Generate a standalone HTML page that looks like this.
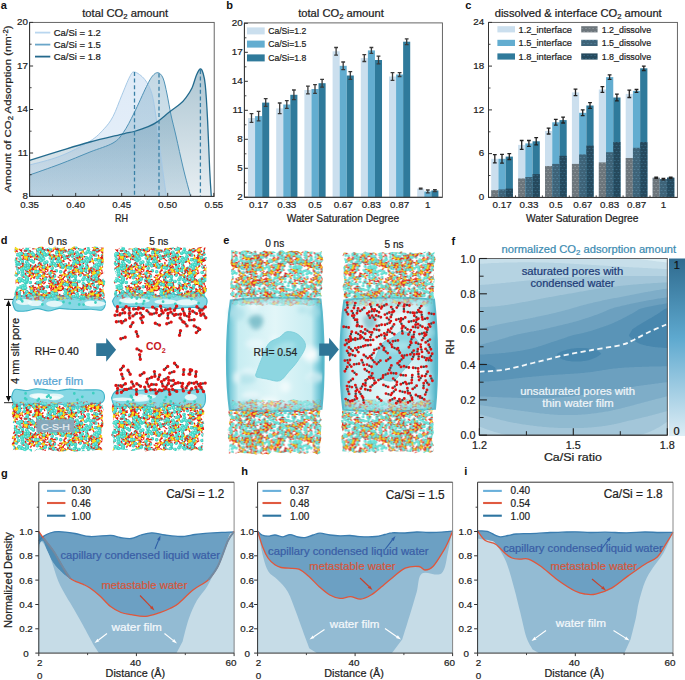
<!DOCTYPE html>
<html><head><meta charset="utf-8"><style>
html,body{margin:0;padding:0;background:#fff;}
svg{display:block;font-family:"Liberation Sans", sans-serif;}
</style></head><body>
<svg width="685" height="680" viewBox="0 0 685 680">
<rect width="685" height="680" fill="#fff"/>
<defs><pattern id="molD" width="96" height="56" patternUnits="userSpaceOnUse"><path d="M22.6 39.3h0M22.4 36.9h0M48.2 22.2h0M49.0 19.9h0M46.5 15.4h0M48.1 30.2h0M45.9 31.0h0M52.0 32.1h0M50.4 33.9h0M54.5 52.0h0M82.2 9.9h0M82.3 12.3h0M9.5 37.4h0M35.8 33.6h0M6.5 40.1h0M65.6 40.9h0M10.7 13.7h0M20.1 34.9h0M33.4 38.0h0M31.4 36.6h0M57.2 25.2h0M57.4 27.6h0M41.2 10.9h0M42.8 9.2h0M88.5 25.8h0M89.5 37.1h0M87.2 37.4h0M69.4 12.9h0M16.4 51.0h0M14.1 50.2h0M17.7 44.9h0M76.3 7.6h0M74.7 9.3h0M85.3 14.0h0M29.4 19.9h0M72.3 20.4h0M90.2 12.4h0M28.1 32.9h0M28.4 35.3h0M16.4 16.3h0M89.7 47.2h0M92.0 48.1h0M88.1 22.5h0M54.3 34.4h0M55.5 32.3h0M12.7 27.0h0M13.0 29.4h0M33.5 23.2h0M71.0 2.0h0M71.0 58.0h0M67.2 52.0h0M87.3 50.9h0M88.8 52.7h0M87.1 5.8h0M87.3 55.5h0M87.3 -0.5h0M65.4 27.0h0M36.7 3.2h0M64.0 3.6h0M61.6 3.4h0M1.5 12.8h0M97.5 12.8h0M3.8 12.3h0M11.0 43.1h0M25.4 26.5h0M27.1 24.9h0M76.5 32.8h0M93.3 4.8h0M38.4 9.0h0M27.8 48.3h0M95.8 31.0h0M-0.2 31.0h0M69.2 48.2h0M10.2 54.8h0M10.2 -1.2h0M12.6 54.3h0M12.6 -1.7h0M71.3 42.3h0M74.0 35.7h0M76.3 36.4h0M22.2 51.1h0M37.3 13.0h0M35.0 12.3h0M78.7 10.5h0M32.0 43.0h0M29.9 41.8h0M83.0 19.9h0M52.3 3.8h0M54.6 3.0h0M62.5 17.9h0M73.1 11.7h0M56.3 46.7h0M79.5 34.8h0M80.2 32.5h0M57.2 9.6h0M95.0 9.3h0M-1.0 9.3h0M97.1 8.0h0M1.1 8.0h0M36.0 20.5h0M4.3 21.7h0M13.4 18.5h0M40.2 18.5h0M2.8 0.1h0M2.8 56.1h0M69.9 7.0h0M69.0 9.2h0M77.7 16.1h0M77.0 13.9h0M70.5 24.3h0M72.5 23.0h0M96.0 24.0h0M-0.0 24.0h0M94.7 21.9h0M-1.3 21.9h0M11.8 30.3h0M31.9 6.7h0M31.2 9.0h0M58.4 17.6h0M73.8 16.5h0M71.5 17.3h0M31.9 50.1h0M75.5 55.8h0M75.5 -0.2h0M35.9 42.5h0M19.4 40.2h0M87.4 17.2h0M65.3 21.8h0M2.2 17.9h0M98.2 17.9h0M31.1 46.7h0M31.5 49.1h0M43.4 7.8h0M41.1 8.5h0M57.5 2.1h0M57.5 58.1h0M56.8 4.3h0M7.5 27.9h0M95.2 14.9h0M-0.8 14.9h0M43.1 0.3h0M43.1 56.3h0M68.3 32.5h0M50.5 53.0h0M62.6 43.4h0M13.6 21.8h0M11.6 9.5h0M75.9 23.4h0M75.1 21.2h0M37.3 53.8h0M37.3 -2.2h0M38.4 51.7h0M42.5 16.2h0M1.7 25.9h0M97.7 25.9h0M-0.7 25.6h0M95.3 25.6h0M80.2 51.1h0M6.5 31.5h0M77.0 45.5h0M74.9 44.3h0M60.5 25.8h0M62.9 25.7h0M16.1 41.6h0M83.3 3.7h0M85.1 5.3h0M29.3 27.5h0M27.3 55.9h0M27.3 -0.1h0M26.6 58.2h0M26.6 2.2h0M90.0 8.1h0M87.7 7.5h0M92.0 44.4h0M24.4 15.8h0M25.0 13.5h0M73.7 48.5h0M73.6 50.9h0M16.2 24.7h0M46.5 25.5h0M64.8 9.5h0M5.9 35.3h0M7.1 14.9h0M7.9 12.6h0M91.2 55.4h0M91.2 -0.6h0M68.8 55.1h0M68.8 -0.9h0M91.4 18.6h0M94.5 48.9h0M-1.5 48.9h0M96.7 48.0h0M0.7 48.0h0M10.2 17.1h0M11.5 19.1h0M39.3 40.1h0M68.2 9.7h0M70.4 10.7h0M44.0 50.0h0M8.0 7.1h0M9.0 4.9h0M49.7 0.4h0M49.7 56.4h0M86.5 40.0h0M95.9 0.9h0M95.9 56.9h0M-0.1 0.9h0M-0.1 56.9h0M93.5 1.4h0M93.5 57.4h0M36.9 17.1h0M34.7 16.0h0M83.9 6.8h0" stroke="#33bfb1" stroke-width="3.6" fill="none" stroke-linecap="round"/><path d="M22.6 39.3h0M22.4 36.9h0M48.2 22.2h0M49.0 19.9h0M46.5 15.4h0M48.1 30.2h0M45.9 31.0h0M52.0 32.1h0M50.4 33.9h0M54.5 52.0h0M82.2 9.9h0M82.3 12.3h0M9.5 37.4h0M35.8 33.6h0M6.5 40.1h0M65.6 40.9h0M10.7 13.7h0M20.1 34.9h0M33.4 38.0h0M31.4 36.6h0M57.2 25.2h0M57.4 27.6h0M41.2 10.9h0M42.8 9.2h0M88.5 25.8h0M89.5 37.1h0M87.2 37.4h0M69.4 12.9h0M16.4 51.0h0M14.1 50.2h0M17.7 44.9h0M76.3 7.6h0M74.7 9.3h0M85.3 14.0h0M29.4 19.9h0M72.3 20.4h0M90.2 12.4h0M28.1 32.9h0M28.4 35.3h0M16.4 16.3h0M89.7 47.2h0M92.0 48.1h0M88.1 22.5h0M54.3 34.4h0M55.5 32.3h0M12.7 27.0h0M13.0 29.4h0M33.5 23.2h0M71.0 2.0h0M71.0 58.0h0M67.2 52.0h0M87.3 50.9h0M88.8 52.7h0M87.1 5.8h0M87.3 55.5h0M87.3 -0.5h0M65.4 27.0h0M36.7 3.2h0M64.0 3.6h0M61.6 3.4h0M1.5 12.8h0M97.5 12.8h0M3.8 12.3h0M11.0 43.1h0M25.4 26.5h0M27.1 24.9h0M76.5 32.8h0M93.3 4.8h0M38.4 9.0h0M27.8 48.3h0M95.8 31.0h0M-0.2 31.0h0M69.2 48.2h0M10.2 54.8h0M10.2 -1.2h0M12.6 54.3h0M12.6 -1.7h0M71.3 42.3h0M74.0 35.7h0M76.3 36.4h0M22.2 51.1h0M37.3 13.0h0M35.0 12.3h0M78.7 10.5h0M32.0 43.0h0M29.9 41.8h0M83.0 19.9h0M52.3 3.8h0M54.6 3.0h0M62.5 17.9h0M73.1 11.7h0M56.3 46.7h0M79.5 34.8h0M80.2 32.5h0M57.2 9.6h0M95.0 9.3h0M-1.0 9.3h0M97.1 8.0h0M1.1 8.0h0M36.0 20.5h0M4.3 21.7h0M13.4 18.5h0M40.2 18.5h0M2.8 0.1h0M2.8 56.1h0M69.9 7.0h0M69.0 9.2h0M77.7 16.1h0M77.0 13.9h0M70.5 24.3h0M72.5 23.0h0M96.0 24.0h0M-0.0 24.0h0M94.7 21.9h0M-1.3 21.9h0M11.8 30.3h0M31.9 6.7h0M31.2 9.0h0M58.4 17.6h0M73.8 16.5h0M71.5 17.3h0M31.9 50.1h0M75.5 55.8h0M75.5 -0.2h0M35.9 42.5h0M19.4 40.2h0M87.4 17.2h0M65.3 21.8h0M2.2 17.9h0M98.2 17.9h0M31.1 46.7h0M31.5 49.1h0M43.4 7.8h0M41.1 8.5h0M57.5 2.1h0M57.5 58.1h0M56.8 4.3h0M7.5 27.9h0M95.2 14.9h0M-0.8 14.9h0M43.1 0.3h0M43.1 56.3h0M68.3 32.5h0M50.5 53.0h0M62.6 43.4h0M13.6 21.8h0M11.6 9.5h0M75.9 23.4h0M75.1 21.2h0M37.3 53.8h0M37.3 -2.2h0M38.4 51.7h0M42.5 16.2h0M1.7 25.9h0M97.7 25.9h0M-0.7 25.6h0M95.3 25.6h0M80.2 51.1h0M6.5 31.5h0M77.0 45.5h0M74.9 44.3h0M60.5 25.8h0M62.9 25.7h0M16.1 41.6h0M83.3 3.7h0M85.1 5.3h0M29.3 27.5h0M27.3 55.9h0M27.3 -0.1h0M26.6 58.2h0M26.6 2.2h0M90.0 8.1h0M87.7 7.5h0M92.0 44.4h0M24.4 15.8h0M25.0 13.5h0M73.7 48.5h0M73.6 50.9h0M16.2 24.7h0M46.5 25.5h0M64.8 9.5h0M5.9 35.3h0M7.1 14.9h0M7.9 12.6h0M91.2 55.4h0M91.2 -0.6h0M68.8 55.1h0M68.8 -0.9h0M91.4 18.6h0M94.5 48.9h0M-1.5 48.9h0M96.7 48.0h0M0.7 48.0h0M10.2 17.1h0M11.5 19.1h0M39.3 40.1h0M68.2 9.7h0M70.4 10.7h0M44.0 50.0h0M8.0 7.1h0M9.0 4.9h0M49.7 0.4h0M49.7 56.4h0M86.5 40.0h0M95.9 0.9h0M95.9 56.9h0M-0.1 0.9h0M-0.1 56.9h0M93.5 1.4h0M93.5 57.4h0M36.9 17.1h0M34.7 16.0h0M83.9 6.8h0" stroke="#48ddcc" stroke-width="2.8000000000000003" fill="none" stroke-linecap="round"/><path d="M22.1 38.8h0M21.9 36.4h0M47.7 21.7h0M48.5 19.4h0M46.0 14.9h0M47.6 29.7h0M45.4 30.5h0M51.5 31.6h0M49.9 33.4h0M54.0 51.5h0M81.7 9.4h0M81.8 11.8h0M9.0 36.9h0M35.3 33.1h0M6.0 39.6h0M65.1 40.4h0M10.2 13.2h0M19.6 34.4h0M32.9 37.5h0M30.9 36.1h0M56.7 24.7h0M56.9 27.1h0M40.7 10.4h0M42.3 8.7h0M88.0 25.3h0M89.0 36.6h0M86.7 36.9h0M68.9 12.4h0M15.9 50.5h0M13.6 49.7h0M17.2 44.4h0M75.8 7.1h0M74.2 8.8h0M84.8 13.5h0M28.9 19.4h0M71.8 19.9h0M89.7 11.9h0M27.6 32.4h0M27.9 34.8h0M15.9 15.8h0M89.2 46.7h0M91.5 47.6h0M87.6 22.0h0M53.8 33.9h0M55.0 31.8h0M12.2 26.5h0M12.5 28.9h0M33.0 22.7h0M70.5 1.5h0M70.5 57.5h0M66.7 51.5h0M86.8 50.4h0M88.3 52.2h0M86.6 5.3h0M86.8 55.0h0M86.8 -1.0h0M64.9 26.5h0M36.2 2.7h0M63.5 3.1h0M61.1 2.9h0M1.0 12.3h0M97.0 12.3h0M3.3 11.8h0M10.5 42.6h0M24.9 26.0h0M26.6 24.4h0M76.0 32.3h0M92.8 4.3h0M37.9 8.5h0M27.3 47.8h0M95.3 30.5h0M-0.7 30.5h0M68.7 47.7h0M9.7 54.3h0M9.7 -1.7h0M12.1 53.8h0M12.1 -2.2h0M70.8 41.8h0M73.5 35.2h0M75.8 35.9h0M21.7 50.6h0M36.8 12.5h0M34.5 11.8h0M78.2 10.0h0M31.5 42.5h0M29.4 41.3h0M82.5 19.4h0M51.8 3.3h0M54.1 2.5h0M62.0 17.4h0M72.6 11.2h0M55.8 46.2h0M79.0 34.3h0M79.7 32.0h0M56.7 9.1h0M94.5 8.8h0M-1.5 8.8h0M96.6 7.5h0M0.6 7.5h0M35.5 20.0h0M3.8 21.2h0M12.9 18.0h0M39.7 18.0h0M2.3 -0.4h0M2.3 55.6h0M69.4 6.5h0M68.5 8.7h0M77.2 15.6h0M76.5 13.4h0M70.0 23.8h0M72.0 22.5h0M95.5 23.5h0M-0.5 23.5h0M94.2 21.4h0M-1.8 21.4h0M11.3 29.8h0M31.4 6.2h0M30.7 8.5h0M57.9 17.1h0M73.3 16.0h0M71.0 16.8h0M31.4 49.6h0M75.0 55.3h0M75.0 -0.7h0M35.4 42.0h0M18.9 39.7h0M86.9 16.7h0M64.8 21.3h0M1.7 17.4h0M97.7 17.4h0M30.6 46.2h0M31.0 48.6h0M42.9 7.3h0M40.6 8.0h0M57.0 1.6h0M57.0 57.6h0M56.3 3.8h0M7.0 27.4h0M94.7 14.4h0M-1.3 14.4h0M42.6 -0.2h0M42.6 55.8h0M67.8 32.0h0M50.0 52.5h0M62.1 42.9h0M13.1 21.3h0M11.1 9.0h0M75.4 22.9h0M74.6 20.7h0M36.8 53.3h0M36.8 -2.7h0M37.9 51.2h0M42.0 15.7h0M1.2 25.4h0M97.2 25.4h0M-1.2 25.1h0M94.8 25.1h0M79.7 50.6h0M6.0 31.0h0M76.5 45.0h0M74.4 43.8h0M60.0 25.3h0M62.4 25.2h0M15.6 41.1h0M82.8 3.2h0M84.6 4.8h0M28.8 27.0h0M26.8 55.4h0M26.8 -0.6h0M26.1 57.7h0M26.1 1.7h0M89.5 7.6h0M87.2 7.0h0M91.5 43.9h0M23.9 15.3h0M24.5 13.0h0M73.2 48.0h0M73.1 50.4h0M15.7 24.2h0M46.0 25.0h0M64.3 9.0h0M5.4 34.8h0M6.6 14.4h0M7.4 12.1h0M90.7 54.9h0M90.7 -1.1h0M68.3 54.6h0M68.3 -1.4h0M90.9 18.1h0M94.0 48.4h0M-2.0 48.4h0M96.2 47.5h0M0.2 47.5h0M9.7 16.6h0M11.0 18.6h0M38.8 39.6h0M67.7 9.2h0M69.9 10.2h0M43.5 49.5h0M7.5 6.6h0M8.5 4.4h0M49.2 -0.1h0M49.2 55.9h0M86.0 39.5h0M95.4 0.4h0M95.4 56.4h0M-0.6 0.4h0M-0.6 56.4h0M93.0 0.9h0M93.0 56.9h0M36.4 16.6h0M34.2 15.5h0M83.4 6.3h0" stroke="#9ff0e8" stroke-width="1.1" fill="none" stroke-linecap="round"/><path d="M56.9 10.3l1.9 -1.1M56.5 11.7l1.2 1.4M54.8 11.7l-1.7 1.3M54.9 9.9l-1.6 -1.8M5.8 11.1l-1.7 0.6M7.2 9.9l0.7 -1.7M7.4 11.7l1.2 1.6M6.7 27.2l1.3 1.8M4.8 26.5l-2.3 0.5M6.1 25.1l0.2 -1.9M39.6 22.9l-1.8 0.4M39.7 21.8l-1.7 -1.5M41.5 22.0l1.6 -1.1M41.4 23.6l1.5 1.7M95.8 24.3l2.2 0.3M-0.2 24.3l2.2 0.3M94.0 25.1l-1.1 1.6M-2.0 25.1l-1.1 1.6M93.6 23.6l-1.7 -1.0M-2.4 23.6l-1.7 -1.0M95.1 23.0l0.9 -2.1M-0.9 23.0l0.9 -2.1M28.7 48.1l-2.1 -1.1M29.7 47.5l-0.3 -2.1M31.1 49.0l2.2 0.5M29.7 50.0l-0.3 2.3M65.4 33.3l1.0 -1.5M66.1 34.3l2.3 0.3M64.2 35.3l-1.2 2.0M63.6 33.7l-2.2 -0.7M13.1 54.7l-0.4 2.0M13.1 -1.3l-0.4 2.0M12.6 52.9l-1.5 -1.2M12.6 -3.1l-1.5 -1.2M13.6 52.6l0.4 -1.8M13.6 -3.4l0.4 -1.8M14.1 54.3l1.2 1.3M14.1 -1.7l1.2 1.3M88.8 14.6l-2.0 1.0M90.4 13.0l0.8 -1.7M91.2 14.5l2.2 0.9M17.6 -0.2l1.2 -1.7M17.6 55.8l1.2 -1.7M17.5 1.6l1.1 1.5M17.5 57.6l1.1 1.5M16.3 1.9l-1.0 1.9M16.3 57.9l-1.0 1.9M16.0 0.0l-1.6 -1.3M16.0 56.0l-1.6 -1.3M31.6 53.4l-0.9 1.7M31.6 -2.6l-0.9 1.7M31.1 51.7l-1.7 -1.5M31.1 -4.3l-1.7 -1.5M32.7 51.6l1.0 -1.5M32.7 -4.4l1.0 -1.5M32.8 53.1l1.3 1.2M32.8 -2.9l1.3 1.2M11.9 2.6l0.4 2.3M11.9 58.6l0.4 2.3M10.5 1.7l-2.1 0.6M10.5 57.7l-2.1 0.6M11.1 0.4l-1.0 -1.7M11.1 56.4l-1.0 -1.7M12.7 1.1l1.8 -0.5M12.7 57.1l1.8 -0.5M28.8 15.6l-0.2 2.2M27.9 14.9l-1.9 1.0M28.4 13.1l-1.0 -2.1M29.8 14.0l1.6 -0.6M53.2 10.1l0.3 -2.4M53.6 12.3l0.9 1.4M52.0 11.9l-1.8 0.9M25.1 34.3l-2.1 -0.4M26.4 33.2l0.2 -2.3M26.8 35.4l0.9 1.5M7.6 35.7l-1.2 1.3M7.4 34.2l-1.5 -1.3M8.6 34.0l0.7 -1.7M9.5 35.4l2.2 0.7M8.2 12.2l-1.8 -1.5M10.5 13.2l2.2 0.3M9.1 14.0l-0.3 1.7M95.2 49.0l1.0 -2.1M-0.8 49.0l1.0 -2.1M95.8 50.1l2.1 -0.1M-0.2 50.1l2.1 -0.1M94.8 51.5l0.3 2.3M-1.2 51.5l0.3 2.3M93.7 49.9l-1.7 -0.5M-2.3 49.9l-1.7 -0.5M64.5 51.2l2.0 0.7M62.0 51.1l-2.4 0.4M63.7 49.5l0.6 -2.4M39.3 8.2l1.1 1.3M37.8 8.1l-1.5 1.1M38.6 6.2l-0.1 -2.3M63.4 20.2l0.7 -1.8M64.0 20.9l1.8 -0.6M62.6 22.3l-0.7 1.9M62.0 21.4l-1.7 0.4M16.9 24.0l1.9 -1.1M16.3 25.7l1.0 2.0M14.6 24.5l-2.1 -0.2M2.9 51.2l-0.6 2.1M98.9 51.2l-0.6 2.1M2.5 49.0l-1.3 -1.7M98.5 49.0l-1.3 -1.7M4.5 49.6l2.3 -0.6M100.5 49.6l2.3 -0.6M44.3 51.1l0.6 -2.1M44.3 -4.9l0.6 -2.1M45.1 52.6l2.1 0.6M45.1 -3.4l2.1 0.6M43.3 53.4l-1.2 2.0M43.3 -2.6l-1.2 2.0M42.7 51.9l-2.3 -0.6M42.7 -4.1l-2.3 -0.6M3.4 3.9l-1.4 1.4M3.4 59.9l-1.4 1.4M3.5 2.1l-1.2 -1.9M3.5 58.1l-1.2 -1.9M5.4 3.4l2.1 0.5M5.4 59.4l2.1 0.5M72.8 24.6l2.2 -0.0M71.9 25.6l0.7 1.8M70.4 24.5l-2.1 -0.0M71.3 23.2l-0.5 -2.3M41.6 48.1l2.2 0.1M39.4 48.7l-1.8 1.0M40.1 47.0l-0.4 -1.9M28.1 21.5l0.7 1.9M26.8 20.8l-1.6 0.7M27.9 19.5l0.3 -1.7M29.0 20.4l2.3 -0.0M44.5 46.4l1.7 1.5M42.3 45.9l-2.2 0.6M43.1 44.5l-0.7 -1.9M44.8 45.4l2.2 -0.4M72.4 51.5l-1.5 0.9M72.6 49.9l-1.2 -2.0M74.2 51.0l1.8 -0.0M70.4 29.2l1.9 -0.8M69.8 30.4l0.9 1.4M68.7 30.7l-1.0 1.8M68.8 28.8l-0.8 -1.5M14.9 28.9l1.3 1.6M13.3 28.4l-1.6 0.7M13.5 26.9l-1.2 -2.0M15.1 27.6l1.7 -0.6M1.4 56.0l1.7 1.6M1.4 0.0l1.7 1.6M97.4 56.0l1.7 1.6M97.4 0.0l1.7 1.6M-0.7 55.6l-2.1 0.8M-0.7 -0.4l-2.1 0.8M95.3 55.6l-2.1 0.8M95.3 -0.4l-2.1 0.8M1.2 54.4l1.3 -1.3M1.2 -1.6l1.3 -1.3M97.2 54.4l1.3 -1.3M97.2 -1.6l1.3 -1.3M81.8 18.8l-1.8 1.5M81.9 17.5l-1.7 -0.8M83.3 16.7l0.9 -2.2M83.8 18.5l1.7 1.0M75.3 36.2l-1.0 -1.4M77.2 37.3l2.3 0.6M75.0 37.4l-1.7 0.8M44.0 52.4l2.1 1.0M41.7 51.8l-2.0 0.0M43.3 50.9l0.9 -1.7M58.2 28.4l-2.1 0.5M58.7 27.0l-1.1 -1.9M60.2 27.1l1.6 -1.7M59.7 29.3l0.7 2.2M74.0 10.0l-1.9 0.6M75.2 8.4l0.1 -2.2M76.1 10.3l1.7 1.2M67.7 14.1l1.1 2.0M66.2 13.3l-1.7 0.7M66.9 11.9l-0.4 -1.9M68.1 12.4l1.7 -1.1M67.1 3.1l-0.4 1.7M67.1 59.1l-0.4 1.7M66.4 1.7l-1.7 -0.9M66.4 57.7l-1.7 -0.9M67.6 1.2l0.5 -1.7M67.6 57.2l0.5 -1.7M68.0 3.0l1.3 1.5M68.0 59.0l1.3 1.5M21.9 43.4l0.8 -2.3M21.9 45.7l0.8 1.7M20.3 44.4l-2.0 -0.6M84.3 7.0l-1.0 -1.9M85.8 7.3l1.6 -1.4M85.8 8.7l1.6 1.1M84.4 9.2l-0.9 2.0M50.7 49.5l1.8 -0.8M49.5 51.0l-0.4 1.8M48.7 50.1l-1.8 0.3M50.2 48.7l0.8 -2.2M7.1 30.9l-1.3 1.3M7.1 29.5l-1.2 -1.1M8.9 30.4l1.9 0.4M44.6 41.3l0.8 -2.1M45.2 42.8l1.9 0.6M43.6 43.4l-0.9 1.6M43.0 41.9l-2.0 -1.1M7.5 12.0l0.7 1.6M6.0 10.4l-2.0 -1.3M7.9 10.5l1.5 -1.0M37.6 51.3l1.8 0.4M35.7 51.9l-1.5 1.6M35.8 50.3l-1.2 -1.2M36.8 49.9l0.5 -2.1M72.0 47.1l1.2 -1.4M71.5 49.2l0.3 2.2M70.4 48.2l-1.6 0.6M16.5 35.9l0.4 -2.1M17.4 37.4l2.0 0.5M15.6 37.8l-1.2 1.3M15.0 36.7l-2.2 -0.6M51.4 17.8l1.6 -1.3M51.5 19.2l1.7 1.2M49.8 19.5l-1.4 1.7M49.8 17.5l-1.2 -1.8M23.8 30.5l-1.1 -1.9M25.3 31.1l1.6 -0.9M25.0 32.6l1.0 1.8M23.2 31.6l-2.2 0.1M68.2 8.1l-0.9 1.5M68.1 6.2l-0.9 -1.9M69.8 7.4l2.0 0.2M54.3 5.6l1.4 -1.2M54.4 6.8l1.5 0.8M52.5 7.2l-1.8 1.5M52.9 5.3l-1.2 -1.8M76.2 46.5l-1.0 -1.5M77.9 47.8l2.1 0.8M75.6 48.0l-2.0 1.2M79.8 34.3l-0.0 -2.2M80.7 36.0l1.6 0.8M79.6 36.5l-0.5 1.8M78.8 34.8l-1.9 -1.2M32.2 7.5l1.0 -2.0M32.8 8.8l2.1 0.4M31.4 9.7l-0.3 2.0M30.8 7.9l-1.4 -1.3M3.6 36.4l0.2 1.8M99.6 36.4l0.2 1.8M2.4 35.2l-2.1 -0.3M98.4 35.2l-2.1 -0.3M4.2 34.6l1.2 -1.3M100.2 34.6l1.2 -1.3M44.3 16.8l0.4 1.9M43.0 15.6l-1.9 -0.2M43.7 14.6l-0.7 -1.9M45.1 15.6l1.7 -0.2M71.3 29.7l-2.1 0.5M72.9 28.4l0.7 -1.8M73.6 29.2l2.0 -0.4M73.0 30.7l0.9 2.1M34.6 11.0l-1.0 -2.1M36.0 11.7l1.5 -0.8M35.7 13.3l0.9 2.0M33.9 12.5l-2.2 0.5M66.7 43.8l1.9 0.2M65.5 44.9l-0.3 2.1M64.8 43.1l-1.5 -1.0M66.0 42.8l0.7 -1.7M2.3 13.9l1.2 -1.7M98.3 13.9l1.2 -1.7M2.9 14.8l2.3 0.0M98.9 14.8l2.3 0.0M1.0 15.8l-1.1 1.7M97.0 15.8l-1.1 1.7M0.3 14.9l-2.3 0.0M96.3 14.9l-2.3 0.0M51.4 54.3l-1.6 -1.4M51.4 -1.7l-1.6 -1.4M52.7 53.8l0.6 -2.3M52.7 -2.2l0.6 -2.3M53.7 55.3l2.4 0.3M53.7 -0.7l2.4 0.3M51.8 56.0l-0.9 1.6M51.8 0.0l-0.9 1.6M93.7 48.4l-1.7 -0.1M-2.3 48.4l-1.7 -0.1M94.4 47.5l-0.5 -1.8M-1.6 47.5l-0.5 -1.8M95.9 48.6l2.2 0.2M-0.1 48.6l2.2 0.2M94.8 49.6l0.3 2.0M-1.2 49.6l0.3 2.0M18.1 17.5l1.6 -0.7M18.1 18.9l1.6 1.6M16.0 18.6l-2.1 1.1M16.9 16.8l-0.5 -2.0M39.8 43.6l-0.6 1.6M39.2 42.7l-1.7 0.0M40.5 41.5l0.5 -2.1M41.2 43.4l1.8 1.3M92.1 15.4l-0.7 2.0M-3.9 15.4l-0.7 2.0M91.8 13.4l-1.3 -1.5M-4.2 13.4l-1.3 -1.5M92.6 13.2l0.2 -1.9M-3.4 13.2l0.2 -1.9M93.6 14.9l1.9 1.0M-2.4 14.9l1.9 1.0M13.8 15.3l-1.7 -1.2M15.9 15.2l2.1 -1.3M14.5 17.2l-0.4 2.2M51.9 4.8l1.6 0.7M50.3 5.2l-1.3 1.4M50.2 4.0l-1.5 -0.8M51.8 3.9l1.4 -1.0M61.3 53.0l1.3 -1.9M61.3 -3.0l1.3 -1.9M61.6 54.6l1.7 0.9M61.6 -1.4l1.7 0.9M60.0 55.1l-1.0 1.8M60.0 -0.9l-1.0 1.8M59.7 53.7l-1.6 -0.7M59.7 -2.3l-1.6 -0.7M59.8 3.8l-2.3 -0.0M59.8 59.8l-2.3 -0.0M61.1 2.8l-0.1 -1.7M61.1 58.8l-0.1 -1.7M62.3 3.4l2.0 -0.8M62.3 59.4l2.0 -0.8M61.6 4.7l0.8 1.6M61.6 60.7l0.8 1.6M94.1 27.3l1.4 -1.4M-1.9 27.3l1.4 -1.4M93.9 28.8l1.1 1.3M-2.1 28.8l1.1 1.3M92.2 28.3l-2.0 0.4M-3.8 28.3l-2.0 0.4M59.2 7.4l1.4 -1.8M59.1 9.2l1.2 1.3M57.3 9.1l-2.0 1.3M57.5 7.7l-1.7 -1.3M50.5 27.8l1.7 -0.5M49.7 29.3l0.3 2.1M48.8 27.5l-1.3 -1.1M34.4 45.1l-1.7 0.7M34.8 43.8l-0.9 -1.6M36.3 43.8l1.8 -1.6M36.1 45.8l1.3 2.0M89.8 44.4l2.1 -0.4M88.9 45.9l0.5 2.2M87.5 44.5l-2.0 -0.2M88.3 43.4l-0.6 -2.2M81.8 37.8l1.8 1.6M79.7 36.8l-1.9 -0.1M81.5 36.2l1.3 -1.1M34.7 33.8l0.0 2.0M33.4 32.7l-2.4 0.1M35.3 31.7l1.1 -1.7M1.9 14.7l0.5 -2.0M97.9 14.7l0.5 -2.0M2.8 15.9l2.0 0.1M98.8 15.9l2.0 0.1M2.0 17.1l0.6 2.2M98.0 17.1l0.6 2.2M0.4 15.4l-2.2 -0.8M96.4 15.4l-2.2 -0.8M72.0 6.7l0.7 2.1M70.8 6.0l-1.4 1.0M71.2 4.6l-0.7 -1.6M72.7 4.8l1.9 -1.2M76.0 45.1l-1.5 -1.6M78.1 45.8l2.2 -0.4M76.5 47.1l-0.7 1.8M65.0 22.3l2.2 0.2M63.6 23.5l-0.2 2.3M62.6 21.8l-2.1 -0.7M63.9 21.0l0.2 -2.1M69.7 42.0l1.3 1.1M67.8 41.8l-2.1 0.8M68.9 40.3l-0.0 -1.8M40.8 -0.3l-0.9 -1.6M40.8 55.7l-0.9 -1.6M42.1 -0.4l1.5 -1.9M42.1 55.6l1.5 -1.9M41.6 1.6l0.6 1.6M41.6 57.6l0.6 1.6M40.3 1.4l-1.8 1.3M40.3 57.4l-1.8 1.3M58.7 22.8l0.2 1.8M57.4 21.6l-2.0 -0.2M58.7 20.5l0.2 -2.2M59.8 21.4l2.1 -0.5M20.4 21.6l-2.0 -0.3M22.2 20.9l1.2 -1.5M22.1 22.7l0.9 1.6M59.1 42.1l-2.0 0.2M60.8 40.8l1.0 -2.2M61.3 42.3l1.8 0.5M50.7 13.2l-1.6 1.0M51.4 11.5l-0.4 -2.1M52.9 12.9l2.2 0.4M60.4 30.1l0.5 -1.6M61.2 31.3l1.8 0.5M59.5 32.1l-1.1 1.8M59.4 30.4l-1.3 -1.2M29.6 30.1l-2.0 -0.4M31.3 29.6l1.1 -1.4M31.8 30.4l2.1 0.1M30.7 31.5l0.0 1.9M24.3 44.1l0.7 1.6M22.7 43.1l-2.1 -0.1M24.3 42.2l0.7 -1.7M8.7 3.7l-0.5 2.2M8.7 59.7l-0.5 2.2M8.0 2.3l-1.9 -0.4M8.0 58.3l-1.9 -0.4M9.2 1.2l0.3 -2.3M9.2 57.2l0.3 -2.3M10.2 2.8l2.1 0.6M10.2 58.8l2.1 0.6M7.2 2.4l1.7 -1.0M7.2 58.4l1.7 -1.0M6.7 4.2l0.7 2.2M6.7 60.2l0.7 2.2M5.3 3.3l-1.8 0.7M5.3 59.3l-1.8 0.7M5.7 1.8l-1.1 -2.1M5.7 57.8l-1.1 -2.1M27.6 32.8l1.6 -0.8M27.0 34.2l0.5 1.7M26.0 34.0l-1.1 1.3M26.0 32.1l-1.1 -2.0M48.8 43.2l1.8 -0.8M47.8 44.9l-0.1 2.2M46.6 44.1l-2.2 0.8M47.7 42.4l-0.2 -2.3M92.9 12.7l-0.8 -1.8M-3.1 12.7l-0.8 -1.8M94.1 12.6l1.4 -1.8M-1.9 12.6l1.4 -1.8M93.6 14.7l0.5 1.9M-2.4 14.7l0.5 1.9M92.5 14.2l-1.4 1.0M-3.5 14.2l-1.4 1.0M90.1 5.2l0.9 1.7M88.4 4.5l-2.2 0.3M89.1 3.5l-1.0 -1.4M90.8 4.0l2.2 -0.6M15.6 11.3l1.8 1.1M13.5 11.2l-2.1 0.9M14.2 9.8l-0.7 -1.5M41.8 28.4l-1.6 -1.3M43.4 28.3l1.2 -1.5M42.9 30.2l0.4 1.9M41.8 30.1l-1.6 1.8M68.8 21.5l-1.3 -1.3M70.4 21.9l1.7 -0.6M69.2 23.6l-0.4 2.4M84.7 14.8l1.5 -1.3M84.9 16.3l1.8 1.3M82.9 15.3l-1.7 -0.3M7.0 22.0l0.8 2.3M5.5 21.2l-1.8 0.8M6.0 19.8l-1.0 -1.6M7.7 20.4l2.1 -0.6M52.1 47.7l0.1 -1.7M53.1 49.2l2.0 1.1M51.1 49.1l-1.5 0.9M24.1 40.5l-1.9 -1.2M26.1 40.5l1.6 -1.2M26.1 42.2l1.6 1.7M24.0 41.9l-2.1 1.2M10.0 22.4l-1.7 1.2M10.8 20.6l-0.4 -2.1M12.3 22.0l2.4 0.4M72.8 21.7l-1.1 -1.5M74.5 21.8l2.0 -1.4M74.1 23.5l1.2 1.7M72.3 22.8l-2.0 0.5M72.8 12.0l1.5 1.6M71.7 12.3l-0.5 2.2M71.1 10.8l-1.6 -0.6M72.9 10.2l1.7 -1.7M35.6 16.8l1.5 1.0M34.8 17.4l0.1 2.1M33.8 15.7l-1.7 -1.0M34.7 15.0l-0.1 -2.2M95.2 48.7l1.7 1.7M-0.8 48.7l1.7 1.7M93.3 48.1l-1.7 0.8M-2.7 48.1l-1.7 0.8M94.2 46.6l-0.2 -1.9M-1.8 46.6l-0.2 -1.9M41.7 25.5l0.7 -1.9M42.6 26.2l2.3 -0.6M40.9 27.6l-0.7 1.8M40.0 26.2l-2.3 -0.7M92.3 48.6l-1.0 -2.1M-3.7 48.6l-1.0 -2.1M93.5 49.0l1.1 -1.4M-2.5 49.0l1.1 -1.4M93.9 50.3l1.8 0.8M-2.1 50.3l1.8 0.8M92.3 50.8l-1.1 1.6M-3.7 50.8l-1.1 1.6M26.7 43.9l-1.3 -1.8M28.8 45.2l2.4 0.5M26.7 45.6l-1.3 1.3M16.8 24.5l-0.2 1.7M15.6 23.5l-2.4 -0.2M16.9 22.5l-0.1 -2.1M18.0 24.1l1.9 0.9M25.9 33.2l1.2 -1.1M26.0 34.8l1.4 1.8M24.3 34.3l-1.6 0.9M24.5 33.1l-1.3 -1.3M58.9 40.6l-1.9 -0.4M59.8 39.7l-0.4 -2.0M61.2 40.7l2.2 -0.3M60.1 41.9l0.1 2.0M2.1 18.1l1.7 1.5M98.1 18.1l1.7 1.5M0.1 17.9l-1.9 1.0M96.1 17.9l-1.9 1.0M0.0 16.8l-2.1 -0.8M96.0 16.8l-2.1 -0.8M2.3 16.6l1.9 -1.2M98.3 16.6l1.9 -1.2M75.0 40.9l-1.3 1.3M75.3 39.1l-0.9 -1.9M76.9 40.1l1.9 -0.0M76.3 41.3l1.0 2.0M26.8 21.5l-2.0 0.7M27.4 20.0l-1.0 -2.1M28.7 21.9l1.3 1.3M10.0 37.7l2.1 -0.6M9.3 39.0l0.7 1.6M7.5 38.0l-2.4 -0.0M8.4 37.1l-0.8 -1.7M59.7 9.3l-1.0 1.5M60.3 7.4l0.1 -2.0M61.5 8.4l2.2 -0.1M40.6 33.2l1.8 0.5M39.1 34.1l-0.9 2.1M38.5 32.8l-1.8 -0.2M39.4 31.7l-0.3 -2.1M68.1 4.5l1.2 1.4M68.1 60.5l1.2 1.4M66.5 4.5l-1.6 1.4M66.5 60.5l-1.6 1.4M66.3 3.3l-1.9 -0.8M66.3 59.3l-1.9 -0.8M68.0 3.0l1.2 -1.2M68.0 59.0l1.2 -1.2M13.3 22.0l1.0 2.0M11.6 21.1l-1.9 0.4M12.4 20.0l-0.6 -1.7M13.8 20.8l1.9 -0.2M4.6 43.6l-1.1 -1.5M6.2 43.4l1.6 -1.7M5.5 45.4l0.5 1.9M4.2 45.0l-1.9 1.2M68.8 16.1l-1.7 0.3M70.6 15.0l1.5 -1.5M70.4 17.0l1.1 2.0M17.9 23.2l-0.6 -1.8M19.2 23.8l1.9 -0.8M19.1 25.0l1.6 1.5M17.4 25.3l-1.5 1.9M14.1 46.2l0.5 1.9M12.9 45.8l-1.5 1.1M13.0 44.5l-1.4 -1.3M14.5 44.3l1.3 -1.5M13.0 7.5l0.6 -1.9M13.6 9.0l1.8 0.8M12.1 9.6l-1.0 1.8M11.6 7.8l-1.8 -1.4M35.9 23.1l-0.2 -1.8M37.0 23.3l1.7 -1.5M36.4 25.3l0.7 2.2M34.9 24.4l-2.0 0.4M11.7 18.0l0.8 2.1M9.9 17.2l-2.3 0.7M11.4 15.7l0.5 -1.9M12.2 16.9l1.8 0.2M64.2 17.2l-1.1 -1.7M66.0 18.2l2.0 0.1M64.1 19.2l-1.3 1.9M41.5 5.1l1.3 1.6M39.8 4.2l-1.7 0.0M41.7 3.3l1.7 -1.7M83.0 24.9l2.1 0.2M82.4 25.6l0.9 1.5M80.6 24.8l-2.3 -0.1M81.6 23.5l-0.4 -2.4M52.1 39.8l-0.8 -2.2M53.4 40.5l1.5 -1.0M52.6 42.2l0.1 2.0M51.5 41.4l-1.9 0.6M60.9 37.3l0.1 2.0M59.5 35.9l-2.3 -0.6M61.0 35.0l0.4 -2.1M62.0 36.7l2.1 0.9M40.1 23.5l-1.5 1.8M40.4 21.7l-0.9 -1.5M41.8 23.1l1.5 0.9M17.3 15.6l-1.8 -1.3M18.9 15.5l0.9 -1.4M19.6 16.3l2.2 0.0M17.7 17.3l-1.2 1.9M36.0 21.7l-1.2 1.3M36.4 20.0l-0.5 -1.8M37.9 20.7l2.1 -0.5M51.7 33.9l-0.2 1.7M50.9 32.0l-1.8 -1.5M52.9 32.8l1.8 -0.2M6.9 27.5l0.7 2.2M5.4 26.2l-1.8 -0.1M6.9 25.3l0.8 -1.8M8.0 24.4l0.6 -2.2M8.4 26.3l1.3 1.2M7.0 26.4l-1.1 1.3M6.8 24.9l-1.4 -1.3M84.4 45.6l0.5 -1.8M84.9 47.3l1.4 1.2M83.3 47.2l-1.4 1.0M83.5 45.6l-1.2 -1.8M82.4 26.7l-0.3 -1.9M83.5 28.4l1.5 1.1M81.8 28.3l-1.4 1.0M6.0 35.4l-1.6 -1.6M8.0 36.4l1.9 0.2M6.2 37.3l-1.3 1.8M74.6 45.8l-1.7 0.5M75.6 44.6l0.1 -1.7M76.3 46.2l1.3 1.1M60.5 17.4l-0.9 -2.0M61.5 17.6l0.9 -1.7M61.9 19.1l1.7 0.9M60.3 19.4l-1.1 1.4M14.6 11.6l1.9 1.2M13.0 11.7l-1.0 1.5M12.5 10.1l-1.9 -1.4M14.3 9.8l1.3 -2.0M30.0 45.6l0.1 2.3M29.1 43.8l-1.5 -1.1M30.3 43.1l0.5 -2.2M31.0 44.6l1.9 0.4M97.2 50.8l2.4 0.2M1.2 50.8l2.4 0.2M95.6 52.0l-0.6 2.3M-0.4 52.0l-0.6 2.3M94.6 50.3l-2.3 -0.7M-1.4 50.3l-2.3 -0.7M96.6 49.7l1.3 -1.8M0.6 49.7l1.3 -1.8M80.8 47.8l1.0 -1.4M81.3 48.9l1.8 0.8M79.6 49.4l-1.1 1.5M79.3 48.0l-1.7 -1.0M26.0 51.4l-0.6 -2.3M26.0 -4.6l-0.6 -2.3M27.4 52.4l1.9 -0.6M27.4 -3.6l1.9 -0.6M26.3 53.7l-0.1 1.7M26.3 -2.3l-0.1 1.7M25.2 52.9l-2.1 0.3M25.2 -3.1l-2.1 0.3M87.9 50.4l1.1 -1.3M87.7 52.0l0.7 1.6M86.0 51.1l-2.3 -0.1M22.1 8.6l-1.1 -2.1M23.8 9.6l1.9 -0.3M23.2 11.0l0.8 2.2M21.8 10.1l-1.6 0.5M3.5 46.5l1.1 -1.9M99.5 46.5l1.1 -1.9M3.8 48.4l1.7 1.4M99.8 48.4l1.7 1.4M2.0 48.7l-1.5 1.9M98.0 48.7l-1.5 1.9M1.9 46.8l-1.8 -1.4M97.9 46.8l-1.8 -1.4M91.5 37.4l-2.0 0.7M-4.5 37.4l-2.0 0.7M92.4 36.1l-0.3 -1.8M-3.6 36.1l-0.3 -1.8M93.8 36.5l2.1 -1.0M-2.2 36.5l2.1 -1.0M93.1 38.1l0.9 1.9M-2.9 38.1l0.9 1.9M81.1 32.6l-1.9 0.6M81.9 31.1l-0.4 -2.1M83.5 32.5l2.3 0.4M82.4 33.3l0.4 1.9M6.4 4.3l-2.4 0.0M8.3 3.1l1.0 -2.1M8.5 5.1l1.2 1.4M71.8 24.3l0.5 1.6M70.6 23.4l-1.7 -0.0M72.7 23.0l1.9 -0.8M53.6 25.1l-0.3 1.8M52.5 23.6l-2.2 -0.9M53.8 22.9l0.1 -2.0M54.8 24.7l1.9 1.0M60.4 23.4l-0.9 -1.7M62.2 24.1l2.2 -0.5M61.2 25.6l0.6 2.2M59.7 24.2l-2.2 -0.4M14.8 17.9l-0.7 1.6M14.0 17.3l-2.2 0.5M15.6 15.8l0.7 -2.1M16.2 16.8l1.8 -0.3M65.5 51.8l-1.4 1.5M65.6 50.2l-1.3 -1.3M67.2 50.6l1.6 -0.5M14.2 49.9l-1.6 1.6M15.2 48.0l0.0 -1.7M16.3 49.3l2.0 0.5M58.1 18.0l-0.4 2.1M57.5 16.1l-1.5 -1.4M58.8 16.0l0.9 -1.6M59.5 17.4l2.1 1.0M55.3 32.0l-2.0 -1.2M57.6 32.2l2.2 -0.7M56.1 33.7l-0.6 1.9M55.7 10.7l-0.3 1.7M54.7 9.7l-2.1 -0.1M55.9 8.5l0.1 -2.1M56.8 9.9l1.7 0.3M2.6 32.8l-0.1 -1.7M98.6 32.8l-0.1 -1.7M3.9 34.1l2.3 0.5M99.9 34.1l2.3 0.5M1.8 34.4l-1.5 1.1M97.8 34.4l-1.5 1.1M39.1 13.3l-0.2 -2.2M40.4 14.8l2.0 0.4M39.0 15.7l-0.3 2.0M38.3 14.8l-1.6 0.5M47.6 13.2l2.0 -0.5M45.7 14.4l-1.4 1.6M46.3 12.6l-0.2 -1.7M36.2 20.2l-0.9 -1.6M37.5 20.3l1.3 -1.5M37.7 22.1l1.7 1.6M36.2 22.4l-1.0 2.2M75.1 3.2l2.2 0.2M75.1 59.2l2.2 0.2M72.9 3.9l-1.7 1.5M72.9 59.9l-1.7 1.5M72.5 2.6l-2.3 -0.8M72.5 58.6l-2.3 -0.8M74.4 2.0l1.0 -1.9M74.4 58.0l1.0 -1.9M60.5 4.4l0.8 -2.1M61.2 6.1l2.1 1.0M59.2 6.4l-1.6 1.7M59.0 5.0l-1.9 -0.9M88.1 17.6l-0.1 1.9M87.2 16.0l-1.6 -1.0M88.4 15.5l0.4 -2.0M89.2 16.6l1.9 0.0M3.1 3.1l-0.2 2.3M3.1 59.1l-0.2 2.3M99.1 3.1l-0.2 2.3M99.1 59.1l-0.2 2.3M1.9 1.8l-2.4 0.1M1.9 57.8l-2.4 0.1M97.9 1.8l-2.4 0.1M97.9 57.8l-2.4 0.1M3.0 0.5l-0.4 -2.2M3.0 56.5l-0.4 -2.2M99.0 0.5l-0.4 -2.2M99.0 56.5l-0.4 -2.2M4.1 1.5l1.6 -0.4M4.1 57.5l1.6 -0.4M100.1 1.5l1.6 -0.4M100.1 57.5l1.6 -0.4M76.8 7.3l-2.1 0.3M77.7 6.0l-0.4 -1.9M79.1 7.5l2.0 0.8M77.7 8.2l-0.4 2.0M63.4 2.0l1.7 1.4M63.4 58.0l1.7 1.4M61.4 2.0l-1.8 1.5M61.4 58.0l-1.8 1.5M61.8 0.5l-1.2 -1.1M61.8 56.5l-1.2 -1.1M62.8 0.0l0.6 -2.0M62.8 56.0l0.6 -2.0M39.1 33.6l-0.7 -1.8M40.6 34.6l2.0 0.1M40.0 35.5l0.9 1.5M38.4 34.9l-1.9 0.6M63.2 24.1l0.4 -1.8M64.0 25.8l1.9 1.3M61.9 25.9l-1.9 1.4M42.4 26.5l1.7 -0.7M0.3 27.9l1.7 -0.0M96.3 27.9l1.7 -0.0M91.6 55.7l-0.6 -1.5M91.6 -0.3l-0.6 -1.5M73.5 48.9l-1.5 -1.6M32.9 45.2l0.0 -1.9M93.7 7.0l2.7 1.1M-2.3 7.0l2.7 1.1M60.3 38.2l0.2 -2.1M24.1 31.8l1.4 1.4M39.7 20.1l-1.8 -2.4M52.9 12.7l-0.4 2.5M45.4 2.1l-1.6 1.6M45.4 58.1l-1.6 1.6M4.0 8.3l-0.2 1.6M100.0 8.3l-0.2 1.6M83.8 22.3l1.6 2.1M18.9 19.3l1.6 -1.8M17.1 1.6l-2.5 -1.4M17.1 57.6l-2.5 -1.4M35.9 7.5l-2.9 -0.4M43.3 10.4l0.1 -2.6M47.3 25.6l2.7 0.5M31.8 12.0l2.1 -1.1M12.0 36.9l-2.3 -0.3M55.7 42.7l2.6 -0.9M50.7 21.6l-0.4 1.5M48.3 7.3l1.6 0.1M53.8 25.2l1.9 -1.1M77.8 1.6l-1.2 2.3M77.8 57.6l-1.2 2.3M21.5 27.3l0.2 -1.6M71.8 7.6l-1.3 -0.8M34.8 42.9l0.7 -2.2M12.1 34.5l1.7 -0.7M31.4 18.9l-1.5 0.6M3.9 50.3l-0.4 1.8M99.9 50.3l-0.4 1.8M26.8 26.8l-2.4 0.1M39.9 38.3l-1.2 1.4M26.9 43.3l-1.1 1.4M56.2 34.2l1.2 1.5M83.5 7.8l2.7 0.7M81.2 42.6l-1.0 -2.4M58.3 2.9l-1.1 -1.6M58.3 58.9l-1.1 -1.6M41.5 6.8l-1.8 0.2M38.0 22.5l1.5 2.4M14.5 40.4l-1.6 1.2M51.4 4.6l0.1 2.4M11.6 34.9l2.0 0.4M75.9 28.2l-1.3 2.3M67.6 4.7l-2.5 -0.9M90.8 46.6l-1.1 -1.4M70.2 43.3l1.3 -2.3M81.6 9.5l1.4 -2.1M79.9 39.7l-0.2 2.4M55.4 47.5l-2.9 0.2M70.2 50.0l2.0 0.1M66.2 46.5l-0.8 -2.0M61.6 27.6l-1.8 -0.3M42.6 9.1l2.1 -1.1M14.3 46.2l0.2 2.7M30.1 14.0l-0.7 -1.4M49.6 0.4l1.6 2.0M49.6 56.4l1.6 2.0M70.0 52.4l-0.6 1.5M70.0 -3.6l-0.6 1.5M50.3 24.9l1.4 1.0M29.9 26.6l1.6 1.5M61.2 10.4l2.2 -1.8M94.2 31.9l-1.2 -1.6M-1.8 31.9l-1.2 -1.6M37.0 3.3l-2.1 0.0M37.0 59.3l-2.1 0.0M27.8 18.0l-1.7 -2.1M71.9 30.3l1.7 0.5M37.6 32.2l-0.8 -2.7M62.4 29.3l1.3 -1.2M69.2 35.8l1.6 0.9M43.6 45.0l-1.1 -1.3" stroke="#e31b17" stroke-width="1.3" fill="none" stroke-linecap="round"/><path d="M55.8 10.9l1.1 -0.6M55.8 10.9l0.7 0.8M55.8 10.9l-1.0 0.7M55.8 10.9l-0.9 -1.0M6.8 10.8l-1.0 0.3M6.8 10.8l0.4 -1.0M6.8 10.8l0.7 0.9M6.0 26.2l0.7 1.0M6.0 26.2l-1.3 0.3M6.0 26.2l0.1 -1.1M40.6 22.7l-1.0 0.2M40.6 22.7l-1.0 -0.9M40.6 22.7l0.9 -0.6M40.6 22.7l0.8 1.0M94.6 24.2l1.2 0.2M-1.4 24.2l1.2 0.2M94.6 24.2l-0.6 0.9M-1.4 24.2l-0.6 0.9M94.6 24.2l-1.0 -0.6M-1.4 24.2l-1.0 -0.6M94.6 24.2l0.5 -1.2M-1.4 24.2l0.5 -1.2M29.9 48.7l-1.2 -0.6M29.9 48.7l-0.2 -1.2M29.9 48.7l1.2 0.3M29.9 48.7l-0.2 1.3M64.9 34.2l0.6 -0.8M64.9 34.2l1.3 0.1M64.9 34.2l-0.7 1.1M64.9 34.2l-1.3 -0.4M13.4 53.6l-0.2 1.1M13.4 -2.4l-0.2 1.1M13.4 53.6l-0.8 -0.7M13.4 -2.4l-0.8 -0.7M13.4 53.6l0.2 -1.0M13.4 -2.4l0.2 -1.0M13.4 53.6l0.7 0.7M13.4 -2.4l0.7 0.7M90.0 14.0l-1.2 0.6M90.0 14.0l0.4 -1.0M90.0 14.0l1.3 0.5M16.9 0.8l0.7 -1.0M16.9 56.8l0.7 -1.0M16.9 0.8l0.6 0.8M16.9 56.8l0.6 0.8M16.9 0.8l-0.6 1.1M16.9 56.8l-0.6 1.1M16.9 0.8l-0.9 -0.8M16.9 56.8l-0.9 -0.8M32.1 52.5l-0.5 1.0M32.1 -3.5l-0.5 1.0M32.1 52.5l-1.0 -0.8M32.1 -3.5l-1.0 -0.8M32.1 52.5l0.6 -0.8M32.1 -3.5l0.6 -0.8M32.1 52.5l0.7 0.7M32.1 -3.5l0.7 0.7M11.7 1.3l0.2 1.3M11.7 57.3l0.2 1.3M11.7 1.3l-1.2 0.3M11.7 57.3l-1.2 0.3M11.7 1.3l-0.6 -1.0M11.7 57.3l-0.6 -1.0M11.7 1.3l1.0 -0.3M11.7 57.3l1.0 -0.3M28.9 14.3l-0.1 1.3M28.9 14.3l-1.0 0.6M28.9 14.3l-0.5 -1.2M28.9 14.3l0.9 -0.3M53.1 11.4l0.2 -1.4M53.1 11.4l0.5 0.8M53.1 11.4l-1.0 0.5M26.3 34.5l-1.2 -0.2M26.3 34.5l0.1 -1.3M26.3 34.5l0.5 0.9M8.3 35.0l-0.7 0.7M8.3 35.0l-0.8 -0.7M8.3 35.0l0.4 -1.0M8.3 35.0l1.2 0.4M9.2 13.0l-1.0 -0.8M9.2 13.0l1.2 0.2M9.2 13.0l-0.2 1.0M94.6 50.2l0.5 -1.2M-1.4 50.2l0.5 -1.2M94.6 50.2l1.2 -0.0M-1.4 50.2l1.2 -0.0M94.6 50.2l0.2 1.3M-1.4 50.2l0.2 1.3M94.6 50.2l-1.0 -0.3M-1.4 50.2l-1.0 -0.3M63.3 50.8l1.1 0.4M63.3 50.8l-1.3 0.3M63.3 50.8l0.3 -1.3M38.7 7.5l0.6 0.7M38.7 7.5l-0.9 0.6M38.7 7.5l-0.1 -1.3M63.0 21.2l0.4 -1.0M63.0 21.2l1.0 -0.4M63.0 21.2l-0.4 1.1M63.0 21.2l-1.0 0.2M15.8 24.6l1.1 -0.6M15.8 24.6l0.6 1.1M15.8 24.6l-1.2 -0.1M3.2 50.0l-0.4 1.2M99.2 50.0l-0.4 1.2M3.2 50.0l-0.7 -0.9M99.2 50.0l-0.7 -0.9M3.2 50.0l1.3 -0.4M99.2 50.0l1.3 -0.4M44.0 52.3l0.3 -1.2M44.0 -3.7l0.3 -1.2M44.0 52.3l1.2 0.4M44.0 -3.7l1.2 0.4M44.0 52.3l-0.6 1.1M44.0 -3.7l-0.6 1.1M44.0 52.3l-1.3 -0.3M44.0 -3.7l-1.3 -0.3M4.2 3.2l-0.8 0.8M4.2 59.2l-0.8 0.8M4.2 3.2l-0.7 -1.1M4.2 59.2l-0.7 -1.1M4.2 3.2l1.2 0.3M4.2 59.2l1.2 0.3M71.6 24.6l1.2 -0.0M71.6 24.6l0.4 1.0M71.6 24.6l-1.2 -0.0M71.6 24.6l-0.3 -1.3M40.4 48.1l1.2 0.0M40.4 48.1l-1.0 0.6M40.4 48.1l-0.2 -1.1M27.7 20.4l0.4 1.1M27.7 20.4l-0.9 0.4M27.7 20.4l0.2 -1.0M27.7 20.4l1.3 -0.0M43.6 45.6l1.0 0.8M43.6 45.6l-1.3 0.3M43.6 45.6l-0.4 -1.1M43.6 45.6l1.2 -0.2M73.2 51.1l-0.9 0.5M73.2 51.1l-0.7 -1.1M73.2 51.1l1.0 -0.0M69.3 29.6l1.1 -0.4M69.3 29.6l0.5 0.8M69.3 29.6l-0.6 1.0M69.3 29.6l-0.5 -0.9M14.2 28.0l0.7 0.9M14.2 28.0l-0.9 0.4M14.2 28.0l-0.7 -1.1M14.2 28.0l0.9 -0.4M0.4 55.1l1.0 0.9M0.4 -0.9l1.0 0.9M96.4 55.1l1.0 0.9M96.4 -0.9l1.0 0.9M0.4 55.1l-1.2 0.4M0.4 -0.9l-1.2 0.4M96.4 55.1l-1.2 0.4M96.4 -0.9l-1.2 0.4M0.4 55.1l0.7 -0.7M0.4 -0.9l0.7 -0.7M96.4 55.1l0.7 -0.7M96.4 -0.9l0.7 -0.7M82.8 17.9l-1.0 0.8M82.8 17.9l-0.9 -0.4M82.8 17.9l0.5 -1.3M82.8 17.9l1.0 0.6M75.9 37.0l-0.6 -0.8M75.9 37.0l1.3 0.3M75.9 37.0l-0.9 0.5M42.8 51.8l1.2 0.6M42.8 51.8l-1.1 0.0M42.8 51.8l0.5 -0.9M59.3 28.1l-1.2 0.3M59.3 28.1l-0.6 -1.1M59.3 28.1l0.9 -1.0M59.3 28.1l0.4 1.2M75.1 9.7l-1.1 0.4M75.1 9.7l0.1 -1.2M75.1 9.7l1.0 0.7M67.1 13.0l0.6 1.1M67.1 13.0l-1.0 0.4M67.1 13.0l-0.2 -1.1M67.1 13.0l1.0 -0.6M67.3 2.2l-0.2 0.9M67.3 58.2l-0.2 0.9M67.3 2.2l-1.0 -0.5M67.3 58.2l-1.0 -0.5M67.3 2.2l0.3 -0.9M67.3 58.2l0.3 -0.9M67.3 2.2l0.7 0.8M67.3 58.2l0.7 0.8M21.4 44.7l0.5 -1.3M21.4 44.7l0.5 1.0M21.4 44.7l-1.1 -0.3M84.9 8.1l-0.6 -1.1M84.9 8.1l0.9 -0.8M84.9 8.1l0.9 0.6M84.9 8.1l-0.5 1.1M49.7 50.0l1.0 -0.4M49.7 50.0l-0.2 1.0M49.7 50.0l-1.0 0.2M49.7 50.0l0.5 -1.2M7.8 30.2l-0.7 0.7M7.8 30.2l-0.7 -0.6M7.8 30.2l1.1 0.2M44.2 42.5l0.5 -1.2M44.2 42.5l1.1 0.4M44.2 42.5l-0.5 0.9M44.2 42.5l-1.1 -0.6M7.1 11.1l0.4 0.9M7.1 11.1l-1.1 -0.8M7.1 11.1l0.8 -0.6M36.5 51.0l1.0 0.2M36.5 51.0l-0.9 0.9M36.5 51.0l-0.7 -0.7M36.5 51.0l0.3 -1.2M71.3 47.9l0.7 -0.8M71.3 47.9l0.2 1.2M71.3 47.9l-0.9 0.3M16.3 37.1l0.2 -1.2M16.3 37.1l1.1 0.3M16.3 37.1l-0.7 0.8M16.3 37.1l-1.3 -0.4M50.5 18.5l0.9 -0.7M50.5 18.5l0.9 0.7M50.5 18.5l-0.8 1.0M50.5 18.5l-0.7 -1.0M24.4 31.6l-0.6 -1.1M24.4 31.6l0.9 -0.5M24.4 31.6l0.5 1.0M24.4 31.6l-1.2 0.0M68.6 7.3l-0.5 0.9M68.6 7.3l-0.5 -1.1M68.6 7.3l1.1 0.1M53.5 6.3l0.8 -0.7M53.5 6.3l0.9 0.4M53.5 6.3l-1.0 0.9M53.5 6.3l-0.7 -1.0M76.7 47.4l-0.6 -0.8M76.7 47.4l1.2 0.5M76.7 47.4l-1.1 0.7M79.8 35.5l-0.0 -1.2M79.8 35.5l0.9 0.4M79.8 35.5l-0.3 1.0M79.8 35.5l-1.1 -0.7M31.6 8.6l0.6 -1.1M31.6 8.6l1.2 0.2M31.6 8.6l-0.2 1.1M31.6 8.6l-0.8 -0.7M3.5 35.4l0.1 1.0M99.5 35.4l0.1 1.0M3.5 35.4l-1.2 -0.2M99.5 35.4l-1.2 -0.2M3.5 35.4l0.7 -0.7M99.5 35.4l0.7 -0.7M44.1 15.7l0.2 1.1M44.1 15.7l-1.1 -0.1M44.1 15.7l-0.4 -1.1M44.1 15.7l1.0 -0.1M72.5 29.4l-1.2 0.3M72.5 29.4l0.4 -1.0M72.5 29.4l1.1 -0.2M72.5 29.4l0.5 1.2M35.2 12.2l-0.6 -1.2M35.2 12.2l0.8 -0.5M35.2 12.2l0.5 1.1M35.2 12.2l-1.3 0.3M65.6 43.7l1.1 0.1M65.6 43.7l-0.1 1.2M65.6 43.7l-0.8 -0.6M65.6 43.7l0.4 -1.0M1.6 14.8l0.7 -0.9M97.6 14.8l0.7 -0.9M1.6 14.8l1.3 0.0M97.6 14.8l1.3 0.0M1.6 14.8l-0.6 0.9M97.6 14.8l-0.6 0.9M1.6 14.8l-1.3 0.0M97.6 14.8l-1.3 0.0M52.4 55.1l-0.9 -0.8M52.4 -0.9l-0.9 -0.8M52.4 55.1l0.3 -1.3M52.4 -0.9l0.3 -1.3M52.4 55.1l1.3 0.2M52.4 -0.9l1.3 0.2M52.4 55.1l-0.5 0.9M52.4 -0.9l-0.5 0.9M94.6 48.5l-0.9 -0.1M-1.4 48.5l-0.9 -0.1M94.6 48.5l-0.3 -1.0M-1.4 48.5l-0.3 -1.0M94.6 48.5l1.2 0.1M-1.4 48.5l1.2 0.1M94.6 48.5l0.2 1.1M-1.4 48.5l0.2 1.1M17.2 18.0l0.9 -0.4M17.2 18.0l0.9 0.9M17.2 18.0l-1.2 0.6M17.2 18.0l-0.3 -1.1M40.2 42.7l-0.4 0.9M40.2 42.7l-1.0 0.0M40.2 42.7l0.3 -1.2M40.2 42.7l1.0 0.8M92.5 14.3l-0.4 1.1M-3.5 14.3l-0.4 1.1M92.5 14.3l-0.8 -0.8M-3.5 14.3l-0.8 -0.8M92.5 14.3l0.1 -1.1M-3.5 14.3l0.1 -1.1M92.5 14.3l1.1 0.6M-3.5 14.3l1.1 0.6M14.7 15.9l-0.9 -0.7M14.7 15.9l1.2 -0.7M14.7 15.9l-0.2 1.2M51.0 4.4l0.9 0.4M51.0 4.4l-0.7 0.8M51.0 4.4l-0.8 -0.4M51.0 4.4l0.8 -0.6M60.6 54.1l0.7 -1.1M60.6 -1.9l0.7 -1.1M60.6 54.1l1.0 0.5M60.6 -1.9l1.0 0.5M60.6 54.1l-0.6 1.0M60.6 -1.9l-0.6 1.0M60.6 54.1l-0.9 -0.4M60.6 -1.9l-0.9 -0.4M61.1 3.8l-1.3 -0.0M61.1 59.8l-1.3 -0.0M61.1 3.8l-0.0 -1.0M61.1 59.8l-0.0 -1.0M61.1 3.8l1.1 -0.4M61.1 59.8l1.1 -0.4M61.1 3.8l0.4 0.9M61.1 59.8l0.4 0.9M93.3 28.1l0.8 -0.8M-2.7 28.1l0.8 -0.8M93.3 28.1l0.6 0.7M-2.7 28.1l0.6 0.7M93.3 28.1l-1.1 0.2M-2.7 28.1l-1.1 0.2M58.4 8.4l0.8 -1.0M58.4 8.4l0.7 0.8M58.4 8.4l-1.1 0.7M58.4 8.4l-0.9 -0.8M49.6 28.1l1.0 -0.3M49.6 28.1l0.2 1.2M49.6 28.1l-0.7 -0.6M35.3 44.7l-0.9 0.4M35.3 44.7l-0.5 -0.9M35.3 44.7l1.0 -0.9M35.3 44.7l0.7 1.1M88.6 44.6l1.2 -0.2M88.6 44.6l0.3 1.2M88.6 44.6l-1.1 -0.1M88.6 44.6l-0.3 -1.2M80.8 36.9l1.0 0.9M80.8 36.9l-1.1 -0.1M80.8 36.9l0.7 -0.6M34.7 32.7l0.0 1.1M34.7 32.7l-1.3 0.1M34.7 32.7l0.6 -1.0M1.6 15.9l0.3 -1.1M97.6 15.9l0.3 -1.1M1.6 15.9l1.1 0.1M97.6 15.9l1.1 0.1M1.6 15.9l0.3 1.3M97.6 15.9l0.3 1.3M1.6 15.9l-1.3 -0.4M97.6 15.9l-1.3 -0.4M71.6 5.5l0.4 1.2M71.6 5.5l-0.8 0.5M71.6 5.5l-0.4 -0.9M71.6 5.5l1.1 -0.7M76.9 46.0l-0.8 -0.9M76.9 46.0l1.2 -0.2M76.9 46.0l-0.4 1.0M63.7 22.2l1.2 0.1M63.7 22.2l-0.1 1.3M63.7 22.2l-1.2 -0.4M63.7 22.2l0.1 -1.2M69.0 41.3l0.7 0.6M69.0 41.3l-1.2 0.4M69.0 41.3l-0.0 -1.0M41.3 0.6l-0.5 -0.9M41.3 56.6l-0.5 -0.9M41.3 0.6l0.8 -1.1M41.3 56.6l0.8 -1.1M41.3 0.6l0.3 0.9M41.3 56.6l0.3 0.9M41.3 0.6l-1.0 0.7M41.3 56.6l-1.0 0.7M58.6 21.7l0.1 1.0M58.6 21.7l-1.1 -0.1M58.6 21.7l0.1 -1.2M58.6 21.7l1.2 -0.3M21.5 21.8l-1.1 -0.2M21.5 21.8l0.7 -0.9M21.5 21.8l0.5 0.9M60.3 42.0l-1.1 0.1M60.3 42.0l0.6 -1.2M60.3 42.0l1.0 0.3M51.7 12.6l-0.9 0.5M51.7 12.6l-0.2 -1.2M51.7 12.6l1.3 0.2M60.1 31.0l0.3 -0.9M60.1 31.0l1.0 0.3M60.1 31.0l-0.6 1.0M60.1 31.0l-0.7 -0.7M30.7 30.4l-1.1 -0.2M30.7 30.4l0.6 -0.8M30.7 30.4l1.2 0.0M30.7 30.4l0.0 1.1M23.9 43.2l0.4 0.9M23.9 43.2l-1.2 -0.1M23.9 43.2l0.4 -0.9M9.0 2.5l-0.3 1.3M9.0 58.5l-0.3 1.3M9.0 2.5l-1.0 -0.2M9.0 58.5l-1.0 -0.2M9.0 2.5l0.1 -1.3M9.0 58.5l0.1 -1.3M9.0 2.5l1.2 0.3M9.0 58.5l1.2 0.3M6.3 3.0l0.9 -0.6M6.3 59.0l0.9 -0.6M6.3 3.0l0.4 1.2M6.3 59.0l0.4 1.2M6.3 3.0l-1.0 0.4M6.3 59.0l-1.0 0.4M6.3 3.0l-0.6 -1.2M6.3 59.0l-0.6 -1.2M26.7 33.3l0.9 -0.4M26.7 33.3l0.3 1.0M26.7 33.3l-0.6 0.7M26.7 33.3l-0.6 -1.1M47.8 43.7l1.0 -0.4M47.8 43.7l-0.1 1.3M47.8 43.7l-1.2 0.5M47.8 43.7l-0.1 -1.3M93.3 13.7l-0.4 -1.0M-2.7 13.7l-0.4 -1.0M93.3 13.7l0.8 -1.0M-2.7 13.7l0.8 -1.0M93.3 13.7l0.3 1.0M-2.7 13.7l0.3 1.0M93.3 13.7l-0.8 0.6M-2.7 13.7l-0.8 0.6M89.6 4.3l0.5 0.9M89.6 4.3l-1.2 0.2M89.6 4.3l-0.5 -0.8M89.6 4.3l1.2 -0.3M14.6 10.7l1.0 0.6M14.6 10.7l-1.2 0.5M14.6 10.7l-0.4 -0.9M42.7 29.1l-0.9 -0.7M42.7 29.1l0.7 -0.8M42.7 29.1l0.2 1.1M42.7 29.1l-0.9 1.0M69.5 22.2l-0.7 -0.7M69.5 22.2l1.0 -0.3M69.5 22.2l-0.2 1.3M83.9 15.5l0.8 -0.7M83.9 15.5l1.0 0.8M83.9 15.5l-1.0 -0.2M6.5 20.7l0.5 1.3M6.5 20.7l-1.0 0.5M6.5 20.7l-0.5 -0.9M6.5 20.7l1.2 -0.3M52.0 48.6l0.0 -1.0M52.0 48.6l1.1 0.6M52.0 48.6l-0.9 0.5M25.2 41.2l-1.1 -0.7M25.2 41.2l0.9 -0.7M25.2 41.2l0.9 1.0M25.2 41.2l-1.2 0.7M11.0 21.8l-1.0 0.7M11.0 21.8l-0.2 -1.2M11.0 21.8l1.3 0.2M73.4 22.6l-0.6 -0.8M73.4 22.6l1.1 -0.8M73.4 22.6l0.7 1.0M73.4 22.6l-1.2 0.3M72.0 11.1l0.8 0.9M72.0 11.1l-0.3 1.2M72.0 11.1l-0.9 -0.3M72.0 11.1l0.9 -0.9M34.7 16.2l0.8 0.6M34.7 16.2l0.0 1.2M34.7 16.2l-1.0 -0.5M34.7 16.2l-0.0 -1.2M94.3 47.7l0.9 1.0M-1.7 47.7l0.9 1.0M94.3 47.7l-0.9 0.4M-1.7 47.7l-0.9 0.4M94.3 47.7l-0.1 -1.1M-1.7 47.7l-0.1 -1.1M41.3 26.6l0.4 -1.1M41.3 26.6l1.3 -0.3M41.3 26.6l-0.4 1.0M41.3 26.6l-1.3 -0.4M92.9 49.8l-0.6 -1.2M-3.1 49.8l-0.6 -1.2M92.9 49.8l0.6 -0.8M-3.1 49.8l0.6 -0.8M92.9 49.8l1.0 0.4M-3.1 49.8l1.0 0.4M92.9 49.8l-0.6 0.9M-3.1 49.8l-0.6 0.9M27.5 44.9l-0.7 -1.0M27.5 44.9l1.3 0.3M27.5 44.9l-0.8 0.7M16.9 23.6l-0.1 0.9M16.9 23.6l-1.3 -0.1M16.9 23.6l-0.0 -1.2M16.9 23.6l1.1 0.5M25.2 33.8l0.7 -0.6M25.2 33.8l0.8 1.0M25.2 33.8l-0.9 0.5M25.2 33.8l-0.7 -0.7M60.0 40.8l-1.0 -0.2M60.0 40.8l-0.2 -1.1M60.0 40.8l1.2 -0.1M60.0 40.8l0.1 1.1M1.2 17.3l0.9 0.8M97.2 17.3l0.9 0.8M1.2 17.3l-1.1 0.6M97.2 17.3l-1.1 0.6M1.2 17.3l-1.2 -0.4M97.2 17.3l-1.2 -0.4M1.2 17.3l1.1 -0.7M97.2 17.3l1.1 -0.7M75.8 40.1l-0.7 0.7M75.8 40.1l-0.5 -1.0M75.8 40.1l1.1 -0.0M75.8 40.1l0.6 1.1M27.9 21.2l-1.1 0.4M27.9 21.2l-0.5 -1.2M27.9 21.2l0.8 0.7M8.9 38.0l1.2 -0.4M8.9 38.0l0.4 0.9M8.9 38.0l-1.3 -0.0M8.9 38.0l-0.4 -1.0M60.3 8.5l-0.6 0.8M60.3 8.5l0.1 -1.1M60.3 8.5l1.2 -0.1M39.6 32.9l1.0 0.3M39.6 32.9l-0.5 1.2M39.6 32.9l-1.0 -0.1M39.6 32.9l-0.1 -1.2M67.4 3.7l0.7 0.8M67.4 59.7l0.7 0.8M67.4 3.7l-0.9 0.8M67.4 59.7l-0.9 0.8M67.4 3.7l-1.1 -0.4M67.4 59.7l-1.1 -0.4M67.4 3.7l0.7 -0.7M67.4 59.7l0.7 -0.7M12.7 20.9l0.6 1.1M12.7 20.9l-1.1 0.2M12.7 20.9l-0.3 -0.9M12.7 20.9l1.1 -0.1M5.2 44.4l-0.6 -0.8M5.2 44.4l0.9 -0.9M5.2 44.4l0.3 1.1M5.2 44.4l-1.1 0.7M69.8 15.9l-0.9 0.2M69.8 15.9l0.8 -0.9M69.8 15.9l0.6 1.1M18.2 24.2l-0.3 -1.0M18.2 24.2l1.0 -0.4M18.2 24.2l0.9 0.8M18.2 24.2l-0.8 1.1M13.8 45.2l0.3 1.1M13.8 45.2l-0.8 0.6M13.8 45.2l-0.8 -0.7M13.8 45.2l0.7 -0.8M12.6 8.6l0.3 -1.1M12.6 8.6l1.0 0.4M12.6 8.6l-0.6 1.0M12.6 8.6l-1.0 -0.8M36.0 24.1l-0.1 -1.0M36.0 24.1l1.0 -0.9M36.0 24.1l0.4 1.2M36.0 24.1l-1.1 0.3M11.2 16.8l0.5 1.2M11.2 16.8l-1.3 0.4M11.2 16.8l0.3 -1.1M11.2 16.8l1.0 0.1M64.8 18.1l-0.6 -0.9M64.8 18.1l1.1 0.0M64.8 18.1l-0.7 1.1M40.8 4.2l0.7 0.9M40.8 4.2l-1.0 0.0M40.8 4.2l1.0 -0.9M81.9 24.8l1.2 0.1M81.9 24.8l0.5 0.8M81.9 24.8l-1.3 -0.0M81.9 24.8l-0.2 -1.3M52.6 41.1l-0.5 -1.3M52.6 41.1l0.8 -0.5M52.6 41.1l0.0 1.1M52.6 41.1l-1.1 0.4M60.8 36.2l0.1 1.1M60.8 36.2l-1.3 -0.3M60.8 36.2l0.2 -1.2M60.8 36.2l1.2 0.5M40.9 22.5l-0.8 1.0M40.9 22.5l-0.5 -0.8M40.9 22.5l0.9 0.5M18.4 16.3l-1.0 -0.7M18.4 16.3l0.5 -0.8M18.4 16.3l1.2 0.0M18.4 16.3l-0.7 1.1M36.7 21.0l-0.7 0.7M36.7 21.0l-0.3 -1.0M36.7 21.0l1.2 -0.3M51.9 32.9l-0.1 1.0M51.9 32.9l-1.0 -0.9M51.9 32.9l1.0 -0.1M6.5 26.3l0.4 1.2M6.5 26.3l-1.0 -0.0M6.5 26.3l0.5 -1.0M7.6 25.6l0.3 -1.2M7.6 25.6l0.7 0.7M7.6 25.6l-0.6 0.8M7.6 25.6l-0.8 -0.7M84.1 46.6l0.3 -1.0M84.1 46.6l0.8 0.7M84.1 46.6l-0.8 0.6M84.1 46.6l-0.7 -1.0M82.6 27.8l-0.2 -1.1M82.6 27.8l0.9 0.6M82.6 27.8l-0.8 0.5M6.9 36.3l-0.9 -0.9M6.9 36.3l1.1 0.1M6.9 36.3l-0.7 1.0M75.5 45.5l-1.0 0.3M75.5 45.5l0.1 -1.0M75.5 45.5l0.7 0.6M61.0 18.6l-0.5 -1.1M61.0 18.6l0.5 -0.9M61.0 18.6l0.9 0.5M61.0 18.6l-0.6 0.8M13.5 10.9l1.1 0.7M13.5 10.9l-0.5 0.8M13.5 10.9l-1.1 -0.8M13.5 10.9l0.7 -1.1M30.0 44.4l0.0 1.3M30.0 44.4l-0.8 -0.6M30.0 44.4l0.3 -1.2M30.0 44.4l1.1 0.2M95.9 50.7l1.3 0.1M-0.1 50.7l1.3 0.1M95.9 50.7l-0.3 1.3M-0.1 50.7l-0.3 1.3M95.9 50.7l-1.3 -0.4M-0.1 50.7l-1.3 -0.4M95.9 50.7l0.7 -1.0M-0.1 50.7l0.7 -1.0M80.3 48.5l0.6 -0.8M80.3 48.5l1.0 0.4M80.3 48.5l-0.6 0.8M80.3 48.5l-1.0 -0.6M26.4 52.7l-0.3 -1.3M26.4 -3.3l-0.3 -1.3M26.4 52.7l1.1 -0.4M26.4 -3.3l1.1 -0.4M26.4 52.7l-0.1 1.0M26.4 -3.3l-0.1 1.0M26.4 52.7l-1.2 0.2M26.4 -3.3l-1.2 0.2M87.3 51.1l0.6 -0.7M87.3 51.1l0.4 0.9M87.3 51.1l-1.3 -0.0M22.7 9.8l-0.6 -1.2M22.7 9.8l1.1 -0.2M22.7 9.8l0.5 1.2M22.7 9.8l-0.9 0.3M2.9 47.6l0.6 -1.1M98.9 47.6l0.6 -1.1M2.9 47.6l1.0 0.8M98.9 47.6l1.0 0.8M2.9 47.6l-0.8 1.1M98.9 47.6l-0.8 1.1M2.9 47.6l-1.0 -0.8M98.9 47.6l-1.0 -0.8M92.6 37.1l-1.1 0.4M-3.4 37.1l-1.1 0.4M92.6 37.1l-0.2 -1.0M-3.4 37.1l-0.2 -1.0M92.6 37.1l1.2 -0.6M-3.4 37.1l1.2 -0.6M92.6 37.1l0.5 1.0M-3.4 37.1l0.5 1.0M82.2 32.3l-1.1 0.3M82.2 32.3l-0.2 -1.2M82.2 32.3l1.3 0.2M82.2 32.3l0.2 1.0M7.8 4.3l-1.4 0.0M7.8 4.3l0.5 -1.2M7.8 4.3l0.7 0.8M71.6 23.4l0.3 0.9M71.6 23.4l-1.0 -0.0M71.6 23.4l1.1 -0.5M53.7 24.1l-0.2 1.0M53.7 24.1l-1.3 -0.5M53.7 24.1l0.1 -1.1M53.7 24.1l1.1 0.6M60.9 24.4l-0.5 -1.0M60.9 24.4l1.2 -0.3M60.9 24.4l0.3 1.3M60.9 24.4l-1.2 -0.2M15.2 17.0l-0.4 0.9M15.2 17.0l-1.2 0.3M15.2 17.0l0.4 -1.2M15.2 17.0l1.0 -0.2M66.3 50.9l-0.8 0.9M66.3 50.9l-0.7 -0.7M66.3 50.9l0.9 -0.3M15.2 49.0l-0.9 0.9M15.2 49.0l0.0 -1.0M15.2 49.0l1.1 0.3M58.3 16.8l-0.2 1.2M58.3 16.8l-0.8 -0.8M58.3 16.8l0.5 -0.9M58.3 16.8l1.2 0.5M56.4 32.6l-1.1 -0.6M56.4 32.6l1.2 -0.4M56.4 32.6l-0.3 1.1M55.8 9.7l-0.2 1.0M55.8 9.7l-1.2 -0.1M55.8 9.7l0.1 -1.2M55.8 9.7l0.9 0.2M2.6 33.8l-0.0 -1.0M98.6 33.8l-0.0 -1.0M2.6 33.8l1.3 0.3M98.6 33.8l1.3 0.3M2.6 33.8l-0.8 0.6M98.6 33.8l-0.8 0.6M39.2 14.6l-0.1 -1.2M39.2 14.6l1.1 0.2M39.2 14.6l-0.2 1.1M39.2 14.6l-0.9 0.3M46.4 13.5l1.1 -0.3M46.4 13.5l-0.8 0.9M46.4 13.5l-0.1 -1.0M36.7 21.1l-0.5 -0.9M36.7 21.1l0.8 -0.9M36.7 21.1l0.9 0.9M36.7 21.1l-0.6 1.2M73.8 3.0l1.2 0.1M73.8 59.0l1.2 0.1M73.8 3.0l-0.9 0.8M73.8 59.0l-0.9 0.8M73.8 3.0l-1.3 -0.4M73.8 59.0l-1.3 -0.4M73.8 3.0l0.6 -1.1M73.8 59.0l0.6 -1.1M60.0 5.5l0.4 -1.2M60.0 5.5l1.2 0.6M60.0 5.5l-0.9 0.9M60.0 5.5l-1.1 -0.5M88.2 16.6l-0.0 1.1M88.2 16.6l-0.9 -0.6M88.2 16.6l0.2 -1.1M88.2 16.6l1.1 0.0M3.2 1.8l-0.1 1.3M3.2 57.8l-0.1 1.3M99.2 1.8l-0.1 1.3M99.2 57.8l-0.1 1.3M3.2 1.8l-1.3 0.0M3.2 57.8l-1.3 0.0M99.2 1.8l-1.3 0.0M99.2 57.8l-1.3 0.0M3.2 1.8l-0.2 -1.3M3.2 57.8l-0.2 -1.3M99.2 1.8l-0.2 -1.3M99.2 57.8l-0.2 -1.3M3.2 1.8l0.9 -0.2M3.2 57.8l0.9 -0.2M99.2 1.8l0.9 -0.2M99.2 57.8l0.9 -0.2M78.0 7.1l-1.2 0.2M78.0 7.1l-0.2 -1.1M78.0 7.1l1.1 0.4M78.0 7.1l-0.2 1.1M62.5 1.2l0.9 0.8M62.5 57.2l0.9 0.8M62.5 1.2l-1.0 0.8M62.5 57.2l-1.0 0.8M62.5 1.2l-0.7 -0.6M62.5 57.2l-0.7 -0.6M62.5 1.2l0.3 -1.1M62.5 57.2l0.3 -1.1M39.5 34.6l-0.4 -1.0M39.5 34.6l1.1 0.0M39.5 34.6l0.5 0.9M39.5 34.6l-1.1 0.3M63.0 25.1l0.2 -1.0M63.0 25.1l1.0 0.7M63.0 25.1l-1.1 0.8" stroke="#f5e51a" stroke-width="1.15" fill="none" stroke-linecap="round"/><path d="M20.0 1.1h0M20.0 57.1h0M19.1 -1.2h0M19.1 54.8h0M93.9 52.7h0M-2.1 52.7h0M95.9 51.5h0M-0.1 51.5h0M18.1 20.2h0M19.6 18.4h0M84.2 37.1h0M81.9 37.7h0M52.2 44.2h0M22.5 47.5h0M23.2 49.8h0M52.1 37.1h0M14.3 34.7h0M25.8 52.8h0M27.5 54.4h0M27.5 -1.6h0M30.3 2.5h0M25.3 41.6h0M73.6 39.7h0M74.6 37.6h0M33.5 30.9h0M32.0 29.0h0M57.6 37.8h0M59.9 37.3h0M81.6 17.0h0M83.9 17.4h0M29.0 15.6h0M40.1 2.1h0M40.1 58.1h0M37.7 2.5h0M23.9 44.5h0M21.6 45.4h0M79.0 1.5h0M79.0 57.5h0M69.2 28.9h0M71.0 27.2h0M20.3 7.0h0M42.9 27.4h0M44.4 29.2h0M72.5 28.1h0M39.4 35.2h0M41.2 36.7h0M95.5 35.7h0M-0.5 35.7h0M40.3 25.1h0M38.0 25.9h0M74.4 0.7h0M74.4 56.7h0M82.4 42.0h0M80.4 43.4h0M1.6 6.1h0M97.6 6.1h0M94.9 42.0h0M-1.1 42.0h0M97.0 43.0h0M1.0 43.0h0M3.2 41.0h0M0.9 40.3h0M96.9 40.3h0M76.9 28.3h0M78.1 30.4h0M8.6 3.4h0M13.7 55.6h0M13.7 -0.4h0M24.3 19.3h0M56.8 28.8h0M93.7 28.6h0M-2.3 28.6h0M78.5 19.9h0M11.5 1.1h0M11.5 57.1h0M53.4 0.5h0M53.4 56.5h0M91.0 32.5h0M89.8 34.6h0M1.9 48.6h0M97.9 48.6h0M67.7 16.9h0M49.8 15.6h0M48.2 17.3h0M26.7 38.0h0M28.0 40.0h0M3.0 36.7h0M3.7 38.9h0M90.5 29.0h0M21.4 29.6h0M19.6 31.2h0M51.1 40.2h0M9.7 33.7h0M88.7 1.2h0M88.7 57.2h0M58.5 34.4h0M44.5 39.0h0M46.8 38.1h0M54.7 21.4h0M54.9 19.0h0M72.3 32.1h0M18.7 48.5h0M25.8 30.5h0M56.4 13.7h0M86.4 33.9h0M45.5 12.0h0M43.1 11.7h0M31.5 11.6h0M61.6 40.4h0M63.0 42.4h0M52.2 12.7h0M37.8 47.6h0M35.5 47.9h0M40.8 31.8h0M39.0 30.2h0M64.9 34.2h0M63.9 32.0h0M72.0 52.5h0M70.5 50.7h0M19.6 15.7h0M8.5 20.5h0M43.6 34.9h0M41.8 33.3h0M17.7 30.8h0M19.9 29.8h0M21.3 55.2h0M21.3 -0.8h0M23.2 56.7h0M23.2 0.7h0M1.3 44.3h0M97.3 44.3h0M86.5 43.4h0M26.8 11.8h0M39.5 51.5h0M85.7 46.8h0M19.4 12.4h0M15.8 37.8h0M17.8 39.1h0M50.1 49.3h0M83.0 55.7h0M83.0 -0.3h0M84.2 53.5h0M84.2 -2.5h0M0.8 54.8h0M0.8 -1.2h0M96.8 54.8h0M96.8 -1.2h0M85.7 29.3h0M87.7 27.9h0M81.4 31.3h0M15.8 10.3h0M17.0 8.2h0M23.3 8.4h0M25.6 8.0h0M61.1 21.5h0M59.1 22.9h0M61.6 28.8h0M38.0 29.4h0M45.4 55.0h0M45.4 -1.0h0M33.7 14.0h0M80.3 44.5h0M81.5 46.5h0M51.8 19.3h0M50.3 21.2h0M7.8 0.3h0M7.8 56.3h0M82.4 24.8h0M80.2 25.5h0M43.8 43.1h0M75.5 52.6h0M67.3 4.8h0M65.0 4.0h0M50.4 25.1h0M28.3 43.7h0M26.3 45.0h0M73.2 4.5h0M75.6 4.7h0M44.7 30.7h0M0.8 22.3h0M96.8 22.3h0M69.1 20.3h0M27.5 23.8h0M14.4 13.6h0M12.5 15.1h0M25.1 2.1h0M25.1 58.1h0M26.8 0.4h0M26.8 56.4h0M24.9 5.3h0M22.6 6.0h0M10.1 48.5h0M47.3 6.8h0M54.3 39.9h0M55.8 41.8h0M65.2 13.6h0M65.6 11.2h0M68.2 43.6h0M70.5 44.2h0M60.7 47.8h0M53.2 16.2h0M53.5 13.8h0M77.7 38.4h0" stroke="#33bfb1" stroke-width="3.6" fill="none" stroke-linecap="round"/><path d="M20.0 1.1h0M20.0 57.1h0M19.1 -1.2h0M19.1 54.8h0M93.9 52.7h0M-2.1 52.7h0M95.9 51.5h0M-0.1 51.5h0M18.1 20.2h0M19.6 18.4h0M84.2 37.1h0M81.9 37.7h0M52.2 44.2h0M22.5 47.5h0M23.2 49.8h0M52.1 37.1h0M14.3 34.7h0M25.8 52.8h0M27.5 54.4h0M27.5 -1.6h0M30.3 2.5h0M25.3 41.6h0M73.6 39.7h0M74.6 37.6h0M33.5 30.9h0M32.0 29.0h0M57.6 37.8h0M59.9 37.3h0M81.6 17.0h0M83.9 17.4h0M29.0 15.6h0M40.1 2.1h0M40.1 58.1h0M37.7 2.5h0M23.9 44.5h0M21.6 45.4h0M79.0 1.5h0M79.0 57.5h0M69.2 28.9h0M71.0 27.2h0M20.3 7.0h0M42.9 27.4h0M44.4 29.2h0M72.5 28.1h0M39.4 35.2h0M41.2 36.7h0M95.5 35.7h0M-0.5 35.7h0M40.3 25.1h0M38.0 25.9h0M74.4 0.7h0M74.4 56.7h0M82.4 42.0h0M80.4 43.4h0M1.6 6.1h0M97.6 6.1h0M94.9 42.0h0M-1.1 42.0h0M97.0 43.0h0M1.0 43.0h0M3.2 41.0h0M0.9 40.3h0M96.9 40.3h0M76.9 28.3h0M78.1 30.4h0M8.6 3.4h0M13.7 55.6h0M13.7 -0.4h0M24.3 19.3h0M56.8 28.8h0M93.7 28.6h0M-2.3 28.6h0M78.5 19.9h0M11.5 1.1h0M11.5 57.1h0M53.4 0.5h0M53.4 56.5h0M91.0 32.5h0M89.8 34.6h0M1.9 48.6h0M97.9 48.6h0M67.7 16.9h0M49.8 15.6h0M48.2 17.3h0M26.7 38.0h0M28.0 40.0h0M3.0 36.7h0M3.7 38.9h0M90.5 29.0h0M21.4 29.6h0M19.6 31.2h0M51.1 40.2h0M9.7 33.7h0M88.7 1.2h0M88.7 57.2h0M58.5 34.4h0M44.5 39.0h0M46.8 38.1h0M54.7 21.4h0M54.9 19.0h0M72.3 32.1h0M18.7 48.5h0M25.8 30.5h0M56.4 13.7h0M86.4 33.9h0M45.5 12.0h0M43.1 11.7h0M31.5 11.6h0M61.6 40.4h0M63.0 42.4h0M52.2 12.7h0M37.8 47.6h0M35.5 47.9h0M40.8 31.8h0M39.0 30.2h0M64.9 34.2h0M63.9 32.0h0M72.0 52.5h0M70.5 50.7h0M19.6 15.7h0M8.5 20.5h0M43.6 34.9h0M41.8 33.3h0M17.7 30.8h0M19.9 29.8h0M21.3 55.2h0M21.3 -0.8h0M23.2 56.7h0M23.2 0.7h0M1.3 44.3h0M97.3 44.3h0M86.5 43.4h0M26.8 11.8h0M39.5 51.5h0M85.7 46.8h0M19.4 12.4h0M15.8 37.8h0M17.8 39.1h0M50.1 49.3h0M83.0 55.7h0M83.0 -0.3h0M84.2 53.5h0M84.2 -2.5h0M0.8 54.8h0M0.8 -1.2h0M96.8 54.8h0M96.8 -1.2h0M85.7 29.3h0M87.7 27.9h0M81.4 31.3h0M15.8 10.3h0M17.0 8.2h0M23.3 8.4h0M25.6 8.0h0M61.1 21.5h0M59.1 22.9h0M61.6 28.8h0M38.0 29.4h0M45.4 55.0h0M45.4 -1.0h0M33.7 14.0h0M80.3 44.5h0M81.5 46.5h0M51.8 19.3h0M50.3 21.2h0M7.8 0.3h0M7.8 56.3h0M82.4 24.8h0M80.2 25.5h0M43.8 43.1h0M75.5 52.6h0M67.3 4.8h0M65.0 4.0h0M50.4 25.1h0M28.3 43.7h0M26.3 45.0h0M73.2 4.5h0M75.6 4.7h0M44.7 30.7h0M0.8 22.3h0M96.8 22.3h0M69.1 20.3h0M27.5 23.8h0M14.4 13.6h0M12.5 15.1h0M25.1 2.1h0M25.1 58.1h0M26.8 0.4h0M26.8 56.4h0M24.9 5.3h0M22.6 6.0h0M10.1 48.5h0M47.3 6.8h0M54.3 39.9h0M55.8 41.8h0M65.2 13.6h0M65.6 11.2h0M68.2 43.6h0M70.5 44.2h0M60.7 47.8h0M53.2 16.2h0M53.5 13.8h0M77.7 38.4h0" stroke="#48ddcc" stroke-width="2.8000000000000003" fill="none" stroke-linecap="round"/><path d="M19.5 0.6h0M19.5 56.6h0M18.6 -1.7h0M18.6 54.3h0M93.4 52.2h0M-2.6 52.2h0M95.4 51.0h0M-0.6 51.0h0M17.6 19.7h0M19.1 17.9h0M83.7 36.6h0M81.4 37.2h0M51.7 43.7h0M22.0 47.0h0M22.7 49.3h0M51.6 36.6h0M13.8 34.2h0M25.3 52.3h0M27.0 53.9h0M27.0 -2.1h0M29.8 2.0h0M24.8 41.1h0M73.1 39.2h0M74.1 37.1h0M33.0 30.4h0M31.5 28.5h0M57.1 37.3h0M59.4 36.8h0M81.1 16.5h0M83.4 16.9h0M28.5 15.1h0M39.6 1.6h0M39.6 57.6h0M37.2 2.0h0M23.4 44.0h0M21.1 44.9h0M78.5 1.0h0M78.5 57.0h0M68.7 28.4h0M70.5 26.7h0M19.8 6.5h0M42.4 26.9h0M43.9 28.7h0M72.0 27.6h0M38.9 34.7h0M40.7 36.2h0M95.0 35.2h0M-1.0 35.2h0M39.8 24.6h0M37.5 25.4h0M73.9 0.2h0M73.9 56.2h0M81.9 41.5h0M79.9 42.9h0M1.1 5.6h0M97.1 5.6h0M94.4 41.5h0M-1.6 41.5h0M96.5 42.5h0M0.5 42.5h0M2.7 40.5h0M0.4 39.8h0M96.4 39.8h0M76.4 27.8h0M77.6 29.9h0M8.1 2.9h0M13.2 55.1h0M13.2 -0.9h0M23.8 18.8h0M56.3 28.3h0M93.2 28.1h0M-2.8 28.1h0M78.0 19.4h0M11.0 0.6h0M11.0 56.6h0M52.9 -0.0h0M52.9 56.0h0M90.5 32.0h0M89.3 34.1h0M1.4 48.1h0M97.4 48.1h0M67.2 16.4h0M49.3 15.1h0M47.7 16.8h0M26.2 37.5h0M27.5 39.5h0M2.5 36.2h0M3.2 38.4h0M90.0 28.5h0M20.9 29.1h0M19.1 30.7h0M50.6 39.7h0M9.2 33.2h0M88.2 0.7h0M88.2 56.7h0M58.0 33.9h0M44.0 38.5h0M46.3 37.6h0M54.2 20.9h0M54.4 18.5h0M71.8 31.6h0M18.2 48.0h0M25.3 30.0h0M55.9 13.2h0M85.9 33.4h0M45.0 11.5h0M42.6 11.2h0M31.0 11.1h0M61.1 39.9h0M62.5 41.9h0M51.7 12.2h0M37.3 47.1h0M35.0 47.4h0M40.3 31.3h0M38.5 29.7h0M64.4 33.7h0M63.4 31.5h0M71.5 52.0h0M70.0 50.2h0M19.1 15.2h0M8.0 20.0h0M43.1 34.4h0M41.3 32.8h0M17.2 30.3h0M19.4 29.3h0M20.8 54.7h0M20.8 -1.3h0M22.7 56.2h0M22.7 0.2h0M0.8 43.8h0M96.8 43.8h0M86.0 42.9h0M26.3 11.3h0M39.0 51.0h0M85.2 46.3h0M18.9 11.9h0M15.3 37.3h0M17.3 38.6h0M49.6 48.8h0M82.5 55.2h0M82.5 -0.8h0M83.7 53.0h0M83.7 -3.0h0M0.3 54.3h0M0.3 -1.7h0M96.3 54.3h0M96.3 -1.7h0M85.2 28.8h0M87.2 27.4h0M80.9 30.8h0M15.3 9.8h0M16.5 7.7h0M22.8 7.9h0M25.1 7.5h0M60.6 21.0h0M58.6 22.4h0M61.1 28.3h0M37.5 28.9h0M44.9 54.5h0M44.9 -1.5h0M33.2 13.5h0M79.8 44.0h0M81.0 46.0h0M51.3 18.8h0M49.8 20.7h0M7.3 -0.2h0M7.3 55.8h0M81.9 24.3h0M79.7 25.0h0M43.3 42.6h0M75.0 52.1h0M66.8 4.3h0M64.5 3.5h0M49.9 24.6h0M27.8 43.2h0M25.8 44.5h0M72.7 4.0h0M75.1 4.2h0M44.2 30.2h0M0.3 21.8h0M96.3 21.8h0M68.6 19.8h0M27.0 23.3h0M13.9 13.1h0M12.0 14.6h0M24.6 1.6h0M24.6 57.6h0M26.3 -0.1h0M26.3 55.9h0M24.4 4.8h0M22.1 5.5h0M9.6 48.0h0M46.8 6.3h0M53.8 39.4h0M55.3 41.3h0M64.7 13.1h0M65.1 10.7h0M67.7 43.1h0M70.0 43.7h0M60.2 47.3h0M52.7 15.7h0M53.0 13.3h0M77.2 37.9h0" stroke="#9ff0e8" stroke-width="1.1" fill="none" stroke-linecap="round"/></pattern><pattern id="molE" width="96" height="56" patternUnits="userSpaceOnUse" patternTransform="scale(0.78)"><path d="M10.1 2.5h0M72.2 50.9h0M72.5 48.6h0M78.1 15.9h0M27.7 51.9h0M27.9 49.5h0M58.5 38.8h0M91.1 1.1h0M91.1 57.1h0M93.9 35.2h0M-2.1 35.2h0M59.3 47.5h0M22.7 39.6h0M69.0 52.3h0M63.0 48.1h0M13.3 3.1h0M79.2 40.3h0M39.3 13.9h0M39.5 11.5h0M21.2 42.4h0M10.6 39.5h0M10.0 41.8h0M54.3 46.8h0M46.4 43.3h0M48.5 42.0h0M89.7 21.5h0M89.3 19.1h0M87.8 35.9h0M88.8 33.7h0M84.0 0.5h0M84.0 56.5h0M90.7 30.9h0M46.6 1.4h0M46.6 57.4h0M48.7 0.3h0M48.7 56.3h0M44.5 47.2h0M42.6 48.6h0M95.7 23.9h0M-0.3 23.9h0M95.4 9.9h0M-0.6 9.9h0M59.9 41.9h0M72.2 33.2h0M74.5 32.6h0M23.6 2.4h0M23.6 58.4h0M22.1 4.3h0M4.8 37.7h0M6.8 39.1h0M32.5 21.5h0M33.9 33.6h0M31.9 32.2h0M82.6 41.6h0M80.5 42.8h0M53.3 24.4h0M85.4 51.5h0M24.4 9.0h0M22.1 8.2h0M76.4 32.5h0M64.7 39.6h0M63.6 37.4h0M1.5 38.6h0M97.5 38.6h0M0.5 36.4h0M96.5 36.4h0M45.1 21.6h0M44.4 23.9h0M58.6 33.9h0M53.6 50.1h0M6.5 47.0h0M6.6 44.6h0M50.0 25.7h0M89.6 10.0h0M36.9 25.0h0M37.8 50.7h0M27.9 44.1h0M26.2 55.8h0M26.2 -0.2h0M23.9 55.6h0M23.9 -0.4h0M70.2 43.7h0M2.0 42.7h0M98.0 42.7h0M82.8 10.4h0M84.3 12.3h0M9.3 54.9h0M9.3 -1.1h0M11.3 56.1h0M11.3 0.1h0M29.5 19.0h0M13.5 31.6h0M11.1 31.3h0M55.1 2.2h0M55.1 58.2h0M55.1 -0.2h0M55.1 55.8h0M17.5 22.7h0M86.1 41.5h0M88.2 42.7h0M42.3 18.6h0M48.2 14.5h0M5.0 1.2h0M5.0 57.2h0M37.8 5.9h0M32.0 14.9h0M51.1 32.9h0M19.3 12.1h0M46.2 53.5h0M46.2 -2.5h0M67.6 24.0h0M70.9 13.6h0M86.0 26.3h0M60.1 13.6h0M26.9 3.6h0M25.4 5.5h0M4.5 16.5h0M21.0 46.0h0M23.1 44.9h0M77.5 25.3h0M28.3 13.0h0M17.7 39.9h0M15.7 41.3h0M18.4 32.3h0M66.2 55.4h0M66.2 -0.6h0M81.1 55.4h0M81.1 -0.6h0M65.7 14.4h0M67.6 15.8h0M21.6 35.4h0M19.3 36.2h0M8.0 42.4h0M8.0 44.8h0M52.7 16.1h0M50.3 16.3h0M29.9 41.5h0M27.7 40.5h0M89.7 16.6h0M93.7 44.2h0M-2.3 44.2h0M21.0 18.6h0M19.6 20.6h0M50.3 46.1h0M48.2 45.0h0M28.1 31.5h0M27.9 33.9h0M15.0 14.4h0M40.4 47.1h0M39.3 45.0h0M81.5 30.3h0M56.8 43.5h0M59.1 42.9h0M69.6 3.1h0M36.4 41.8h0M36.7 39.4h0M71.1 47.9h0M24.7 47.9h0M42.7 52.1h0M36.9 21.0h0M9.5 15.3h0M11.4 13.9h0M34.9 54.9h0M34.9 -1.1h0M33.4 53.0h0M37.0 28.7h0M39.4 28.5h0M54.3 41.0h0M55.1 43.3h0M25.9 0.1h0M25.9 56.1h0M28.3 0.3h0M28.3 56.3h0M25.6 36.3h0M1.7 0.7h0M1.7 56.7h0M97.7 0.7h0M97.7 56.7h0M43.2 26.1h0M74.8 2.7h0M76.4 4.5h0M2.8 31.2h0M4.3 33.0h0M56.2 31.7h0M46.4 38.6h0M47.9 36.7h0M64.0 26.6h0M66.2 27.6h0M38.5 34.1h0M55.2 13.5h0M43.3 36.9h0M61.8 34.9h0M59.4 34.4h0M13.6 54.0h0M13.6 -2.0h0M15.6 52.7h0M73.4 21.5h0M74.7 19.5h0M46.3 17.7h0M85.9 47.6h0M12.1 12.3h0" stroke="#46c8bd" stroke-width="3.6" fill="none" stroke-linecap="round"/><path d="M10.1 2.5h0M72.2 50.9h0M72.5 48.6h0M78.1 15.9h0M27.7 51.9h0M27.9 49.5h0M58.5 38.8h0M91.1 1.1h0M91.1 57.1h0M93.9 35.2h0M-2.1 35.2h0M59.3 47.5h0M22.7 39.6h0M69.0 52.3h0M63.0 48.1h0M13.3 3.1h0M79.2 40.3h0M39.3 13.9h0M39.5 11.5h0M21.2 42.4h0M10.6 39.5h0M10.0 41.8h0M54.3 46.8h0M46.4 43.3h0M48.5 42.0h0M89.7 21.5h0M89.3 19.1h0M87.8 35.9h0M88.8 33.7h0M84.0 0.5h0M84.0 56.5h0M90.7 30.9h0M46.6 1.4h0M46.6 57.4h0M48.7 0.3h0M48.7 56.3h0M44.5 47.2h0M42.6 48.6h0M95.7 23.9h0M-0.3 23.9h0M95.4 9.9h0M-0.6 9.9h0M59.9 41.9h0M72.2 33.2h0M74.5 32.6h0M23.6 2.4h0M23.6 58.4h0M22.1 4.3h0M4.8 37.7h0M6.8 39.1h0M32.5 21.5h0M33.9 33.6h0M31.9 32.2h0M82.6 41.6h0M80.5 42.8h0M53.3 24.4h0M85.4 51.5h0M24.4 9.0h0M22.1 8.2h0M76.4 32.5h0M64.7 39.6h0M63.6 37.4h0M1.5 38.6h0M97.5 38.6h0M0.5 36.4h0M96.5 36.4h0M45.1 21.6h0M44.4 23.9h0M58.6 33.9h0M53.6 50.1h0M6.5 47.0h0M6.6 44.6h0M50.0 25.7h0M89.6 10.0h0M36.9 25.0h0M37.8 50.7h0M27.9 44.1h0M26.2 55.8h0M26.2 -0.2h0M23.9 55.6h0M23.9 -0.4h0M70.2 43.7h0M2.0 42.7h0M98.0 42.7h0M82.8 10.4h0M84.3 12.3h0M9.3 54.9h0M9.3 -1.1h0M11.3 56.1h0M11.3 0.1h0M29.5 19.0h0M13.5 31.6h0M11.1 31.3h0M55.1 2.2h0M55.1 58.2h0M55.1 -0.2h0M55.1 55.8h0M17.5 22.7h0M86.1 41.5h0M88.2 42.7h0M42.3 18.6h0M48.2 14.5h0M5.0 1.2h0M5.0 57.2h0M37.8 5.9h0M32.0 14.9h0M51.1 32.9h0M19.3 12.1h0M46.2 53.5h0M46.2 -2.5h0M67.6 24.0h0M70.9 13.6h0M86.0 26.3h0M60.1 13.6h0M26.9 3.6h0M25.4 5.5h0M4.5 16.5h0M21.0 46.0h0M23.1 44.9h0M77.5 25.3h0M28.3 13.0h0M17.7 39.9h0M15.7 41.3h0M18.4 32.3h0M66.2 55.4h0M66.2 -0.6h0M81.1 55.4h0M81.1 -0.6h0M65.7 14.4h0M67.6 15.8h0M21.6 35.4h0M19.3 36.2h0M8.0 42.4h0M8.0 44.8h0M52.7 16.1h0M50.3 16.3h0M29.9 41.5h0M27.7 40.5h0M89.7 16.6h0M93.7 44.2h0M-2.3 44.2h0M21.0 18.6h0M19.6 20.6h0M50.3 46.1h0M48.2 45.0h0M28.1 31.5h0M27.9 33.9h0M15.0 14.4h0M40.4 47.1h0M39.3 45.0h0M81.5 30.3h0M56.8 43.5h0M59.1 42.9h0M69.6 3.1h0M36.4 41.8h0M36.7 39.4h0M71.1 47.9h0M24.7 47.9h0M42.7 52.1h0M36.9 21.0h0M9.5 15.3h0M11.4 13.9h0M34.9 54.9h0M34.9 -1.1h0M33.4 53.0h0M37.0 28.7h0M39.4 28.5h0M54.3 41.0h0M55.1 43.3h0M25.9 0.1h0M25.9 56.1h0M28.3 0.3h0M28.3 56.3h0M25.6 36.3h0M1.7 0.7h0M1.7 56.7h0M97.7 0.7h0M97.7 56.7h0M43.2 26.1h0M74.8 2.7h0M76.4 4.5h0M2.8 31.2h0M4.3 33.0h0M56.2 31.7h0M46.4 38.6h0M47.9 36.7h0M64.0 26.6h0M66.2 27.6h0M38.5 34.1h0M55.2 13.5h0M43.3 36.9h0M61.8 34.9h0M59.4 34.4h0M13.6 54.0h0M13.6 -2.0h0M15.6 52.7h0M73.4 21.5h0M74.7 19.5h0M46.3 17.7h0M85.9 47.6h0M12.1 12.3h0" stroke="#5fe3d8" stroke-width="2.8000000000000003" fill="none" stroke-linecap="round"/><path d="M9.6 2.0h0M71.7 50.4h0M72.0 48.1h0M77.6 15.4h0M27.2 51.4h0M27.4 49.0h0M58.0 38.3h0M90.6 0.6h0M90.6 56.6h0M93.4 34.7h0M-2.6 34.7h0M58.8 47.0h0M22.2 39.1h0M68.5 51.8h0M62.5 47.6h0M12.8 2.6h0M78.7 39.8h0M38.8 13.4h0M39.0 11.0h0M20.7 41.9h0M10.1 39.0h0M9.5 41.3h0M53.8 46.3h0M45.9 42.8h0M48.0 41.5h0M89.2 21.0h0M88.8 18.6h0M87.3 35.4h0M88.3 33.2h0M83.5 -0.0h0M83.5 56.0h0M90.2 30.4h0M46.1 0.9h0M46.1 56.9h0M48.2 -0.2h0M48.2 55.8h0M44.0 46.7h0M42.1 48.1h0M95.2 23.4h0M-0.8 23.4h0M94.9 9.4h0M-1.1 9.4h0M59.4 41.4h0M71.7 32.7h0M74.0 32.1h0M23.1 1.9h0M23.1 57.9h0M21.6 3.8h0M4.3 37.2h0M6.3 38.6h0M32.0 21.0h0M33.4 33.1h0M31.4 31.7h0M82.1 41.1h0M80.0 42.3h0M52.8 23.9h0M84.9 51.0h0M23.9 8.5h0M21.6 7.7h0M75.9 32.0h0M64.2 39.1h0M63.1 36.9h0M1.0 38.1h0M97.0 38.1h0M-0.0 35.9h0M96.0 35.9h0M44.6 21.1h0M43.9 23.4h0M58.1 33.4h0M53.1 49.6h0M6.0 46.5h0M6.1 44.1h0M49.5 25.2h0M89.1 9.5h0M36.4 24.5h0M37.3 50.2h0M27.4 43.6h0M25.7 55.3h0M25.7 -0.7h0M23.4 55.1h0M23.4 -0.9h0M69.7 43.2h0M1.5 42.2h0M97.5 42.2h0M82.3 9.9h0M83.8 11.8h0M8.8 54.4h0M8.8 -1.6h0M10.8 55.6h0M10.8 -0.4h0M29.0 18.5h0M13.0 31.1h0M10.6 30.8h0M54.6 1.7h0M54.6 57.7h0M54.6 -0.7h0M54.6 55.3h0M17.0 22.2h0M85.6 41.0h0M87.7 42.2h0M41.8 18.1h0M47.7 14.0h0M4.5 0.7h0M4.5 56.7h0M37.3 5.4h0M31.5 14.4h0M50.6 32.4h0M18.8 11.6h0M45.7 53.0h0M45.7 -3.0h0M67.1 23.5h0M70.4 13.1h0M85.5 25.8h0M59.6 13.1h0M26.4 3.1h0M24.9 5.0h0M4.0 16.0h0M20.5 45.5h0M22.6 44.4h0M77.0 24.8h0M27.8 12.5h0M17.2 39.4h0M15.2 40.8h0M17.9 31.8h0M65.7 54.9h0M65.7 -1.1h0M80.6 54.9h0M80.6 -1.1h0M65.2 13.9h0M67.1 15.3h0M21.1 34.9h0M18.8 35.7h0M7.5 41.9h0M7.5 44.3h0M52.2 15.6h0M49.8 15.8h0M29.4 41.0h0M27.2 40.0h0M89.2 16.1h0M93.2 43.7h0M-2.8 43.7h0M20.5 18.1h0M19.1 20.1h0M49.8 45.6h0M47.7 44.5h0M27.6 31.0h0M27.4 33.4h0M14.5 13.9h0M39.9 46.6h0M38.8 44.5h0M81.0 29.8h0M56.3 43.0h0M58.6 42.4h0M69.1 2.6h0M35.9 41.3h0M36.2 38.9h0M70.6 47.4h0M24.2 47.4h0M42.2 51.6h0M36.4 20.5h0M9.0 14.8h0M10.9 13.4h0M34.4 54.4h0M34.4 -1.6h0M32.9 52.5h0M36.5 28.2h0M38.9 28.0h0M53.8 40.5h0M54.6 42.8h0M25.4 -0.4h0M25.4 55.6h0M27.8 -0.2h0M27.8 55.8h0M25.1 35.8h0M1.2 0.2h0M1.2 56.2h0M97.2 0.2h0M97.2 56.2h0M42.7 25.6h0M74.3 2.2h0M75.9 4.0h0M2.3 30.7h0M3.8 32.5h0M55.7 31.2h0M45.9 38.1h0M47.4 36.2h0M63.5 26.1h0M65.7 27.1h0M38.0 33.6h0M54.7 13.0h0M42.8 36.4h0M61.3 34.4h0M58.9 33.9h0M13.1 53.5h0M13.1 -2.5h0M15.1 52.2h0M72.9 21.0h0M74.2 19.0h0M45.8 17.2h0M85.4 47.1h0M11.6 11.8h0" stroke="#9ff0e8" stroke-width="1.1" fill="none" stroke-linecap="round"/><path d="M73.9 35.2l1.0 -1.7M74.4 36.6l1.8 0.8M72.4 37.1l-1.6 1.8M72.5 35.5l-1.5 -1.1M59.5 41.8l-1.7 -0.8M60.3 41.1l-0.3 -2.0M61.6 42.6l2.1 0.7M60.7 43.3l0.4 1.8M24.7 27.7l0.5 2.3M23.3 25.9l-2.1 -0.9M24.2 25.4l-0.4 -1.8M25.7 26.2l2.3 -0.3M11.7 6.1l-0.5 -1.9M13.3 7.0l2.3 -0.2M11.4 8.1l-1.0 1.6M33.5 25.8l2.1 0.1M31.7 26.7l-1.1 1.6M31.8 24.8l-0.9 -1.7M39.8 12.6l0.9 -1.6M40.0 14.1l1.3 1.1M38.3 14.1l-1.7 1.1M38.6 12.6l-1.2 -1.5M28.7 40.4l1.8 -1.6M28.7 41.9l1.8 1.1M26.8 41.8l-1.5 0.9M26.6 40.8l-1.9 -0.9M13.2 4.1l0.6 1.9M13.2 60.1l0.6 1.9M11.9 2.8l-1.7 -0.4M11.9 58.8l-1.7 -0.4M13.4 2.2l1.0 -1.5M13.4 58.2l1.0 -1.5M77.9 34.9l1.0 -1.4M78.1 36.4l1.4 1.4M76.1 35.9l-2.2 0.4M9.2 22.4l1.6 -1.2M8.5 24.3l0.3 2.1M7.4 22.0l-1.5 -1.9M89.3 9.9l-1.8 0.4M90.6 8.8l0.5 -1.6M91.4 10.5l1.8 1.5M61.1 27.5l-1.8 -1.5M62.8 27.2l1.1 -2.0M62.7 29.2l1.1 1.5M61.7 29.2l-0.7 1.6M51.8 41.6l-1.9 0.8M52.2 40.0l-1.2 -2.1M54.0 40.9l1.9 -0.4M53.3 42.4l0.7 2.2M91.6 38.1l0.5 -1.9M92.2 39.5l1.6 0.5M90.8 40.3l-0.9 1.9M90.4 38.6l-1.6 -1.1M94.4 42.3l1.0 1.7M-1.6 42.3l1.0 1.7M92.6 41.9l-2.2 1.0M-3.4 41.9l-2.2 1.0M93.8 40.3l0.1 -1.9M-2.2 40.3l0.1 -1.9M95.0 40.7l2.1 -1.1M-1.0 40.7l2.1 -1.1M2.2 1.5l0.4 -1.8M2.2 57.5l0.4 -1.8M98.2 1.5l0.4 -1.8M98.2 57.5l0.4 -1.8M2.7 3.2l1.3 1.2M2.7 59.2l1.3 1.2M98.7 3.2l1.3 1.2M98.7 59.2l1.3 1.2M1.2 3.3l-1.4 1.4M1.2 59.3l-1.4 1.4M97.2 3.3l-1.4 1.4M97.2 59.3l-1.4 1.4M0.9 2.5l-1.9 -0.0M0.9 58.5l-1.9 -0.0M96.9 2.5l-1.9 -0.0M96.9 58.5l-1.9 -0.0M72.5 22.2l-2.0 -0.9M74.7 22.0l2.0 -1.3M73.2 24.0l-0.8 2.3M24.7 22.8l-1.2 -1.9M26.4 24.2l1.9 0.6M24.5 24.6l-1.5 1.3M89.1 42.4l1.3 1.6M87.4 41.9l-1.7 0.6M87.9 40.7l-0.9 -1.4M89.3 41.1l1.7 -0.8M6.4 38.6l0.5 1.9M4.9 37.8l-2.2 0.6M6.1 36.2l-0.0 -2.3M7.4 37.3l2.3 -0.5M36.9 16.3l0.3 1.9M35.4 15.5l-2.4 0.4M36.6 14.2l-0.2 -1.8M37.9 15.2l2.2 -0.0M16.0 3.1l-1.4 1.2M16.0 59.1l-1.4 1.2M17.3 1.2l0.9 -2.3M17.3 57.2l0.9 -2.3M17.4 3.2l1.0 1.4M17.4 59.2l1.0 1.4M6.9 3.9l-0.5 1.8M6.9 59.9l-0.5 1.8M6.3 2.1l-1.7 -1.5M6.3 58.1l-1.7 -1.5M8.0 1.8l1.3 -1.9M8.0 57.8l1.3 -1.9M8.1 3.5l1.5 1.0M8.1 59.5l1.5 1.0M19.6 31.5l0.8 1.6M17.9 31.1l-2.1 1.0M18.7 29.5l-0.7 -1.9M19.9 29.9l1.3 -1.2M96.4 12.2l1.2 -1.8M0.4 12.2l1.2 -1.8M96.5 13.9l1.5 1.2M0.5 13.9l1.5 1.2M95.2 14.0l-0.9 1.5M-0.8 14.0l-0.9 1.5M94.7 12.7l-1.8 -0.8M-1.3 12.7l-1.8 -0.8M92.5 10.5l1.2 -2.1M92.6 12.8l1.4 1.9M91.3 12.7l-1.0 1.8M90.9 11.5l-1.8 -0.5M95.8 22.9l0.9 2.0M-0.2 22.9l0.9 2.0M94.2 22.4l-2.0 1.1M-1.8 22.4l-2.0 1.1M94.4 21.3l-1.5 -0.8M-1.6 21.3l-1.5 -0.8M96.0 21.0l1.2 -1.2M-0.0 21.0l1.2 -1.2M86.5 9.6l-1.6 -0.5M88.5 9.1l1.9 -1.3M88.1 10.6l1.2 1.2M53.6 36.5l2.0 0.5M52.2 37.2l-0.5 1.6M51.4 36.0l-1.9 -0.4M51.9 35.1l-1.0 -2.0M39.4 20.4l-0.3 -2.0M40.4 22.1l1.5 1.0M38.4 22.2l-2.0 1.1M60.2 14.9l-0.9 1.7M59.4 13.6l-2.3 -0.6M61.3 13.2l1.1 -1.4M61.9 14.6l2.1 1.2M95.7 52.5l0.9 1.5M-0.3 52.5l0.9 1.5M94.2 51.7l-1.7 -0.0M-1.8 51.7l-1.7 -0.0M95.0 50.6l-0.2 -1.9M-1.0 50.6l-0.2 -1.9M96.3 51.6l2.0 -0.2M0.3 51.6l2.0 -0.2M91.3 41.8l1.5 0.7M90.0 42.4l-0.8 1.8M89.3 41.3l-2.0 -0.0M90.6 40.2l0.3 -2.0M60.2 6.5l1.8 0.0M58.6 7.3l-1.1 1.4M58.2 6.2l-1.9 -0.4M59.7 5.5l0.7 -1.8M82.0 41.9l1.5 -1.3M82.4 42.8l2.2 0.4M80.8 43.8l-0.7 2.1M80.1 42.3l-2.0 -0.5M10.1 33.7l2.1 1.2M8.0 33.5l-1.7 0.8M9.0 31.7l0.2 -2.4M62.9 43.2l1.7 0.7M61.2 43.7l-1.3 1.7M61.2 41.9l-1.4 -1.6M62.7 41.7l1.3 -1.9M51.2 26.3l0.9 -1.6M51.6 28.1l1.5 1.5M49.8 27.5l-1.6 0.5M56.7 23.2l1.6 1.6M55.0 23.2l-1.5 1.6M54.9 21.6l-1.6 -1.3M56.5 21.4l1.2 -1.6M52.9 1.1l-2.4 -0.4M52.9 57.1l-2.4 -0.4M54.3 0.1l0.1 -2.2M54.3 56.1l0.1 -2.2M55.2 1.5l1.7 0.4M55.2 57.5l1.7 0.4M53.7 2.3l-0.9 1.8M53.7 58.3l-0.9 1.8M91.1 48.6l-1.9 -0.4M-4.9 48.6l-1.9 -0.4M92.3 47.7l0.3 -2.1M-3.7 47.7l0.3 -2.1M93.2 49.1l1.8 0.3M-2.8 49.1l1.8 0.3M92.0 50.0l-0.2 2.0M-4.0 50.0l-0.2 2.0M17.9 5.2l1.5 1.9M16.1 4.9l-1.8 1.4M16.6 2.9l-0.8 -2.3M17.8 3.3l1.2 -1.5M83.3 18.3l-1.7 -0.5M85.2 17.9l1.8 -1.2M84.6 19.8l0.7 2.1M59.2 12.2l1.5 -0.8M59.2 13.2l1.4 1.1M58.0 13.5l-0.7 1.7M57.9 11.8l-0.9 -1.4M38.1 39.7l-2.0 -1.2M39.2 39.2l-0.2 -1.9M40.4 40.7l2.0 0.7M39.3 41.4l-0.0 2.0M32.3 4.1l-1.1 1.8M32.3 60.1l-1.1 1.8M32.1 2.4l-1.4 -1.2M32.1 58.4l-1.4 -1.2M33.6 2.3l1.3 -1.5M33.6 58.3l1.3 -1.5M34.0 3.8l1.9 1.1M34.0 59.8l1.9 1.1M66.2 52.4l2.2 -0.3M66.2 -3.6l2.2 -0.3M64.1 53.4l-1.5 1.5M64.1 -2.6l-1.5 1.5M64.5 51.7l-0.9 -1.6M64.5 -4.3l-0.9 -1.6M68.4 14.6l1.3 1.3M66.9 14.8l-1.3 1.7M66.5 13.6l-1.9 -0.5M67.9 12.7l0.5 -2.0M45.8 46.5l0.2 -1.8M46.1 48.5l0.7 1.8M44.7 47.4l-1.8 -0.2M12.4 2.1l1.8 -1.0M12.4 58.1l1.8 -1.0M12.0 3.5l1.2 1.6M12.0 59.5l1.2 1.6M10.9 3.6l-0.8 1.7M10.9 59.6l-0.8 1.7M10.5 1.8l-1.5 -1.4M10.5 57.8l-1.5 -1.4M6.9 28.0l2.0 0.2M5.1 28.8l-1.3 1.5M4.5 27.8l-2.4 -0.2M5.8 26.6l0.1 -2.3M38.5 26.3l1.6 -0.4M38.6 27.4l1.8 1.6M36.3 27.0l-2.2 0.9M36.8 25.8l-1.4 -1.2M90.1 26.3l-0.2 -2.1M91.3 27.3l2.0 -0.2M90.0 28.7l-0.4 2.3M88.8 27.6l-2.4 0.2M40.6 50.6l2.1 1.1M38.8 50.8l-1.1 1.4M38.8 49.1l-1.1 -1.6M39.9 49.0l0.9 -1.7M30.7 33.2l-1.7 -1.2M32.2 33.0l1.0 -1.6M31.4 35.3l-0.4 2.4M60.6 53.4l-1.7 -0.3M60.6 -2.6l-1.7 -0.3M61.8 52.7l0.5 -1.7M61.8 -3.3l0.5 -1.7M62.7 53.5l2.1 -0.2M62.7 -2.5l2.1 -0.2M61.3 54.6l-0.3 1.7M61.3 -1.4l-0.3 1.7M23.6 4.2l2.2 -0.4M22.1 5.8l-0.5 2.3M21.5 5.0l-1.6 0.9M22.4 3.2l0.1 -2.3M30.4 3.1l2.3 -0.5M30.4 59.1l2.3 -0.5M29.6 4.7l0.8 2.3M29.6 60.7l0.8 2.3M28.2 4.1l-1.7 1.2M28.2 60.1l-1.7 1.2M28.2 2.6l-1.6 -1.4M28.2 58.6l-1.6 -1.4M62.9 11.0l2.4 -0.1M61.5 12.1l-0.1 1.8M60.5 10.8l-1.9 -0.5M61.8 10.1l0.4 -1.8M34.3 40.0l-0.5 -2.3M35.7 41.2l2.1 -0.1M34.1 42.4l-0.7 1.9M33.6 40.9l-1.6 -0.9M63.8 32.6l-1.7 0.6M64.3 31.2l-0.8 -1.8M65.7 31.3l1.8 -1.7M65.4 33.2l1.2 1.6M67.9 6.2l-0.6 -2.3M69.5 6.9l2.2 -1.0M68.6 8.7l0.6 2.0M66.9 8.0l-2.3 0.8M52.7 47.4l-0.1 2.1M51.7 46.5l-1.9 0.5M52.7 45.1l-0.2 -1.9M53.6 46.7l1.5 0.8M32.8 5.9l-2.2 0.6M34.1 4.2l0.2 -2.4M35.0 5.7l1.7 0.2M34.2 6.7l0.4 2.0M68.4 17.8l0.6 2.3M67.2 15.5l-1.6 -1.8M69.0 15.9l1.7 -1.0M43.9 5.7l0.4 1.7M42.7 4.8l-1.8 0.1M43.9 3.8l0.4 -1.6M44.9 4.2l2.2 -0.8M20.6 21.6l1.7 1.5M18.9 21.7l-1.3 1.7M18.7 20.5l-1.7 -0.5M20.0 19.8l0.6 -1.8M36.9 10.4l-1.0 -1.6M38.3 10.4l1.5 -1.6M37.6 12.3l0.3 1.8M36.6 11.8l-1.5 0.9M34.4 29.3l2.3 -0.1M33.4 30.3l0.5 1.7M32.2 29.3l-1.7 -0.3M32.5 28.5l-1.1 -1.6M83.6 55.2l-0.7 2.3M83.6 -0.8l-0.7 2.3M82.9 53.7l-1.9 -0.4M82.9 -2.3l-1.9 -0.4M84.7 52.9l1.3 -1.9M84.7 -3.1l1.3 -1.9M85.0 54.8l1.9 1.5M85.0 -1.2l1.9 1.5M32.7 9.7l-1.6 -0.6M33.8 9.0l0.2 -1.8M34.6 9.9l1.7 -0.2M33.2 11.3l-0.8 2.2M1.5 45.2l0.9 1.8M97.5 45.2l0.9 1.8M0.0 43.9l-1.8 -0.6M96.0 43.9l-1.8 -0.6M2.1 43.8l2.0 -0.7M98.1 43.8l2.0 -0.7M47.3 7.1l-2.0 -1.3M48.5 6.6l0.2 -2.3M49.5 7.8l1.9 -0.1M48.3 8.9l-0.2 1.8M73.0 10.6l-1.1 1.6M72.4 9.6l-2.0 -0.3M73.9 8.5l0.6 -2.2M74.6 9.9l1.8 0.4M80.5 15.7l-1.5 -1.2M82.5 15.7l2.0 -1.2M82.0 17.3l1.3 1.6M80.6 17.1l-1.4 1.3M47.5 10.7l-1.7 1.0M47.6 9.2l-1.5 -1.7M49.0 9.3l0.9 -1.5M49.1 10.8l1.2 1.2M55.8 26.5l-0.9 -1.6M56.9 26.4l1.1 -1.8M57.2 28.2l1.5 1.5M55.9 28.7l-0.8 2.3M38.8 27.1l-1.3 1.7M38.5 25.6l-1.8 -0.9M40.1 25.1l1.2 -1.9M40.7 26.6l2.2 0.8M29.8 51.5l-2.4 -0.5M31.2 50.5l0.1 -2.2M32.1 51.7l1.8 -0.1M31.2 53.0l0.2 2.2M40.1 50.0l0.6 -1.9M40.4 51.9l0.9 1.5M38.5 51.4l-2.3 0.5M47.4 55.1l1.9 -0.5M47.4 -0.9l1.9 -0.5M47.0 56.0l1.2 1.2M47.0 0.0l1.2 1.2M45.2 55.8l-1.9 0.8M45.2 -0.2l-1.9 0.8M45.5 54.8l-1.4 -1.0M45.5 -1.2l-1.4 -1.0M20.6 38.9l0.8 2.1M19.2 37.8l-1.7 0.2M20.4 36.5l0.4 -2.1M21.1 37.7l1.7 0.1M93.6 52.1l0.9 -2.2M93.6 -3.9l0.9 -2.2M-2.4 52.1l0.9 -2.2M-2.4 -3.9l0.9 -2.2M94.0 53.8l1.6 0.9M94.0 -2.2l1.6 0.9M-2.0 53.8l1.6 0.9M-2.0 -2.2l1.6 0.9M92.8 54.5l-0.6 2.1M92.8 -1.5l-0.6 2.1M-3.2 54.5l-0.6 2.1M-3.2 -1.5l-0.6 2.1M91.9 53.1l-2.1 -0.3M91.9 -2.9l-2.1 -0.3M-4.1 53.1l-2.1 -0.3M-4.1 -2.9l-2.1 -0.3M43.4 8.5l1.2 1.3M42.0 8.5l-1.3 1.1M42.0 7.0l-1.4 -1.5M43.6 6.9l1.4 -1.7M77.3 51.2l1.2 -1.5M77.3 -4.8l1.2 -1.5M76.7 53.3l0.2 2.1M76.7 -2.7l0.2 2.1M75.4 52.1l-2.0 0.1M75.4 -3.9l-2.0 0.1M46.7 47.6l-1.3 -1.1M48.1 47.6l1.2 -1.1M48.4 48.5l1.8 0.5M47.0 49.5l-0.6 2.3M1.7 40.5l-1.5 0.7M97.7 40.5l-1.5 0.7M1.9 39.3l-1.3 -1.4M97.9 39.3l-1.3 -1.4M3.8 39.8l2.2 -0.4M99.8 39.8l2.2 -0.4M3.0 40.9l0.7 1.6M99.0 40.9l0.7 1.6M31.0 20.3l-1.8 -1.0M32.8 20.0l1.3 -1.5M33.2 20.9l2.1 0.1M31.8 22.0l-0.4 2.0M80.4 54.1l0.4 2.2M80.4 -1.9l0.4 2.2M79.2 52.8l-1.7 -0.0M79.2 -3.2l-1.7 -0.0M80.0 51.9l-0.3 -1.6M80.0 -4.1l-0.3 -1.6M81.1 52.4l1.7 -0.8M81.1 -3.6l1.7 -0.8M6.7 -1.0l-1.3 -1.8M6.7 55.0l-1.3 -1.8M8.2 -1.1l1.3 -1.9M8.2 54.9l1.3 -1.9M7.8 1.2l0.7 2.1M7.8 57.2l0.7 2.1M6.6 0.7l-1.4 1.3M6.6 56.7l-1.4 1.3M69.7 13.4l2.4 -0.2M68.5 14.5l0.2 1.8M67.2 13.7l-2.1 0.4M68.1 12.3l-0.5 -2.1M46.9 23.6l-2.1 0.4M47.6 22.1l-0.9 -2.2M49.0 22.9l1.7 -0.7M48.1 24.5l-0.1 2.1M19.5 13.3l-1.1 -1.6M21.2 14.5l1.8 0.5M19.6 15.1l-0.9 1.7M55.5 16.2l1.5 1.2M53.9 16.1l-1.5 1.0M54.7 14.3l-0.0 -2.2M52.1 16.3l1.7 1.3M50.5 16.5l-1.2 1.7M50.3 14.9l-1.5 -1.1M52.2 14.9l1.8 -1.1M52.1 39.8l-1.1 -1.9M53.2 39.9l0.9 -1.7M53.4 42.0l1.2 2.1M52.0 41.5l-1.4 1.2M87.1 0.5l-1.8 0.3M87.1 56.5l-1.8 0.3M87.9 -0.7l-0.5 -1.9M87.9 55.3l-0.5 -1.9M89.2 -0.0l1.9 -0.7M89.2 56.0l1.9 -0.7M88.9 1.1l1.4 1.3M88.9 57.1l1.4 1.3M13.8 42.9l0.4 -2.0M13.7 45.2l0.2 2.2M12.5 44.0l-1.9 0.0M29.9 56.4l-0.7 2.2M29.9 0.4l-0.7 2.2M30.1 53.9l-0.3 -2.2M30.1 -2.1l-0.3 -2.2M31.3 55.5l1.7 0.7M31.3 -0.5l1.7 0.7M27.7 51.0l2.1 -0.1M27.0 51.9l1.0 1.4M25.2 51.4l-2.3 0.5M26.4 50.1l-0.2 -1.7M82.0 49.9l1.4 1.5M80.4 49.4l-1.5 0.7M82.0 48.3l1.3 -1.3M0.9 52.1l0.4 -2.0M0.9 -3.9l0.4 -2.0M96.9 52.1l0.4 -2.0M96.9 -3.9l0.4 -2.0M1.8 53.2l1.9 0.0M1.8 -2.8l1.9 0.0M97.8 53.2l1.9 0.0M97.8 -2.8l1.9 0.0M0.7 54.4l0.0 2.0M0.7 -1.6l0.0 2.0M96.7 54.4l0.0 2.0M96.7 -1.6l0.0 2.0M-0.3 52.8l-1.7 -0.7M-0.3 -3.2l-1.7 -0.7M95.7 52.8l-1.7 -0.7M95.7 -3.2l-1.7 -0.7M71.5 19.5l1.9 -0.5M70.5 20.9l0.0 2.0M69.3 19.9l-2.0 0.2M70.0 18.6l-0.8 -2.1M38.9 21.8l0.5 2.2M38.0 19.7l-1.0 -1.4M39.5 19.7l1.6 -1.5M56.9 44.9l-1.1 1.6M57.0 42.7l-0.9 -2.2M58.8 44.2l2.3 0.4M8.6 49.8l-2.1 0.2M9.7 48.8l-0.1 -1.7M10.7 49.3l1.8 -0.7M9.8 50.8l0.0 1.9M15.7 25.9l0.5 2.1M14.2 25.1l-2.1 0.5M15.1 23.5l-0.5 -2.3M16.5 24.1l2.0 -1.1M17.9 9.2l0.0 2.3M17.1 7.2l-1.4 -1.3M18.5 7.1l1.2 -1.5M22.6 20.2l-1.9 1.0M23.6 18.3l-0.1 -2.3M24.5 20.4l1.5 1.3M30.2 53.2l-0.2 2.1M30.2 -2.8l-0.2 2.1M29.1 52.0l-2.2 -0.1M29.1 -4.0l-2.2 -0.1M30.6 51.1l0.5 -1.7M30.6 -4.9l0.5 -1.7M31.5 52.6l2.1 0.9M31.5 -3.4l2.1 0.9M68.0 5.4l-1.9 0.9M68.9 3.6l-0.3 -2.4M70.2 4.5l1.9 -0.7M69.4 6.2l0.6 2.2M90.6 46.2l1.2 -1.2M90.5 47.8l1.0 1.6M89.2 47.7l-1.2 1.5M89.1 45.8l-1.4 -1.9M58.4 21.1l-0.2 -1.7M59.2 22.7l1.3 1.1M57.8 23.1l-1.2 1.7M72.7 43.6l-1.0 -1.8M74.2 44.4l1.7 -0.3M73.4 45.8l0.3 2.2M72.1 45.2l-2.1 1.1M83.6 45.9l0.8 -1.6M84.4 46.5l2.1 -0.5M83.3 48.1l0.2 2.3M81.9 47.0l-2.4 0.3M30.1 11.9l-1.0 1.8M29.5 10.2l-2.0 -1.2M31.1 9.7l0.9 -2.0M31.7 11.5l2.0 1.3M30.0 27.8l1.1 1.4M28.4 27.7l-1.7 1.1M28.9 26.1l-0.9 -1.8M30.6 26.4l2.1 -1.1M43.7 54.6l1.6 -1.1M43.7 -1.4l1.6 -1.1M43.3 56.6l0.7 2.3M43.3 0.6l0.7 2.3M41.6 55.4l-2.2 0.3M41.6 -0.6l-2.2 0.3M42.0 54.4l-1.6 -1.6M42.0 -1.6l-1.6 -1.6M29.4 24.2l-1.8 0.5M29.9 22.9l-1.0 -1.7M31.1 22.9l1.2 -1.8M31.3 24.6l1.5 1.2M23.2 15.1l-1.7 -1.2M24.6 14.8l0.9 -1.8M25.0 16.3l1.6 1.0M23.6 17.0l-1.0 2.2M44.0 4.0l-1.7 -0.5M45.8 3.3l1.6 -1.7M45.7 5.0l1.3 1.3M44.8 5.4l-0.1 2.0M39.2 4.1l0.3 1.9M39.2 60.1l0.3 1.9M37.9 3.3l-2.0 0.5M37.9 59.3l-2.0 0.5M39.9 2.1l1.6 -1.6M39.9 58.1l1.6 -1.6M66.6 17.3l1.0 -1.9M66.9 18.9l1.7 1.0M65.4 19.5l-1.1 2.0M65.2 17.8l-1.5 -1.1M25.9 48.5l0.5 -2.2M26.6 50.2l1.7 0.9M24.6 50.6l-1.8 1.6M24.8 48.6l-1.5 -1.9M28.2 7.7l0.6 1.7M26.8 6.9l-1.9 0.2M27.3 5.6l-1.0 -2.1M28.9 6.3l1.9 -0.9M66.4 7.7l0.8 1.9M64.9 6.6l-1.8 0.0M65.8 5.3l-0.2 -2.3M67.0 6.7l1.8 0.2M67.6 7.1l-0.6 -2.2M69.2 8.6l2.3 0.4M67.7 9.4l-0.4 1.9M66.8 8.0l-2.0 -0.6M17.0 31.6l1.6 -1.7M16.9 33.3l1.5 1.3M15.3 33.1l-1.4 0.9M15.5 31.6l-1.0 -1.7M74.2 5.3l0.2 2.1M73.1 3.9l-1.7 -0.3M74.1 3.0l0.0 -2.0M75.2 4.5l2.0 0.7M77.7 13.9l-0.2 2.6M83.9 26.4l-0.4 -1.8M58.8 30.6l2.6 -1.2M93.7 11.1l-2.1 1.9M-2.3 11.1l-2.1 1.9M77.1 19.0l-0.6 -1.5M55.2 46.8l-2.0 1.6M93.1 2.0l2.0 -0.1M93.1 58.0l2.0 -0.1M-2.9 2.0l2.0 -0.1M-2.9 58.0l2.0 -0.1M65.8 8.1l-2.0 -0.6M45.2 34.7l-1.6 -1.5M76.0 19.4l2.5 -1.2M44.8 22.6l-1.7 0.8M88.6 45.4l2.9 0.3M34.2 37.0l-1.4 2.2M28.9 12.9l-0.9 -1.5M54.2 1.4l0.1 -2.1M54.2 57.4l0.1 -2.1M67.8 49.5l1.3 0.9M54.2 37.8l1.0 1.4M51.5 21.3l2.0 1.3M55.4 39.8l-1.6 -0.4M87.7 3.0l-0.1 -2.5M87.7 59.0l-0.1 -2.5M14.5 46.8l1.2 1.9M71.9 42.1l-0.3 -2.5M89.8 22.4l0.7 2.1M83.3 24.8l1.4 -1.5M27.2 29.2l2.4 1.1M19.2 45.2l-0.0 -2.3M45.5 40.0l1.7 -0.3M55.2 21.3l2.2 1.5M76.8 50.2l1.4 -0.7M72.4 2.5l-2.0 -0.7M72.4 58.5l-2.0 -0.7M58.4 43.1l0.7 1.4M46.8 53.4l-0.8 -2.3M46.8 -2.6l-0.8 -2.3M5.8 24.7l-1.7 -1.7M43.2 50.1l-1.1 1.1M38.7 3.8l-0.1 -1.7M38.7 59.8l-0.1 -1.7M85.6 3.2l-1.9 0.3M85.6 59.2l-1.9 0.3M53.5 37.0l1.6 0.9M44.1 48.0l0.1 2.4M34.7 16.0l-0.5 2.0M38.2 29.8l-0.8 1.6M72.1 33.7l-2.4 -0.3M57.4 5.1l1.4 1.7M70.4 43.9l1.7 -2.3M37.9 37.8l-0.8 -2.1M88.3 8.8l-0.5 2.9M46.2 25.9l-1.3 0.9M33.5 43.5l1.7 1.4M31.5 35.7l1.5 -0.9M40.4 50.6l2.4 0.2M65.3 9.6l0.4 -2.0M29.7 33.5l-2.6 0.9M75.3 31.1l-2.3 0.3M35.3 51.9l-0.7 -1.5M15.4 24.6l-1.5 1.3M71.4 1.1l1.6 0.9M71.4 57.1l1.6 0.9M1.1 19.7l1.3 -0.7M97.1 19.7l1.3 -0.7M4.5 24.3l-2.0 0.7M16.5 26.5l-2.4 -1.2" stroke="#e31b17" stroke-width="1.55" fill="none" stroke-linecap="round"/><path d="M73.3 36.1l0.6 -1.0M73.3 36.1l1.0 0.5M73.3 36.1l-0.9 1.0M73.3 36.1l-0.8 -0.6M60.5 42.3l-1.0 -0.5M60.5 42.3l-0.2 -1.1M60.5 42.3l1.2 0.4M60.5 42.3l0.2 1.0M24.4 26.4l0.3 1.3M24.4 26.4l-1.2 -0.5M24.4 26.4l-0.2 -1.0M24.4 26.4l1.3 -0.2M12.0 7.1l-0.3 -1.1M12.0 7.1l1.3 -0.1M12.0 7.1l-0.5 0.9M32.3 25.8l1.2 0.1M32.3 25.8l-0.6 0.9M32.3 25.8l-0.5 -1.0M39.3 13.5l0.5 -0.9M39.3 13.5l0.7 0.6M39.3 13.5l-1.0 0.6M39.3 13.5l-0.7 -0.8M27.6 41.3l1.0 -0.9M27.6 41.3l1.0 0.6M27.6 41.3l-0.9 0.5M27.6 41.3l-1.1 -0.5M12.8 3.1l0.3 1.1M12.8 59.1l0.3 1.1M12.8 3.1l-1.0 -0.2M12.8 59.1l-1.0 -0.2M12.8 3.1l0.5 -0.9M12.8 59.1l0.5 -0.9M77.3 35.7l0.6 -0.8M77.3 35.7l0.8 0.8M77.3 35.7l-1.2 0.2M8.3 23.1l0.9 -0.7M8.3 23.1l0.2 1.2M8.3 23.1l-0.9 -1.0M90.3 9.7l-1.0 0.2M90.3 9.7l0.3 -0.9M90.3 9.7l1.0 0.9M62.1 28.3l-1.0 -0.9M62.1 28.3l0.6 -1.1M62.1 28.3l0.6 0.9M62.1 28.3l-0.4 0.9M52.9 41.2l-1.1 0.5M52.9 41.2l-0.7 -1.2M52.9 41.2l1.0 -0.2M52.9 41.2l0.4 1.2M91.3 39.2l0.3 -1.1M91.3 39.2l0.9 0.3M91.3 39.2l-0.5 1.1M91.3 39.2l-0.9 -0.6M93.8 41.4l0.6 0.9M-2.2 41.4l0.6 0.9M93.8 41.4l-1.2 0.5M-2.2 41.4l-1.2 0.5M93.8 41.4l0.0 -1.1M-2.2 41.4l0.0 -1.1M93.8 41.4l1.2 -0.6M-2.2 41.4l1.2 -0.6M2.0 2.5l0.2 -1.0M2.0 58.5l0.2 -1.0M98.0 2.5l0.2 -1.0M98.0 58.5l0.2 -1.0M2.0 2.5l0.7 0.7M2.0 58.5l0.7 0.7M98.0 2.5l0.7 0.7M98.0 58.5l0.7 0.7M2.0 2.5l-0.8 0.8M2.0 58.5l-0.8 0.8M98.0 2.5l-0.8 0.8M98.0 58.5l-0.8 0.8M2.0 2.5l-1.1 -0.0M2.0 58.5l-1.1 -0.0M98.0 2.5l-1.1 -0.0M98.0 58.5l-1.1 -0.0M73.6 22.7l-1.1 -0.5M73.6 22.7l1.1 -0.7M73.6 22.7l-0.4 1.3M25.4 23.9l-0.7 -1.1M25.4 23.9l1.1 0.3M25.4 23.9l-0.8 0.7M88.4 41.5l0.7 0.9M88.4 41.5l-1.0 0.3M88.4 41.5l-0.5 -0.8M88.4 41.5l0.9 -0.4M6.2 37.5l0.3 1.1M6.2 37.5l-1.2 0.3M6.2 37.5l-0.0 -1.3M6.2 37.5l1.3 -0.3M36.7 15.2l0.2 1.1M36.7 15.2l-1.3 0.2M36.7 15.2l-0.1 -1.0M36.7 15.2l1.2 -0.0M16.8 2.4l-0.8 0.7M16.8 58.4l-0.8 0.7M16.8 2.4l0.5 -1.3M16.8 58.4l0.5 -1.3M16.8 2.4l0.6 0.8M16.8 58.4l0.6 0.8M7.2 2.9l-0.3 1.0M7.2 58.9l-0.3 1.0M7.2 2.9l-1.0 -0.8M7.2 58.9l-1.0 -0.8M7.2 2.9l0.7 -1.1M7.2 58.9l0.7 -1.1M7.2 2.9l0.9 0.6M7.2 58.9l0.9 0.6M19.1 30.6l0.4 0.9M19.1 30.6l-1.2 0.5M19.1 30.6l-0.4 -1.1M19.1 30.6l0.8 -0.7M95.7 13.2l0.7 -1.0M-0.3 13.2l0.7 -1.0M95.7 13.2l0.8 0.7M-0.3 13.2l0.8 0.7M95.7 13.2l-0.5 0.9M-0.3 13.2l-0.5 0.9M95.7 13.2l-1.0 -0.4M-0.3 13.2l-1.0 -0.4M91.9 11.7l0.6 -1.2M91.9 11.7l0.8 1.1M91.9 11.7l-0.5 1.0M91.9 11.7l-1.0 -0.3M95.3 21.7l0.5 1.1M-0.7 21.7l0.5 1.1M95.3 21.7l-1.1 0.6M-0.7 21.7l-1.1 0.6M95.3 21.7l-0.9 -0.4M-0.7 21.7l-0.9 -0.4M95.3 21.7l0.7 -0.7M-0.7 21.7l0.7 -0.7M87.5 9.9l-0.9 -0.3M87.5 9.9l1.1 -0.7M87.5 9.9l0.7 0.7M52.5 36.3l1.1 0.3M52.5 36.3l-0.3 0.9M52.5 36.3l-1.0 -0.2M52.5 36.3l-0.6 -1.1M39.5 21.6l-0.2 -1.1M39.5 21.6l0.8 0.6M39.5 21.6l-1.1 0.6M60.7 14.0l-0.5 1.0M60.7 14.0l-1.3 -0.3M60.7 14.0l0.6 -0.8M60.7 14.0l1.2 0.7M95.1 51.7l0.5 0.8M-0.9 51.7l0.5 0.8M95.1 51.7l-1.0 -0.0M-0.9 51.7l-1.0 -0.0M95.1 51.7l-0.1 -1.1M-0.9 51.7l-0.1 -1.1M95.1 51.7l1.1 -0.1M-0.9 51.7l1.1 -0.1M90.5 41.3l0.9 0.4M90.5 41.3l-0.4 1.0M90.5 41.3l-1.1 -0.0M90.5 41.3l0.2 -1.1M59.2 6.5l1.0 0.0M59.2 6.5l-0.6 0.8M59.2 6.5l-1.1 -0.3M59.2 6.5l0.4 -1.0M81.2 42.6l0.8 -0.7M81.2 42.6l1.2 0.2M81.2 42.6l-0.4 1.2M81.2 42.6l-1.1 -0.3M8.9 33.0l1.2 0.7M8.9 33.0l-0.9 0.4M8.9 33.0l0.1 -1.4M62.0 42.8l1.0 0.4M62.0 42.8l-0.7 0.9M62.0 42.8l-0.8 -0.9M62.0 42.8l0.8 -1.1M50.7 27.2l0.5 -0.9M50.7 27.2l0.8 0.8M50.7 27.2l-0.9 0.3M55.8 22.3l0.9 0.9M55.8 22.3l-0.8 0.9M55.8 22.3l-0.9 -0.7M55.8 22.3l0.7 -0.9M54.2 1.3l-1.3 -0.2M54.2 57.3l-1.3 -0.2M54.2 1.3l0.1 -1.2M54.2 57.3l0.1 -1.2M54.2 1.3l1.0 0.2M54.2 57.3l1.0 0.2M54.2 1.3l-0.5 1.0M54.2 57.3l-0.5 1.0M92.2 48.9l-1.0 -0.3M-3.8 48.9l-1.0 -0.3M92.2 48.9l0.2 -1.2M-3.8 48.9l0.2 -1.2M92.2 48.9l1.0 0.2M-3.8 48.9l1.0 0.2M92.2 48.9l-0.1 1.1M-3.8 48.9l-0.1 1.1M17.1 4.1l0.8 1.1M17.1 4.1l-1.0 0.8M17.1 4.1l-0.5 -1.3M17.1 4.1l0.7 -0.9M84.2 18.6l-1.0 -0.3M84.2 18.6l1.0 -0.7M84.2 18.6l0.4 1.2M58.4 12.6l0.8 -0.4M58.4 12.6l0.8 0.6M58.4 12.6l-0.4 0.9M58.4 12.6l-0.5 -0.8M39.3 40.3l-1.1 -0.7M39.3 40.3l-0.1 -1.1M39.3 40.3l1.1 0.4M39.3 40.3l-0.0 1.1M32.9 3.1l-0.6 1.0M32.9 59.1l-0.6 1.0M32.9 3.1l-0.8 -0.7M32.9 59.1l-0.8 -0.7M32.9 3.1l0.8 -0.9M32.9 59.1l0.8 -0.9M32.9 3.1l1.1 0.6M32.9 59.1l1.1 0.6M65.0 52.6l1.2 -0.2M65.0 -3.4l1.2 -0.2M65.0 52.6l-0.9 0.8M65.0 -3.4l-0.9 0.8M65.0 52.6l-0.5 -0.9M65.0 -3.4l-0.5 -0.9M67.6 13.8l0.7 0.7M67.6 13.8l-0.7 1.0M67.6 13.8l-1.1 -0.3M67.6 13.8l0.3 -1.1M45.7 47.5l0.1 -1.0M45.7 47.5l0.4 1.0M45.7 47.5l-1.0 -0.1M11.3 2.6l1.0 -0.5M11.3 58.6l1.0 -0.5M11.3 2.6l0.7 0.9M11.3 58.6l0.7 0.9M11.3 2.6l-0.4 0.9M11.3 58.6l-0.4 0.9M11.3 2.6l-0.8 -0.8M11.3 58.6l-0.8 -0.8M5.8 27.9l1.1 0.1M5.8 27.9l-0.7 0.9M5.8 27.9l-1.3 -0.1M5.8 27.9l0.0 -1.3M37.6 26.5l0.9 -0.2M37.6 26.5l1.0 0.9M37.6 26.5l-1.2 0.5M37.6 26.5l-0.8 -0.7M90.2 27.4l-0.1 -1.2M90.2 27.4l1.1 -0.1M90.2 27.4l-0.2 1.3M90.2 27.4l-1.4 0.1M39.4 50.0l1.2 0.6M39.4 50.0l-0.6 0.8M39.4 50.0l-0.6 -0.9M39.4 50.0l0.5 -1.0M31.6 33.9l-1.0 -0.7M31.6 33.9l0.6 -0.9M31.6 33.9l-0.2 1.4M61.5 53.6l-0.9 -0.2M61.5 -2.4l-0.9 -0.2M61.5 53.6l0.3 -0.9M61.5 -2.4l0.3 -0.9M61.5 53.6l1.2 -0.1M61.5 -2.4l1.2 -0.1M61.5 53.6l-0.2 1.0M61.5 -2.4l-0.2 1.0M22.3 4.5l1.2 -0.2M22.3 4.5l-0.3 1.3M22.3 4.5l-0.9 0.5M22.3 4.5l0.1 -1.3M29.1 3.4l1.3 -0.3M29.1 59.4l1.3 -0.3M29.1 3.4l0.4 1.3M29.1 59.4l0.4 1.3M29.1 3.4l-0.9 0.7M29.1 59.4l-0.9 0.7M29.1 3.4l-0.9 -0.8M29.1 59.4l-0.9 -0.8M61.5 11.1l1.4 -0.1M61.5 11.1l-0.1 1.0M61.5 11.1l-1.0 -0.3M61.5 11.1l0.2 -1.0M34.6 41.3l-0.3 -1.3M34.6 41.3l1.2 -0.1M34.6 41.3l-0.4 1.1M34.6 41.3l-0.9 -0.5M64.7 32.3l-1.0 0.4M64.7 32.3l-0.4 -1.0M64.7 32.3l1.0 -0.9M64.7 32.3l0.7 0.9M68.2 7.5l-0.3 -1.3M68.2 7.5l1.2 -0.6M68.2 7.5l0.3 1.1M68.2 7.5l-1.3 0.5M52.8 46.2l-0.1 1.2M52.8 46.2l-1.1 0.3M52.8 46.2l-0.1 -1.1M52.8 46.2l0.9 0.4M34.0 5.6l-1.2 0.3M34.0 5.6l0.1 -1.3M34.0 5.6l1.0 0.1M34.0 5.6l0.2 1.1M68.1 16.5l0.3 1.3M68.1 16.5l-0.9 -1.0M68.1 16.5l0.9 -0.5M43.7 4.7l0.2 1.0M43.7 4.7l-1.0 0.1M43.7 4.7l0.2 -0.9M43.7 4.7l1.2 -0.5M19.7 20.7l1.0 0.8M19.7 20.7l-0.7 0.9M19.7 20.7l-1.0 -0.3M19.7 20.7l0.4 -1.0M37.4 11.3l-0.6 -0.9M37.4 11.3l0.8 -0.9M37.4 11.3l0.2 1.0M37.4 11.3l-0.8 0.5M33.1 29.4l1.3 -0.1M33.1 29.4l0.3 0.9M33.1 29.4l-1.0 -0.2M33.1 29.4l-0.6 -0.9M84.0 54.0l-0.4 1.3M84.0 -2.0l-0.4 1.3M84.0 54.0l-1.1 -0.2M84.0 -2.0l-1.1 -0.2M84.0 54.0l0.7 -1.1M84.0 -2.0l0.7 -1.1M84.0 54.0l1.1 0.9M84.0 -2.0l1.1 0.9M33.6 10.0l-0.9 -0.4M33.6 10.0l0.1 -1.0M33.6 10.0l1.0 -0.1M33.6 10.0l-0.5 1.2M1.0 44.2l0.5 1.0M97.0 44.2l0.5 1.0M1.0 44.2l-1.0 -0.3M97.0 44.2l-1.0 -0.3M1.0 44.2l1.1 -0.4M97.0 44.2l1.1 -0.4M48.4 7.9l-1.1 -0.7M48.4 7.9l0.1 -1.3M48.4 7.9l1.0 -0.1M48.4 7.9l-0.1 1.0M73.6 9.7l-0.6 0.9M73.6 9.7l-1.1 -0.1M73.6 9.7l0.3 -1.3M73.6 9.7l1.0 0.2M81.3 16.4l-0.8 -0.7M81.3 16.4l1.1 -0.7M81.3 16.4l0.7 0.9M81.3 16.4l-0.8 0.8M48.5 10.1l-0.9 0.6M48.5 10.1l-0.8 -0.9M48.5 10.1l0.5 -0.9M48.5 10.1l0.7 0.7M56.3 27.4l-0.5 -0.9M56.3 27.4l0.6 -1.0M56.3 27.4l0.9 0.8M56.3 27.4l-0.4 1.3M39.5 26.1l-0.7 1.0M39.5 26.1l-1.0 -0.5M39.5 26.1l0.6 -1.1M39.5 26.1l1.2 0.5M31.1 51.8l-1.3 -0.3M31.1 51.8l0.0 -1.2M31.1 51.8l1.0 -0.1M31.1 51.8l0.1 1.3M39.8 51.1l0.3 -1.1M39.8 51.1l0.5 0.8M39.8 51.1l-1.3 0.3M46.3 55.3l1.0 -0.3M46.3 -0.7l1.0 -0.3M46.3 55.3l0.7 0.7M46.3 -0.7l0.7 0.7M46.3 55.3l-1.1 0.5M46.3 -0.7l-1.1 0.5M46.3 55.3l-0.8 -0.5M46.3 -0.7l-0.8 -0.5M20.2 37.7l0.4 1.2M20.2 37.7l-1.0 0.1M20.2 37.7l0.2 -1.2M20.2 37.7l1.0 0.0M93.1 53.3l0.5 -1.2M93.1 -2.7l0.5 -1.2M-2.9 53.3l0.5 -1.2M-2.9 -2.7l0.5 -1.2M93.1 53.3l0.9 0.5M93.1 -2.7l0.9 0.5M-2.9 53.3l0.9 0.5M-2.9 -2.7l0.9 0.5M93.1 53.3l-0.3 1.2M93.1 -2.7l-0.3 1.2M-2.9 53.3l-0.3 1.2M-2.9 -2.7l-0.3 1.2M93.1 53.3l-1.2 -0.2M93.1 -2.7l-1.2 -0.2M-2.9 53.3l-1.2 -0.2M-2.9 -2.7l-1.2 -0.2M42.8 7.8l0.7 0.7M42.8 7.8l-0.7 0.6M42.8 7.8l-0.8 -0.8M42.8 7.8l0.8 -0.9M76.6 52.1l0.7 -0.8M76.6 -3.9l0.7 -0.8M76.6 52.1l0.1 1.2M76.6 -3.9l0.1 1.2M76.6 52.1l-1.1 0.1M76.6 -3.9l-1.1 0.1M47.4 48.2l-0.7 -0.6M47.4 48.2l0.7 -0.6M47.4 48.2l1.0 0.3M47.4 48.2l-0.3 1.3M2.6 40.1l-0.9 0.4M98.6 40.1l-0.9 0.4M2.6 40.1l-0.7 -0.8M98.6 40.1l-0.7 -0.8M2.6 40.1l1.2 -0.2M98.6 40.1l1.2 -0.2M2.6 40.1l0.4 0.9M98.6 40.1l0.4 0.9M32.0 20.9l-1.0 -0.6M32.0 20.9l0.7 -0.8M32.0 20.9l1.2 0.1M32.0 20.9l-0.2 1.1M80.2 52.8l0.2 1.2M80.2 -3.2l0.2 1.2M80.2 52.8l-1.0 -0.0M80.2 -3.2l-1.0 -0.0M80.2 52.8l-0.2 -0.9M80.2 -3.2l-0.2 -0.9M80.2 52.8l1.0 -0.5M80.2 -3.2l1.0 -0.5M7.4 0.0l-0.7 -1.0M7.4 56.0l-0.7 -1.0M7.4 0.0l0.8 -1.1M7.4 56.0l0.8 -1.1M7.4 0.0l0.4 1.2M7.4 56.0l0.4 1.2M7.4 0.0l-0.8 0.7M7.4 56.0l-0.8 0.7M68.4 13.5l1.4 -0.1M68.4 13.5l0.1 1.0M68.4 13.5l-1.2 0.2M68.4 13.5l-0.3 -1.2M48.1 23.3l-1.2 0.2M48.1 23.3l-0.5 -1.2M48.1 23.3l1.0 -0.4M48.1 23.3l-0.0 1.2M20.1 14.2l-0.6 -0.9M20.1 14.2l1.0 0.3M20.1 14.2l-0.5 1.0M54.7 15.5l0.8 0.7M54.7 15.5l-0.8 0.6M54.7 15.5l-0.0 -1.2M51.2 15.5l1.0 0.8M51.2 15.5l-0.7 0.9M51.2 15.5l-0.9 -0.6M51.2 15.5l1.0 -0.6M52.7 40.8l-0.6 -1.0M52.7 40.8l0.5 -1.0M52.7 40.8l0.7 1.2M52.7 40.8l-0.8 0.7M88.1 0.4l-1.0 0.2M88.1 56.4l-1.0 0.2M88.1 0.4l-0.3 -1.1M88.1 56.4l-0.3 -1.1M88.1 0.4l1.1 -0.4M88.1 56.4l1.1 -0.4M88.1 0.4l0.8 0.7M88.1 56.4l0.8 0.7M13.6 44.0l0.2 -1.1M13.6 44.0l0.1 1.2M13.6 44.0l-1.1 0.0M30.3 55.1l-0.4 1.2M30.3 -0.9l-0.4 1.2M30.3 55.1l-0.2 -1.2M30.3 -0.9l-0.2 -1.2M30.3 55.1l1.0 0.4M30.3 -0.9l1.0 0.4M26.5 51.1l1.2 -0.0M26.5 51.1l0.6 0.8M26.5 51.1l-1.3 0.3M26.5 51.1l-0.1 -1.0M81.2 49.1l0.8 0.8M81.2 49.1l-0.9 0.4M81.2 49.1l0.7 -0.7M0.7 53.2l0.2 -1.1M0.7 -2.8l0.2 -1.1M96.7 53.2l0.2 -1.1M96.7 -2.8l0.2 -1.1M0.7 53.2l1.1 0.0M0.7 -2.8l1.1 0.0M96.7 53.2l1.1 0.0M96.7 -2.8l1.1 0.0M0.7 53.2l0.0 1.1M0.7 -2.8l0.0 1.1M96.7 53.2l0.0 1.1M96.7 -2.8l0.0 1.1M0.7 53.2l-1.0 -0.4M0.7 -2.8l-1.0 -0.4M96.7 53.2l-1.0 -0.4M96.7 -2.8l-1.0 -0.4M70.5 19.7l1.0 -0.3M70.5 19.7l0.0 1.1M70.5 19.7l-1.1 0.1M70.5 19.7l-0.4 -1.2M38.6 20.6l0.3 1.2M38.6 20.6l-0.6 -0.8M38.6 20.6l0.9 -0.8M57.5 43.9l-0.6 0.9M57.5 43.9l-0.5 -1.2M57.5 43.9l1.3 0.2M9.7 49.7l-1.2 0.1M9.7 49.7l-0.0 -0.9M9.7 49.7l1.0 -0.4M9.7 49.7l0.0 1.1M15.4 24.8l0.3 1.2M15.4 24.8l-1.2 0.3M15.4 24.8l-0.3 -1.3M15.4 24.8l1.2 -0.6M17.9 7.9l0.0 1.3M17.9 7.9l-0.8 -0.7M17.9 7.9l0.7 -0.8M23.6 19.6l-1.0 0.5M23.6 19.6l-0.0 -1.3M23.6 19.6l0.8 0.7M30.3 52.1l-0.1 1.2M30.3 -3.9l-0.1 1.2M30.3 52.1l-1.2 -0.1M30.3 -3.9l-1.2 -0.1M30.3 52.1l0.3 -0.9M30.3 -3.9l0.3 -0.9M30.3 52.1l1.2 0.5M30.3 -3.9l1.2 0.5M69.1 4.9l-1.1 0.5M69.1 4.9l-0.2 -1.3M69.1 4.9l1.1 -0.4M69.1 4.9l0.3 1.2M89.9 46.9l0.7 -0.7M89.9 46.9l0.5 0.9M89.9 46.9l-0.7 0.9M89.9 46.9l-0.8 -1.1M58.5 22.1l-0.1 -1.0M58.5 22.1l0.7 0.6M58.5 22.1l-0.7 1.0M73.2 44.6l-0.6 -1.0M73.2 44.6l1.0 -0.2M73.2 44.6l0.1 1.2M73.2 44.6l-1.2 0.6M83.2 46.8l0.5 -0.9M83.2 46.8l1.2 -0.3M83.2 46.8l0.1 1.3M83.2 46.8l-1.3 0.1M30.6 10.8l-0.5 1.0M30.6 10.8l-1.1 -0.7M30.6 10.8l0.5 -1.1M30.6 10.8l1.1 0.7M29.4 27.0l0.6 0.8M29.4 27.0l-0.9 0.6M29.4 27.0l-0.5 -1.0M29.4 27.0l1.2 -0.6M42.9 55.3l0.9 -0.6M42.9 -0.7l0.9 -0.6M42.9 55.3l0.4 1.3M42.9 -0.7l0.4 1.3M42.9 55.3l-1.2 0.1M42.9 -0.7l-1.2 0.1M42.9 55.3l-0.9 -0.9M42.9 -0.7l-0.9 -0.9M30.4 23.9l-1.0 0.3M30.4 23.9l-0.5 -1.0M30.4 23.9l0.7 -1.0M30.4 23.9l0.8 0.7M24.1 15.8l-1.0 -0.7M24.1 15.8l0.5 -1.0M24.1 15.8l0.9 0.5M24.1 15.8l-0.5 1.2M44.9 4.3l-1.0 -0.3M44.9 4.3l0.9 -1.0M44.9 4.3l0.8 0.7M44.9 4.3l-0.1 1.1M39.0 3.0l0.2 1.1M39.0 59.0l0.2 1.1M39.0 3.0l-1.1 0.3M39.0 59.0l-1.1 0.3M39.0 3.0l0.9 -0.9M39.0 59.0l0.9 -0.9M66.0 18.4l0.5 -1.1M66.0 18.4l0.9 0.6M66.0 18.4l-0.6 1.1M66.0 18.4l-0.8 -0.6M25.6 49.7l0.3 -1.2M25.6 49.7l1.0 0.5M25.6 49.7l-1.0 0.9M25.6 49.7l-0.8 -1.0M27.8 6.8l0.4 0.9M27.8 6.8l-1.1 0.1M27.8 6.8l-0.5 -1.2M27.8 6.8l1.1 -0.5M66.0 6.6l0.5 1.1M66.0 6.6l-1.0 0.0M66.0 6.6l-0.1 -1.3M66.0 6.6l1.0 0.1M68.0 8.3l-0.3 -1.2M68.0 8.3l1.3 0.2M68.0 8.3l-0.2 1.1M68.0 8.3l-1.1 -0.3M16.1 32.6l0.9 -1.0M16.1 32.6l0.8 0.7M16.1 32.6l-0.8 0.5M16.1 32.6l-0.6 -1.0M74.1 4.1l0.1 1.2M74.1 4.1l-0.9 -0.2M74.1 4.1l0.0 -1.1M74.1 4.1l1.2 0.4" stroke="#f5e51a" stroke-width="1.3" fill="none" stroke-linecap="round"/><path d="M28.7 48.5h0M26.7 47.2h0M1.9 52.1h0M97.9 52.1h0M77.4 21.2h0M9.4 31.8h0M8.9 29.5h0M62.1 23.6h0M95.0 13.4h0M-1.0 13.4h0M96.9 12.1h0M0.9 12.1h0M46.4 9.8h0M56.1 16.9h0M31.0 55.0h0M31.0 -1.0h0M41.2 29.1h0M30.4 10.0h0M63.1 3.7h0M54.6 27.6h0M20.5 49.8h0M68.0 46.5h0M72.5 41.4h0M74.5 40.1h0M88.6 45.5h0M86.3 46.0h0M8.2 51.2h0M8.8 48.9h0M15.8 34.5h0M21.4 6.9h0M4.8 28.5h0M74.4 7.2h0M64.1 42.9h0M61.7 42.9h0M1.9 6.9h0M97.9 6.9h0M0.1 5.3h0M96.1 5.3h0M5.2 11.7h0M3.2 13.2h0M14.8 50.6h0M88.2 7.1h0M90.5 7.8h0M2.8 21.4h0M81.0 18.0h0M34.3 38.4h0M35.4 36.2h0M84.4 44.3h0M86.1 46.0h0M18.2 2.0h0M18.2 58.0h0M60.0 30.2h0M75.7 41.7h0M75.8 44.1h0M31.8 31.1h0M74.9 54.4h0M74.9 -1.6h0M75.4 52.0h0M94.7 0.4h0M94.7 56.4h0M-1.3 0.4h0M-1.3 56.4h0M96.6 -1.0h0M96.6 55.0h0M0.6 -1.0h0M0.6 55.0h0M0.1 10.0h0M96.1 10.0h0M-1.4 11.9h0M94.6 11.9h0M60.3 55.3h0M60.3 -0.7h0M58.8 53.5h0M58.8 -2.5h0M75.9 49.4h0M56.8 6.5h0M54.5 5.9h0M68.3 18.2h0M68.1 15.8h0M83.7 35.8h0M81.4 35.0h0M3.0 34.4h0M16.6 5.2h0M84.2 5.6h0M64.0 20.5h0M66.4 20.3h0M0.1 48.9h0M96.1 48.9h0M-2.1 48.2h0M93.9 48.2h0M73.2 10.5h0M58.1 19.9h0M48.5 4.9h0M20.9 54.0h0M20.9 -2.0h0M63.8 32.3h0M54.7 36.2h0M42.8 9.9h0M32.7 48.9h0M84.4 23.1h0M90.8 55.4h0M90.8 -0.6h0M89.3 57.3h0M89.3 1.3h0M24.9 21.2h0M26.5 19.5h0M38.8 9.9h0M32.4 2.0h0M32.4 58.0h0M81.4 51.1h0M81.6 53.5h0M81.6 -2.5h0M79.4 45.2h0M87.3 31.1h0M32.0 44.3h0M57.2 10.5h0M56.7 8.2h0M15.9 28.9h0M17.3 30.9h0M35.8 46.1h0M67.1 37.6h0M69.1 39.0h0M63.3 9.9h0M66.9 28.5h0M21.4 26.3h0M39.5 53.6h0M39.5 -2.4h0M27.2 27.9h0M77.9 0.8h0M77.9 56.8h0M39.8 40.3h0M40.0 38.0h0M51.5 8.1h0M72.6 0.2h0M72.6 56.2h0M91.8 40.6h0M90.7 38.4h0M95.8 27.2h0M-0.2 27.2h0M78.3 35.1h0M87.1 13.8h0M74.0 45.8h0M46.7 27.9h0M46.5 49.9h0M48.9 50.0h0M9.9 19.5h0M42.9 55.9h0M42.9 -0.1h0M92.3 48.5h0M94.6 48.9h0M-1.4 48.9h0M70.4 27.7h0M66.2 4.8h0M65.5 7.1h0M8.1 25.5h0M14.9 44.3h0M8.4 10.9h0M32.4 6.2h0M32.7 8.6h0M74.1 28.5h0M57.7 25.0h0M90.7 5.0h0M93.2 20.5h0M23.3 29.5h0M37.9 16.9h0M36.7 14.8h0M23.7 13.5h0M41.4 4.9h0M94.6 5.4h0M-1.4 5.4h0M93.7 7.6h0M-2.3 7.6h0M82.2 26.8h0M95.5 17.9h0M-0.5 17.9h0M93.9 16.2h0M-2.1 16.2h0M25.4 41.9h0M49.7 37.1h0M48.7 34.9h0M66.8 0.0h0M66.8 56.0h0M57.7 53.3h0M57.7 55.7h0M57.7 -0.3h0M42.5 0.7h0M42.5 56.7h0M4.6 55.4h0M4.6 -0.6h0M30.2 25.2h0M44.8 30.5h0" stroke="#46c8bd" stroke-width="3.6" fill="none" stroke-linecap="round"/><path d="M28.7 48.5h0M26.7 47.2h0M1.9 52.1h0M97.9 52.1h0M77.4 21.2h0M9.4 31.8h0M8.9 29.5h0M62.1 23.6h0M95.0 13.4h0M-1.0 13.4h0M96.9 12.1h0M0.9 12.1h0M46.4 9.8h0M56.1 16.9h0M31.0 55.0h0M31.0 -1.0h0M41.2 29.1h0M30.4 10.0h0M63.1 3.7h0M54.6 27.6h0M20.5 49.8h0M68.0 46.5h0M72.5 41.4h0M74.5 40.1h0M88.6 45.5h0M86.3 46.0h0M8.2 51.2h0M8.8 48.9h0M15.8 34.5h0M21.4 6.9h0M4.8 28.5h0M74.4 7.2h0M64.1 42.9h0M61.7 42.9h0M1.9 6.9h0M97.9 6.9h0M0.1 5.3h0M96.1 5.3h0M5.2 11.7h0M3.2 13.2h0M14.8 50.6h0M88.2 7.1h0M90.5 7.8h0M2.8 21.4h0M81.0 18.0h0M34.3 38.4h0M35.4 36.2h0M84.4 44.3h0M86.1 46.0h0M18.2 2.0h0M18.2 58.0h0M60.0 30.2h0M75.7 41.7h0M75.8 44.1h0M31.8 31.1h0M74.9 54.4h0M74.9 -1.6h0M75.4 52.0h0M94.7 0.4h0M94.7 56.4h0M-1.3 0.4h0M-1.3 56.4h0M96.6 -1.0h0M96.6 55.0h0M0.6 -1.0h0M0.6 55.0h0M0.1 10.0h0M96.1 10.0h0M-1.4 11.9h0M94.6 11.9h0M60.3 55.3h0M60.3 -0.7h0M58.8 53.5h0M58.8 -2.5h0M75.9 49.4h0M56.8 6.5h0M54.5 5.9h0M68.3 18.2h0M68.1 15.8h0M83.7 35.8h0M81.4 35.0h0M3.0 34.4h0M16.6 5.2h0M84.2 5.6h0M64.0 20.5h0M66.4 20.3h0M0.1 48.9h0M96.1 48.9h0M-2.1 48.2h0M93.9 48.2h0M73.2 10.5h0M58.1 19.9h0M48.5 4.9h0M20.9 54.0h0M20.9 -2.0h0M63.8 32.3h0M54.7 36.2h0M42.8 9.9h0M32.7 48.9h0M84.4 23.1h0M90.8 55.4h0M90.8 -0.6h0M89.3 57.3h0M89.3 1.3h0M24.9 21.2h0M26.5 19.5h0M38.8 9.9h0M32.4 2.0h0M32.4 58.0h0M81.4 51.1h0M81.6 53.5h0M81.6 -2.5h0M79.4 45.2h0M87.3 31.1h0M32.0 44.3h0M57.2 10.5h0M56.7 8.2h0M15.9 28.9h0M17.3 30.9h0M35.8 46.1h0M67.1 37.6h0M69.1 39.0h0M63.3 9.9h0M66.9 28.5h0M21.4 26.3h0M39.5 53.6h0M39.5 -2.4h0M27.2 27.9h0M77.9 0.8h0M77.9 56.8h0M39.8 40.3h0M40.0 38.0h0M51.5 8.1h0M72.6 0.2h0M72.6 56.2h0M91.8 40.6h0M90.7 38.4h0M95.8 27.2h0M-0.2 27.2h0M78.3 35.1h0M87.1 13.8h0M74.0 45.8h0M46.7 27.9h0M46.5 49.9h0M48.9 50.0h0M9.9 19.5h0M42.9 55.9h0M42.9 -0.1h0M92.3 48.5h0M94.6 48.9h0M-1.4 48.9h0M70.4 27.7h0M66.2 4.8h0M65.5 7.1h0M8.1 25.5h0M14.9 44.3h0M8.4 10.9h0M32.4 6.2h0M32.7 8.6h0M74.1 28.5h0M57.7 25.0h0M90.7 5.0h0M93.2 20.5h0M23.3 29.5h0M37.9 16.9h0M36.7 14.8h0M23.7 13.5h0M41.4 4.9h0M94.6 5.4h0M-1.4 5.4h0M93.7 7.6h0M-2.3 7.6h0M82.2 26.8h0M95.5 17.9h0M-0.5 17.9h0M93.9 16.2h0M-2.1 16.2h0M25.4 41.9h0M49.7 37.1h0M48.7 34.9h0M66.8 0.0h0M66.8 56.0h0M57.7 53.3h0M57.7 55.7h0M57.7 -0.3h0M42.5 0.7h0M42.5 56.7h0M4.6 55.4h0M4.6 -0.6h0M30.2 25.2h0M44.8 30.5h0" stroke="#5fe3d8" stroke-width="2.8000000000000003" fill="none" stroke-linecap="round"/><path d="M28.2 48.0h0M26.2 46.7h0M1.4 51.6h0M97.4 51.6h0M76.9 20.7h0M8.9 31.3h0M8.4 29.0h0M61.6 23.1h0M94.5 12.9h0M-1.5 12.9h0M96.4 11.6h0M0.4 11.6h0M45.9 9.3h0M55.6 16.4h0M30.5 54.5h0M30.5 -1.5h0M40.7 28.6h0M29.9 9.5h0M62.6 3.2h0M54.1 27.1h0M20.0 49.3h0M67.5 46.0h0M72.0 40.9h0M74.0 39.6h0M88.1 45.0h0M85.8 45.5h0M7.7 50.7h0M8.3 48.4h0M15.3 34.0h0M20.9 6.4h0M4.3 28.0h0M73.9 6.7h0M63.6 42.4h0M61.2 42.4h0M1.4 6.4h0M97.4 6.4h0M-0.4 4.8h0M95.6 4.8h0M4.7 11.2h0M2.7 12.7h0M14.3 50.1h0M87.7 6.6h0M90.0 7.3h0M2.3 20.9h0M80.5 17.5h0M33.8 37.9h0M34.9 35.7h0M83.9 43.8h0M85.6 45.5h0M17.7 1.5h0M17.7 57.5h0M59.5 29.7h0M75.2 41.2h0M75.3 43.6h0M31.3 30.6h0M74.4 53.9h0M74.4 -2.1h0M74.9 51.5h0M94.2 -0.1h0M94.2 55.9h0M-1.8 -0.1h0M-1.8 55.9h0M96.1 -1.5h0M96.1 54.5h0M0.1 -1.5h0M0.1 54.5h0M-0.4 9.5h0M95.6 9.5h0M-1.9 11.4h0M94.1 11.4h0M59.8 54.8h0M59.8 -1.2h0M58.3 53.0h0M58.3 -3.0h0M75.4 48.9h0M56.3 6.0h0M54.0 5.4h0M67.8 17.7h0M67.6 15.3h0M83.2 35.3h0M80.9 34.5h0M2.5 33.9h0M16.1 4.7h0M83.7 5.1h0M63.5 20.0h0M65.9 19.8h0M-0.4 48.4h0M95.6 48.4h0M-2.6 47.7h0M93.4 47.7h0M72.7 10.0h0M57.6 19.4h0M48.0 4.4h0M20.4 53.5h0M20.4 -2.5h0M63.3 31.8h0M54.2 35.7h0M42.3 9.4h0M32.2 48.4h0M83.9 22.6h0M90.3 54.9h0M90.3 -1.1h0M88.8 56.8h0M88.8 0.8h0M24.4 20.7h0M26.0 19.0h0M38.3 9.4h0M31.9 1.5h0M31.9 57.5h0M80.9 50.6h0M81.1 53.0h0M81.1 -3.0h0M78.9 44.7h0M86.8 30.6h0M31.5 43.8h0M56.7 10.0h0M56.2 7.7h0M15.4 28.4h0M16.8 30.4h0M35.3 45.6h0M66.6 37.1h0M68.6 38.5h0M62.8 9.4h0M66.4 28.0h0M20.9 25.8h0M39.0 53.1h0M39.0 -2.9h0M26.7 27.4h0M77.4 0.3h0M77.4 56.3h0M39.3 39.8h0M39.5 37.5h0M51.0 7.6h0M72.1 -0.3h0M72.1 55.7h0M91.3 40.1h0M90.2 37.9h0M95.3 26.7h0M-0.7 26.7h0M77.8 34.6h0M86.6 13.3h0M73.5 45.3h0M46.2 27.4h0M46.0 49.4h0M48.4 49.5h0M9.4 19.0h0M42.4 55.4h0M42.4 -0.6h0M91.8 48.0h0M94.1 48.4h0M-1.9 48.4h0M69.9 27.2h0M65.7 4.3h0M65.0 6.6h0M7.6 25.0h0M14.4 43.8h0M7.9 10.4h0M31.9 5.7h0M32.2 8.1h0M73.6 28.0h0M57.2 24.5h0M90.2 4.5h0M92.7 20.0h0M22.8 29.0h0M37.4 16.4h0M36.2 14.3h0M23.2 13.0h0M40.9 4.4h0M94.1 4.9h0M-1.9 4.9h0M93.2 7.1h0M-2.8 7.1h0M81.7 26.3h0M95.0 17.4h0M-1.0 17.4h0M93.4 15.7h0M-2.6 15.7h0M24.9 41.4h0M49.2 36.6h0M48.2 34.4h0M66.3 -0.5h0M66.3 55.5h0M57.2 52.8h0M57.2 55.2h0M57.2 -0.8h0M42.0 0.2h0M42.0 56.2h0M4.1 54.9h0M4.1 -1.1h0M29.7 24.7h0M44.3 30.0h0" stroke="#9ff0e8" stroke-width="1.1" fill="none" stroke-linecap="round"/></pattern></defs>
<defs>
<linearGradient id="ga12" x1="0" y1="70" x2="0" y2="197" gradientUnits="userSpaceOnUse"><stop offset="0" stop-color="#c9ddf2" stop-opacity="0.6"/><stop offset="1" stop-color="#c9ddf2" stop-opacity="0.45"/></linearGradient>
<linearGradient id="ga15" x1="0" y1="70" x2="0" y2="197" gradientUnits="userSpaceOnUse"><stop offset="0" stop-color="#7aa9c4" stop-opacity="0.45"/><stop offset="1" stop-color="#7aa9c4" stop-opacity="0.25"/></linearGradient>
<linearGradient id="ga18" x1="0" y1="70" x2="0" y2="197" gradientUnits="userSpaceOnUse"><stop offset="0" stop-color="#3d7896" stop-opacity="0.42"/><stop offset="1" stop-color="#3d7896" stop-opacity="0.12"/></linearGradient>
</defs>
<path d="M29.6,165.0C34.7,163.5 49.9,160.2 60.0,156.2C70.1,152.2 82.7,145.8 90.0,141.2C97.3,136.6 100.3,132.9 104.1,128.8C107.9,124.7 110.0,122.1 113.0,116.5C116.0,110.9 119.0,101.9 121.8,95.3C124.6,88.7 127.6,80.7 129.7,76.8C131.8,72.9 132.1,71.6 134.6,72.0C137.1,72.4 141.8,75.8 144.7,79.4C147.6,83.0 149.9,87.0 151.8,93.5C153.7,100.0 154.7,108.2 156.2,118.2C157.7,128.2 159.3,143.2 160.6,153.5C161.9,163.8 163.1,172.8 164.1,180.0C165.1,187.2 166.0,193.7 166.4,196.4L166.4,196.4 L29.6,196.4Z" fill="url(#ga12)"/>
<path d="M29.6,175.0C34.7,173.2 49.9,167.9 60.0,164.1C70.1,160.3 81.2,155.5 90.0,152.0C98.8,148.5 107.4,146.3 113.0,143.0C118.6,139.7 120.0,137.3 123.5,132.3C127.0,127.3 130.3,120.6 134.1,113.0C137.9,105.4 143.4,92.7 146.5,86.5C149.6,80.3 150.6,78.3 152.5,76.0C154.4,73.7 156.2,72.4 157.9,72.7C159.7,73.0 161.5,74.5 163.0,78.0C164.5,81.5 165.7,87.8 167.0,94.0C168.3,100.2 169.5,108.0 171.0,115.0C172.5,122.0 174.0,127.2 176.0,136.0C178.0,144.8 180.8,157.9 183.2,168.0C185.6,178.1 189.4,191.7 190.6,196.4L190.6,196.4 L29.6,196.4Z" fill="url(#ga15)"/>
<path d="M29.6,160.3C34.7,158.7 49.9,154.0 60.0,150.9C70.1,147.8 79.4,144.8 90.0,142.0C100.6,139.2 116.2,135.6 123.5,133.8C130.8,132.1 130.0,132.7 134.1,131.5C138.2,130.3 144.2,128.4 148.2,126.7C152.2,125.0 154.5,123.9 158.0,121.4C161.5,119.0 165.7,114.9 169.4,112.0C173.1,109.1 177.2,106.5 180.0,104.1C182.8,101.7 184.0,100.3 186.0,97.6C188.0,94.9 190.2,91.8 192.0,88.0C193.8,84.2 195.1,78.2 196.5,75.0C197.9,71.8 199.2,69.3 200.3,69.0C201.4,68.7 202.2,70.3 203.0,73.0C203.8,75.7 204.5,77.4 205.3,85.3C206.1,93.2 206.9,106.5 207.6,120.6C208.3,134.7 209.1,157.4 209.7,170.0C210.3,182.6 211.0,192.0 211.3,196.4L211.3,196.4 L29.6,196.4Z" fill="url(#ga18)"/>
<path d="M29.6,165.0C34.7,163.5 49.9,160.2 60.0,156.2C70.1,152.2 82.7,145.8 90.0,141.2C97.3,136.6 100.3,132.9 104.1,128.8C107.9,124.7 110.0,122.1 113.0,116.5C116.0,110.9 119.0,101.9 121.8,95.3C124.6,88.7 127.6,80.7 129.7,76.8C131.8,72.9 132.1,71.6 134.6,72.0C137.1,72.4 141.8,75.8 144.7,79.4C147.6,83.0 149.9,87.0 151.8,93.5C153.7,100.0 154.7,108.2 156.2,118.2C157.7,128.2 159.3,143.2 160.6,153.5C161.9,163.8 163.1,172.8 164.1,180.0C165.1,187.2 166.0,193.7 166.4,196.4" fill="none" stroke="#a6c9e6" stroke-width="1"/>
<path d="M29.6,175.0C34.7,173.2 49.9,167.9 60.0,164.1C70.1,160.3 81.2,155.5 90.0,152.0C98.8,148.5 107.4,146.3 113.0,143.0C118.6,139.7 120.0,137.3 123.5,132.3C127.0,127.3 130.3,120.6 134.1,113.0C137.9,105.4 143.4,92.7 146.5,86.5C149.6,80.3 150.6,78.3 152.5,76.0C154.4,73.7 156.2,72.4 157.9,72.7C159.7,73.0 161.5,74.5 163.0,78.0C164.5,81.5 165.7,87.8 167.0,94.0C168.3,100.2 169.5,108.0 171.0,115.0C172.5,122.0 174.0,127.2 176.0,136.0C178.0,144.8 180.8,157.9 183.2,168.0C185.6,178.1 189.4,191.7 190.6,196.4" fill="none" stroke="#4f92b6" stroke-width="1"/>
<path d="M29.6,160.3C34.7,158.7 49.9,154.0 60.0,150.9C70.1,147.8 79.4,144.8 90.0,142.0C100.6,139.2 116.2,135.6 123.5,133.8C130.8,132.1 130.0,132.7 134.1,131.5C138.2,130.3 144.2,128.4 148.2,126.7C152.2,125.0 154.5,123.9 158.0,121.4C161.5,119.0 165.7,114.9 169.4,112.0C173.1,109.1 177.2,106.5 180.0,104.1C182.8,101.7 184.0,100.3 186.0,97.6C188.0,94.9 190.2,91.8 192.0,88.0C193.8,84.2 195.1,78.2 196.5,75.0C197.9,71.8 199.2,69.3 200.3,69.0C201.4,68.7 202.2,70.3 203.0,73.0C203.8,75.7 204.5,77.4 205.3,85.3C206.1,93.2 206.9,106.5 207.6,120.6C208.3,134.7 209.1,157.4 209.7,170.0C210.3,182.6 211.0,192.0 211.3,196.4" fill="none" stroke="#236b8e" stroke-width="1.3"/>
<line x1="134.5" y1="72" x2="134.5" y2="196.4" stroke="#3a80a6" stroke-width="1.3" stroke-dasharray="4,2.6"/>
<line x1="159" y1="73.5" x2="159" y2="196.4" stroke="#3a80a6" stroke-width="1.3" stroke-dasharray="4,2.6"/>
<line x1="200.4" y1="70" x2="200.4" y2="196.4" stroke="#3a80a6" stroke-width="1.3" stroke-dasharray="4,2.6"/>
<rect x="29.6" y="22.4" width="184.6" height="174.0" fill="none" stroke="#555" stroke-width="0.9"/>
<path d="M29.6,22.4V196.4H214.2" fill="none" stroke="#333" stroke-width="1"/>
<line x1="29.6" y1="22.4" x2="33.1" y2="22.4" stroke="#333" stroke-width="1"/>
<text x="27.9" y="25.1" font-size="9.8" fill="#222" stroke="#222" stroke-width="0.22" text-anchor="end">20</text>
<line x1="29.6" y1="66" x2="33.1" y2="66" stroke="#333" stroke-width="1"/>
<text x="27.9" y="68.7" font-size="9.8" fill="#222" stroke="#222" stroke-width="0.22" text-anchor="end">17</text>
<line x1="29.6" y1="109.5" x2="33.1" y2="109.5" stroke="#333" stroke-width="1"/>
<text x="27.9" y="112.2" font-size="9.8" fill="#222" stroke="#222" stroke-width="0.22" text-anchor="end">14</text>
<line x1="29.6" y1="153" x2="33.1" y2="153" stroke="#333" stroke-width="1"/>
<text x="27.9" y="155.7" font-size="9.8" fill="#222" stroke="#222" stroke-width="0.22" text-anchor="end">11</text>
<line x1="29.6" y1="196.4" x2="33.1" y2="196.4" stroke="#333" stroke-width="1"/>
<text x="27.9" y="199.1" font-size="9.8" fill="#222" stroke="#222" stroke-width="0.22" text-anchor="end">8</text>
<line x1="29.6" y1="44.2" x2="31.6" y2="44.2" stroke="#333" stroke-width="0.9"/>
<line x1="29.6" y1="87.7" x2="31.6" y2="87.7" stroke="#333" stroke-width="0.9"/>
<line x1="29.6" y1="131.2" x2="31.6" y2="131.2" stroke="#333" stroke-width="0.9"/>
<line x1="29.6" y1="174.7" x2="31.6" y2="174.7" stroke="#333" stroke-width="0.9"/>
<line x1="29.6" y1="196.4" x2="29.6" y2="192.9" stroke="#333" stroke-width="1"/>
<text x="29.6" y="207.6" font-size="9.8" fill="#222" stroke="#222" stroke-width="0.22" text-anchor="middle" textLength="18.7" lengthAdjust="spacingAndGlyphs">0.35</text>
<line x1="52.6" y1="196.4" x2="52.6" y2="194.4" stroke="#333" stroke-width="0.9"/>
<line x1="75.7" y1="196.4" x2="75.7" y2="192.9" stroke="#333" stroke-width="1"/>
<text x="75.7" y="207.6" font-size="9.8" fill="#222" stroke="#222" stroke-width="0.22" text-anchor="middle" textLength="18.7" lengthAdjust="spacingAndGlyphs">0.40</text>
<line x1="98.7" y1="196.4" x2="98.7" y2="194.4" stroke="#333" stroke-width="0.9"/>
<line x1="121.7" y1="196.4" x2="121.7" y2="192.9" stroke="#333" stroke-width="1"/>
<text x="121.7" y="207.6" font-size="9.8" fill="#222" stroke="#222" stroke-width="0.22" text-anchor="middle" textLength="18.7" lengthAdjust="spacingAndGlyphs">0.45</text>
<line x1="144.7" y1="196.4" x2="144.7" y2="194.4" stroke="#333" stroke-width="0.9"/>
<line x1="167.7" y1="196.4" x2="167.7" y2="192.9" stroke="#333" stroke-width="1"/>
<text x="167.7" y="207.6" font-size="9.8" fill="#222" stroke="#222" stroke-width="0.22" text-anchor="middle" textLength="18.7" lengthAdjust="spacingAndGlyphs">0.50</text>
<line x1="190.7" y1="196.4" x2="190.7" y2="194.4" stroke="#333" stroke-width="0.9"/>
<line x1="213.8" y1="196.4" x2="213.8" y2="192.9" stroke="#333" stroke-width="1"/>
<text x="213.8" y="207.6" font-size="9.8" fill="#222" stroke="#222" stroke-width="0.22" text-anchor="middle" textLength="18.7" lengthAdjust="spacingAndGlyphs">0.55</text>
<text x="121.5" y="221.8" font-size="10.2" fill="#222" stroke="#222" stroke-width="0.22" text-anchor="middle" textLength="13.1" lengthAdjust="spacingAndGlyphs">RH</text>
<text transform="translate(10.8,109) rotate(-90)" font-size="9.6" fill="#222" stroke="#222" stroke-width="0.22" text-anchor="middle" textLength="167" lengthAdjust="spacingAndGlyphs">Amount of CO<tspan font-size="6.5" dy="2.2">2</tspan><tspan dy="-2.2"> Adsorption (nm</tspan><tspan font-size="6.5" dy="-3.2">-2</tspan><tspan dy="3.2">)</tspan></text>
<line x1="35" y1="32.6" x2="50.3" y2="32.6" stroke="#b9d6ef" stroke-width="1.8"/>
<line x1="35" y1="44.6" x2="50.3" y2="44.6" stroke="#6aa6c9" stroke-width="1.8"/>
<line x1="35" y1="56.6" x2="50.3" y2="56.6" stroke="#24698c" stroke-width="1.8"/>
<text x="53.8" y="36.2" font-size="9.4" fill="#222" stroke="#222" stroke-width="0.22" textLength="47" lengthAdjust="spacingAndGlyphs">Ca/Si = 1.2</text>
<text x="53.8" y="48.2" font-size="9.4" fill="#222" stroke="#222" stroke-width="0.22" textLength="47" lengthAdjust="spacingAndGlyphs">Ca/Si = 1.5</text>
<text x="53.8" y="60.2" font-size="9.4" fill="#222" stroke="#222" stroke-width="0.22" textLength="47" lengthAdjust="spacingAndGlyphs">Ca/Si = 1.8</text>
<text x="82.2" y="17" font-size="10.2" fill="#222" stroke="#222" stroke-width="0.22" textLength="86" lengthAdjust="spacingAndGlyphs">total CO<tspan font-size="7" dy="2.2">2</tspan><tspan dy="-2.2"> amount</tspan></text>
<text x="0.8" y="9.3" font-size="11" fill="#111" font-weight="bold">a</text>
<rect x="248.00" y="118.0" width="7.07" height="79.3" fill="#cbdfee"/>
<rect x="255.07" y="116.1" width="7.07" height="81.2" fill="#63add0"/>
<rect x="262.14" y="102.6" width="7.07" height="94.7" fill="#2f7a9b"/>
<path d="M251.5,113.7V122.4M249.6,113.7h3.8M249.6,122.4h3.8" stroke="#3a3a3a" stroke-width="1.3" fill="none"/>
<path d="M258.6,111.3V120.9M256.7,111.3h3.8M256.7,120.9h3.8" stroke="#3a3a3a" stroke-width="1.3" fill="none"/>
<path d="M265.7,98.7V106.4M263.8,98.7h3.8M263.8,106.4h3.8" stroke="#3a3a3a" stroke-width="1.3" fill="none"/>
<text x="258.6" y="208.4" font-size="9.8" fill="#222" stroke="#222" stroke-width="0.22" text-anchor="middle">0.17</text>
<rect x="276.20" y="108.4" width="7.07" height="88.9" fill="#cbdfee"/>
<rect x="283.27" y="104.5" width="7.07" height="92.8" fill="#63add0"/>
<rect x="290.34" y="94.8" width="7.07" height="102.5" fill="#2f7a9b"/>
<path d="M279.7,103.0V113.7M277.8,103.0h3.8M277.8,113.7h3.8" stroke="#3a3a3a" stroke-width="1.3" fill="none"/>
<path d="M286.8,100.6V108.4M284.9,100.6h3.8M284.9,108.4h3.8" stroke="#3a3a3a" stroke-width="1.3" fill="none"/>
<path d="M293.9,90.0V99.7M292.0,90.0h3.8M292.0,99.7h3.8" stroke="#3a3a3a" stroke-width="1.3" fill="none"/>
<text x="286.8" y="208.4" font-size="9.8" fill="#222" stroke="#222" stroke-width="0.22" text-anchor="middle">0.33</text>
<rect x="304.40" y="90.0" width="7.07" height="107.3" fill="#cbdfee"/>
<rect x="311.47" y="89.0" width="7.07" height="108.3" fill="#63add0"/>
<rect x="318.54" y="83.2" width="7.07" height="114.1" fill="#2f7a9b"/>
<path d="M307.9,86.1V93.9M306.0,86.1h3.8M306.0,93.9h3.8" stroke="#3a3a3a" stroke-width="1.3" fill="none"/>
<path d="M315.0,84.7V93.4M313.1,84.7h3.8M313.1,93.4h3.8" stroke="#3a3a3a" stroke-width="1.3" fill="none"/>
<path d="M322.1,79.4V87.1M320.2,79.4h3.8M320.2,87.1h3.8" stroke="#3a3a3a" stroke-width="1.3" fill="none"/>
<text x="315.0" y="208.4" font-size="9.8" fill="#222" stroke="#222" stroke-width="0.22" text-anchor="middle">0.5</text>
<rect x="332.60" y="51.3" width="7.07" height="146.0" fill="#cbdfee"/>
<rect x="339.67" y="65.8" width="7.07" height="131.5" fill="#63add0"/>
<rect x="346.74" y="75.5" width="7.07" height="121.8" fill="#2f7a9b"/>
<path d="M336.1,47.5V55.2M334.2,47.5h3.8M334.2,55.2h3.8" stroke="#3a3a3a" stroke-width="1.3" fill="none"/>
<path d="M343.2,62.0V69.7M341.3,62.0h3.8M341.3,69.7h3.8" stroke="#3a3a3a" stroke-width="1.3" fill="none"/>
<path d="M350.3,71.6V79.4M348.4,71.6h3.8M348.4,79.4h3.8" stroke="#3a3a3a" stroke-width="1.3" fill="none"/>
<text x="343.2" y="208.4" font-size="9.8" fill="#222" stroke="#222" stroke-width="0.22" text-anchor="middle">0.67</text>
<rect x="360.80" y="58.1" width="7.07" height="139.2" fill="#cbdfee"/>
<rect x="367.87" y="50.4" width="7.07" height="146.9" fill="#63add0"/>
<rect x="374.94" y="60.0" width="7.07" height="137.3" fill="#2f7a9b"/>
<path d="M364.3,54.7V61.5M362.4,54.7h3.8M362.4,61.5h3.8" stroke="#3a3a3a" stroke-width="1.3" fill="none"/>
<path d="M371.4,47.5V53.3M369.5,47.5h3.8M369.5,53.3h3.8" stroke="#3a3a3a" stroke-width="1.3" fill="none"/>
<path d="M378.5,56.2V63.9M376.6,56.2h3.8M376.6,63.9h3.8" stroke="#3a3a3a" stroke-width="1.3" fill="none"/>
<text x="371.4" y="208.4" font-size="9.8" fill="#222" stroke="#222" stroke-width="0.22" text-anchor="middle">0.83</text>
<rect x="389.00" y="76.5" width="7.07" height="120.8" fill="#cbdfee"/>
<rect x="396.07" y="74.5" width="7.07" height="122.8" fill="#63add0"/>
<rect x="403.14" y="41.7" width="7.07" height="155.6" fill="#2f7a9b"/>
<path d="M392.5,72.6V80.3M390.6,72.6h3.8M390.6,80.3h3.8" stroke="#3a3a3a" stroke-width="1.3" fill="none"/>
<path d="M399.6,72.6V76.5M397.7,72.6h3.8M397.7,76.5h3.8" stroke="#3a3a3a" stroke-width="1.3" fill="none"/>
<path d="M406.7,38.8V44.6M404.8,38.8h3.8M404.8,44.6h3.8" stroke="#3a3a3a" stroke-width="1.3" fill="none"/>
<text x="399.6" y="208.4" font-size="9.8" fill="#222" stroke="#222" stroke-width="0.22" text-anchor="middle">0.87</text>
<rect x="417.20" y="188.6" width="7.07" height="8.7" fill="#cbdfee"/>
<rect x="424.27" y="191.5" width="7.07" height="5.8" fill="#63add0"/>
<rect x="431.34" y="190.5" width="7.07" height="6.8" fill="#2f7a9b"/>
<path d="M420.7,188.1V189.1M418.8,188.1h3.8M418.8,189.1h3.8" stroke="#3a3a3a" stroke-width="1.3" fill="none"/>
<path d="M427.8,190.0V192.9M425.9,190.0h3.8M425.9,192.9h3.8" stroke="#3a3a3a" stroke-width="1.3" fill="none"/>
<path d="M434.9,189.6V191.5M433.0,189.6h3.8M433.0,191.5h3.8" stroke="#3a3a3a" stroke-width="1.3" fill="none"/>
<text x="427.8" y="208.4" font-size="9.8" fill="#222" stroke="#222" stroke-width="0.22" text-anchor="middle">1</text>
<rect x="244.4" y="22.9" width="197.99999999999997" height="174.4" fill="none" stroke="#555" stroke-width="0.9"/>
<path d="M244.4,22.9V197.3H442.4" fill="none" stroke="#333" stroke-width="1"/>
<line x1="244.4" y1="23.3" x2="247.9" y2="23.3" stroke="#333" stroke-width="1"/>
<text x="242.6" y="26.0" font-size="9.8" fill="#222" stroke="#222" stroke-width="0.22" text-anchor="end">20</text>
<line x1="244.4" y1="52.3" x2="247.9" y2="52.3" stroke="#333" stroke-width="1"/>
<text x="242.6" y="55.0" font-size="9.8" fill="#222" stroke="#222" stroke-width="0.22" text-anchor="end">17</text>
<line x1="244.4" y1="81.3" x2="247.9" y2="81.3" stroke="#333" stroke-width="1"/>
<text x="242.6" y="84.0" font-size="9.8" fill="#222" stroke="#222" stroke-width="0.22" text-anchor="end">14</text>
<line x1="244.4" y1="110.3" x2="247.9" y2="110.3" stroke="#333" stroke-width="1"/>
<text x="242.6" y="113.0" font-size="9.8" fill="#222" stroke="#222" stroke-width="0.22" text-anchor="end">11</text>
<line x1="244.4" y1="139.3" x2="247.9" y2="139.3" stroke="#333" stroke-width="1"/>
<text x="242.6" y="142.0" font-size="9.8" fill="#222" stroke="#222" stroke-width="0.22" text-anchor="end">8</text>
<line x1="244.4" y1="168.3" x2="247.9" y2="168.3" stroke="#333" stroke-width="1"/>
<text x="242.6" y="171.0" font-size="9.8" fill="#222" stroke="#222" stroke-width="0.22" text-anchor="end">5</text>
<line x1="244.4" y1="197.3" x2="247.9" y2="197.3" stroke="#333" stroke-width="1"/>
<text x="242.6" y="200.0" font-size="9.8" fill="#222" stroke="#222" stroke-width="0.22" text-anchor="end">2</text>
<line x1="244.4" y1="37.8" x2="246.4" y2="37.8" stroke="#333" stroke-width="0.9"/>
<line x1="244.4" y1="66.8" x2="246.4" y2="66.8" stroke="#333" stroke-width="0.9"/>
<line x1="244.4" y1="95.8" x2="246.4" y2="95.8" stroke="#333" stroke-width="0.9"/>
<line x1="244.4" y1="124.8" x2="246.4" y2="124.8" stroke="#333" stroke-width="0.9"/>
<line x1="244.4" y1="153.8" x2="246.4" y2="153.8" stroke="#333" stroke-width="0.9"/>
<line x1="244.4" y1="182.8" x2="246.4" y2="182.8" stroke="#333" stroke-width="0.9"/>
<rect x="247" y="27.4" width="17.7" height="7" fill="#cbdfee"/>
<text x="268.2" y="34.0" font-size="9.4" fill="#222" stroke="#222" stroke-width="0.22" textLength="38" lengthAdjust="spacingAndGlyphs">Ca/Si=1.2</text>
<rect x="247" y="40.6" width="17.7" height="7" fill="#63add0"/>
<text x="268.2" y="47.2" font-size="9.4" fill="#222" stroke="#222" stroke-width="0.22" textLength="38" lengthAdjust="spacingAndGlyphs">Ca/Si=1.5</text>
<rect x="247" y="54.4" width="17.7" height="7" fill="#2f7a9b"/>
<text x="268.2" y="61.0" font-size="9.4" fill="#222" stroke="#222" stroke-width="0.22" textLength="38" lengthAdjust="spacingAndGlyphs">Ca/Si=1.8</text>
<text x="342.9" y="222.0" font-size="10.2" fill="#222" stroke="#222" stroke-width="0.22" text-anchor="middle" textLength="112.4" lengthAdjust="spacingAndGlyphs">Water Saturation Degree</text>
<text x="298.2" y="17.2" font-size="10.2" fill="#222" stroke="#222" stroke-width="0.22" textLength="85.6" lengthAdjust="spacingAndGlyphs">total CO<tspan font-size="7" dy="2.2">2</tspan><tspan dy="-2.2"> amount</tspan></text>
<text x="226.3" y="9.3" font-size="11" fill="#111" font-weight="bold">b</text>
<defs>
<pattern id="pd0" width="3.6" height="6" patternUnits="userSpaceOnUse"><rect width="3.6" height="6" fill="#6d767c"/><rect x="0.5" y="1.1" width="0.9" height="0.9" fill="#b9c0c4" fill-opacity="0.8"/><rect x="2.3" y="4.1" width="0.9" height="0.9" fill="#b9c0c4" fill-opacity="0.8"/></pattern>
<pattern id="pd1" width="3.6" height="6" patternUnits="userSpaceOnUse"><rect width="3.6" height="6" fill="#3e6378"/><rect x="0.5" y="1.1" width="0.9" height="0.9" fill="#6aa6c6" fill-opacity="0.8"/><rect x="2.3" y="4.1" width="0.9" height="0.9" fill="#6aa6c6" fill-opacity="0.8"/></pattern>
<pattern id="pd2" width="3.6" height="6" patternUnits="userSpaceOnUse"><rect width="3.6" height="6" fill="#25495d"/><rect x="0.5" y="1.1" width="0.9" height="0.9" fill="#4f8fb2" fill-opacity="0.8"/><rect x="2.3" y="4.1" width="0.9" height="0.9" fill="#4f8fb2" fill-opacity="0.8"/></pattern>
</defs>
<rect x="491.20" y="158.8" width="7.23" height="38.6" fill="#cbdfee"/>
<rect x="491.20" y="190.1" width="7.23" height="7.3" fill="url(#pd0)"/>
<rect x="498.43" y="158.8" width="7.23" height="38.6" fill="#63add0"/>
<rect x="498.43" y="189.4" width="7.23" height="8.0" fill="url(#pd1)"/>
<rect x="505.66" y="156.6" width="7.23" height="40.8" fill="#2f7a9b"/>
<rect x="505.66" y="188.6" width="7.23" height="8.8" fill="url(#pd2)"/>
<path d="M494.8,154.7V162.8M492.9,154.7h3.8M492.9,162.8h3.8" stroke="#222" stroke-width="1.3" fill="none"/>
<path d="M502.0,154.4V163.1M500.1,154.4h3.8M500.1,163.1h3.8" stroke="#222" stroke-width="1.3" fill="none"/>
<path d="M509.3,153.6V159.5M507.4,153.6h3.8M507.4,159.5h3.8" stroke="#222" stroke-width="1.3" fill="none"/>
<text x="502.1" y="208.4" font-size="9.8" fill="#222" stroke="#222" stroke-width="0.22" text-anchor="middle">0.17</text>
<rect x="518.10" y="144.9" width="7.23" height="52.5" fill="#cbdfee"/>
<rect x="518.10" y="178.4" width="7.23" height="19.0" fill="url(#pd0)"/>
<rect x="525.33" y="143.4" width="7.23" height="54.0" fill="#63add0"/>
<rect x="525.33" y="177.0" width="7.23" height="20.4" fill="url(#pd1)"/>
<rect x="532.56" y="141.3" width="7.23" height="56.1" fill="#2f7a9b"/>
<rect x="532.56" y="174.1" width="7.23" height="23.3" fill="url(#pd2)"/>
<path d="M521.7,140.5V149.3M519.8,140.5h3.8M519.8,149.3h3.8" stroke="#222" stroke-width="1.3" fill="none"/>
<path d="M528.9,140.5V146.4M527.0,140.5h3.8M527.0,146.4h3.8" stroke="#222" stroke-width="1.3" fill="none"/>
<path d="M536.2,137.6V144.9M534.3,137.6h3.8M534.3,144.9h3.8" stroke="#222" stroke-width="1.3" fill="none"/>
<text x="529.0" y="208.4" font-size="9.8" fill="#222" stroke="#222" stroke-width="0.22" text-anchor="middle">0.33</text>
<rect x="545.00" y="131.0" width="7.23" height="66.4" fill="#cbdfee"/>
<rect x="545.00" y="166.0" width="7.23" height="31.4" fill="url(#pd0)"/>
<rect x="552.23" y="122.3" width="7.23" height="75.1" fill="#63add0"/>
<rect x="552.23" y="163.9" width="7.23" height="33.5" fill="url(#pd1)"/>
<rect x="559.46" y="120.1" width="7.23" height="77.3" fill="#2f7a9b"/>
<rect x="559.46" y="155.8" width="7.23" height="41.6" fill="url(#pd2)"/>
<path d="M548.6,128.1V134.0M546.7,128.1h3.8M546.7,134.0h3.8" stroke="#222" stroke-width="1.3" fill="none"/>
<path d="M555.8,119.4V125.2M553.9,119.4h3.8M553.9,125.2h3.8" stroke="#222" stroke-width="1.3" fill="none"/>
<path d="M563.1,117.2V123.0M561.2,117.2h3.8M561.2,123.0h3.8" stroke="#222" stroke-width="1.3" fill="none"/>
<text x="555.9" y="208.4" font-size="9.8" fill="#222" stroke="#222" stroke-width="0.22" text-anchor="middle">0.5</text>
<rect x="571.90" y="92.4" width="7.23" height="105.0" fill="#cbdfee"/>
<rect x="571.90" y="163.9" width="7.23" height="33.5" fill="url(#pd0)"/>
<rect x="579.13" y="112.8" width="7.23" height="84.6" fill="#63add0"/>
<rect x="579.13" y="154.4" width="7.23" height="43.0" fill="url(#pd1)"/>
<rect x="586.36" y="105.5" width="7.23" height="91.9" fill="#2f7a9b"/>
<rect x="586.36" y="145.6" width="7.23" height="51.8" fill="url(#pd2)"/>
<path d="M575.5,89.1V95.7M573.6,89.1h3.8M573.6,95.7h3.8" stroke="#222" stroke-width="1.3" fill="none"/>
<path d="M582.7,109.9V115.7M580.8,109.9h3.8M580.8,115.7h3.8" stroke="#222" stroke-width="1.3" fill="none"/>
<path d="M590.0,102.6V108.4M588.1,102.6h3.8M588.1,108.4h3.8" stroke="#222" stroke-width="1.3" fill="none"/>
<text x="582.8" y="208.4" font-size="9.8" fill="#222" stroke="#222" stroke-width="0.22" text-anchor="middle">0.67</text>
<rect x="598.80" y="89.5" width="7.23" height="107.9" fill="#cbdfee"/>
<rect x="598.80" y="162.4" width="7.23" height="35.0" fill="url(#pd0)"/>
<rect x="606.03" y="77.1" width="7.23" height="120.3" fill="#63add0"/>
<rect x="606.03" y="152.2" width="7.23" height="45.2" fill="url(#pd1)"/>
<rect x="613.26" y="97.5" width="7.23" height="99.9" fill="#2f7a9b"/>
<rect x="613.26" y="142.0" width="7.23" height="55.4" fill="url(#pd2)"/>
<path d="M602.4,86.6V92.4M600.5,86.6h3.8M600.5,92.4h3.8" stroke="#222" stroke-width="1.3" fill="none"/>
<path d="M609.6,74.9V79.3M607.7,74.9h3.8M607.7,79.3h3.8" stroke="#222" stroke-width="1.3" fill="none"/>
<path d="M616.9,94.2V100.8M615.0,94.2h3.8M615.0,100.8h3.8" stroke="#222" stroke-width="1.3" fill="none"/>
<text x="609.6" y="208.4" font-size="9.8" fill="#222" stroke="#222" stroke-width="0.22" text-anchor="middle">0.83</text>
<rect x="625.70" y="93.9" width="7.23" height="103.5" fill="#cbdfee"/>
<rect x="625.70" y="158.0" width="7.23" height="39.4" fill="url(#pd0)"/>
<rect x="632.93" y="90.9" width="7.23" height="106.5" fill="#63add0"/>
<rect x="632.93" y="147.8" width="7.23" height="49.6" fill="url(#pd1)"/>
<rect x="640.16" y="68.3" width="7.23" height="129.1" fill="#2f7a9b"/>
<rect x="640.16" y="142.0" width="7.23" height="55.4" fill="url(#pd2)"/>
<path d="M629.3,90.2V97.5M627.4,90.2h3.8M627.4,97.5h3.8" stroke="#222" stroke-width="1.3" fill="none"/>
<path d="M636.5,89.5V92.4M634.6,89.5h3.8M634.6,92.4h3.8" stroke="#222" stroke-width="1.3" fill="none"/>
<path d="M643.8,66.1V70.5M641.9,66.1h3.8M641.9,70.5h3.8" stroke="#222" stroke-width="1.3" fill="none"/>
<text x="636.6" y="208.4" font-size="9.8" fill="#222" stroke="#222" stroke-width="0.22" text-anchor="middle">0.87</text>
<rect x="652.60" y="177.7" width="7.23" height="19.7" fill="#cbdfee"/>
<rect x="652.60" y="177.7" width="7.23" height="19.7" fill="url(#pd0)"/>
<rect x="659.83" y="179.2" width="7.23" height="18.2" fill="#63add0"/>
<rect x="659.83" y="179.2" width="7.23" height="18.2" fill="url(#pd1)"/>
<rect x="667.06" y="177.7" width="7.23" height="19.7" fill="#2f7a9b"/>
<rect x="667.06" y="177.7" width="7.23" height="19.7" fill="url(#pd2)"/>
<path d="M656.2,177.1V178.3M654.3,177.1h3.8M654.3,178.3h3.8" stroke="#222" stroke-width="1.3" fill="none"/>
<path d="M663.4,178.4V179.9M661.5,178.4h3.8M661.5,179.9h3.8" stroke="#222" stroke-width="1.3" fill="none"/>
<path d="M670.7,177.1V178.3M668.8,177.1h3.8M668.8,178.3h3.8" stroke="#222" stroke-width="1.3" fill="none"/>
<text x="663.4" y="208.4" font-size="9.8" fill="#222" stroke="#222" stroke-width="0.22" text-anchor="middle">1</text>
<rect x="488.5" y="22.4" width="188.89999999999998" height="175.0" fill="none" stroke="#555" stroke-width="0.9"/>
<path d="M488.5,22.4V197.4H677.4" fill="none" stroke="#333" stroke-width="1"/>
<line x1="488.5" y1="22.4" x2="492.0" y2="22.4" stroke="#333" stroke-width="1"/>
<text x="484.2" y="25.1" font-size="9.8" fill="#222" stroke="#222" stroke-width="0.22" text-anchor="end">24</text>
<line x1="488.5" y1="66.1" x2="492.0" y2="66.1" stroke="#333" stroke-width="1"/>
<text x="484.2" y="68.8" font-size="9.8" fill="#222" stroke="#222" stroke-width="0.22" text-anchor="end">18</text>
<line x1="488.5" y1="109.9" x2="492.0" y2="109.9" stroke="#333" stroke-width="1"/>
<text x="484.2" y="112.6" font-size="9.8" fill="#222" stroke="#222" stroke-width="0.22" text-anchor="end">12</text>
<line x1="488.5" y1="153.6" x2="492.0" y2="153.6" stroke="#333" stroke-width="1"/>
<text x="484.2" y="156.3" font-size="9.8" fill="#222" stroke="#222" stroke-width="0.22" text-anchor="end">6</text>
<line x1="488.5" y1="197.4" x2="492.0" y2="197.4" stroke="#333" stroke-width="1"/>
<text x="484.2" y="200.1" font-size="9.8" fill="#222" stroke="#222" stroke-width="0.22" text-anchor="end">0</text>
<line x1="488.5" y1="44.3" x2="490.5" y2="44.3" stroke="#333" stroke-width="0.9"/>
<line x1="488.5" y1="88.0" x2="490.5" y2="88.0" stroke="#333" stroke-width="0.9"/>
<line x1="488.5" y1="131.8" x2="490.5" y2="131.8" stroke="#333" stroke-width="0.9"/>
<line x1="488.5" y1="175.5" x2="490.5" y2="175.5" stroke="#333" stroke-width="0.9"/>
<line x1="515.5" y1="197.4" x2="515.5" y2="195.4" stroke="#333" stroke-width="0.9"/>
<line x1="542.4" y1="197.4" x2="542.4" y2="195.4" stroke="#333" stroke-width="0.9"/>
<line x1="569.3" y1="197.4" x2="569.3" y2="195.4" stroke="#333" stroke-width="0.9"/>
<line x1="596.2" y1="197.4" x2="596.2" y2="195.4" stroke="#333" stroke-width="0.9"/>
<line x1="623.1" y1="197.4" x2="623.1" y2="195.4" stroke="#333" stroke-width="0.9"/>
<line x1="650.0" y1="197.4" x2="650.0" y2="195.4" stroke="#333" stroke-width="0.9"/>
<rect x="497.4" y="26.2" width="17.6" height="6.2" fill="#cbdfee"/>
<text x="518.5" y="32.5" font-size="9.6" fill="#222" stroke="#222" stroke-width="0.22" textLength="53.5" lengthAdjust="spacingAndGlyphs">1.2_interface</text>
<rect x="497.4" y="39.8" width="17.6" height="6.2" fill="#63add0"/>
<text x="518.5" y="46.1" font-size="9.6" fill="#222" stroke="#222" stroke-width="0.22" textLength="53.5" lengthAdjust="spacingAndGlyphs">1.5_interface</text>
<rect x="497.4" y="53.4" width="17.6" height="6.2" fill="#2f7a9b"/>
<text x="518.5" y="59.7" font-size="9.6" fill="#222" stroke="#222" stroke-width="0.22" textLength="53.5" lengthAdjust="spacingAndGlyphs">1.8_interface</text>
<rect x="581.2" y="26.2" width="16.4" height="6.2" fill="url(#pd0)"/>
<text x="601.7" y="32.5" font-size="9.6" fill="#222" stroke="#222" stroke-width="0.22" textLength="49.4" lengthAdjust="spacingAndGlyphs">1.2_dissolve</text>
<rect x="581.2" y="39.8" width="16.4" height="6.2" fill="url(#pd1)"/>
<text x="601.7" y="46.1" font-size="9.6" fill="#222" stroke="#222" stroke-width="0.22" textLength="49.4" lengthAdjust="spacingAndGlyphs">1.5_dissolve</text>
<rect x="581.2" y="53.4" width="16.4" height="6.2" fill="url(#pd2)"/>
<text x="601.7" y="59.7" font-size="9.6" fill="#222" stroke="#222" stroke-width="0.22" textLength="49.4" lengthAdjust="spacingAndGlyphs">1.8_dissolve</text>
<text x="582.2" y="221.7" font-size="10.2" fill="#222" stroke="#222" stroke-width="0.22" text-anchor="middle" textLength="112.4" lengthAdjust="spacingAndGlyphs">Water Saturation Degree</text>
<text x="494.7" y="17" font-size="10.2" fill="#222" stroke="#222" stroke-width="0.22" textLength="167" lengthAdjust="spacingAndGlyphs">dissolved &amp; interface CO<tspan font-size="7" dy="2.2">2</tspan><tspan dy="-2.2"> amount</tspan></text>
<text x="465.2" y="9.0" font-size="11" fill="#111" font-weight="bold">c</text>
<text x="0.8" y="243.5" font-size="11" fill="#111" font-weight="bold">d</text>
<text x="57.5" y="244.5" font-size="10" fill="#222" stroke="#222" stroke-width="0.22" text-anchor="middle" textLength="19" lengthAdjust="spacingAndGlyphs">0 ns</text>
<text x="158.8" y="245.3" font-size="10" fill="#222" stroke="#222" stroke-width="0.22" text-anchor="middle" textLength="19" lengthAdjust="spacingAndGlyphs">5 ns</text>
<path d="M15.2,246.8L18.3,248.7L21.3,248.5L24.4,247.2L27.4,247.8L30.5,247.7L33.6,248.2L36.6,248.6L39.7,246.7L42.8,246.6L45.8,248.7L48.9,247.6L51.9,248.5L55.0,246.5L58.1,247.7L61.1,248.4L64.2,247.1L67.3,249.0L70.3,248.8L73.4,246.6L76.4,246.6L79.5,247.9L82.6,248.9L85.6,247.5L88.7,247.1L91.8,247.6L94.8,246.6L97.9,247.1L100.9,247.6L104.0,247.8L103.3,250.9L103.3,253.9L103.3,257.0L103.9,260.1L103.5,263.2L102.8,266.2L104.9,269.3L104.1,272.4L104.4,275.4L103.2,278.5L105.3,281.6L104.9,284.6L103.0,287.7L103.6,290.8L104.6,293.9L104.5,296.9L104.0,301.1L100.9,299.8L97.9,300.9L94.8,300.4L91.8,299.5L88.7,300.2L85.6,301.0L82.6,300.9L79.5,300.0L76.4,300.2L73.4,298.8L70.3,299.3L67.3,300.8L64.2,299.8L61.1,299.1L58.1,300.1L55.0,300.5L51.9,300.5L48.9,299.7L45.8,299.8L42.8,300.0L39.7,300.7L36.6,300.1L33.6,299.7L30.5,300.0L27.4,298.8L24.4,298.8L21.3,300.5L18.3,301.3L15.2,300.2L14.9,296.9L14.3,293.9L15.2,290.8L16.5,287.7L15.9,284.6L15.3,281.6L16.1,278.5L14.5,275.4L15.2,272.4L16.4,269.3L15.4,266.2L15.1,263.2L14.6,260.1L15.3,257.0L16.4,253.9L13.9,250.9Z" fill="url(#molD)"/>
<path d="M114.7,249.2L117.7,249.2L120.8,246.8L123.8,246.9L126.8,248.9L129.8,248.6L132.9,248.4L135.9,247.5L138.9,248.3L142.0,248.3L145.0,248.2L148.0,247.1L151.1,247.8L154.1,247.7L157.1,248.6L160.2,249.3L163.2,249.2L166.2,248.1L169.2,247.9L172.3,247.4L175.3,246.8L178.3,246.8L181.4,247.9L184.4,247.5L187.4,247.7L190.4,249.0L193.5,248.1L196.5,248.2L199.5,247.3L202.6,246.8L205.6,247.5L204.7,251.1L205.6,254.1L206.9,257.2L206.1,260.2L204.8,263.3L206.6,266.4L206.4,269.4L206.2,272.5L206.7,275.6L206.3,278.6L206.4,281.7L205.2,284.8L206.9,287.8L206.8,290.9L204.7,293.9L205.6,297.7L202.6,297.6L199.5,296.9L196.5,297.1L193.5,297.0L190.4,298.1L187.4,297.0L184.4,297.9L181.4,296.6L178.3,298.0L175.3,298.0L172.3,296.9L169.2,297.2L166.2,298.1L163.2,297.6L160.2,297.0L157.1,296.3L154.1,296.5L151.1,297.5L148.0,296.1L145.0,298.1L142.0,296.4L138.9,298.1L135.9,296.5L132.9,298.2L129.8,297.5L126.8,297.0L123.8,297.0L120.8,297.4L117.7,297.2L114.7,296.5L113.9,293.9L114.7,290.9L115.8,287.8L115.0,284.8L113.6,281.7L115.5,278.6L115.3,275.6L115.8,272.5L113.9,269.4L115.3,266.4L113.6,263.3L115.1,260.2L114.1,257.2L114.0,254.1L115.7,251.1Z" fill="url(#molD)"/>
<path d="M12.8,403.3L15.9,404.1L19.0,403.7L22.1,404.3L25.2,404.3L28.2,402.9L31.3,402.7L34.4,404.9L37.5,403.4L40.6,403.3L43.7,405.3L46.8,403.9L49.9,404.9L53.0,403.9L56.1,404.4L59.1,403.1L62.2,404.4L65.3,405.0L68.4,404.1L71.5,404.6L74.6,404.4L77.7,402.9L80.8,404.7L83.9,404.2L87.0,403.5L90.0,402.8L93.1,405.0L96.2,403.9L99.3,404.6L102.4,405.0L103.0,407.1L103.5,410.2L102.1,413.3L103.2,416.4L102.3,419.5L103.5,422.6L103.4,425.7L101.4,428.7L101.5,431.8L101.7,434.9L103.6,438.0L102.2,441.1L102.7,444.2L101.9,447.3L102.4,450.4L99.3,450.1L96.2,450.0L93.1,450.6L90.0,450.6L87.0,451.5L83.9,450.9L80.8,451.5L77.7,451.3L74.6,451.7L71.5,450.8L68.4,449.5L65.3,451.3L62.2,451.6L59.1,451.5L56.1,450.6L53.0,451.0L49.9,449.6L46.8,451.3L43.7,450.6L40.6,449.8L37.5,449.3L34.4,451.3L31.3,451.7L28.2,449.3L25.2,451.2L22.1,450.2L19.0,449.5L15.9,449.9L12.8,451.1L13.8,447.3L11.6,444.2L13.1,441.1L11.6,438.0L13.4,434.9L12.4,431.8L13.8,428.7L14.0,425.7L12.8,422.6L14.1,419.5L12.3,416.4L11.7,413.3L13.1,410.2L11.6,407.1Z" fill="url(#molD)"/>
<path d="M112.5,404.3L115.5,404.0L118.5,404.7L121.6,404.1L124.6,403.9L127.6,404.7L130.6,406.1L133.7,405.8L136.7,405.7L139.7,404.3L142.7,405.1L145.8,404.4L148.8,404.1L151.8,404.0L154.8,404.3L157.8,406.1L160.9,405.9L163.9,405.8L166.9,405.8L169.9,404.2L173.0,404.5L176.0,405.3L179.0,405.6L182.0,405.9L185.1,406.0L188.1,403.9L191.1,405.3L194.1,405.4L197.2,405.0L200.2,404.2L203.2,404.9L202.1,408.0L204.3,411.1L204.2,414.1L203.3,417.1L202.7,420.1L204.3,423.2L203.4,426.2L204.2,429.2L204.1,432.2L203.2,435.3L203.0,438.3L203.5,441.3L203.0,444.3L202.3,447.4L203.2,449.9L200.2,451.2L197.2,449.2L194.1,449.2L191.1,450.7L188.1,449.8L185.1,450.5L182.0,450.3L179.0,450.0L176.0,451.7L173.0,449.6L169.9,450.2L166.9,449.6L163.9,450.7L160.9,449.8L157.8,450.0L154.8,451.0L151.8,449.9L148.8,450.6L145.8,451.5L142.7,449.4L139.7,449.3L136.7,449.7L133.7,451.1L130.6,450.7L127.6,449.7L124.6,450.0L121.6,449.6L118.5,450.3L115.5,449.2L112.5,450.9L113.5,447.4L113.7,444.3L113.1,441.3L113.7,438.3L111.2,435.3L112.0,432.2L113.7,429.2L113.2,426.2L112.3,423.2L113.7,420.1L112.8,417.1L113.3,414.1L112.0,411.1L111.7,408.0Z" fill="url(#molD)"/>
<path d="M12.5,302.8C13.1,301.5 13.6,296.5 16.0,295.5C18.4,294.4 23.2,296.6 26.8,296.5C30.3,296.5 33.9,294.9 37.5,295.1C41.1,295.4 44.7,297.7 48.2,297.8C51.8,297.8 55.4,295.6 59.0,295.4C62.6,295.2 66.2,296.2 69.8,296.7C73.3,297.2 76.9,298.3 80.5,298.2C84.1,298.1 87.7,296.1 91.2,296.1C94.8,296.1 99.6,297.3 102.0,298.4C104.4,299.5 105.5,300.8 105.5,302.8C105.5,304.7 104.4,308.9 102.0,309.9C99.6,311.0 94.8,309.3 91.2,309.2C87.7,309.1 84.1,309.5 80.5,309.5C76.9,309.5 73.3,309.5 69.8,309.3C66.2,309.2 62.6,308.2 59.0,308.4C55.4,308.7 51.8,311.0 48.2,311.0C44.7,311.0 41.1,308.6 37.5,308.6C33.9,308.6 30.3,310.6 26.8,310.9C23.2,311.2 18.4,311.8 16.0,310.4C13.6,309.0 13.1,304.0 12.5,302.8Z" fill="#86d8e4" stroke="#3fb3c8" stroke-width="1.1"/><ellipse cx="24.1" cy="302.0" rx="8.3" ry="2.9" fill="#f2fbfc" opacity="0.85"/><ellipse cx="35.1" cy="303.1" rx="7.6" ry="2.9" fill="#f2fbfc" opacity="0.85"/><ellipse cx="90.6" cy="303.5" rx="6.4" ry="2.8" fill="#f2fbfc" opacity="0.85"/><ellipse cx="54.4" cy="303.8" rx="8.3" ry="3.1" fill="#f2fbfc" opacity="0.85"/><ellipse cx="95.0" cy="303.7" rx="10.8" ry="2.9" fill="#f2fbfc" opacity="0.85"/>
<path d="M112.5,301.2C113.1,300.4 113.6,297.4 116.0,295.9C118.4,294.4 123.3,292.4 127.0,292.2C130.6,292.0 134.2,294.6 137.9,294.9C141.6,295.2 145.2,293.8 148.8,293.9C152.5,294.1 156.2,295.8 159.8,295.8C163.5,295.7 167.1,293.6 170.8,293.6C174.4,293.6 178.0,295.8 181.7,295.7C185.3,295.5 189.0,292.6 192.6,292.6C196.3,292.7 201.2,294.5 203.6,296.0C206.0,297.4 207.1,299.2 207.1,301.2C207.1,303.3 206.0,307.2 203.6,308.2C201.2,309.1 196.3,307.3 192.6,307.2C189.0,307.2 185.3,307.6 181.7,307.9C178.0,308.2 174.4,309.2 170.8,309.0C167.1,308.8 163.5,306.8 159.8,306.6C156.2,306.5 152.5,308.1 148.8,308.0C145.2,308.0 141.6,306.8 137.9,306.5C134.2,306.3 130.6,306.7 127.0,306.8C123.3,306.9 118.4,308.1 116.0,307.2C113.6,306.3 113.1,302.2 112.5,301.2Z" fill="#86d8e4" stroke="#3fb3c8" stroke-width="1.1"/><ellipse cx="139.4" cy="300.6" rx="10.4" ry="2.3" fill="#f2fbfc" opacity="0.85"/><ellipse cx="186.8" cy="302.4" rx="11.3" ry="3.1" fill="#f2fbfc" opacity="0.85"/><ellipse cx="165.5" cy="301.8" rx="11.2" ry="2.5" fill="#f2fbfc" opacity="0.85"/><ellipse cx="132.8" cy="301.3" rx="8.7" ry="1.9" fill="#f2fbfc" opacity="0.85"/><ellipse cx="129.0" cy="300.3" rx="9.9" ry="2.9" fill="#f2fbfc" opacity="0.85"/>
<path d="M11.5,397.0C12.1,395.7 12.6,390.5 15.0,389.5C17.4,388.4 22.2,390.7 25.8,390.6C29.3,390.5 32.9,388.9 36.5,388.8C40.1,388.7 43.7,389.5 47.2,389.8C50.8,390.2 54.4,390.9 58.0,390.7C61.6,390.6 65.2,389.2 68.8,389.1C72.3,388.9 75.9,389.8 79.5,389.9C83.1,390.1 86.7,389.8 90.2,389.9C93.8,390.0 98.6,389.3 101.0,390.4C103.4,391.6 104.5,394.9 104.5,397.0C104.5,399.1 103.4,402.0 101.0,403.1C98.6,404.3 93.8,403.0 90.2,403.7C86.7,404.3 83.1,406.6 79.5,407.0C75.9,407.4 72.3,406.5 68.8,406.0C65.2,405.5 61.6,404.0 58.0,404.0C54.4,404.0 50.8,406.0 47.2,406.0C43.7,405.9 40.1,403.9 36.5,403.7C32.9,403.4 29.3,404.3 25.8,404.4C22.2,404.6 17.4,406.0 15.0,404.8C12.6,403.5 12.1,398.3 11.5,397.0Z" fill="#86d8e4" stroke="#3fb3c8" stroke-width="1.1"/><ellipse cx="37.9" cy="395.9" rx="8.6" ry="2.6" fill="#f2fbfc" opacity="0.85"/><ellipse cx="44.6" cy="397.5" rx="11.9" ry="1.7" fill="#f2fbfc" opacity="0.85"/><ellipse cx="41.6" cy="395.8" rx="9.7" ry="2.3" fill="#f2fbfc" opacity="0.85"/><ellipse cx="53.5" cy="396.2" rx="10.4" ry="2.8" fill="#f2fbfc" opacity="0.85"/><ellipse cx="54.1" cy="398.0" rx="6.6" ry="2.2" fill="#f2fbfc" opacity="0.85"/>
<path d="M111.5,398.0C112.1,396.9 112.6,393.2 115.0,391.7C117.4,390.1 122.2,388.8 125.9,388.5C129.5,388.3 133.1,390.0 136.8,390.2C140.4,390.5 144.0,389.7 147.6,389.9C151.2,390.2 154.9,391.9 158.5,391.8C162.1,391.8 165.8,389.9 169.4,389.5C173.0,389.2 176.6,389.7 180.2,389.8C183.9,389.9 187.5,390.4 191.1,390.3C194.8,390.3 199.6,388.2 202.0,389.5C204.4,390.8 205.5,395.0 205.5,398.0C205.5,401.0 204.4,406.1 202.0,407.6C199.6,409.2 194.8,407.6 191.1,407.5C187.5,407.4 183.9,407.4 180.2,406.9C176.6,406.3 173.0,404.0 169.4,404.2C165.8,404.4 162.1,407.6 158.5,408.0C154.9,408.3 151.2,406.5 147.6,406.2C144.0,405.9 140.4,406.4 136.8,406.4C133.1,406.4 129.5,406.2 125.9,406.2C122.2,406.1 117.4,407.4 115.0,406.1C112.6,404.7 112.1,399.3 111.5,398.0Z" fill="#86d8e4" stroke="#3fb3c8" stroke-width="1.1"/><ellipse cx="190.8" cy="397.3" rx="6.0" ry="3.2" fill="#f2fbfc" opacity="0.85"/><ellipse cx="140.6" cy="397.3" rx="8.1" ry="3.0" fill="#f2fbfc" opacity="0.85"/><ellipse cx="149.2" cy="396.5" rx="6.9" ry="2.0" fill="#f2fbfc" opacity="0.85"/><ellipse cx="122.5" cy="399.2" rx="10.1" ry="1.8" fill="#f2fbfc" opacity="0.85"/><ellipse cx="139.2" cy="399.4" rx="9.9" ry="2.3" fill="#f2fbfc" opacity="0.85"/>
<path d="M16.0,291.9L19.0,294.2L22.0,292.1L25.0,293.6L28.0,293.9L31.0,293.6L34.0,292.5L37.0,292.6L40.0,293.6L43.0,294.2L46.0,293.4L49.0,293.1L52.0,292.7L55.0,292.8L58.0,293.6L61.0,292.8L64.0,293.1L67.0,293.3L70.0,293.3L73.0,291.8L76.0,292.3L79.0,293.5L82.0,293.2L85.0,293.9L88.0,291.8L91.0,292.3L94.0,293.0L97.0,293.6L100.0,292.2L103.0,293.7L102.8,296.5L103.0,299.5L100.0,300.9L97.0,299.0L94.0,301.1L91.0,299.5L88.0,299.6L85.0,299.2L82.0,299.9L79.0,300.9L76.0,299.3L73.0,300.1L70.0,299.8L67.0,299.5L64.0,299.0L61.0,300.5L58.0,299.8L55.0,299.9L52.0,300.3L49.0,299.0L46.0,300.8L43.0,301.0L40.0,299.4L37.0,300.8L34.0,300.5L31.0,299.5L28.0,299.4L25.0,298.9L22.0,299.8L19.0,299.9L16.0,300.0L16.0,296.5Z" fill="url(#molD)" opacity="0.60"/>
<path d="M116.0,292.2L119.0,291.2L122.1,290.9L125.1,291.1L128.1,291.7L131.2,292.3L134.2,290.8L137.2,290.3L140.3,290.7L143.3,289.9L146.3,291.4L149.4,292.3L152.4,290.2L155.4,291.7L158.5,290.2L161.5,292.1L164.6,291.1L167.6,290.7L170.6,289.8L173.7,290.1L176.7,292.0L179.7,290.2L182.8,291.3L185.8,291.2L188.8,290.9L191.9,291.6L194.9,290.0L197.9,291.4L201.0,289.9L204.0,290.3L204.5,294.5L204.0,297.2L201.0,297.1L197.9,298.0L194.9,298.4L191.9,296.7L188.8,298.5L185.8,298.2L182.8,296.7L179.7,298.2L176.7,296.7L173.7,298.1L170.6,298.3L167.6,297.7L164.6,297.6L161.5,298.8L158.5,297.2L155.4,297.9L152.4,298.0L149.4,296.8L146.3,299.0L143.3,297.2L140.3,298.8L137.2,297.9L134.2,296.7L131.2,297.5L128.1,298.2L125.1,297.9L122.1,299.1L119.0,296.8L116.0,298.9L116.9,294.5Z" fill="url(#molD)" opacity="0.60"/>
<path d="M14.0,400.8L17.0,402.2L20.0,400.8L23.0,402.0L26.0,403.2L29.0,401.5L32.0,403.2L35.0,402.4L38.0,403.0L41.0,400.8L44.0,402.6L47.0,402.0L50.0,402.3L53.0,401.7L56.0,403.2L59.0,402.4L62.0,402.6L65.0,402.5L68.0,402.1L71.0,402.8L74.0,402.3L77.0,402.2L80.0,401.1L83.0,402.1L86.0,401.1L89.0,402.2L92.0,401.8L95.0,402.7L98.0,402.2L101.0,401.6L101.0,404.5L101.0,406.3L98.0,408.3L95.0,407.9L92.0,406.7L89.0,406.3L86.0,406.9L83.0,407.4L80.0,406.9L77.0,408.1L74.0,405.8L71.0,406.6L68.0,407.0L65.0,405.8L62.0,406.9L59.0,407.2L56.0,406.5L53.0,408.3L50.0,406.6L47.0,406.7L44.0,407.2L41.0,406.4L38.0,406.9L35.0,406.1L32.0,405.8L29.0,407.5L26.0,406.4L23.0,406.1L20.0,406.4L17.0,406.8L14.0,406.1L14.5,404.5Z" fill="url(#molD)" opacity="0.60"/>
<path d="M114.0,403.2L117.0,402.2L120.1,403.4L123.1,404.2L126.1,401.8L129.2,402.9L132.2,402.6L135.2,402.4L138.3,404.0L141.3,404.2L144.3,403.8L147.4,402.8L150.4,404.0L153.4,402.0L156.5,403.0L159.5,402.9L162.6,401.9L165.6,403.1L168.6,402.7L171.7,402.7L174.7,402.0L177.7,403.4L180.8,402.1L183.8,401.8L186.8,404.0L189.9,402.5L192.9,403.3L195.9,403.6L199.0,403.7L202.0,404.1L201.1,405.5L202.0,407.9L199.0,407.0L195.9,408.6L192.9,407.3L189.9,407.4L186.8,407.4L183.8,408.6L180.8,407.9L177.7,408.9L174.7,408.2L171.7,408.2L168.6,408.4L165.6,407.6L162.6,407.7L159.5,407.4L156.5,407.2L153.4,409.1L150.4,408.3L147.4,407.9L144.3,408.3L141.3,407.2L138.3,409.0L135.2,408.0L132.2,407.5L129.2,408.5L126.1,408.0L123.1,408.5L120.1,407.0L117.0,409.2L114.0,409.0L113.0,405.5Z" fill="url(#molD)" opacity="0.60"/>
<path d="M69.8 303.2h0M83.6 304.6h0M79.2 304.5h0M22.3 301.3h0M95.5 302.5h0M92.1 298.8h0M57.5 299.7h0M63.5 302.0h0M21.0 299.5h0M42.4 304.4h0M81.3 299.1h0M83.8 299.0h0M169.4 297.9h0M120.1 303.1h0M136.8 298.5h0M198.6 303.1h0M143.1 303.7h0M163.1 301.7h0M136.4 303.6h0M175.3 303.8h0M191.5 299.1h0M148.9 298.2h0M131.7 297.5h0M144.1 301.2h0M25.2 398.4h0M48.7 395.5h0M82.3 396.8h0M47.1 396.8h0M74.3 393.5h0M93.3 393.2h0M77.5 399.8h0M26.3 399.3h0M50.6 397.6h0M25.6 393.4h0M37.7 400.6h0M38.8 399.0h0M194.7 401.6h0M150.8 397.5h0M164.4 400.4h0M133.1 400.2h0M184.8 401.0h0M127.7 401.6h0M131.8 397.4h0M170.8 401.4h0M150.5 401.5h0M165.9 397.2h0M148.8 396.2h0M130.9 396.0h0" stroke="#3ecfc0" stroke-width="2.8" stroke-linecap="round" fill="none"/>
<path d="M129.4 310.6h0M122.4 313.2h0M148.5 312.3h0M161.2 308.5h0M154.6 308.3h0M189.6 311.4h0M135.9 309.0h0M200.3 313.0h0M141.8 314.9h0M167.8 309.4h0M154.1 313.4h0M178.2 314.4h0M183.4 311.3h0M175.5 308.3h0M194.6 312.4h0M129.4 315.7h0M140.9 308.2h0M117.3 309.0h0M134.8 314.6h0M161.2 314.2h0M203.7 308.5h0M172.6 313.7h0M167.9 315.8h0M117.4 315.0h0M186.7 315.9h0M198.6 308.3h0M124.6 308.2h0M204.5 315.8h0M131.7 324.5h0M141.7 320.5h0M191.8 319.9h0M181.5 319.8h0M123.7 321.3h0M196.2 327.0h0M185.6 324.1h0M157.4 324.2h0M168.9 322.9h0M118.7 321.5h0M137.0 334.0h0M123.0 338.0h0M139.0 350.0h0M140.0 357.0h0M198.0 331.0h0M180.0 333.0h0M122.0 368.0h0M166.0 368.0h0M176.0 365.0h0M190.0 372.0h0M138.7 385.0h0M196.6 389.3h0M182.7 388.7h0M128.8 388.7h0M167.2 385.3h0M152.9 389.8h0M145.4 389.3h0M197.8 384.0h0M180.4 383.1h0M118.3 385.6h0M174.7 390.4h0M173.5 384.8h0M153.9 384.5h0M162.2 383.8h0M169.4 391.9h0M136.5 391.9h0M191.7 383.1h0M190.4 390.6h0M117.4 390.7h0M163.8 389.5h0M157.9 391.6h0M187.2 386.0h0M123.2 390.8h0M132.8 383.9h0M123.5 385.1h0M147.9 384.2h0M202.3 389.5h0M202.9 383.5h0M122.4 376.4h0M195.9 374.0h0M159.0 377.1h0M171.1 380.4h0M183.6 372.1h0M190.3 372.1h0M129.1 372.3h0M149.6 378.2h0M154.7 373.9h0M142.1 374.1h0M171.8 372.3h0M166.2 378.6h0" stroke="#454545" stroke-width="2.5" stroke-linecap="round" fill="none"/><path d="M129.8 312.9h0M129.1 308.3h0M124.7 312.7h0M120.2 313.8h0M150.2 313.9h0M146.9 310.6h0M160.5 306.3h0M161.8 310.7h0M156.6 309.5h0M152.6 307.1h0M189.6 313.7h0M189.6 309.1h0M138.2 309.0h0M133.6 309.0h0M200.9 315.2h0M199.8 310.8h0M140.3 313.1h0M143.2 316.7h0M165.5 310.0h0M170.0 308.9h0M151.9 314.1h0M156.3 312.8h0M175.9 314.4h0M180.5 314.3h0M184.2 313.5h0M182.6 309.2h0M176.6 306.3h0M174.4 310.3h0M196.6 313.6h0M192.7 311.2h0M129.7 318.0h0M129.2 313.4h0M143.2 308.5h0M138.6 307.9h0M117.0 311.3h0M117.5 306.8h0M132.9 315.9h0M136.7 313.3h0M163.1 312.8h0M159.3 315.5h0M202.0 310.1h0M205.3 306.9h0M174.3 315.2h0M170.9 312.1h0M167.8 318.1h0M168.0 313.5h0M119.7 314.9h0M115.1 315.2h0M188.9 316.8h0M184.6 315.0h0M196.9 306.7h0M200.2 309.9h0M122.9 309.8h0M126.2 306.6h0M203.3 313.9h0M205.8 317.7h0M130.5 326.5h0M132.9 322.6h0M140.8 318.3h0M142.5 322.6h0M189.5 319.9h0M194.1 319.8h0M180.1 318.0h0M182.9 321.7h0M125.6 320.0h0M121.9 322.7h0M194.2 325.9h0M198.2 328.1h0M187.0 325.9h0M184.1 322.3h0M159.5 325.1h0M155.3 323.2h0M171.1 322.1h0M166.8 323.7h0M116.4 321.7h0M121.0 321.4h0M137.8 336.2h0M136.2 331.8h0M125.2 337.2h0M120.8 338.8h0M137.0 348.9h0M141.0 351.1h0M139.7 354.7h0M140.3 359.3h0M199.7 329.4h0M196.3 332.6h0M179.5 335.2h0M180.5 330.8h0M120.6 369.8h0M123.4 366.2h0M167.7 366.4h0M164.3 369.6h0M177.5 366.7h0M174.5 363.3h0M190.2 369.7h0M189.8 374.3h0M140.5 386.3h0M136.8 383.7h0M195.8 387.2h0M197.5 391.5h0M182.0 386.5h0M183.4 390.9h0M131.0 388.0h0M126.7 389.4h0M168.5 383.4h0M165.9 387.2h0M150.6 389.7h0M155.2 389.8h0M146.2 391.4h0M144.7 387.1h0M199.2 385.8h0M196.5 382.1h0M178.1 382.7h0M182.6 383.5h0M116.0 385.4h0M120.6 385.7h0M176.7 391.4h0M172.6 389.4h0M175.4 383.4h0M171.6 386.1h0M151.6 384.4h0M156.2 384.6h0M161.5 381.6h0M162.9 386.0h0M169.8 394.2h0M168.9 389.7h0M136.6 394.2h0M136.4 389.6h0M194.0 383.2h0M189.4 382.9h0M189.1 392.6h0M191.7 388.7h0M117.1 392.9h0M117.6 388.4h0M161.7 390.6h0M165.8 388.5h0M156.2 393.2h0M159.5 390.0h0M188.4 384.0h0M186.1 387.9h0M124.9 389.4h0M121.4 392.3h0M133.8 386.0h0M131.7 381.9h0M121.7 386.5h0M125.4 383.7h0M149.0 386.2h0M146.7 382.2h0M201.1 387.5h0M203.5 391.5h0M205.2 383.1h0M200.6 383.8h0M123.1 378.6h0M121.7 374.2h0M196.1 371.7h0M195.6 376.3h0M158.2 379.3h0M159.7 374.9h0M173.4 380.5h0M168.8 380.2h0M183.8 369.8h0M183.4 374.4h0M189.0 374.1h0M191.6 370.2h0M130.2 374.3h0M128.0 370.3h0M147.4 379.1h0M151.7 377.3h0M154.9 376.2h0M154.4 371.6h0M140.2 375.3h0M144.0 372.8h0M169.7 373.1h0M174.0 371.6h0M164.2 379.7h0M168.2 377.4h0" stroke="#dd1414" stroke-width="3.4" stroke-linecap="round" fill="none"/>
<rect x="36.4" y="419.6" width="38" height="12.7" fill="#86a6ba" fill-opacity="0.95"/>
<text x="55.4" y="429.6" font-size="9.8" fill="#e8eef2" stroke="#e8eef2" stroke-width="0.22" text-anchor="middle" textLength="29" lengthAdjust="spacingAndGlyphs">C-S-H</text>
<path d="M8.5,301V401" stroke="#111" stroke-width="1"/>
<path d="M4,299.4H13M4,402.7H13" stroke="#222" stroke-width="1"/>
<path d="M8.5,300 l-2.6,6 h5.2Z M8.5,402 l-2.6,-6 h5.2Z" fill="#111"/>
<text transform="translate(19.3,351) rotate(-90)" font-size="10.2" fill="#222" stroke="#222" stroke-width="0.22" text-anchor="middle" textLength="66" lengthAdjust="spacingAndGlyphs">4 nm slit pore</text>
<text x="34.7" y="354.5" font-size="10.4" fill="#222" stroke="#222" stroke-width="0.22" textLength="44" lengthAdjust="spacingAndGlyphs">RH= 0.40</text>
<text x="33.5" y="384.5" font-size="10.6" fill="#58a6d3" stroke="#58a6d3" stroke-width="0.22" textLength="49.7" lengthAdjust="spacingAndGlyphs">water film</text>
<path d="M96.2,343.2H106.2V338L116.1,349.8L106.2,361.8V356.1H96.2Z" fill="#2f7597"/>
<text x="146.1" y="350.3" font-size="10.4" fill="#c8161d" font-weight="bold">CO<tspan font-size="7.2" dy="2.3">2</tspan></text>
<text x="223.3" y="243.5" font-size="11" fill="#111" font-weight="bold">e</text>
<text x="274.7" y="247.2" font-size="10" fill="#222" stroke="#222" stroke-width="0.22" text-anchor="middle" textLength="19" lengthAdjust="spacingAndGlyphs">0 ns</text>
<text x="394.0" y="247.6" font-size="10" fill="#222" stroke="#222" stroke-width="0.22" text-anchor="middle" textLength="19" lengthAdjust="spacingAndGlyphs">5 ns</text>
<defs><linearGradient id="blobg" x1="0" y1="0" x2="1" y2="0"><stop offset="0" stop-color="#4fb3c7"/><stop offset="0.04" stop-color="#80cddb"/><stop offset="0.12" stop-color="#c8edf2"/><stop offset="0.5" stop-color="#e2f6f8"/><stop offset="0.87" stop-color="#c8edf2"/><stop offset="0.93" stop-color="#88d1df"/><stop offset="1" stop-color="#4aaec3"/></linearGradient><linearGradient id="blobv" x1="0" y1="0" x2="0" y2="1"><stop offset="0" stop-color="#4fb6ca" stop-opacity="0.35"/><stop offset="0.07" stop-color="#4fb6ca" stop-opacity="0"/><stop offset="0.9" stop-color="#4fb6ca" stop-opacity="0"/><stop offset="1" stop-color="#4fb6ca" stop-opacity="0.45"/></linearGradient><filter id="bl" x="-20%" y="-20%" width="140%" height="140%"><feGaussianBlur stdDeviation="2.2"/></filter></defs>
<path d="M230.8,300.4 C256.8,296.4 293.5,297.4 320.5,299.4 C324.5,332.4 324.5,380.8 321.5,408.8 C293.5,411.8 256.8,411.8 229.8,409.8 C225.8,380.8 225.8,332.4 230.8,300.4Z" fill="url(#blobg)"/>
<path d="M230.8,300.4 C256.8,296.4 293.5,297.4 320.5,299.4 C324.5,332.4 324.5,380.8 321.5,408.8 C293.5,411.8 256.8,411.8 229.8,409.8 C225.8,380.8 225.8,332.4 230.8,300.4Z" fill="url(#blobv)"/>
<g filter="url(#bl)"><ellipse cx="248.1" cy="372.6" rx="7.4" ry="4.4" fill="#f4fcfd" opacity="0.55"/><ellipse cx="314.7" cy="351.5" rx="9.7" ry="2.9" fill="#b0e0e9" opacity="0.55"/><ellipse cx="253.8" cy="305.3" rx="5.6" ry="4.9" fill="#ffffff" opacity="0.55"/><ellipse cx="246.5" cy="378.6" rx="9.5" ry="5.5" fill="#a6dce6" opacity="0.55"/><ellipse cx="315.3" cy="377.4" rx="9.1" ry="5.1" fill="#ffffff" opacity="0.55"/><ellipse cx="312.0" cy="357.9" rx="7.9" ry="5.2" fill="#ffffff" opacity="0.55"/><ellipse cx="236.7" cy="377.6" rx="3.6" ry="6.0" fill="#ffffff" opacity="0.55"/><ellipse cx="271.4" cy="359.1" rx="5.4" ry="4.4" fill="#f4fcfd" opacity="0.55"/><ellipse cx="288.5" cy="351.1" rx="8.7" ry="2.4" fill="#f4fcfd" opacity="0.55"/><ellipse cx="251.6" cy="399.9" rx="9.3" ry="5.8" fill="#b0e0e9" opacity="0.55"/><ellipse cx="314.6" cy="312.0" rx="6.9" ry="4.8" fill="#a6dce6" opacity="0.55"/><ellipse cx="251.0" cy="395.5" rx="9.2" ry="4.0" fill="#ffffff" opacity="0.55"/><ellipse cx="311.8" cy="354.1" rx="5.2" ry="4.4" fill="#ffffff" opacity="0.55"/><ellipse cx="237.0" cy="314.1" rx="8.0" ry="7.0" fill="#a6dce6" opacity="0.55"/><ellipse cx="235.0" cy="311.9" rx="7.2" ry="4.6" fill="#b0e0e9" opacity="0.55"/><ellipse cx="283.9" cy="359.5" rx="7.4" ry="2.9" fill="#f4fcfd" opacity="0.55"/><ellipse cx="285.4" cy="386.7" rx="5.3" ry="5.8" fill="#ffffff" opacity="0.55"/><ellipse cx="254.6" cy="321.5" rx="9.5" ry="2.9" fill="#a6dce6" opacity="0.55"/><ellipse cx="265.1" cy="372.0" rx="7.7" ry="6.5" fill="#f4fcfd" opacity="0.55"/><ellipse cx="267.6" cy="401.9" rx="9.7" ry="5.0" fill="#ffffff" opacity="0.55"/><ellipse cx="274.4" cy="341.8" rx="4.7" ry="6.4" fill="#f4fcfd" opacity="0.55"/><ellipse cx="280.1" cy="348.0" rx="5.9" ry="5.7" fill="#ffffff" opacity="0.55"/><ellipse cx="302.3" cy="310.1" rx="4.8" ry="3.4" fill="#a6dce6" opacity="0.55"/><ellipse cx="254.9" cy="343.7" rx="9.1" ry="5.2" fill="#f4fcfd" opacity="0.55"/><ellipse cx="314.2" cy="378.1" rx="6.4" ry="3.3" fill="#b0e0e9" opacity="0.55"/><ellipse cx="308.4" cy="351.9" rx="9.7" ry="6.5" fill="#ffffff" opacity="0.55"/><path d="M248.8,318 C256.8,312 266.8,314 261.8,326 C256.8,333 248.8,330 248.8,318Z" fill="#5aa8b8" opacity="0.6"/></g>
<path d="M230.8,300.4 C256.8,296.4 293.5,297.4 320.5,299.4 C324.5,332.4 324.5,380.8 321.5,408.8 C293.5,411.8 256.8,411.8 229.8,409.8 C225.8,380.8 225.8,332.4 230.8,300.4Z" fill="none" stroke="#58b8cb" stroke-width="2"/>
<path d="M255.5,375.2C256.4,372.7 258.8,365.6 261.0,360.4C263.2,355.1 265.4,347.5 268.5,343.7C271.6,339.9 276.5,339.3 279.6,337.3C282.7,335.3 283.9,332.2 287.0,331.7C290.1,331.2 295.0,332.2 298.1,334.5C301.2,336.8 305.5,341.3 305.5,345.6C305.5,349.9 300.9,356.1 298.1,360.4C295.3,364.7 292.0,368.1 288.9,371.5C285.8,374.9 283.3,379.6 279.6,380.8C275.9,382.1 270.5,379.6 266.6,379.0C262.7,378.4 258.1,377.4 256.4,377.1Z" fill="#8dd6e1" stroke="#76cbd8" stroke-width="0.8"/>
<path d="M271.8,350 C278.8,342 292.8,338 296.8,346 C288.8,350 278.8,356 271.8,350Z" fill="#b4e6ed" opacity="0.7" filter="url(#bl)"/>
<path d="M344.3,300.4 C370.3,296.4 407.0,297.4 434.0,299.4 C438.0,332.4 438.0,380.8 435.0,408.8 C407.0,411.8 370.3,411.8 343.3,409.8 C339.3,380.8 339.3,332.4 344.3,300.4Z" fill="url(#blobg)"/>
<path d="M344.3,300.4 C370.3,296.4 407.0,297.4 434.0,299.4 C438.0,332.4 438.0,380.8 435.0,408.8 C407.0,411.8 370.3,411.8 343.3,409.8 C339.3,380.8 339.3,332.4 344.3,300.4Z" fill="url(#blobv)"/>
<g filter="url(#bl)"><ellipse cx="422.9" cy="398.0" rx="9.2" ry="2.4" fill="#b0e0e9" opacity="0.55"/><ellipse cx="373.1" cy="342.2" rx="5.5" ry="5.6" fill="#ffffff" opacity="0.55"/><ellipse cx="384.2" cy="326.7" rx="6.2" ry="2.1" fill="#ffffff" opacity="0.55"/><ellipse cx="427.5" cy="353.8" rx="3.1" ry="5.1" fill="#a6dce6" opacity="0.55"/><ellipse cx="377.3" cy="310.6" rx="8.5" ry="4.9" fill="#f4fcfd" opacity="0.55"/><ellipse cx="398.4" cy="400.1" rx="5.5" ry="5.8" fill="#ffffff" opacity="0.55"/><ellipse cx="426.5" cy="332.6" rx="9.8" ry="4.9" fill="#a6dce6" opacity="0.55"/><ellipse cx="362.6" cy="352.3" rx="8.5" ry="5.4" fill="#f4fcfd" opacity="0.55"/><ellipse cx="363.0" cy="322.5" rx="5.3" ry="6.1" fill="#f4fcfd" opacity="0.55"/><ellipse cx="395.3" cy="313.1" rx="6.0" ry="4.8" fill="#b0e0e9" opacity="0.55"/><ellipse cx="370.9" cy="362.8" rx="3.8" ry="6.5" fill="#b0e0e9" opacity="0.55"/><ellipse cx="372.9" cy="381.2" rx="6.8" ry="3.3" fill="#ffffff" opacity="0.55"/><ellipse cx="398.3" cy="316.7" rx="8.6" ry="4.5" fill="#ffffff" opacity="0.55"/><ellipse cx="392.3" cy="395.0" rx="7.1" ry="6.7" fill="#f4fcfd" opacity="0.55"/><ellipse cx="384.6" cy="308.3" rx="7.4" ry="4.0" fill="#f4fcfd" opacity="0.55"/><ellipse cx="413.6" cy="372.3" rx="9.8" ry="6.0" fill="#ffffff" opacity="0.55"/><ellipse cx="391.8" cy="401.8" rx="8.2" ry="3.7" fill="#a6dce6" opacity="0.55"/><ellipse cx="387.9" cy="308.6" rx="4.9" ry="4.7" fill="#a6dce6" opacity="0.55"/><ellipse cx="425.0" cy="326.2" rx="3.7" ry="4.6" fill="#f4fcfd" opacity="0.55"/><ellipse cx="404.0" cy="359.7" rx="4.7" ry="2.5" fill="#f4fcfd" opacity="0.55"/><ellipse cx="421.0" cy="348.6" rx="5.4" ry="6.5" fill="#f4fcfd" opacity="0.55"/><ellipse cx="420.5" cy="372.4" rx="5.9" ry="5.5" fill="#f4fcfd" opacity="0.55"/><ellipse cx="392.3" cy="346.7" rx="5.1" ry="6.3" fill="#b0e0e9" opacity="0.55"/><ellipse cx="392.7" cy="386.0" rx="3.8" ry="5.2" fill="#ffffff" opacity="0.55"/><ellipse cx="426.2" cy="376.4" rx="6.0" ry="2.8" fill="#ffffff" opacity="0.55"/><ellipse cx="375.6" cy="372.5" rx="3.8" ry="6.4" fill="#a6dce6" opacity="0.55"/><path d="M362.3,318 C370.3,312 380.3,314 375.3,326 C370.3,333 362.3,330 362.3,318Z" fill="#5aa8b8" opacity="0.6"/></g>
<path d="M344.3,300.4 C370.3,296.4 407.0,297.4 434.0,299.4 C438.0,332.4 438.0,380.8 435.0,408.8 C407.0,411.8 370.3,411.8 343.3,409.8 C339.3,380.8 339.3,332.4 344.3,300.4Z" fill="none" stroke="#58b8cb" stroke-width="2"/>
<path d="M369.0,375.2C369.9,372.7 372.3,365.6 374.5,360.4C376.7,355.1 378.9,347.5 382.0,343.7C385.1,339.9 390.0,339.3 393.1,337.3C396.2,335.3 397.4,332.2 400.5,331.7C403.6,331.2 408.5,332.2 411.6,334.5C414.7,336.8 419.0,341.3 419.0,345.6C419.0,349.9 414.4,356.1 411.6,360.4C408.8,364.7 405.5,368.1 402.4,371.5C399.3,374.9 396.8,379.6 393.1,380.8C389.4,382.1 384.0,379.6 380.1,379.0C376.2,378.4 371.6,377.4 369.9,377.1Z" fill="#8dd6e1" stroke="#76cbd8" stroke-width="0.8"/>
<path d="M385.3,350 C392.3,342 406.3,338 410.3,346 C402.3,350 392.3,356 385.3,350Z" fill="#b4e6ed" opacity="0.7" filter="url(#bl)"/>
<path d="M231.0,250.2L234.0,250.5L237.1,251.2L240.1,252.0L243.1,250.6L246.2,250.5L249.2,250.8L252.2,252.2L255.3,250.6L258.3,252.1L261.3,251.9L264.4,250.6L267.4,251.6L270.4,251.4L273.5,251.3L276.5,252.8L279.5,250.4L282.6,250.3L285.6,252.6L288.6,251.2L291.7,250.7L294.7,251.1L297.7,251.1L300.8,252.7L303.8,250.7L306.8,250.8L309.9,251.7L312.9,251.6L315.9,252.7L319.0,252.4L322.0,251.1L321.2,254.5L322.9,257.6L323.3,260.6L320.8,263.6L322.6,266.7L323.0,269.7L322.4,272.7L321.3,275.8L322.8,278.8L322.6,281.8L321.2,284.9L322.4,287.9L321.3,290.9L320.8,294.0L322.0,296.6L319.0,296.6L315.9,296.7L312.9,297.4L309.9,297.9L306.8,298.2L303.8,298.2L300.8,298.3L297.7,297.8L294.7,296.5L291.7,296.2L288.6,297.3L285.6,297.1L282.6,297.5L279.5,295.9L276.5,296.2L273.5,298.1L270.4,297.3L267.4,297.5L264.4,295.9L261.3,296.7L258.3,298.1L255.3,297.4L252.2,298.3L249.2,296.2L246.2,296.9L243.1,297.8L240.1,296.9L237.1,297.8L234.0,297.2L231.0,296.0L230.0,294.0L232.3,290.9L230.0,287.9L230.2,284.9L230.6,281.8L231.6,278.8L231.9,275.8L230.9,272.7L231.0,269.7L231.7,266.7L230.4,263.6L230.7,260.6L231.3,257.6L231.4,254.5Z" fill="url(#molE)"/>
<path d="M228.8,409.9L231.9,410.3L234.9,410.5L238.0,412.0L241.0,411.0L244.1,411.6L247.2,410.0L250.2,411.0L253.3,411.9L256.3,411.1L259.4,412.2L262.5,412.0L265.5,410.7L268.6,409.7L271.6,411.7L274.7,410.0L277.8,409.7L280.8,411.6L283.9,411.9L286.9,411.9L290.0,412.2L293.1,410.2L296.1,409.9L299.2,410.0L302.2,412.2L305.3,410.0L308.4,410.1L311.4,409.8L314.5,409.8L317.5,409.8L320.6,410.6L319.7,414.0L320.1,417.0L321.7,420.0L319.7,423.1L321.4,426.1L321.2,429.1L320.8,432.1L320.8,435.1L321.3,438.1L320.8,441.1L319.9,444.2L320.2,447.2L319.9,450.2L320.6,452.9L317.5,454.5L314.5,453.0L311.4,452.1L308.4,453.1L305.3,454.0L302.2,453.1L299.2,453.7L296.1,452.1L293.1,452.1L290.0,453.6L286.9,452.0L283.9,452.7L280.8,452.9L277.8,452.4L274.7,452.0L271.6,451.9L268.6,454.4L265.5,453.7L262.5,454.4L259.4,453.2L256.3,454.4L253.3,454.1L250.2,453.5L247.2,453.3L244.1,453.2L241.0,452.5L238.0,452.9L234.9,453.8L231.9,452.4L228.8,454.1L228.8,450.2L229.1,447.2L229.6,444.2L229.2,441.1L227.9,438.1L228.1,435.1L227.5,432.1L227.6,429.1L230.0,426.1L229.0,423.1L230.0,420.0L229.5,417.0L228.3,414.0Z" fill="url(#molE)"/>
<path d="M343.8,252.6L346.8,252.7L349.9,253.2L352.9,251.8L355.9,252.8L358.9,253.4L362.0,253.5L365.0,251.6L368.0,252.8L371.1,252.7L374.1,252.4L377.1,253.6L380.2,252.5L383.2,252.3L386.2,253.6L389.2,252.8L392.3,251.9L395.3,251.9L398.3,252.4L401.4,251.2L404.4,252.7L407.4,253.0L410.5,252.2L413.5,253.3L416.5,253.5L419.6,252.5L422.6,252.9L425.6,251.4L428.6,251.2L431.7,253.6L434.7,251.8L434.0,255.4L435.7,258.5L435.3,261.5L433.7,264.6L434.2,267.6L434.0,270.6L434.1,273.7L433.4,276.7L434.8,279.8L434.2,282.8L434.4,285.8L433.9,288.9L433.7,291.9L433.5,295.0L434.7,299.0L431.7,298.6L428.6,298.2L425.6,297.0L422.6,297.1L419.6,297.0L416.5,297.5L413.5,296.8L410.5,297.4L407.4,297.2L404.4,297.2L401.4,298.4L398.3,297.9L395.3,297.9L392.3,297.6L389.2,298.1L386.2,298.7L383.2,297.5L380.2,296.9L377.1,298.0L374.1,297.7L371.1,298.7L368.0,297.0L365.0,299.0L362.0,296.7L358.9,298.1L355.9,297.9L352.9,297.5L349.9,299.0L346.8,298.5L343.8,297.1L343.8,295.0L344.1,291.9L342.6,288.9L342.7,285.8L344.1,282.8L344.4,279.8L343.7,276.7L343.6,273.7L343.8,270.6L343.2,267.6L344.8,264.6L345.0,261.5L343.8,258.5L342.6,255.4Z" fill="url(#molE)"/>
<path d="M342.0,411.1L345.0,411.2L348.1,411.9L351.1,412.0L354.1,412.0L357.2,410.6L360.2,412.2L363.2,410.8L366.3,410.5L369.3,409.9L372.3,411.0L375.4,410.1L378.4,410.4L381.4,411.3L384.5,411.7L387.5,411.7L390.5,409.9L393.6,409.9L396.6,410.4L399.6,411.1L402.7,411.9L405.7,411.8L408.7,412.1L411.8,411.2L414.8,411.4L417.8,410.5L420.9,410.5L423.9,410.2L426.9,411.1L430.0,411.3L433.0,411.2L432.7,414.2L432.8,417.3L432.3,420.5L433.8,423.6L433.2,426.8L433.6,429.9L433.8,433.1L432.4,436.2L432.0,439.4L432.4,442.5L434.1,445.7L433.8,448.8L433.0,451.8L430.0,452.7L426.9,451.6L423.9,453.0L420.9,450.9L417.8,452.6L414.8,453.2L411.8,451.8L408.7,451.9L405.7,451.0L402.7,451.4L399.6,451.3L396.6,451.5L393.6,450.9L390.5,451.5L387.5,451.0L384.5,452.1L381.4,451.8L378.4,451.3L375.4,453.2L372.3,451.5L369.3,452.1L366.3,453.0L363.2,452.7L360.2,453.2L357.2,452.3L354.1,453.0L351.1,450.9L348.1,452.6L345.0,451.6L342.0,451.5L342.7,448.8L342.6,445.7L341.6,442.5L341.6,439.4L341.4,436.2L343.1,433.1L342.3,429.9L341.4,426.8L342.1,423.6L340.9,420.5L341.4,417.3L342.0,414.2Z" fill="url(#molE)"/>
<path d="M232.0,297.1L235.1,297.7L238.1,297.6L241.2,297.9L244.3,296.4L247.3,298.2L250.4,297.2L253.5,297.6L256.6,297.7L259.6,298.1L262.7,296.4L265.8,296.7L268.8,297.6L271.9,297.2L275.0,297.7L278.0,296.6L281.1,298.2L284.2,295.7L287.2,297.6L290.3,296.7L293.4,295.8L296.4,297.5L299.5,295.8L302.6,296.3L305.7,296.5L308.7,296.1L311.8,296.1L314.9,295.9L317.9,297.9L321.0,295.9L320.1,301.0L321.0,303.9L317.9,306.1L314.9,305.1L311.8,305.8L308.7,306.2L305.7,305.0L302.6,304.7L299.5,304.7L296.4,304.4L293.4,305.2L290.3,306.2L287.2,305.0L284.2,305.7L281.1,306.0L278.0,305.9L275.0,305.4L271.9,305.1L268.8,304.0L265.8,304.7L262.7,305.9L259.6,304.8L256.6,305.5L253.5,304.4L250.4,305.2L247.3,304.3L244.3,305.7L241.2,305.8L238.1,303.7L235.1,305.4L232.0,303.9L233.2,301.0Z" fill="url(#molE)" opacity="0.45"/>
<path d="M232.0,399.6L235.1,401.3L238.1,401.2L241.2,401.1L244.3,400.8L247.3,401.0L250.4,398.7L253.5,400.3L256.6,399.3L259.6,400.6L262.7,399.8L265.8,400.2L268.8,400.1L271.9,400.2L275.0,400.9L278.0,401.3L281.1,399.6L284.2,400.8L287.2,401.0L290.3,399.7L293.4,399.0L296.4,400.0L299.5,400.7L302.6,400.1L305.7,399.2L308.7,400.5L311.8,399.5L314.9,401.0L317.9,399.1L321.0,400.2L320.7,403.7L322.3,407.3L321.0,410.1L317.9,412.0L314.9,410.8L311.8,410.7L308.7,410.2L305.7,411.0L302.6,412.1L299.5,412.3L296.4,412.1L293.4,411.3L290.3,410.3L287.2,411.0L284.2,411.4L281.1,410.5L278.0,412.3L275.0,409.9L271.9,410.3L268.8,410.2L265.8,410.1L262.7,409.9L259.6,410.3L256.6,410.7L253.5,412.1L250.4,411.1L247.3,411.3L244.3,410.6L241.2,410.1L238.1,411.2L235.1,411.6L232.0,409.9L232.4,407.3L231.2,403.7Z" fill="url(#molE)" opacity="0.55"/>
<path d="M345.0,298.5L348.0,296.9L351.1,298.3L354.1,298.9L357.1,298.9L360.2,298.0L363.2,298.3L366.2,297.7L369.3,298.1L372.3,297.0L375.3,298.5L378.4,298.3L381.4,297.4L384.4,297.7L387.5,298.6L390.5,297.9L393.6,299.2L396.6,299.2L399.6,298.9L402.7,296.9L405.7,296.9L408.7,297.5L411.8,297.6L414.8,298.5L417.8,298.8L420.9,298.2L423.9,298.4L426.9,298.2L430.0,296.8L433.0,298.1L432.3,302.0L433.0,305.8L430.0,304.7L426.9,306.4L423.9,307.1L420.9,304.9L417.8,306.2L414.8,304.8L411.8,305.6L408.7,305.1L405.7,306.9L402.7,306.6L399.6,307.0L396.6,305.3L393.6,306.6L390.5,306.5L387.5,306.0L384.4,307.1L381.4,306.3L378.4,305.4L375.3,306.6L372.3,306.0L369.3,305.3L366.2,306.3L363.2,304.8L360.2,305.9L357.1,306.1L354.1,304.7L351.1,306.4L348.0,304.9L345.0,306.4L344.6,302.0Z" fill="url(#molE)" opacity="0.45"/>
<path d="M345.0,400.4L348.0,399.8L351.1,400.6L354.1,398.9L357.1,400.5L360.2,399.7L363.2,400.3L366.2,399.1L369.3,399.6L372.3,399.4L375.3,399.6L378.4,400.6L381.4,399.9L384.4,401.2L387.5,400.2L390.5,399.3L393.6,400.3L396.6,400.1L399.6,399.1L402.7,400.1L405.7,398.7L408.7,399.7L411.8,400.1L414.8,400.5L417.8,401.2L420.9,400.3L423.9,398.8L426.9,399.9L430.0,399.4L433.0,400.6L434.0,403.7L431.9,407.3L433.0,411.7L430.0,410.5L426.9,410.2L423.9,410.9L420.9,410.8L417.8,410.4L414.8,410.4L411.8,410.8L408.7,411.5L405.7,410.1L402.7,410.7L399.6,410.3L396.6,411.6L393.6,410.3L390.5,411.6L387.5,409.8L384.4,411.9L381.4,410.8L378.4,412.1L375.3,411.8L372.3,411.9L369.3,409.8L366.2,411.6L363.2,411.1L360.2,412.0L357.1,411.2L354.1,410.6L351.1,412.1L348.0,412.3L345.0,410.3L344.1,407.3L344.8,403.7Z" fill="url(#molE)" opacity="0.55"/>
<path d="M379.1 325.4h0M401.5 359.6h0M376.6 329.7h0M416.1 322.3h0M421.9 333.5h0M346.7 312.2h0M382.3 346.1h0M420.6 378.0h0M371.8 354.8h0M385.6 374.5h0M407.0 305.1h0M362.2 309.4h0M399.3 365.1h0M427.2 382.7h0M379.3 398.9h0M357.7 339.1h0M360.8 346.9h0M410.8 395.6h0M405.5 327.8h0M354.5 372.7h0M409.1 383.5h0M427.2 350.8h0M403.2 375.2h0M398.1 305.4h0M378.6 362.3h0M416.4 317.3h0M393.8 391.5h0M392.6 326.5h0M390.4 367.7h0M365.5 382.9h0M407.7 390.7h0M353.7 317.7h0M374.5 380.5h0M426.1 392.3h0M409.7 332.3h0M425.0 318.8h0M370.6 340.1h0M402.4 400.0h0M421.4 349.5h0M376.6 349.0h0M385.8 385.9h0M392.2 333.1h0M388.9 319.5h0M420.3 325.6h0M418.0 396.3h0M385.7 351.5h0M379.3 306.7h0M430.9 355.9h0M416.9 312.4h0M422.1 397.9h0M404.5 355.4h0M348.5 339.3h0M410.1 345.0h0M387.2 313.5h0M357.5 310.8h0M349.5 386.6h0M369.3 365.7h0M426.7 332.3h0M394.5 348.0h0M402.5 391.7h0M373.6 317.6h0M372.4 385.2h0M387.4 332.3h0M363.4 400.1h0M365.8 356.6h0M347.4 305.1h0M371.2 306.8h0M410.3 312.4h0M347.4 360.3h0M403.1 318.9h0M427.8 341.0h0M431.3 323.5h0M411.5 339.3h0M356.3 387.5h0M360.6 394.1h0M398.7 319.0h0M353.0 313.3h0M401.4 323.8h0M423.3 337.9h0M417.5 351.6h0M378.5 316.3h0M431.4 378.4h0M391.6 314.7h0M418.4 374.1h0M380.7 378.9h0M403.1 383.1h0M371.7 311.3h0M413.2 356.8h0M403.9 308.9h0M351.0 334.0h0M355.7 393.8h0M427.8 327.4h0M388.4 394.3h0M392.6 309.2h0M419.8 308.1h0M371.4 375.7h0M354.6 305.5h0M371.2 334.7h0M414.7 387.4h0M348.3 353.1h0M384.2 305.5h0M346.2 327.1h0M367.8 389.9h0M397.9 401.3h0M395.0 380.3h0M423.6 385.7h0M395.4 340.8h0M349.7 364.7h0M353.0 339.5h0M415.5 327.3h0M392.4 399.3h0M367.4 330.7h0M406.4 366.9h0M412.1 352.5h0M421.7 314.8h0M350.8 349.1h0M376.9 310.9h0M424.5 357.6h0M363.0 332.6h0M415.6 368.1h0M359.4 326.3h0M411.3 321.3h0M368.6 315.6h0M398.8 350.4h0M348.0 400.2h0M393.6 373.3h0M357.3 322.2h0M412.0 377.6h0M426.3 374.0h0M363.9 338.6h0M423.8 366.7h0M362.7 362.6h0M429.8 347.0h0M431.5 313.7h0M358.2 334.1h0M379.0 336.1h0M368.0 345.2h0M418.7 356.4h0M402.2 330.9h0M384.6 335.9h0M366.8 370.7h0M346.9 343.4h0M418.3 343.7h0M410.1 401.1h0M367.5 378.9h0M354.6 399.5h0M362.0 386.4h0M356.6 364.0h0M348.3 391.6h0M346.1 369.1h0M356.9 350.1h0M372.8 360.2h0M388.3 359.2h0M352.7 354.9h0M413.8 334.5h0M387.3 323.8h0M428.7 360.2h0M389.8 342.8h0M350.8 380.5h0M394.7 386.4h0" stroke="#454545" stroke-width="2.5" stroke-linecap="round" fill="none"/><path d="M376.7 326.0h0M381.6 324.7h0M403.3 357.8h0M399.7 361.3h0M379.1 330.2h0M374.2 329.2h0M415.6 324.7h0M416.6 319.8h0M424.3 332.9h0M419.5 334.1h0M345.5 310.0h0M348.0 314.3h0M384.0 347.9h0M380.6 344.3h0M419.1 380.0h0M422.0 375.9h0M373.6 353.1h0M370.0 356.5h0M383.2 375.4h0M387.9 373.6h0M409.4 305.5h0M404.5 304.6h0M364.2 307.9h0M360.2 310.9h0M401.0 366.9h0M397.6 363.3h0M425.7 380.7h0M428.8 384.6h0M377.5 397.2h0M381.2 400.6h0M355.3 339.7h0M360.1 338.4h0M363.3 346.3h0M358.4 347.5h0M411.9 397.8h0M409.7 393.3h0M403.5 326.3h0M407.5 329.4h0M356.4 374.4h0M352.6 371.1h0M411.5 382.9h0M406.6 384.0h0M428.7 352.8h0M425.6 348.9h0M400.8 375.0h0M405.7 375.4h0M399.3 303.2h0M396.8 307.6h0M380.4 360.6h0M376.7 364.0h0M418.4 318.7h0M414.3 315.8h0M395.6 389.8h0M392.0 393.3h0M394.0 324.4h0M391.2 328.5h0M389.4 370.0h0M391.4 365.4h0M365.6 380.4h0M365.4 385.4h0M408.1 393.2h0M407.4 388.2h0M355.1 319.8h0M352.3 315.7h0M375.8 382.6h0M373.2 378.3h0M425.2 394.6h0M427.0 390.0h0M410.8 330.1h0M408.5 334.5h0M422.6 319.4h0M427.4 318.2h0M373.1 339.9h0M368.1 340.3h0M404.3 398.5h0M400.4 401.6h0M422.0 351.9h0M420.8 347.1h0M374.4 350.0h0M378.9 348.0h0M388.1 386.9h0M383.5 384.9h0M390.0 331.8h0M394.3 334.3h0M386.9 317.9h0M390.8 321.1h0M418.1 324.3h0M422.4 326.8h0M420.1 397.6h0M415.9 395.0h0M383.8 349.9h0M387.6 353.1h0M381.2 308.4h0M377.4 305.1h0M432.2 353.8h0M429.6 358.0h0M414.5 313.0h0M419.3 311.8h0M424.2 399.4h0M420.1 396.4h0M407.0 355.1h0M402.0 355.8h0M350.8 338.5h0M346.1 340.2h0M408.9 347.2h0M411.3 342.9h0M389.4 312.5h0M384.9 314.6h0M357.0 313.2h0M358.1 308.4h0M347.0 386.1h0M351.9 387.1h0M367.0 364.6h0M371.5 366.8h0M427.3 329.8h0M426.1 334.7h0M396.8 349.0h0M392.2 346.9h0M404.9 392.3h0M400.0 391.1h0M375.1 319.6h0M372.1 315.6h0M370.5 386.9h0M374.3 383.5h0M388.2 329.9h0M386.7 334.7h0M363.0 397.7h0M363.8 402.6h0M367.7 358.1h0M363.8 355.0h0M347.1 302.6h0M347.6 307.6h0M372.1 309.1h0M370.2 304.5h0M412.8 312.7h0M407.8 312.1h0M344.9 360.6h0M349.9 360.0h0M405.2 317.5h0M401.0 320.2h0M429.9 339.6h0M425.7 342.4h0M429.0 324.4h0M433.6 322.6h0M412.2 337.0h0M410.7 341.7h0M357.1 389.8h0M355.4 385.2h0M362.0 396.2h0M359.3 392.0h0M401.1 318.4h0M396.3 319.7h0M351.8 311.1h0M354.1 315.5h0M402.5 326.0h0M400.2 321.6h0M422.0 340.1h0M424.6 335.8h0M417.9 349.2h0M417.2 354.1h0M380.8 317.2h0M376.1 315.4h0M432.4 380.7h0M430.4 376.1h0M392.4 312.3h0M390.8 317.0h0M418.6 376.6h0M418.2 371.6h0M378.5 380.1h0M382.8 377.6h0M400.8 384.2h0M405.3 382.1h0M369.2 311.7h0M374.2 311.0h0M412.2 359.1h0M414.1 354.5h0M404.0 311.4h0M403.9 306.4h0M351.8 331.7h0M350.2 336.4h0M355.8 391.3h0M355.6 396.3h0M430.2 326.6h0M425.4 328.2h0M390.8 394.9h0M386.0 393.6h0M393.9 311.3h0M391.2 307.1h0M421.3 306.1h0M418.3 310.1h0M370.4 378.0h0M372.3 373.4h0M355.3 303.1h0M353.9 308.0h0M370.4 337.1h0M372.1 332.4h0M412.7 388.9h0M416.6 385.8h0M347.1 350.9h0M349.5 355.2h0M382.0 306.7h0M386.5 304.4h0M343.7 326.7h0M348.6 327.5h0M370.2 390.4h0M365.3 389.3h0M399.4 399.3h0M396.3 403.3h0M393.2 378.6h0M396.9 382.0h0M423.5 388.1h0M423.7 383.2h0M392.9 341.2h0M397.9 340.4h0M348.1 362.8h0M351.3 366.6h0M355.3 338.5h0M350.8 340.5h0M418.0 327.6h0M413.0 326.9h0M394.6 398.2h0M390.1 400.4h0M365.2 329.4h0M369.5 332.1h0M408.8 367.5h0M404.0 366.2h0M410.4 354.4h0M413.7 350.6h0M421.3 312.3h0M422.1 317.3h0M352.7 350.7h0M348.9 347.5h0M374.8 309.5h0M379.0 312.2h0M422.2 356.7h0M426.8 358.5h0M360.8 331.5h0M365.2 333.8h0M418.1 368.5h0M413.2 367.7h0M361.8 326.6h0M356.9 326.0h0M413.8 320.7h0M408.9 321.8h0M369.9 317.7h0M367.3 313.4h0M399.8 352.7h0M397.9 348.1h0M345.7 399.1h0M350.2 401.2h0M396.1 373.5h0M391.1 373.0h0M357.0 319.7h0M357.5 324.7h0M412.3 375.2h0M411.8 380.1h0M425.1 376.1h0M427.6 371.8h0M361.9 337.1h0M365.9 340.1h0M421.3 366.9h0M426.3 366.4h0M361.7 360.3h0M363.7 364.9h0M430.9 349.3h0M428.7 344.8h0M433.9 314.1h0M429.0 313.2h0M360.3 335.5h0M356.1 332.7h0M381.3 335.0h0M376.8 337.1h0M370.5 344.9h0M365.5 345.4h0M418.5 358.9h0M418.9 353.9h0M401.9 328.4h0M402.5 333.4h0M384.9 338.4h0M384.3 333.4h0M364.8 369.2h0M368.9 372.1h0M345.0 345.0h0M348.8 341.8h0M416.0 342.8h0M420.6 344.6h0M412.2 399.8h0M408.0 402.5h0M369.2 377.1h0M365.7 380.6h0M356.9 398.5h0M352.4 400.5h0M363.2 384.2h0M360.8 388.6h0M354.1 364.4h0M359.0 363.7h0M349.1 393.9h0M347.5 389.2h0M347.3 366.9h0M344.9 371.3h0M355.4 348.1h0M358.4 352.1h0M374.4 362.1h0M371.3 358.2h0M386.3 360.8h0M390.2 357.7h0M355.1 355.7h0M350.4 354.1h0M414.2 332.1h0M413.4 337.0h0M389.6 322.8h0M385.0 324.8h0M431.2 360.4h0M426.2 360.1h0M388.1 341.0h0M391.5 344.6h0M352.8 379.0h0M348.8 382.1h0M396.6 384.8h0M392.7 387.9h0" stroke="#dd1414" stroke-width="2.9" stroke-linecap="round" fill="none"/>
<text x="253.5" y="355.8" font-size="10.4" fill="#262626" stroke="#262626" stroke-width="0.22" textLength="43.8" lengthAdjust="spacingAndGlyphs">RH= 0.54</text>
<path d="M319.2,343.4H329.1V337.7L338.9,349.6L329.1,361.5V355.7H319.2Z" fill="#2f7597"/>
<rect x="479.4" y="258.5" width="187.89999999999998" height="176.7" fill="#d9ecf3"/>
<path d="M480.7,435.2L481.9,435.2L483.2,435.2L484.4,435.2L485.7,435.2L486.9,435.2L488.2,435.2L489.4,435.2L490.7,435.2L491.9,435.2L493.2,435.2L494.4,435.2L495.7,435.2L496.9,435.2L498.2,435.2L499.4,435.2L500.7,435.2L501.9,435.2L503.2,435.2L504.5,435.2L505.7,435.2L507.0,435.2L508.2,435.2L509.5,435.2L510.7,435.2L512.0,435.2L513.2,435.2L514.5,435.2L515.7,435.2L517.0,435.2L518.2,435.2L519.5,435.2L520.7,435.2L522.0,435.2L523.2,435.2L524.5,435.2L525.7,435.2L527.0,435.2L528.3,435.2L529.5,435.2L530.8,435.2L532.0,435.2L533.3,435.2L534.5,435.2L535.8,435.2L537.0,435.2L538.3,435.2L539.5,435.2L540.8,435.2L542.0,435.2L543.3,435.2L544.5,435.2L545.8,435.2L547.0,435.2L548.3,435.2L549.5,435.2L550.8,435.2L552.1,435.2L553.3,435.2L554.6,435.2L555.8,435.2L557.1,435.2L558.3,435.2L559.6,435.2L560.8,435.2L562.1,435.2L563.3,435.2L564.6,435.2L565.8,435.2L567.1,435.2L568.3,435.2L569.6,435.2L570.8,435.2L572.1,435.2L573.4,435.2L574.6,435.2L575.9,435.2L577.1,435.2L578.4,435.2L579.6,435.2L580.9,435.2L582.1,435.2L583.4,435.2L584.6,435.2L585.9,435.2L587.1,435.2L588.4,435.2L589.6,435.2L590.9,435.2L592.1,435.2L593.4,435.2L594.6,435.2L595.9,435.2L597.2,435.2L598.4,435.2L599.7,435.2L600.9,435.2L602.2,435.2L603.4,435.2L604.7,435.2L605.9,435.2L607.2,435.2L608.4,435.2L609.7,435.2L610.9,435.2L612.2,435.2L613.4,435.2L614.7,435.2L615.9,435.2L617.2,435.2L618.4,435.2L619.7,435.2L621.0,435.2L622.2,435.2L623.5,435.2L624.7,435.2L626.0,435.2L627.2,435.2L628.5,435.2L629.7,435.2L631.0,435.2L632.2,435.2L633.5,435.2L634.7,435.2L636.0,435.2L637.2,435.2L638.5,435.2L639.7,435.2L641.0,435.2L642.2,435.2L643.5,435.2L644.8,435.2L646.0,435.2L647.3,435.2L648.5,435.2L649.8,435.2L651.0,435.2L652.3,435.2L653.5,435.2L654.8,435.2L656.0,435.2L657.3,435.2L658.5,435.2L659.8,435.2L661.0,435.2L662.3,435.2L663.5,435.2L664.8,435.2L666.0,435.2L667.3,435.2L667.3,434.0L667.3,432.8L667.3,431.7L667.3,430.5L667.3,429.3L667.3,428.1L667.3,427.0L667.3,425.8L667.3,424.6L667.3,423.4L667.3,422.2L667.3,421.1L667.3,419.9L667.3,418.7L667.3,417.5L667.3,416.4L667.3,415.2L667.3,414.0L667.3,412.8L667.3,411.6L667.3,410.5L667.3,409.3L667.3,408.1L667.3,406.9L667.3,405.8L667.3,404.6L667.3,403.4L667.3,402.2L667.3,401.0L667.3,399.9L667.3,398.7L667.3,397.5L667.3,396.3L667.3,395.1L667.3,394.0L667.3,392.8L667.3,391.6L667.3,390.4L667.3,389.3L667.3,388.1L667.3,386.9L667.3,385.7L667.3,384.5L667.3,383.4L667.3,382.2L667.3,381.0L667.3,379.8L667.3,378.7L667.3,377.5L667.3,376.3L667.3,375.1L667.3,373.9L667.3,372.8L667.3,371.6L667.3,370.4L667.3,369.2L667.3,368.1L667.3,366.9L667.3,365.7L667.3,364.5L667.3,363.3L667.3,362.2L667.3,361.0L667.3,359.8L667.3,358.6L667.3,357.5L667.3,356.3L667.3,355.1L667.3,353.9L667.3,352.7L667.3,351.6L667.3,350.4L667.3,349.2L667.3,348.0L667.3,346.9L667.3,345.7L667.3,344.5L667.3,343.3L667.3,342.1L667.3,341.0L667.3,339.8L667.3,338.6L667.3,337.4L667.3,336.2L667.3,335.1L667.3,333.9L667.3,332.7L667.3,331.5L667.3,330.4L667.3,329.2L667.3,328.0L667.3,326.8L667.3,325.6L667.3,324.5L667.3,323.3L667.3,322.1L667.3,320.9L667.3,319.8L667.3,318.6L667.3,317.4L667.3,316.2L667.3,315.0L667.3,313.9L667.3,312.7L667.3,311.5L667.3,310.3L667.3,309.2L667.3,308.0L667.3,306.8L667.3,305.6L667.3,304.4L667.3,303.3L667.3,302.1L667.3,300.9L667.3,299.7L667.3,298.6L667.3,297.4L667.3,296.2L667.3,295.0L667.3,293.8L667.3,292.7L667.3,291.5L667.3,290.3L667.3,289.1L667.3,287.9L667.3,286.8L667.3,285.6L667.3,284.4L667.3,283.2L667.3,282.1L667.3,280.9L667.3,279.7L667.3,278.5L667.3,277.3L667.3,276.2L667.3,275.0L667.3,273.8L667.3,272.6L667.3,271.5L667.3,270.3L667.3,269.1L667.3,267.9L667.3,266.7L667.3,265.6L667.3,264.4L667.3,263.2L667.3,262.5L666.0,262.4L664.8,262.2L663.5,262.1L662.8,262.0L662.3,262.0L661.0,261.8L659.8,261.7L658.5,261.5L657.3,261.4L656.0,261.2L654.8,261.0L653.5,260.9L653.3,260.9L652.3,260.7L651.0,260.6L649.8,260.4L648.5,260.3L647.3,260.1L646.0,259.9L644.8,259.8L644.1,259.7L643.5,259.6L642.2,259.4L641.0,259.3L639.7,259.1L638.5,258.9L637.2,258.8L636.0,258.6L635.2,258.5L634.7,258.5L633.5,258.5L632.2,258.5L631.0,258.5L629.7,258.5L628.5,258.5L627.2,258.5L626.0,258.5L624.7,258.5L623.5,258.5L622.2,258.5L621.0,258.5L619.7,258.5L618.4,258.5L617.2,258.5L615.9,258.5L614.7,258.5L613.4,258.5L612.2,258.5L610.9,258.5L609.7,258.5L608.4,258.5L607.2,258.5L605.9,258.5L604.7,258.5L603.4,258.5L602.2,258.5L600.9,258.5L599.7,258.5L598.4,258.5L597.2,258.5L595.9,258.5L594.6,258.5L593.4,258.5L592.1,258.5L590.9,258.5L589.6,258.5L588.4,258.5L587.1,258.5L585.9,258.5L584.6,258.5L583.4,258.5L582.1,258.5L580.9,258.5L579.6,258.5L578.4,258.5L577.1,258.5L575.9,258.5L574.6,258.5L573.4,258.5L572.1,258.5L570.8,258.5L569.6,258.5L568.3,258.5L567.1,258.5L565.8,258.5L564.6,258.5L563.3,258.5L562.1,258.5L560.8,258.5L559.6,258.5L558.3,258.5L557.1,258.5L555.8,258.5L554.6,258.5L553.3,258.5L552.1,258.5L550.8,258.5L549.5,258.5L548.3,258.5L547.0,258.5L545.8,258.5L544.5,258.5L543.3,258.5L542.0,258.5L540.8,258.5L539.5,258.5L538.3,258.5L537.0,258.5L535.8,258.5L534.5,258.5L533.3,258.5L532.0,258.5L530.8,258.5L529.5,258.5L528.3,258.5L527.0,258.5L525.7,258.5L524.5,258.5L523.2,258.5L522.0,258.5L520.7,258.5L519.5,258.5L518.2,258.5L517.0,258.5L515.7,258.5L514.5,258.5L513.2,258.5L512.0,258.5L510.7,258.5L509.5,258.5L508.2,258.5L507.0,258.5L505.7,258.5L504.5,258.5L503.2,258.5L501.9,258.5L500.7,258.5L499.4,258.5L498.2,258.5L496.9,258.5L495.7,258.5L494.4,258.5L493.2,258.5L491.9,258.5L490.7,258.5L489.4,258.5L488.2,258.5L486.9,258.5L485.7,258.5L484.4,258.5L483.2,258.5L481.9,258.5L480.7,258.5L479.4,258.5L479.4,259.7L479.4,260.9L479.4,262.0L479.4,263.2L479.4,264.4L479.4,265.6L479.4,266.7L479.4,267.9L479.4,269.1L479.4,270.3L479.4,271.5L479.4,272.6L479.4,273.8L479.4,275.0L479.4,276.2L479.4,277.3L479.4,278.5L479.4,279.7L479.4,280.9L479.4,282.1L479.4,283.2L479.4,284.4L479.4,285.6L479.4,286.8L479.4,287.9L479.4,289.1L479.4,290.3L479.4,291.5L479.4,292.7L479.4,293.8L479.4,295.0L479.4,296.2L479.4,297.4L479.4,298.6L479.4,299.7L479.4,300.9L479.4,302.1L479.4,303.3L479.4,304.4L479.4,305.6L479.4,306.8L479.4,308.0L479.4,309.2L479.4,310.3L479.4,311.5L479.4,312.7L479.4,313.9L479.4,315.0L479.4,316.2L479.4,317.4L479.4,318.6L479.4,319.8L479.4,320.9L479.4,322.1L479.4,323.3L479.4,324.5L479.4,325.6L479.4,326.8L479.4,328.0L479.4,329.2L479.4,330.4L479.4,331.5L479.4,332.7L479.4,333.9L479.4,335.1L479.4,336.2L479.4,337.4L479.4,338.6L479.4,339.8L479.4,341.0L479.4,342.1L479.4,343.3L479.4,344.5L479.4,345.7L479.4,346.9L479.4,348.0L479.4,349.2L479.4,350.4L479.4,351.6L479.4,352.7L479.4,353.9L479.4,355.1L479.4,356.3L479.4,357.5L479.4,358.6L479.4,359.8L479.4,361.0L479.4,362.2L479.4,363.3L479.4,364.5L479.4,365.7L479.4,366.9L479.4,368.1L479.4,369.2L479.4,370.4L479.4,371.6L479.4,372.8L479.4,373.9L479.4,375.1L479.4,376.3L479.4,377.5L479.4,378.7L479.4,379.8L479.4,381.0L479.4,382.2L479.4,383.4L479.4,384.5L479.4,385.7L479.4,386.9L479.4,388.1L479.4,389.3L479.4,390.4L479.4,391.6L479.4,392.8L479.4,394.0L479.4,395.1L479.4,396.3L479.4,397.5L479.4,398.7L479.4,399.9L479.4,401.0L479.4,402.2L479.4,403.4L479.4,404.6L479.4,405.8L479.4,406.9L479.4,408.1L479.4,409.3L479.4,410.5L479.4,411.6L479.4,412.8L479.4,414.0L479.4,415.2L479.4,416.4L479.4,417.5L479.4,418.7L479.4,419.9L479.4,421.1L479.4,422.2L479.4,423.4L479.4,424.6L479.4,425.8L479.4,427.0L479.4,428.1L479.4,429.3L479.4,430.5L479.4,431.7L479.4,432.8L479.4,434.0L479.4,435.2Z" fill="#c7dfea"/>
<path d="M480.7,435.2L481.9,435.2L483.2,435.2L484.4,435.2L485.7,435.2L486.9,435.2L488.2,435.2L489.4,435.2L490.7,435.2L491.9,435.2L493.2,435.2L494.4,435.2L495.7,435.2L496.9,435.2L498.2,435.2L499.4,435.2L500.7,435.2L501.9,435.2L503.2,435.2L504.5,435.2L505.7,435.2L507.0,435.2L508.2,435.2L509.5,435.2L510.7,435.2L512.0,435.2L513.2,435.2L514.5,435.2L515.7,435.2L517.0,435.2L518.2,435.2L519.5,435.2L520.7,435.2L522.0,435.2L523.2,435.2L524.5,435.2L525.7,435.2L527.0,435.2L528.3,435.2L529.5,435.2L530.8,435.2L532.0,435.2L533.3,435.2L534.5,435.2L535.8,435.2L537.0,435.2L538.3,435.2L539.5,435.2L540.8,435.2L542.0,435.2L543.3,435.2L544.5,435.2L545.8,435.2L547.0,435.2L548.3,435.2L549.5,435.2L550.8,435.2L552.1,435.2L553.3,435.2L554.6,435.2L555.8,435.2L557.1,435.2L558.3,435.2L559.6,435.2L560.8,435.2L562.1,435.2L563.3,435.2L564.6,435.2L565.8,435.2L567.1,435.2L568.3,435.2L569.6,435.2L570.8,435.2L572.1,435.2L573.4,435.2L574.6,435.2L575.9,435.2L577.1,435.2L578.4,435.2L579.6,435.2L580.9,435.2L582.1,435.2L583.4,435.2L584.6,435.2L585.9,435.2L587.1,435.2L588.4,435.2L589.6,435.2L590.9,435.2L592.1,435.2L593.4,435.2L594.6,435.2L595.9,435.2L597.2,435.2L598.4,435.2L599.7,435.2L600.9,435.2L602.2,435.2L603.4,435.2L604.7,435.2L605.9,435.2L607.2,435.2L608.4,435.2L609.7,435.2L610.9,435.2L612.2,435.2L613.4,435.2L614.7,435.2L615.9,435.2L617.2,435.2L618.4,435.2L619.7,435.2L621.0,435.2L622.2,435.2L623.5,435.2L624.7,435.2L626.0,435.2L627.2,435.2L628.5,435.2L629.7,435.2L631.0,435.2L632.2,435.2L633.5,435.2L634.7,435.2L636.0,435.2L637.2,435.2L638.5,435.2L639.7,435.2L641.0,435.2L642.2,435.2L643.5,435.2L644.8,435.2L646.0,435.2L647.3,435.2L648.5,435.2L649.8,435.2L651.0,435.2L652.3,435.2L653.5,435.2L654.8,435.2L656.0,435.2L657.3,435.2L658.5,435.2L659.8,435.2L661.0,435.2L662.3,435.2L663.5,435.2L664.8,435.2L666.0,435.2L667.3,435.2L667.3,434.0L667.3,432.8L667.3,431.7L667.3,430.5L667.3,429.3L667.3,428.1L667.3,427.0L667.3,425.8L667.3,424.6L667.3,423.4L667.3,422.2L667.3,421.1L667.3,419.9L667.3,418.7L667.3,417.5L667.3,416.4L667.3,415.2L667.3,414.0L667.3,412.8L667.3,411.6L667.3,410.5L667.3,409.3L667.3,408.1L667.3,406.9L667.3,405.8L667.3,404.6L667.3,403.4L667.3,402.2L667.3,401.0L667.3,399.9L667.3,398.7L667.3,397.5L667.3,396.3L667.3,395.1L667.3,394.0L667.3,392.8L667.3,391.6L667.3,390.4L667.3,389.3L667.3,388.1L667.3,386.9L667.3,385.7L667.3,384.5L667.3,383.4L667.3,382.2L667.3,381.0L667.3,379.8L667.3,378.7L667.3,377.5L667.3,376.3L667.3,375.1L667.3,373.9L667.3,372.8L667.3,371.6L667.3,370.4L667.3,369.2L667.3,368.1L667.3,366.9L667.3,365.7L667.3,364.5L667.3,363.3L667.3,362.2L667.3,361.0L667.3,359.8L667.3,358.6L667.3,357.5L667.3,356.3L667.3,355.1L667.3,353.9L667.3,352.7L667.3,351.6L667.3,350.4L667.3,349.2L667.3,348.0L667.3,346.9L667.3,345.7L667.3,344.5L667.3,343.3L667.3,342.1L667.3,341.0L667.3,339.8L667.3,338.6L667.3,337.4L667.3,336.2L667.3,335.1L667.3,333.9L667.3,332.7L667.3,331.5L667.3,330.4L667.3,329.2L667.3,328.0L667.3,326.8L667.3,325.6L667.3,324.5L667.3,323.3L667.3,322.1L667.3,320.9L667.3,319.8L667.3,318.6L667.3,317.4L667.3,316.2L667.3,315.0L667.3,313.9L667.3,312.7L667.3,311.5L667.3,310.3L667.3,309.2L667.3,308.0L667.3,306.8L667.3,305.6L667.3,304.4L667.3,303.3L667.3,302.1L667.3,300.9L667.3,299.7L667.3,298.6L667.3,297.4L667.3,296.2L667.3,295.0L667.3,293.8L667.3,292.7L667.3,291.5L667.3,290.3L667.3,289.1L667.3,287.9L667.3,286.8L667.3,285.6L667.3,284.4L667.3,283.2L667.3,282.1L667.3,280.9L667.3,279.7L667.3,278.5L667.3,277.3L667.3,276.2L667.3,275.0L667.3,273.8L667.3,272.6L667.3,271.5L667.3,270.3L667.3,269.1L667.3,269.1L666.0,269.0L664.8,269.0L663.5,268.9L662.3,268.9L661.0,268.8L659.8,268.7L658.5,268.7L657.3,268.6L656.0,268.6L654.8,268.5L653.5,268.4L652.3,268.4L651.0,268.3L649.8,268.2L648.5,268.2L647.3,268.1L646.0,268.0L644.8,268.0L643.8,267.9L643.5,267.9L642.2,267.8L641.0,267.8L639.7,267.7L638.5,267.6L637.2,267.6L636.0,267.5L634.7,267.4L633.5,267.4L632.2,267.3L631.0,267.2L629.7,267.2L628.5,267.1L627.2,267.0L626.0,266.9L624.7,266.9L623.5,266.8L622.6,266.7L622.2,266.7L621.0,266.7L619.7,266.6L618.4,266.5L617.2,266.4L615.9,266.4L614.7,266.3L613.4,266.2L612.2,266.1L610.9,266.1L609.7,266.0L608.4,265.9L607.2,265.8L605.9,265.8L604.7,265.7L603.4,265.6L602.8,265.6L602.2,265.5L600.9,265.5L599.7,265.4L598.4,265.3L597.2,265.2L595.9,265.1L594.6,265.1L593.4,265.0L592.1,264.9L590.9,264.8L589.6,264.8L588.4,264.7L587.1,264.6L585.9,264.5L584.6,264.5L583.4,264.4L583.4,264.4L582.1,264.3L580.9,264.2L579.6,264.2L578.4,264.1L577.1,264.0L575.9,263.9L574.6,263.9L573.4,263.8L572.1,263.7L570.8,263.7L569.6,263.6L568.3,263.5L567.1,263.5L565.8,263.4L564.6,263.3L563.3,263.3L562.3,263.2L562.1,263.2L560.8,263.1L559.6,263.1L558.3,263.0L557.1,263.0L555.8,262.9L554.6,262.9L553.3,262.8L552.1,262.8L550.8,262.7L549.5,262.7L548.3,262.6L547.0,262.6L545.8,262.6L544.5,262.5L543.3,262.5L542.0,262.5L540.8,262.4L539.5,262.4L538.3,262.4L537.0,262.4L535.8,262.4L534.5,262.3L533.3,262.3L532.0,262.3L530.8,262.3L529.5,262.3L528.3,262.3L527.0,262.3L525.7,262.3L524.5,262.3L523.2,262.3L522.0,262.3L520.7,262.3L519.5,262.3L518.2,262.3L517.0,262.4L515.7,262.4L514.5,262.4L513.2,262.4L512.0,262.4L510.7,262.5L509.5,262.5L508.2,262.5L507.0,262.6L505.7,262.6L504.5,262.6L503.2,262.7L501.9,262.7L500.7,262.8L499.4,262.8L498.2,262.9L496.9,262.9L495.7,263.0L494.4,263.0L493.2,263.1L491.9,263.1L490.7,263.2L490.5,263.2L489.4,263.3L488.2,263.3L486.9,263.4L485.7,263.5L484.4,263.6L483.2,263.7L481.9,263.8L480.7,263.8L479.4,263.9L479.4,264.4L479.4,265.6L479.4,266.7L479.4,267.9L479.4,269.1L479.4,270.3L479.4,271.5L479.4,272.6L479.4,273.8L479.4,275.0L479.4,276.2L479.4,277.3L479.4,278.5L479.4,279.7L479.4,280.9L479.4,282.1L479.4,283.2L479.4,284.4L479.4,285.6L479.4,286.8L479.4,287.9L479.4,289.1L479.4,290.3L479.4,291.5L479.4,292.7L479.4,293.8L479.4,295.0L479.4,296.2L479.4,297.4L479.4,298.6L479.4,299.7L479.4,300.9L479.4,302.1L479.4,303.3L479.4,304.4L479.4,305.6L479.4,306.8L479.4,308.0L479.4,309.2L479.4,310.3L479.4,311.5L479.4,312.7L479.4,313.9L479.4,315.0L479.4,316.2L479.4,317.4L479.4,318.6L479.4,319.8L479.4,320.9L479.4,322.1L479.4,323.3L479.4,324.5L479.4,325.6L479.4,326.8L479.4,328.0L479.4,329.2L479.4,330.4L479.4,331.5L479.4,332.7L479.4,333.9L479.4,335.1L479.4,336.2L479.4,337.4L479.4,338.6L479.4,339.8L479.4,341.0L479.4,342.1L479.4,343.3L479.4,344.5L479.4,345.7L479.4,346.9L479.4,348.0L479.4,349.2L479.4,350.4L479.4,351.6L479.4,352.7L479.4,353.9L479.4,355.1L479.4,356.3L479.4,357.5L479.4,358.6L479.4,359.8L479.4,361.0L479.4,362.2L479.4,363.3L479.4,364.5L479.4,365.7L479.4,366.9L479.4,368.1L479.4,369.2L479.4,370.4L479.4,371.6L479.4,372.8L479.4,373.9L479.4,375.1L479.4,376.3L479.4,377.5L479.4,378.7L479.4,379.8L479.4,381.0L479.4,382.2L479.4,383.4L479.4,384.5L479.4,385.7L479.4,386.9L479.4,388.1L479.4,389.3L479.4,390.4L479.4,391.6L479.4,392.8L479.4,394.0L479.4,395.1L479.4,396.3L479.4,397.5L479.4,398.7L479.4,399.9L479.4,401.0L479.4,402.2L479.4,403.4L479.4,404.6L479.4,405.8L479.4,406.9L479.4,408.1L479.4,409.3L479.4,410.5L479.4,411.6L479.4,412.8L479.4,414.0L479.4,415.2L479.4,416.4L479.4,417.5L479.4,418.7L479.4,419.9L479.4,421.1L479.4,422.2L479.4,423.4L479.4,424.6L479.4,425.8L479.4,427.0L479.4,428.1L479.4,429.3L479.4,430.5L479.4,431.7L479.4,432.8L479.4,434.0L479.4,435.2Z" fill="#b5d3e2"/>
<path d="M503.2,434.3L504.5,434.6L505.7,434.9L506.9,435.2L507.0,435.2L508.2,435.2L509.5,435.2L510.7,435.2L512.0,435.2L513.2,435.2L514.5,435.2L515.7,435.2L517.0,435.2L518.2,435.2L519.5,435.2L520.7,435.2L522.0,435.2L523.2,435.2L524.5,435.2L525.7,435.2L527.0,435.2L528.3,435.2L529.5,435.2L530.8,435.2L532.0,435.2L533.3,435.2L534.5,435.2L535.8,435.2L537.0,435.2L538.3,435.2L539.5,435.2L540.8,435.2L542.0,435.2L543.3,435.2L544.5,435.2L545.8,435.2L547.0,435.2L548.3,435.2L549.5,435.2L550.8,435.2L552.1,435.2L553.3,435.2L554.6,435.2L555.8,435.2L557.1,435.2L558.3,435.2L559.6,435.2L560.8,435.2L562.1,435.2L563.3,435.2L564.6,435.2L565.8,435.2L567.1,435.2L568.3,435.2L569.6,435.2L570.8,435.2L572.1,435.2L573.4,435.2L574.6,435.2L575.9,435.2L577.1,435.2L578.4,435.2L579.6,435.2L580.9,435.2L582.1,435.2L583.4,435.2L584.6,435.2L585.9,435.2L587.1,435.2L588.4,435.2L589.6,435.2L590.9,435.2L592.1,435.2L593.4,435.2L594.6,435.2L595.9,435.2L597.2,435.2L598.4,435.2L599.7,435.2L600.9,435.2L602.2,435.2L603.4,435.2L604.7,435.2L605.9,435.2L607.2,435.2L608.4,435.2L609.7,435.2L610.9,435.2L612.2,435.2L613.4,435.2L614.7,435.2L615.9,435.2L617.2,435.2L618.4,435.2L619.7,435.2L621.0,435.2L622.2,435.2L623.5,435.2L624.7,435.2L626.0,435.2L627.2,435.2L628.5,435.2L629.7,435.2L631.0,435.2L632.2,435.2L633.5,435.2L634.7,435.2L636.0,435.2L637.2,435.2L638.5,435.2L639.7,435.2L639.8,435.2L641.0,434.8L642.2,434.4L643.5,434.0L643.6,434.0L644.8,433.6L646.0,433.2L646.9,432.8L647.3,432.7L648.5,432.2L649.8,431.7L649.9,431.7L651.0,431.2L652.3,430.6L652.6,430.5L653.5,430.1L654.8,429.5L655.1,429.3L656.0,428.8L657.3,428.1L657.3,428.1L658.5,427.5L659.4,427.0L659.8,426.7L661.0,426.0L661.3,425.8L662.3,425.2L663.1,424.6L663.5,424.3L664.7,423.4L664.8,423.4L666.0,422.4L666.3,422.2L667.3,421.7L667.3,421.1L667.3,419.9L667.3,418.7L667.3,417.5L667.3,416.4L667.3,415.2L667.3,414.0L667.3,412.8L667.3,411.6L667.3,410.5L667.3,409.3L667.3,408.1L667.3,406.9L667.3,405.8L667.3,404.6L667.3,403.4L667.3,402.2L667.3,401.0L667.3,399.9L667.3,398.7L667.3,397.5L667.3,396.3L667.3,395.1L667.3,394.0L667.3,392.8L667.3,391.6L667.3,390.4L667.3,389.3L667.3,388.1L667.3,386.9L667.3,385.7L667.3,384.5L667.3,383.4L667.3,382.2L667.3,381.0L667.3,379.8L667.3,378.7L667.3,377.5L667.3,376.3L667.3,375.1L667.3,373.9L667.3,372.8L667.3,371.6L667.3,370.4L667.3,369.2L667.3,368.1L667.3,366.9L667.3,365.7L667.3,364.5L667.3,363.3L667.3,362.2L667.3,361.0L667.3,359.8L667.3,358.6L667.3,357.5L667.3,356.3L667.3,355.1L667.3,353.9L667.3,352.7L667.3,351.6L667.3,350.4L667.3,349.2L667.3,348.0L667.3,346.9L667.3,345.7L667.3,344.5L667.3,343.3L667.3,342.1L667.3,341.0L667.3,339.8L667.3,338.6L667.3,337.4L667.3,336.2L667.3,335.1L667.3,333.9L667.3,332.7L667.3,331.5L667.3,330.4L667.3,329.2L667.3,328.0L667.3,326.8L667.3,325.6L667.3,324.5L667.3,323.3L667.3,322.1L667.3,320.9L667.3,319.8L667.3,318.6L667.3,317.4L667.3,316.2L667.3,315.0L667.3,313.9L667.3,312.7L667.3,311.5L667.3,310.3L667.3,309.2L667.3,308.0L667.3,306.8L667.3,305.6L667.3,304.4L667.3,303.3L667.3,302.1L667.3,300.9L667.3,299.7L667.3,298.6L667.3,297.4L667.3,296.2L667.3,295.0L667.3,293.8L667.3,292.7L667.3,291.5L667.3,290.3L667.3,289.1L667.3,287.9L667.3,286.8L667.3,285.6L667.3,284.4L667.3,283.2L667.3,282.1L667.3,280.9L667.3,279.7L667.3,278.5L667.3,277.3L667.3,276.2L667.3,276.2L666.0,276.2L664.8,276.2L663.5,276.1L662.3,276.1L661.0,276.1L659.8,276.1L658.5,276.1L657.3,276.1L656.0,276.1L654.8,276.1L653.5,276.1L652.3,276.1L651.0,276.1L649.8,276.1L648.5,276.1L647.3,276.1L646.0,276.1L644.8,276.1L643.5,276.1L642.2,276.1L641.0,276.1L639.7,276.1L638.5,276.1L637.2,276.1L636.0,276.1L634.7,276.1L633.5,276.1L632.2,276.1L631.0,276.1L629.7,276.1L628.5,276.1L627.2,276.1L626.0,276.1L624.7,276.1L623.5,276.1L622.2,276.1L621.0,276.1L619.7,276.2L618.4,276.2L617.6,276.2L617.2,276.2L615.9,276.2L614.7,276.2L613.4,276.2L612.2,276.2L610.9,276.2L609.7,276.2L608.4,276.3L607.2,276.3L605.9,276.3L604.7,276.3L603.4,276.3L602.2,276.3L600.9,276.4L599.7,276.4L598.4,276.4L597.2,276.4L595.9,276.5L594.6,276.5L593.4,276.5L592.1,276.5L590.9,276.6L589.6,276.6L588.4,276.6L587.1,276.7L585.9,276.7L584.6,276.7L583.4,276.8L582.1,276.8L580.9,276.8L579.6,276.9L578.4,276.9L577.1,277.0L575.9,277.0L574.6,277.0L573.4,277.1L572.1,277.1L570.8,277.2L569.6,277.2L568.3,277.3L567.2,277.3L567.1,277.4L565.8,277.4L564.6,277.5L563.3,277.6L562.1,277.6L560.8,277.7L559.6,277.8L558.3,277.9L557.1,277.9L555.8,278.0L554.6,278.1L553.3,278.2L552.1,278.3L550.8,278.4L549.5,278.5L549.0,278.5L548.3,278.6L547.0,278.7L545.8,278.8L544.5,278.9L543.3,279.0L542.0,279.1L540.8,279.2L539.5,279.3L538.3,279.4L537.0,279.6L535.8,279.7L535.4,279.7L534.5,279.8L533.3,279.9L532.0,280.0L530.8,280.2L529.5,280.3L528.3,280.4L527.0,280.5L525.7,280.7L524.5,280.8L523.7,280.9L523.2,280.9L522.0,281.1L520.7,281.2L519.5,281.3L518.2,281.5L517.0,281.6L515.7,281.7L514.5,281.9L513.2,282.0L512.5,282.1L512.0,282.1L510.7,282.2L509.5,282.4L508.2,282.5L507.0,282.6L505.7,282.8L504.5,282.9L503.2,283.0L501.9,283.1L500.9,283.2L500.7,283.3L499.4,283.4L498.2,283.5L496.9,283.6L495.7,283.7L494.4,283.8L493.2,284.0L491.9,284.1L490.7,284.2L489.4,284.3L488.2,284.4L487.6,284.4L486.9,284.5L485.7,284.6L484.4,284.7L483.2,284.8L481.9,284.8L480.7,284.9L479.4,285.0L479.4,285.6L479.4,286.8L479.4,287.9L479.4,289.1L479.4,290.3L479.4,291.5L479.4,292.7L479.4,293.8L479.4,295.0L479.4,296.2L479.4,297.4L479.4,298.6L479.4,299.7L479.4,300.9L479.4,302.1L479.4,303.3L479.4,304.4L479.4,305.6L479.4,306.8L479.4,308.0L479.4,309.2L479.4,310.3L479.4,311.5L479.4,312.7L479.4,313.9L479.4,315.0L479.4,316.2L479.4,317.4L479.4,318.6L479.4,319.8L479.4,320.9L479.4,322.1L479.4,323.3L479.4,324.5L479.4,325.6L479.4,326.8L479.4,328.0L479.4,329.2L479.4,330.4L479.4,331.5L479.4,332.7L479.4,333.9L479.4,335.1L479.4,336.2L479.4,337.4L479.4,338.6L479.4,339.8L479.4,341.0L479.4,342.1L479.4,343.3L479.4,344.5L479.4,345.7L479.4,346.9L479.4,348.0L479.4,349.2L479.4,350.4L479.4,351.6L479.4,352.7L479.4,353.9L479.4,355.1L479.4,356.3L479.4,357.5L479.4,358.6L479.4,359.8L479.4,361.0L479.4,362.2L479.4,363.3L479.4,364.5L479.4,365.7L479.4,366.9L479.4,368.1L479.4,369.2L479.4,370.4L479.4,371.6L479.4,372.8L479.4,373.9L479.4,375.1L479.4,376.3L479.4,377.5L479.4,378.7L479.4,379.8L479.4,381.0L479.4,382.2L479.4,383.4L479.4,384.5L479.4,385.7L479.4,386.9L479.4,388.1L479.4,389.3L479.4,390.4L479.4,391.6L479.4,392.8L479.4,394.0L479.4,395.1L479.4,396.3L479.4,397.5L479.4,398.7L479.4,399.9L479.4,401.0L479.4,402.2L479.4,403.4L479.4,404.6L479.4,405.8L479.4,406.9L479.4,408.1L479.4,409.3L479.4,410.5L479.4,411.6L479.4,412.8L479.4,414.0L479.4,415.2L479.4,416.4L479.4,417.5L479.4,418.7L479.4,419.9L479.4,421.1L479.4,422.2L479.4,423.4L479.4,424.6L479.4,425.8L479.4,426.5L480.7,426.9L480.8,427.0L481.9,427.4L483.2,427.9L483.6,428.1L484.4,428.4L485.7,428.9L486.7,429.3L486.9,429.4L488.2,429.8L489.4,430.3L490.1,430.5L490.7,430.7L491.9,431.1L493.2,431.5L493.7,431.7L494.4,431.9L495.7,432.3L496.9,432.6L497.7,432.8L498.2,433.0L499.4,433.3L500.7,433.7L501.9,434.0L502.1,434.0Z" fill="#a3c6d9"/>
<path d="M568.3,428.1L569.6,428.1L570.8,428.1L572.1,428.1L573.4,428.1L573.4,428.1L574.6,428.1L575.9,428.1L577.1,428.1L578.4,428.0L579.6,428.0L580.9,428.0L582.1,427.9L583.4,427.9L584.6,427.8L585.9,427.7L587.1,427.7L588.4,427.6L589.6,427.5L590.9,427.4L592.1,427.3L593.4,427.2L594.6,427.1L595.9,427.0L596.0,427.0L597.2,426.8L598.4,426.7L599.7,426.6L600.9,426.4L602.2,426.2L603.4,426.1L604.7,425.9L605.5,425.8L605.9,425.7L607.2,425.5L608.4,425.3L609.7,425.1L610.9,424.9L612.2,424.6L612.4,424.6L613.4,424.4L614.7,424.1L615.9,423.9L617.2,423.6L617.9,423.4L618.4,423.3L619.7,423.0L621.0,422.7L622.2,422.3L622.5,422.2L623.5,422.0L624.7,421.7L626.0,421.4L627.1,421.1L627.2,421.0L628.5,420.8L629.7,420.5L631.0,420.2L632.2,419.9L632.5,419.9L633.5,419.7L634.7,419.4L636.0,419.1L637.2,418.8L637.7,418.7L638.5,418.5L639.7,418.2L641.0,417.9L642.2,417.6L642.6,417.5L643.5,417.3L644.8,417.0L646.0,416.7L647.3,416.4L647.4,416.4L648.5,416.1L649.8,415.8L651.0,415.5L652.1,415.2L652.3,415.1L653.5,414.8L654.8,414.4L656.0,414.1L656.4,414.0L657.3,413.8L658.5,413.4L659.8,413.1L660.8,412.8L661.0,412.8L662.3,412.4L663.5,412.1L664.8,411.8L665.4,411.6L666.0,411.4L667.3,411.1L667.3,410.5L667.3,409.3L667.3,408.1L667.3,406.9L667.3,405.8L667.3,404.6L667.3,403.4L667.3,402.2L667.3,401.0L667.3,399.9L667.3,398.7L667.3,397.5L667.3,396.3L667.3,395.1L667.3,394.0L667.3,392.8L667.3,391.6L667.3,390.4L667.3,389.3L667.3,388.1L667.3,386.9L667.3,385.7L667.3,384.5L667.3,383.4L667.3,382.2L667.3,381.0L667.3,379.8L667.3,378.7L667.3,377.5L667.3,376.3L667.3,375.1L667.3,373.9L667.3,372.8L667.3,371.6L667.3,370.4L667.3,369.2L667.3,368.1L667.3,366.9L667.3,365.7L667.3,364.5L667.3,363.3L667.3,362.2L667.3,361.0L667.3,359.8L667.3,358.6L667.3,357.5L667.3,356.3L667.3,355.1L667.3,353.9L667.3,352.7L667.3,351.6L667.3,350.4L667.3,349.2L667.3,348.0L667.3,346.9L667.3,345.7L667.3,344.5L667.3,343.3L667.3,342.1L667.3,341.0L667.3,339.8L667.3,338.6L667.3,337.4L667.3,336.2L667.3,335.1L667.3,333.9L667.3,332.7L667.3,331.5L667.3,330.4L667.3,329.2L667.3,328.0L667.3,326.8L667.3,325.6L667.3,324.5L667.3,323.3L667.3,322.1L667.3,320.9L667.3,319.8L667.3,318.6L667.3,317.4L667.3,316.2L667.3,315.0L667.3,313.9L667.3,312.7L667.3,311.5L667.3,310.3L667.3,309.2L667.3,308.0L667.3,306.8L667.3,305.6L667.3,304.4L667.3,303.3L667.3,302.1L667.3,300.9L667.3,299.7L667.3,298.6L667.3,297.4L667.3,296.2L667.3,295.0L667.3,293.8L667.3,292.7L667.3,291.5L667.3,290.3L667.3,289.1L667.3,287.9L667.3,286.8L667.3,285.6L667.3,284.4L667.3,283.2L667.3,282.4L666.0,282.4L664.8,282.5L663.5,282.6L662.3,282.6L661.0,282.7L659.8,282.8L658.5,282.8L657.3,282.9L656.0,283.0L654.8,283.1L653.5,283.1L652.3,283.2L651.9,283.2L651.0,283.3L649.8,283.4L648.5,283.5L647.3,283.5L646.0,283.6L644.8,283.7L643.5,283.8L642.2,283.9L641.0,284.0L639.7,284.1L638.5,284.2L637.2,284.3L636.0,284.4L635.9,284.4L634.7,284.5L633.5,284.6L632.2,284.7L631.0,284.8L629.7,285.0L628.5,285.1L627.2,285.2L626.0,285.3L624.7,285.4L623.5,285.6L623.1,285.6L622.2,285.7L621.0,285.8L619.7,285.9L618.4,286.1L617.2,286.2L615.9,286.4L614.7,286.5L613.4,286.6L612.4,286.8L612.2,286.8L610.9,286.9L609.7,287.1L608.4,287.3L607.2,287.4L605.9,287.6L604.7,287.7L603.4,287.9L603.2,288.0L602.2,288.1L600.9,288.3L599.7,288.5L598.4,288.7L597.2,288.9L595.9,289.0L595.4,289.1L594.6,289.3L593.4,289.5L592.1,289.7L590.9,289.9L589.6,290.1L588.4,290.3L588.4,290.3L587.1,290.5L585.9,290.7L584.6,291.0L583.4,291.2L582.1,291.4L581.6,291.5L580.9,291.6L579.6,291.8L578.4,292.1L577.1,292.3L575.9,292.5L575.0,292.7L574.6,292.7L573.4,292.9L572.1,293.2L570.8,293.4L569.6,293.6L568.3,293.8L568.2,293.8L567.1,294.0L565.8,294.3L564.6,294.5L563.3,294.7L562.1,294.9L561.4,295.0L560.8,295.1L559.6,295.3L558.3,295.6L557.1,295.8L555.8,296.0L554.7,296.2L554.6,296.2L553.3,296.4L552.1,296.7L550.8,296.9L549.5,297.1L548.3,297.3L548.0,297.4L547.0,297.6L545.8,297.8L544.5,298.0L543.3,298.3L542.0,298.5L541.8,298.6L540.8,298.8L539.5,299.0L538.3,299.2L537.0,299.5L535.8,299.7L535.8,299.7L534.5,300.0L533.3,300.2L532.0,300.5L530.8,300.7L529.7,300.9L529.5,300.9L528.3,301.2L527.0,301.4L525.7,301.7L524.5,301.9L523.4,302.1L523.2,302.1L522.0,302.3L520.7,302.6L519.5,302.8L518.2,303.0L517.0,303.2L516.8,303.3L515.7,303.4L514.5,303.7L513.2,303.9L512.0,304.1L510.7,304.3L509.9,304.4L509.5,304.5L508.2,304.7L507.0,304.9L505.7,305.1L504.5,305.3L503.2,305.4L501.9,305.6L501.7,305.6L500.7,305.7L499.4,305.9L498.2,306.0L496.9,306.2L495.7,306.3L494.4,306.4L493.2,306.5L491.9,306.6L490.7,306.7L489.4,306.8L488.7,306.8L488.2,306.8L486.9,306.9L485.7,306.9L484.4,307.0L483.2,307.0L481.9,307.1L480.7,307.1L479.4,307.1L479.4,308.0L479.4,309.2L479.4,310.3L479.4,311.5L479.4,312.7L479.4,313.9L479.4,315.0L479.4,316.2L479.4,317.4L479.4,318.6L479.4,319.8L479.4,320.9L479.4,322.1L479.4,323.3L479.4,324.5L479.4,325.6L479.4,326.8L479.4,328.0L479.4,329.2L479.4,330.4L479.4,331.5L479.4,332.7L479.4,333.9L479.4,335.1L479.4,336.2L479.4,337.4L479.4,338.6L479.4,339.8L479.4,341.0L479.4,342.1L479.4,343.3L479.4,344.5L479.4,345.7L479.4,346.9L479.4,348.0L479.4,349.2L479.4,350.4L479.4,351.6L479.4,352.7L479.4,353.9L479.4,355.1L479.4,356.3L479.4,357.5L479.4,358.6L479.4,359.8L479.4,361.0L479.4,362.2L479.4,363.3L479.4,364.5L479.4,365.7L479.4,366.9L479.4,368.1L479.4,369.2L479.4,370.4L479.4,371.6L479.4,372.8L479.4,373.9L479.4,375.1L479.4,376.3L479.4,377.5L479.4,378.7L479.4,379.8L479.4,381.0L479.4,382.2L479.4,383.4L479.4,384.5L479.4,385.7L479.4,386.9L479.4,388.1L479.4,389.3L479.4,390.4L479.4,391.6L479.4,392.8L479.4,394.0L479.4,395.1L479.4,396.3L479.4,397.5L479.4,398.7L479.4,399.9L479.4,401.0L479.4,402.2L479.4,403.4L479.4,404.6L479.4,405.8L479.4,406.9L479.4,408.1L479.4,409.3L479.4,410.5L479.4,411.6L479.4,412.8L479.4,414.0L479.4,414.0L480.7,414.4L481.9,414.7L483.2,415.1L483.3,415.2L484.4,415.5L485.7,415.9L486.9,416.2L487.4,416.4L488.2,416.6L489.4,416.9L490.7,417.3L491.6,417.5L491.9,417.6L493.2,418.0L494.4,418.3L495.7,418.6L496.0,418.7L496.9,418.9L498.2,419.3L499.4,419.6L500.6,419.9L500.7,419.9L501.9,420.2L503.2,420.5L504.5,420.8L505.5,421.1L505.7,421.1L507.0,421.4L508.2,421.7L509.5,421.9L510.7,422.2L511.1,422.2L512.0,422.4L513.2,422.7L514.5,422.9L515.7,423.1L517.0,423.3L517.4,423.4L518.2,423.6L519.5,423.8L520.7,424.0L522.0,424.2L523.2,424.4L524.5,424.6L524.7,424.6L525.7,424.8L527.0,424.9L528.3,425.1L529.5,425.3L530.8,425.4L532.0,425.6L533.3,425.8L533.3,425.8L534.5,425.9L535.8,426.1L537.0,426.2L538.3,426.4L539.5,426.5L540.8,426.6L542.0,426.8L543.3,426.9L544.2,427.0L544.5,427.0L545.8,427.1L547.0,427.2L548.3,427.3L549.5,427.4L550.8,427.5L552.1,427.6L553.3,427.6L554.6,427.7L555.8,427.8L557.1,427.8L558.3,427.9L559.6,427.9L560.8,428.0L562.1,428.0L563.3,428.1L564.6,428.1L565.8,428.1L567.1,428.1L567.7,428.1Z" fill="#90bad0"/>
<path d="M547.0,414.0L548.3,414.1L549.5,414.3L550.8,414.4L552.1,414.5L553.3,414.6L554.6,414.7L555.8,414.7L557.1,414.8L558.3,414.9L559.6,414.9L560.8,415.0L562.1,415.0L563.3,415.0L564.6,415.1L565.8,415.1L567.1,415.1L568.3,415.1L569.6,415.1L570.8,415.1L572.1,415.0L573.4,415.0L574.6,415.0L575.9,414.9L577.1,414.9L578.4,414.8L579.6,414.7L580.9,414.7L582.1,414.6L583.4,414.5L584.6,414.4L585.9,414.3L587.1,414.2L588.4,414.1L589.1,414.0L589.6,413.9L590.9,413.8L592.1,413.6L593.4,413.5L594.6,413.3L595.9,413.2L597.2,413.0L598.4,412.8L598.4,412.8L599.7,412.6L600.9,412.4L602.2,412.2L603.4,412.0L604.7,411.8L605.9,411.6L605.9,411.6L607.2,411.4L608.4,411.2L609.7,410.9L610.9,410.7L612.0,410.5L612.2,410.4L613.4,410.1L614.7,409.9L615.9,409.6L617.2,409.3L617.2,409.3L618.4,409.0L619.7,408.7L621.0,408.4L622.1,408.1L622.2,408.1L623.5,407.8L624.7,407.5L626.0,407.1L626.7,406.9L627.2,406.8L628.5,406.5L629.7,406.2L631.0,405.8L631.2,405.8L632.2,405.5L633.5,405.2L634.7,404.8L635.6,404.6L636.0,404.5L637.2,404.1L638.5,403.8L639.7,403.5L640.0,403.4L641.0,403.1L642.2,402.8L643.5,402.4L644.3,402.2L644.8,402.1L646.0,401.8L647.3,401.4L648.5,401.1L648.7,401.0L649.8,400.8L651.0,400.4L652.3,400.1L653.2,399.9L653.5,399.8L654.8,399.4L656.0,399.1L657.3,398.8L657.7,398.7L658.5,398.5L659.8,398.2L661.0,397.9L662.3,397.5L662.4,397.5L663.5,397.2L664.8,396.9L666.0,396.6L667.3,396.3L667.3,396.3L667.3,395.1L667.3,394.0L667.3,392.8L667.3,391.6L667.3,390.4L667.3,389.3L667.3,388.1L667.3,386.9L667.3,385.7L667.3,384.5L667.3,383.4L667.3,382.2L667.3,381.0L667.3,379.8L667.3,378.7L667.3,377.5L667.3,376.3L667.3,375.1L667.3,373.9L667.3,372.8L667.3,371.6L667.3,370.4L667.3,369.2L667.3,368.1L667.3,366.9L667.3,365.7L667.3,364.5L667.3,363.3L667.3,362.2L667.3,361.0L667.3,359.8L667.3,358.6L667.3,357.5L667.3,356.3L667.3,355.1L667.3,353.9L667.3,352.7L667.3,351.6L667.3,350.4L667.3,349.2L667.3,348.0L667.3,346.9L667.3,345.7L667.3,344.5L667.3,343.3L667.3,342.1L667.3,341.0L667.3,339.8L667.3,338.6L667.3,337.4L667.3,336.2L667.3,335.1L667.3,333.9L667.3,332.7L667.3,331.5L667.3,330.4L667.3,329.2L667.3,328.0L667.3,326.8L667.3,325.6L667.3,324.5L667.3,323.3L667.3,322.1L667.3,320.9L667.3,319.8L667.3,318.6L667.3,317.4L667.3,316.2L667.3,315.0L667.3,313.9L667.3,312.7L667.3,311.5L667.3,310.3L667.3,309.2L667.3,308.0L667.3,306.8L667.3,305.6L667.3,304.4L667.3,303.3L667.3,302.1L667.3,300.9L667.3,299.7L667.3,298.6L667.3,297.4L667.3,296.2L667.3,295.0L667.3,293.8L667.3,292.7L667.3,291.5L667.3,290.3L667.3,289.1L667.3,288.6L666.0,288.8L664.8,289.0L663.5,289.1L663.5,289.1L662.3,289.3L661.0,289.5L659.8,289.7L658.5,289.9L657.3,290.1L656.2,290.3L656.0,290.3L654.8,290.6L653.5,290.8L652.3,291.0L651.0,291.2L649.8,291.4L649.4,291.5L648.5,291.6L647.3,291.9L646.0,292.1L644.8,292.3L643.5,292.5L642.8,292.7L642.2,292.8L641.0,293.0L639.7,293.2L638.5,293.5L637.2,293.7L636.5,293.8L636.0,293.9L634.7,294.2L633.5,294.4L632.2,294.7L631.0,294.9L630.4,295.0L629.7,295.2L628.5,295.4L627.2,295.7L626.0,295.9L624.7,296.2L624.5,296.2L623.5,296.4L622.2,296.7L621.0,296.9L619.7,297.2L618.8,297.4L618.4,297.4L617.2,297.7L615.9,297.9L614.7,298.1L613.4,298.3L612.3,298.6L612.2,298.6L610.9,298.8L609.7,299.1L608.4,299.3L607.2,299.6L606.4,299.7L605.9,299.8L604.7,300.1L603.4,300.3L602.2,300.6L600.9,300.9L600.8,300.9L599.7,301.2L598.4,301.4L597.2,301.7L595.9,302.0L595.6,302.1L594.6,302.3L593.4,302.6L592.1,302.9L590.9,303.2L590.7,303.3L589.6,303.5L588.4,303.8L587.1,304.1L586.0,304.4L585.9,304.5L584.6,304.8L583.4,305.1L582.1,305.5L581.5,305.6L580.9,305.8L579.6,306.1L578.4,306.5L577.3,306.8L577.1,306.9L575.9,307.2L574.6,307.6L573.4,308.0L573.3,308.0L572.1,308.3L570.8,308.7L569.6,309.1L569.3,309.2L568.3,309.4L567.1,309.8L565.8,310.1L565.0,310.3L564.6,310.4L563.3,310.8L562.1,311.1L560.8,311.4L560.4,311.5L559.6,311.7L558.3,312.0L557.1,312.3L555.8,312.7L555.7,312.7L554.6,313.0L553.3,313.3L552.1,313.5L550.8,313.8L550.7,313.9L549.5,314.1L548.3,314.4L547.0,314.7L545.8,315.0L545.4,315.0L544.5,315.2L543.3,315.5L542.0,315.8L540.8,316.1L540.0,316.2L539.5,316.3L538.3,316.6L537.0,316.8L535.8,317.1L534.5,317.4L534.4,317.4L533.3,317.6L532.0,317.9L530.8,318.1L529.5,318.4L528.5,318.6L528.3,318.6L527.0,318.9L525.7,319.1L524.5,319.4L523.2,319.6L522.6,319.8L522.0,319.9L520.7,320.1L519.5,320.4L518.2,320.6L517.0,320.9L516.6,320.9L515.7,321.1L514.5,321.4L513.2,321.6L512.0,321.9L510.7,322.1L510.7,322.1L509.5,322.3L508.2,322.6L507.0,322.8L505.7,323.1L504.6,323.3L504.5,323.3L503.2,323.6L501.9,323.8L500.7,324.1L499.4,324.3L498.7,324.5L498.2,324.6L496.9,324.8L495.7,325.1L494.4,325.4L493.3,325.6L493.2,325.7L491.9,325.9L490.7,326.2L489.4,326.5L488.2,326.8L488.2,326.8L486.9,327.1L485.7,327.5L484.4,327.8L483.6,328.0L483.2,328.1L481.9,328.5L480.7,328.8L479.4,329.2L479.4,329.2L479.4,330.4L479.4,331.5L479.4,332.7L479.4,333.9L479.4,335.1L479.4,336.2L479.4,337.4L479.4,338.6L479.4,339.8L479.4,341.0L479.4,342.1L479.4,343.3L479.4,344.5L479.4,345.7L479.4,346.9L479.4,348.0L479.4,349.2L479.4,350.4L479.4,351.6L479.4,352.7L479.4,353.9L479.4,355.1L479.4,356.3L479.4,357.5L479.4,358.6L479.4,359.8L479.4,361.0L479.4,362.2L479.4,363.3L479.4,364.5L479.4,365.7L479.4,366.9L479.4,368.1L479.4,369.2L479.4,370.4L479.4,371.6L479.4,372.8L479.4,373.9L479.4,375.1L479.4,376.3L479.4,377.5L479.4,378.7L479.4,379.8L479.4,381.0L479.4,382.2L479.4,383.4L479.4,384.5L479.4,385.7L479.4,386.9L479.4,388.1L479.4,389.3L479.4,390.4L479.4,391.6L479.4,392.8L479.4,394.0L479.4,395.1L479.4,396.3L479.4,397.5L479.4,398.7L479.4,399.9L479.4,401.0L479.4,402.2L479.4,403.4L479.4,404.6L479.4,405.2L480.7,405.3L481.9,405.5L483.2,405.6L484.0,405.8L484.4,405.8L485.7,406.0L486.9,406.1L488.2,406.3L489.4,406.5L490.7,406.6L491.9,406.8L492.8,406.9L493.2,407.0L494.4,407.1L495.7,407.3L496.9,407.5L498.2,407.7L499.4,407.8L500.7,408.0L501.5,408.1L501.9,408.2L503.2,408.3L504.5,408.5L505.7,408.7L507.0,408.9L508.2,409.0L509.5,409.2L510.0,409.3L510.7,409.4L512.0,409.6L513.2,409.7L514.5,409.9L515.7,410.1L517.0,410.3L518.2,410.4L518.5,410.5L519.5,410.6L520.7,410.8L522.0,410.9L523.2,411.1L524.5,411.3L525.7,411.5L527.0,411.6L527.1,411.6L528.3,411.8L529.5,412.0L530.8,412.1L532.0,412.3L533.3,412.5L534.5,412.6L535.8,412.8L536.1,412.8L537.0,412.9L538.3,413.1L539.5,413.2L540.8,413.4L542.0,413.5L543.3,413.6L544.5,413.8L545.8,413.9L546.8,414.0Z" fill="#7eadc8"/>
<path d="M508.2,397.5L509.5,397.6L510.7,397.6L512.0,397.7L513.2,397.7L514.5,397.7L515.7,397.8L517.0,397.8L518.2,397.9L519.5,397.9L520.7,397.9L522.0,397.9L523.2,398.0L524.5,398.0L525.7,398.0L527.0,398.0L528.3,398.0L529.5,398.1L530.8,398.1L532.0,398.1L533.3,398.1L534.5,398.1L535.8,398.1L537.0,398.1L538.3,398.1L539.5,398.1L540.8,398.0L542.0,398.0L543.3,398.0L544.5,398.0L545.8,398.0L547.0,397.9L548.3,397.9L549.5,397.9L550.8,397.8L552.1,397.8L553.3,397.7L554.6,397.7L555.8,397.6L557.1,397.6L558.0,397.5L558.3,397.5L559.6,397.4L560.8,397.3L562.1,397.3L563.3,397.2L564.6,397.1L565.8,397.0L567.1,396.9L568.3,396.8L569.6,396.7L570.8,396.6L572.1,396.4L573.4,396.3L573.4,396.3L574.6,396.2L575.9,396.0L577.1,395.8L578.4,395.7L579.6,395.5L580.9,395.3L582.0,395.1L582.1,395.1L583.4,394.9L584.6,394.8L585.9,394.6L587.1,394.4L588.4,394.2L589.6,394.0L589.7,394.0L590.9,393.8L592.1,393.6L593.4,393.4L594.6,393.2L595.9,393.0L597.0,392.8L597.2,392.8L598.4,392.6L599.7,392.3L600.9,392.1L602.2,391.9L603.4,391.7L604.0,391.6L604.7,391.5L605.9,391.3L607.2,391.1L608.4,390.9L609.7,390.6L610.9,390.4L610.9,390.4L612.2,390.2L613.4,390.0L614.7,389.8L615.9,389.6L617.2,389.4L617.8,389.3L618.4,389.2L619.7,388.9L621.0,388.7L622.2,388.5L623.5,388.3L624.7,388.1L624.9,388.1L626.0,387.9L627.2,387.7L628.5,387.5L629.7,387.3L631.0,387.1L632.2,386.9L632.3,386.9L633.5,386.7L634.7,386.5L636.0,386.3L637.2,386.1L638.5,386.0L639.7,385.8L640.1,385.7L641.0,385.6L642.2,385.4L643.5,385.2L644.8,385.0L646.0,384.9L647.3,384.7L648.3,384.5L648.5,384.5L649.8,384.4L651.0,384.2L652.3,384.0L653.5,383.9L654.8,383.7L656.0,383.5L657.3,383.4L657.3,383.4L658.5,383.2L659.8,383.1L661.0,382.9L662.3,382.8L663.5,382.6L664.8,382.5L666.0,382.3L667.3,382.2L667.3,382.2L667.3,381.0L667.3,379.8L667.3,378.7L667.3,377.5L667.3,376.3L667.3,375.1L667.3,373.9L667.3,372.8L667.3,371.6L667.3,370.4L667.3,369.2L667.3,368.1L667.3,366.9L667.3,365.7L667.3,364.5L667.3,363.3L667.3,362.2L667.3,361.0L667.3,359.8L667.3,358.6L667.3,357.5L667.3,356.3L667.3,355.1L667.3,353.9L667.3,352.7L667.3,351.6L667.3,350.4L667.3,349.2L667.3,348.0L667.3,346.9L667.3,345.7L667.3,344.5L667.3,343.3L667.3,342.1L667.3,341.0L667.3,339.8L667.3,338.6L667.3,337.4L667.3,336.2L667.3,335.1L667.3,333.9L667.3,332.7L667.3,331.5L667.3,330.4L667.3,329.2L667.3,328.0L667.3,326.8L667.3,325.6L667.3,324.5L667.3,323.3L667.3,322.1L667.3,320.9L667.3,319.8L667.3,318.6L667.3,317.4L667.3,316.2L667.3,315.0L667.3,313.9L667.3,312.7L667.3,311.5L667.3,310.3L667.3,309.2L667.3,308.0L667.3,306.8L667.3,305.6L667.3,304.4L667.3,303.3L667.3,302.1L667.3,300.9L667.3,299.7L667.3,298.6L667.3,297.4L667.3,297.3L666.9,297.4L666.0,297.5L664.8,297.7L663.5,297.9L662.3,298.0L661.0,298.2L659.8,298.4L659.0,298.6L658.5,298.6L657.3,298.8L656.0,299.0L654.8,299.2L653.5,299.4L652.3,299.7L651.9,299.7L651.0,299.9L649.8,300.1L648.5,300.3L647.3,300.5L646.0,300.8L645.3,300.9L644.8,301.0L643.5,301.3L642.2,301.5L641.0,301.7L639.7,302.0L639.3,302.1L638.5,302.3L637.2,302.5L636.0,302.8L634.7,303.1L633.8,303.3L633.5,303.3L632.2,303.6L631.0,303.8L629.7,304.1L628.5,304.4L628.1,304.4L627.2,304.6L626.0,304.9L624.7,305.2L623.5,305.5L622.8,305.6L622.2,305.8L621.0,306.1L619.7,306.4L618.4,306.7L617.9,306.8L617.2,307.0L615.9,307.3L614.7,307.6L613.4,308.0L613.4,308.0L612.2,308.4L610.9,308.8L609.8,309.2L609.7,309.2L608.4,309.8L607.2,310.3L607.2,310.3L605.9,310.9L604.7,311.4L604.4,311.5L603.4,311.9L602.2,312.5L601.6,312.7L600.9,313.0L599.7,313.5L598.6,313.9L598.4,313.9L597.2,314.4L595.9,314.9L595.5,315.0L594.6,315.3L593.4,315.8L592.2,316.2L592.1,316.2L590.9,316.7L589.6,317.1L588.8,317.4L588.4,317.5L587.1,317.9L585.9,318.3L585.1,318.6L584.6,318.7L583.4,319.1L582.1,319.5L581.4,319.8L580.9,319.9L579.6,320.3L578.4,320.7L577.4,320.9L577.1,321.0L575.9,321.4L574.6,321.7L573.4,322.1L573.3,322.1L572.1,322.4L570.8,322.8L569.6,323.1L568.7,323.3L568.3,323.4L567.1,323.7L565.8,324.0L564.6,324.3L564.0,324.5L563.3,324.6L562.1,324.9L560.8,325.2L559.6,325.5L559.2,325.6L558.3,325.8L557.1,326.1L555.8,326.4L554.6,326.7L554.2,326.8L553.3,327.0L552.1,327.3L550.8,327.6L549.5,327.9L549.2,328.0L548.3,328.2L547.0,328.5L545.8,328.8L544.5,329.1L544.1,329.2L543.3,329.4L542.0,329.6L540.8,329.9L539.5,330.1L538.3,330.4L538.3,330.4L537.0,330.6L535.8,330.9L534.5,331.1L533.3,331.4L532.3,331.5L532.0,331.6L530.8,331.8L529.5,332.1L528.3,332.3L527.0,332.6L526.4,332.7L525.7,332.8L524.5,333.1L523.2,333.3L522.0,333.6L520.7,333.8L520.5,333.9L519.5,334.1L518.2,334.3L517.0,334.6L515.7,334.9L514.8,335.1L514.5,335.2L513.2,335.5L512.0,335.9L510.7,336.2L510.7,336.2L509.5,336.6L508.2,337.0L507.0,337.4L506.9,337.4L505.7,337.8L504.5,338.2L503.2,338.5L503.0,338.6L501.9,338.9L500.7,339.3L499.4,339.6L499.0,339.8L498.2,340.0L496.9,340.4L495.7,340.7L494.8,341.0L494.4,341.1L493.2,341.4L491.9,341.8L490.7,342.1L490.5,342.1L489.4,342.4L488.2,342.8L486.9,343.1L486.1,343.3L485.7,343.4L484.4,343.8L483.2,344.1L481.9,344.4L481.6,344.5L480.7,344.7L479.4,345.0L479.4,345.7L479.4,346.9L479.4,348.0L479.4,349.2L479.4,350.4L479.4,351.6L479.4,352.7L479.4,353.9L479.4,355.1L479.4,356.3L479.4,357.5L479.4,358.6L479.4,359.8L479.4,361.0L479.4,362.2L479.4,363.3L479.4,364.5L479.4,365.7L479.4,366.9L479.4,368.1L479.4,369.2L479.4,370.4L479.4,371.6L479.4,372.8L479.4,373.9L479.4,375.1L479.4,376.3L479.4,377.5L479.4,378.7L479.4,379.8L479.4,381.0L479.4,382.2L479.4,383.4L479.4,384.5L479.4,385.7L479.4,386.9L479.4,388.1L479.4,389.3L479.4,390.4L479.4,391.6L479.4,392.8L479.4,394.0L479.4,395.1L479.4,396.3L479.4,396.3L480.7,396.4L481.9,396.4L483.2,396.5L484.4,396.6L485.7,396.6L486.9,396.7L488.2,396.7L489.4,396.8L490.7,396.8L491.9,396.9L493.2,397.0L494.4,397.0L495.7,397.1L496.9,397.1L498.2,397.2L499.4,397.2L500.7,397.3L501.9,397.3L503.2,397.4L504.5,397.4L505.7,397.5L507.0,397.5L507.0,397.5Z" fill="#6ca0bf"/>
<path d="M480.7,381.7L481.9,381.7L483.2,381.6L484.4,381.6L485.7,381.5L486.9,381.5L488.2,381.4L489.4,381.3L490.7,381.2L491.9,381.1L493.2,381.0L493.5,381.0L494.4,380.9L495.7,380.8L496.9,380.7L498.2,380.6L499.4,380.4L500.7,380.3L501.9,380.2L503.2,380.0L504.5,379.9L504.6,379.8L505.7,379.7L507.0,379.5L508.2,379.4L509.5,379.2L510.7,379.1L512.0,378.9L513.2,378.8L514.0,378.7L514.5,378.6L515.7,378.4L517.0,378.3L518.2,378.2L519.5,378.0L520.7,377.9L522.0,377.7L523.2,377.6L524.5,377.5L524.5,377.5L525.7,377.3L527.0,377.2L528.3,377.1L529.5,377.0L530.8,376.9L532.0,376.7L533.3,376.6L534.5,376.5L535.8,376.4L536.6,376.3L537.0,376.3L538.3,376.2L539.5,376.0L540.8,375.9L542.0,375.8L543.3,375.7L544.5,375.6L545.8,375.5L547.0,375.4L548.3,375.3L549.5,375.2L550.6,375.1L550.8,375.1L552.1,375.0L553.3,374.9L554.6,374.8L555.8,374.8L557.1,374.7L558.3,374.6L559.6,374.5L560.8,374.4L562.1,374.4L563.3,374.3L564.6,374.2L565.8,374.1L567.1,374.1L568.3,374.0L568.9,373.9L569.6,373.9L570.8,373.8L572.1,373.7L573.4,373.7L574.6,373.6L575.9,373.5L577.1,373.4L578.4,373.3L579.6,373.2L580.9,373.1L582.1,373.0L583.4,372.9L584.6,372.8L584.7,372.8L585.9,372.6L587.1,372.5L588.4,372.3L589.6,372.2L590.9,372.0L592.1,371.9L593.4,371.7L594.0,371.6L594.6,371.5L595.9,371.3L597.2,371.1L598.4,370.9L599.7,370.7L600.9,370.5L601.5,370.4L602.2,370.3L603.4,370.1L604.7,369.9L605.9,369.7L607.2,369.5L608.4,369.3L608.7,369.2L609.7,369.1L610.9,368.9L612.2,368.8L613.4,368.6L614.7,368.5L615.9,368.4L617.2,368.2L618.4,368.1L618.9,368.1L619.7,368.0L621.0,367.9L622.2,367.8L623.5,367.7L624.7,367.6L626.0,367.5L627.2,367.5L628.5,367.4L629.7,367.3L631.0,367.3L632.2,367.2L633.5,367.2L634.7,367.1L636.0,367.1L637.2,367.0L638.5,367.0L639.7,366.9L641.0,366.9L641.4,366.9L642.2,366.8L643.5,366.8L644.8,366.8L646.0,366.7L647.3,366.7L648.5,366.7L649.8,366.6L651.0,366.6L652.3,366.6L653.5,366.5L654.8,366.5L656.0,366.5L657.3,366.5L658.5,366.4L659.8,366.4L661.0,366.4L662.3,366.3L663.5,366.3L664.8,366.3L666.0,366.3L667.3,366.2L667.3,365.7L667.3,364.5L667.3,363.3L667.3,362.2L667.3,361.0L667.3,359.8L667.3,358.6L667.3,357.5L667.3,356.3L667.3,355.1L667.3,353.9L667.3,352.7L667.3,351.6L667.3,350.4L667.3,349.2L667.3,348.0L667.3,346.9L667.3,345.7L667.3,344.5L667.3,343.3L667.3,342.1L667.3,341.0L667.3,339.8L667.3,338.6L667.3,337.4L667.3,336.2L667.3,335.1L667.3,333.9L667.3,332.7L667.3,331.5L667.3,330.4L667.3,329.2L667.3,328.0L667.3,326.8L667.3,325.6L667.3,324.5L667.3,323.3L667.3,322.1L667.3,320.9L667.3,319.8L667.3,318.6L667.3,317.4L667.3,316.2L667.3,315.0L667.3,313.9L667.3,312.7L667.3,311.5L667.3,310.3L667.3,309.2L667.3,308.0L667.3,306.8L667.3,305.6L667.3,304.4L667.3,303.3L666.0,303.5L664.8,303.7L663.5,303.9L662.3,304.2L661.0,304.4L660.7,304.4L659.8,304.6L658.5,304.8L657.3,305.0L656.0,305.3L654.8,305.5L654.2,305.6L653.5,305.7L652.3,306.0L651.0,306.2L649.8,306.5L648.5,306.8L648.3,306.8L647.3,307.0L646.0,307.3L644.8,307.6L643.5,307.9L643.0,308.0L642.2,308.2L641.0,308.6L639.7,309.0L639.2,309.2L638.5,309.6L637.4,310.3L637.2,310.4L636.0,311.2L635.4,311.5L634.7,311.9L633.5,312.7L633.4,312.7L632.2,313.4L631.3,313.9L631.0,314.1L629.7,314.8L629.2,315.0L628.5,315.4L627.2,316.1L627.0,316.2L626.0,316.8L624.8,317.4L624.7,317.4L623.5,318.1L622.5,318.6L622.2,318.7L621.0,319.4L620.1,319.8L619.7,320.0L618.4,320.6L617.7,320.9L617.2,321.2L615.9,321.8L615.2,322.1L614.7,322.3L613.4,322.9L612.5,323.3L612.2,323.4L610.9,323.9L609.7,324.4L609.6,324.5L608.4,324.9L607.2,325.4L606.5,325.6L605.9,325.9L604.7,326.3L603.4,326.8L603.2,326.8L602.2,327.2L600.9,327.6L599.8,328.0L599.7,328.0L598.4,328.4L597.2,328.8L596.0,329.2L595.9,329.2L594.6,329.7L593.4,330.1L592.6,330.4L592.1,330.5L590.9,330.9L589.6,331.3L588.6,331.5L588.4,331.6L587.1,331.9L585.9,332.3L584.6,332.6L584.1,332.7L583.4,332.9L582.1,333.2L580.9,333.5L579.6,333.7L578.9,333.9L578.4,334.0L577.1,334.3L575.9,334.5L574.6,334.8L573.4,335.0L573.1,335.1L572.1,335.4L570.8,335.8L569.6,336.2L569.4,336.2L568.3,336.6L567.1,337.1L566.2,337.4L565.8,337.6L564.6,338.0L563.3,338.4L562.8,338.6L562.1,338.8L560.8,339.2L559.6,339.6L559.2,339.8L558.3,340.0L557.1,340.4L555.8,340.9L555.5,341.0L554.6,341.3L553.3,341.7L552.1,342.1L551.9,342.1L550.8,342.5L549.5,342.9L548.4,343.3L548.3,343.4L547.0,343.8L545.8,344.2L545.0,344.5L544.5,344.7L543.3,345.1L542.0,345.5L541.5,345.7L540.8,345.9L539.5,346.3L538.3,346.6L537.6,346.9L537.0,347.0L535.8,347.4L534.5,347.7L533.3,348.0L533.3,348.1L532.0,348.4L530.8,348.7L529.5,349.0L528.5,349.2L528.3,349.3L527.0,349.5L525.7,349.8L524.5,350.0L523.2,350.3L522.7,350.4L522.0,350.5L520.7,350.7L519.5,350.9L518.2,351.1L517.0,351.3L515.7,351.5L515.3,351.6L514.5,351.7L513.2,351.8L512.0,352.0L510.7,352.2L509.5,352.3L508.2,352.5L507.0,352.6L505.7,352.7L505.6,352.7L504.5,352.9L503.2,353.0L501.9,353.1L500.7,353.2L499.4,353.3L498.2,353.4L496.9,353.5L495.7,353.6L494.4,353.7L493.2,353.8L491.9,353.9L491.0,353.9L490.7,353.9L489.4,354.0L488.2,354.1L486.9,354.2L485.7,354.3L484.4,354.4L483.2,354.4L481.9,354.5L480.7,354.6L479.4,354.7L479.4,355.1L479.4,356.3L479.4,357.5L479.4,358.6L479.4,359.8L479.4,361.0L479.4,362.2L479.4,363.3L479.4,364.5L479.4,365.7L479.4,366.9L479.4,368.1L479.4,369.2L479.4,370.4L479.4,371.6L479.4,372.8L479.4,373.9L479.4,375.1L479.4,376.3L479.4,377.5L479.4,378.7L479.4,379.8L479.4,381.0L479.4,381.7Z" fill="#5a94b7"/>
<path d="M480.7,373.3L481.9,373.2L483.2,373.1L484.4,372.9L485.5,372.8L485.7,372.7L486.9,372.5L488.2,372.2L489.4,371.9L490.5,371.6L490.7,371.5L491.9,371.0L493.2,370.5L493.4,370.4L494.4,369.9L495.5,369.2L495.4,368.1L494.4,367.1L494.2,366.9L493.2,366.2L492.4,365.7L491.9,365.5L490.7,365.0L489.4,364.5L489.4,364.5L488.2,364.2L486.9,363.9L485.7,363.7L484.4,363.5L483.2,363.3L483.2,363.3L481.9,363.2L480.7,363.2L479.4,363.2L479.4,363.3L479.4,364.5L479.4,365.7L479.4,366.9L479.4,368.1L479.4,369.2L479.4,370.4L479.4,371.6L479.4,372.8L479.4,373.3ZM569.6,361.1L570.8,361.3L572.1,361.4L573.4,361.5L574.6,361.5L575.9,361.6L577.1,361.6L578.4,361.5L579.6,361.5L580.9,361.4L582.1,361.3L583.4,361.1L584.3,361.0L584.6,360.9L585.9,360.7L587.1,360.5L588.4,360.2L589.6,359.9L589.8,359.8L590.9,359.5L592.1,359.1L593.3,358.6L593.4,358.6L594.6,358.1L595.9,357.5L595.9,357.5L597.2,356.8L598.0,356.3L598.4,356.0L599.7,355.1L599.7,355.1L600.9,354.2L601.3,353.9L600.9,353.4L600.4,352.7L599.7,352.2L598.9,351.6L598.4,351.3L597.2,350.7L596.6,350.4L595.9,350.1L594.6,349.7L593.4,349.3L592.9,349.2L592.1,349.0L590.9,348.8L589.6,348.6L588.4,348.4L587.1,348.2L585.9,348.1L584.6,348.0L584.6,348.0L583.4,348.0L582.1,347.9L580.9,347.9L579.6,348.0L578.4,348.0L578.0,348.0L577.1,348.1L575.9,348.2L574.6,348.3L573.4,348.5L572.1,348.6L570.8,348.8L569.6,349.1L568.9,349.2L568.3,349.3L567.1,349.6L565.8,350.0L564.6,350.4L564.5,350.4L563.3,350.8L562.1,351.3L561.3,351.6L560.8,351.8L559.6,352.4L558.9,352.7L558.3,353.1L557.1,353.9L557.0,353.9L557.1,354.6L557.1,355.1L557.8,356.3L558.3,356.8L559.0,357.5L559.6,357.8L560.8,358.6L560.9,358.6L562.1,359.2L563.3,359.7L563.8,359.8L564.6,360.1L565.8,360.4L567.1,360.7L568.3,360.9L568.7,361.0ZM653.5,346.9L654.8,347.0L656.0,347.2L657.3,347.3L658.5,347.4L659.8,347.5L661.0,347.6L662.3,347.7L663.5,347.8L664.8,347.9L666.0,347.9L667.3,348.0L667.3,346.9L667.3,345.7L667.3,344.5L667.3,343.3L667.3,342.1L667.3,341.0L667.3,339.8L667.3,338.6L667.3,337.4L667.3,336.2L667.3,335.1L667.3,333.9L667.3,332.7L667.3,331.5L667.3,330.4L667.3,329.2L667.3,328.0L667.3,326.8L667.3,325.6L667.3,324.5L667.3,323.3L667.3,322.1L667.3,320.9L667.3,319.8L667.3,318.6L667.3,317.4L667.3,316.2L667.3,315.0L667.3,313.9L667.3,312.7L667.3,311.5L667.3,310.3L667.3,309.2L667.3,308.3L666.0,308.6L664.8,309.0L664.2,309.2L663.5,309.7L662.8,310.3L662.3,310.7L661.2,311.5L661.0,311.6L659.8,312.5L659.5,312.7L658.5,313.3L657.7,313.9L657.3,314.1L656.0,314.9L655.8,315.0L654.8,315.6L653.8,316.2L653.5,316.4L652.3,317.1L651.8,317.4L651.0,317.9L649.8,318.6L649.8,318.6L648.5,319.3L647.8,319.8L647.3,320.1L646.0,320.8L645.8,320.9L644.8,321.5L643.8,322.1L643.5,322.3L642.2,323.1L641.8,323.3L641.0,323.8L639.9,324.5L639.7,324.6L638.5,325.3L638.0,325.6L637.2,326.1L636.1,326.8L636.0,326.9L634.7,327.7L634.2,328.0L633.5,328.5L632.3,329.2L632.2,329.4L631.7,330.4L631.0,331.5L631.0,331.6L630.4,332.7L629.7,333.8L629.7,333.9L628.9,335.1L629.3,336.2L629.7,336.7L630.3,337.4L631.0,338.1L631.5,338.6L632.2,339.3L632.8,339.8L633.5,340.3L634.5,341.0L634.7,341.1L636.0,341.9L636.4,342.1L637.2,342.6L638.5,343.2L638.8,343.3L639.7,343.7L641.0,344.2L641.8,344.5L642.2,344.6L643.5,345.0L644.8,345.3L646.0,345.6L646.2,345.7L647.3,345.9L648.5,346.1L649.8,346.3L651.0,346.5L652.3,346.7L653.4,346.9Z" fill="#4887ae"/>
<path d="M479.4,371.8C483.5,371.4 495.3,371.2 504.2,369.7C513.1,368.2 523.3,365.3 533.0,363.0C542.7,360.7 552.8,357.9 562.6,355.7C572.4,353.5 582.3,351.8 592.0,350.0C601.7,348.2 614.0,346.7 621.0,345.0C628.0,343.3 629.3,341.9 634.1,339.7C638.9,337.4 644.6,334.0 650.0,331.5C655.4,329.0 663.5,325.7 666.2,324.5" fill="none" stroke="#f4f8fa" stroke-width="1.8" stroke-dasharray="5.2,3.4"/>
<rect x="479.4" y="258.5" width="187.89999999999998" height="176.7" fill="none" stroke="#555" stroke-width="0.9"/>
<path d="M479.4,258.5V435.2H667.3" fill="none" stroke="#333" stroke-width="1"/>
<line x1="479.4" y1="435.2" x2="486.9" y2="435.2" stroke="#222" stroke-width="1.1"/>
<text x="475.4" y="439.3" font-size="10.4" fill="#222" stroke="#222" stroke-width="0.22" text-anchor="end" textLength="14.9" lengthAdjust="spacingAndGlyphs">0.0</text>
<line x1="479.4" y1="417.5" x2="483.59999999999997" y2="417.5" stroke="#222" stroke-width="1"/>
<line x1="479.4" y1="399.9" x2="486.9" y2="399.9" stroke="#222" stroke-width="1.1"/>
<text x="475.4" y="404.0" font-size="10.4" fill="#222" stroke="#222" stroke-width="0.22" text-anchor="end" textLength="14.9" lengthAdjust="spacingAndGlyphs">0.2</text>
<line x1="479.4" y1="382.2" x2="483.59999999999997" y2="382.2" stroke="#222" stroke-width="1"/>
<line x1="479.4" y1="364.5" x2="486.9" y2="364.5" stroke="#222" stroke-width="1.1"/>
<text x="475.4" y="368.6" font-size="10.4" fill="#222" stroke="#222" stroke-width="0.22" text-anchor="end" textLength="14.9" lengthAdjust="spacingAndGlyphs">0.4</text>
<line x1="479.4" y1="346.8" x2="483.59999999999997" y2="346.8" stroke="#222" stroke-width="1"/>
<line x1="479.4" y1="329.2" x2="486.9" y2="329.2" stroke="#222" stroke-width="1.1"/>
<text x="475.4" y="333.3" font-size="10.4" fill="#222" stroke="#222" stroke-width="0.22" text-anchor="end" textLength="14.9" lengthAdjust="spacingAndGlyphs">0.6</text>
<line x1="479.4" y1="311.5" x2="483.59999999999997" y2="311.5" stroke="#222" stroke-width="1"/>
<line x1="479.4" y1="293.8" x2="486.9" y2="293.8" stroke="#222" stroke-width="1.1"/>
<text x="475.4" y="297.9" font-size="10.4" fill="#222" stroke="#222" stroke-width="0.22" text-anchor="end" textLength="14.9" lengthAdjust="spacingAndGlyphs">0.8</text>
<line x1="479.4" y1="276.2" x2="483.59999999999997" y2="276.2" stroke="#222" stroke-width="1"/>
<line x1="479.4" y1="258.5" x2="486.9" y2="258.5" stroke="#222" stroke-width="1.1"/>
<text x="475.4" y="262.6" font-size="10.4" fill="#222" stroke="#222" stroke-width="0.22" text-anchor="end" textLength="14.9" lengthAdjust="spacingAndGlyphs">1.0</text>
<line x1="479.4" y1="435.2" x2="479.4" y2="428.2" stroke="#222" stroke-width="1.1"/>
<text x="479.4" y="449.0" font-size="10.4" fill="#222" stroke="#222" stroke-width="0.22" text-anchor="middle" textLength="15" lengthAdjust="spacingAndGlyphs">1.2</text>
<line x1="526.4" y1="435.2" x2="526.4" y2="431.2" stroke="#222" stroke-width="1"/>
<line x1="573.3" y1="435.2" x2="573.3" y2="428.2" stroke="#222" stroke-width="1.1"/>
<text x="573.3" y="449.0" font-size="10.4" fill="#222" stroke="#222" stroke-width="0.22" text-anchor="middle" textLength="15" lengthAdjust="spacingAndGlyphs">1.5</text>
<line x1="620.3" y1="435.2" x2="620.3" y2="431.2" stroke="#222" stroke-width="1"/>
<line x1="667.3" y1="435.2" x2="667.3" y2="428.2" stroke="#222" stroke-width="1.1"/>
<text x="667.3" y="449.0" font-size="10.4" fill="#222" stroke="#222" stroke-width="0.22" text-anchor="middle" textLength="15" lengthAdjust="spacingAndGlyphs">1.8</text>
<text x="572.9" y="460.8" font-size="11.2" fill="#222" stroke="#222" stroke-width="0.22" text-anchor="middle" textLength="58" lengthAdjust="spacingAndGlyphs">Ca/Si ratio</text>
<text transform="translate(453.8,347) rotate(-90)" font-size="10.2" fill="#222" stroke="#222" stroke-width="0.22" text-anchor="middle">RH</text>
<defs><linearGradient id="cbar" x1="0" y1="0" x2="0" y2="1"><stop offset="0" stop-color="#2f6b8f"/><stop offset="0.45" stop-color="#5ea9cf"/><stop offset="1" stop-color="#ddedf5"/></linearGradient></defs>
<rect x="669" y="258.5" width="16" height="177.5" fill="url(#cbar)"/>
<text x="673.8" y="268.5" font-size="11" fill="#111" stroke="#111" stroke-width="0.22">1</text>
<text x="673.6" y="434.8" font-size="11" fill="#111" stroke="#111" stroke-width="0.22">0</text>
<text x="572.5" y="275.4" font-size="10" fill="#1e3d78" stroke="#1e3d78" stroke-width="0.22" text-anchor="middle" textLength="101.6" lengthAdjust="spacingAndGlyphs">saturated pores with</text>
<text x="572.5" y="286.5" font-size="10" fill="#1e3d78" stroke="#1e3d78" stroke-width="0.22" text-anchor="middle" textLength="84" lengthAdjust="spacingAndGlyphs">condensed water</text>
<text x="577.6" y="395.1" font-size="10" fill="#eef4f8" stroke="#eef4f8" stroke-width="0.22" text-anchor="middle" textLength="114.7" lengthAdjust="spacingAndGlyphs">unsaturated pores with</text>
<text x="578.0" y="406.8" font-size="10" fill="#eef4f8" stroke="#eef4f8" stroke-width="0.22" text-anchor="middle" textLength="71.5" lengthAdjust="spacingAndGlyphs">thin water film</text>
<text x="501.5" y="253" font-size="10" fill="#3b8bb1" stroke="#3b8bb1" stroke-width="0.2" textLength="174.7" lengthAdjust="spacingAndGlyphs">normalized CO<tspan font-size="7" dy="2.2">2</tspan><tspan dy="-2.2"> adsorption amount</tspan></text>
<text x="451.5" y="245.3" font-size="11" fill="#111" font-weight="bold">f</text>
<path d="M38.8,541.0C39.4,540.3 40.7,538.2 42.6,536.9C44.5,535.6 47.3,533.9 50.0,533.0C52.7,532.1 54.8,531.5 59.0,531.6C63.2,531.7 69.8,532.7 75.0,533.5C80.2,534.3 84.1,536.2 90.0,536.5C95.9,536.8 105.6,535.2 110.6,535.4C115.6,535.6 116.6,537.0 120.0,537.5C123.4,538.0 127.7,538.9 131.2,538.5C134.7,538.1 137.6,536.0 141.0,535.0C144.4,534.0 147.8,532.8 151.8,532.8C155.8,532.8 160.2,534.4 165.0,535.0C169.8,535.6 175.6,536.6 180.6,536.5C185.6,536.4 190.9,535.0 195.0,534.5C199.1,534.0 200.8,533.8 205.3,533.4C209.8,533.0 217.0,532.6 221.8,532.4C226.6,532.2 232.1,532.1 234.1,532.0L234.1,653.1L38.8,653.1Z" fill="#6ca0c3"/>
<path d="M38.8,545.0C39.5,543.9 41.5,537.1 43.0,538.2C44.5,539.3 45.7,547.4 47.5,551.5C49.3,555.6 51.2,559.5 53.7,563.0C56.2,566.5 59.7,570.1 62.5,572.7C65.3,575.3 67.0,576.5 70.4,578.4C73.8,580.3 79.5,582.5 82.8,584.1C86.1,585.7 87.1,586.0 90.0,588.0C92.9,590.0 96.6,592.9 100.0,596.0C103.4,599.1 107.1,603.8 110.6,606.5C114.1,609.2 117.6,611.1 121.0,612.5C124.4,613.9 127.1,614.1 131.2,614.7C135.3,615.4 140.8,616.8 145.6,616.4C150.4,616.0 155.9,613.9 160.0,612.6C164.1,611.3 166.9,610.0 170.0,608.5C173.1,607.0 174.7,606.5 178.5,603.4C182.3,600.3 188.0,594.0 193.0,590.0C198.0,586.0 204.2,583.7 208.4,579.7C212.6,575.7 214.7,572.5 218.0,566.0C221.3,559.5 225.3,546.4 228.0,540.6C230.7,534.9 233.1,533.0 234.1,531.5L234.1,653.1L38.8,653.1Z" fill="#93bbd3"/>
<path d="M38.8,531.5C39.6,532.6 41.0,534.9 43.5,538.2C46.0,541.5 50.5,546.8 53.7,551.5C56.9,556.2 59.7,562.0 62.5,566.5C65.3,571.0 70.4,577.4 70.4,578.4C70.4,579.4 65.3,575.3 62.5,572.7C59.7,570.1 56.2,566.5 53.7,563.0C51.2,559.5 49.3,555.2 47.5,551.5C45.7,547.8 44.5,542.1 43.0,541.0C41.5,539.9 39.5,544.3 38.8,545.0Z" fill="#4f8cb4"/>
<path d="M38.8,653.1L38.8,550.0C39.0,549.0 39.5,545.4 40.0,544.0C40.5,542.6 40.7,541.2 41.5,541.5C42.3,541.8 43.4,542.9 45.0,546.0C46.6,549.1 49.0,554.2 51.2,560.0C53.4,565.8 55.7,575.0 58.2,581.0C60.7,587.0 63.4,591.3 66.0,596.0C68.7,600.7 71.3,604.5 74.1,609.4C76.9,614.3 79.8,619.4 83.0,625.3C86.2,631.2 91.8,641.5 93.5,644.7L98.8,653.1Z" fill="#c6dce7"/>
<path d="M176.5,653.1L182.6,641.5C183.6,637.7 186.4,625.7 188.8,618.8C191.2,611.9 193.9,605.8 197.0,600.3C200.1,594.8 204.0,591.7 207.4,585.9C210.8,580.1 214.6,572.2 217.7,565.3C220.8,558.4 223.8,549.9 225.9,544.7C228.0,539.5 228.6,536.1 230.0,534.0C231.4,531.9 233.4,532.3 234.1,532.0L234.1,653.1Z" fill="#c6dce7"/>
<path d="M38.8,541.0C39.4,540.3 40.7,538.2 42.6,536.9C44.5,535.6 47.3,533.9 50.0,533.0C52.7,532.1 54.8,531.5 59.0,531.6C63.2,531.7 69.8,532.7 75.0,533.5C80.2,534.3 84.1,536.2 90.0,536.5C95.9,536.8 105.6,535.2 110.6,535.4C115.6,535.6 116.6,537.0 120.0,537.5C123.4,538.0 127.7,538.9 131.2,538.5C134.7,538.1 137.6,536.0 141.0,535.0C144.4,534.0 147.8,532.8 151.8,532.8C155.8,532.8 160.2,534.4 165.0,535.0C169.8,535.6 175.6,536.6 180.6,536.5C185.6,536.4 190.9,535.0 195.0,534.5C199.1,534.0 200.8,533.8 205.3,533.4C209.8,533.0 217.0,532.6 221.8,532.4C226.6,532.2 232.1,532.1 234.1,532.0" fill="none" stroke="#3a7db0" stroke-width="1.3"/>
<path d="M38.8,531.5C39.6,532.6 41.0,534.9 43.5,538.2C46.0,541.5 50.5,546.8 53.7,551.5C56.9,556.2 59.7,562.0 62.5,566.5C65.3,571.0 67.0,575.5 70.4,578.4C73.8,581.3 79.5,582.5 82.8,584.1C86.1,585.7 87.1,586.0 90.0,588.0C92.9,590.0 96.6,592.9 100.0,596.0C103.4,599.1 107.1,603.8 110.6,606.5C114.1,609.2 117.6,611.1 121.0,612.5C124.4,613.9 127.1,614.1 131.2,614.7C135.3,615.4 140.8,616.8 145.6,616.4C150.4,616.0 155.9,613.9 160.0,612.6C164.1,611.3 166.9,610.0 170.0,608.5C173.1,607.0 174.7,606.5 178.5,603.4C182.3,600.3 188.0,594.0 193.0,590.0C198.0,586.0 204.2,583.7 208.4,579.7C212.6,575.7 214.7,572.5 218.0,566.0C221.3,559.5 225.3,546.4 228.0,540.6C230.7,534.9 233.1,533.0 234.1,531.5" fill="none" stroke="#e0563b" stroke-width="1.3"/>
<path d="M234.1,482.2V653.1" stroke="#888" stroke-width="1"/>
<path d="M38.8,482.2H234.1M38.8,482.2V653.1H234.1" fill="none" stroke="#333" stroke-width="1"/>
<line x1="35.3" y1="653.1" x2="38.8" y2="653.1" stroke="#333" stroke-width="1"/>
<line x1="35.3" y1="628.8" x2="38.8" y2="628.8" stroke="#333" stroke-width="1"/>
<line x1="35.3" y1="604.5" x2="38.8" y2="604.5" stroke="#333" stroke-width="1"/>
<line x1="35.3" y1="580.1" x2="38.8" y2="580.1" stroke="#333" stroke-width="1"/>
<line x1="35.3" y1="555.8" x2="38.8" y2="555.8" stroke="#333" stroke-width="1"/>
<line x1="35.3" y1="531.5" x2="38.8" y2="531.5" stroke="#333" stroke-width="1"/>
<line x1="36.8" y1="507.2" x2="38.8" y2="507.2" stroke="#333" stroke-width="0.9"/>
<line x1="136.4" y1="653.1" x2="136.4" y2="656.1" stroke="#333" stroke-width="1"/>
<line x1="87.6" y1="653.1" x2="87.6" y2="655.1" stroke="#333" stroke-width="0.9"/>
<line x1="185.3" y1="653.1" x2="185.3" y2="655.1" stroke="#333" stroke-width="0.9"/>
<line x1="38.8" y1="653.1" x2="38.8" y2="656.1" stroke="#333" stroke-width="1"/>
<line x1="234.1" y1="653.1" x2="234.1" y2="656.1" stroke="#333" stroke-width="1"/>
<text x="26.0" y="656.5" font-size="9.8" fill="#222" stroke="#222" stroke-width="0.22" text-anchor="middle">0</text>
<text x="32.8" y="632.2" font-size="9.8" fill="#222" stroke="#222" stroke-width="0.22" text-anchor="end" textLength="13.6" lengthAdjust="spacingAndGlyphs">0.2</text>
<text x="32.8" y="607.9" font-size="9.8" fill="#222" stroke="#222" stroke-width="0.22" text-anchor="end" textLength="13.6" lengthAdjust="spacingAndGlyphs">0.4</text>
<text x="32.8" y="583.5" font-size="9.8" fill="#222" stroke="#222" stroke-width="0.22" text-anchor="end" textLength="13.6" lengthAdjust="spacingAndGlyphs">0.6</text>
<text x="32.8" y="559.2" font-size="9.8" fill="#222" stroke="#222" stroke-width="0.22" text-anchor="end" textLength="13.6" lengthAdjust="spacingAndGlyphs">0.8</text>
<text x="32.8" y="534.9" font-size="9.8" fill="#222" stroke="#222" stroke-width="0.22" text-anchor="end" textLength="13.6" lengthAdjust="spacingAndGlyphs">1.0</text>
<text x="39.7" y="665.5" font-size="9.8" fill="#222" stroke="#222" stroke-width="0.22" text-anchor="middle">2</text>
<text x="39.7" y="678.6" font-size="9.8" fill="#222" stroke="#222" stroke-width="0.22" text-anchor="middle">0</text>
<text x="135.4" y="665.8" font-size="9.8" fill="#222" stroke="#222" stroke-width="0.22" text-anchor="middle" textLength="11" lengthAdjust="spacingAndGlyphs">40</text>
<text x="231.1" y="665.5" font-size="9.8" fill="#222" stroke="#222" stroke-width="0.22" text-anchor="middle" textLength="11" lengthAdjust="spacingAndGlyphs">60</text>
<text x="135.4" y="676.6" font-size="10.6" fill="#222" stroke="#222" stroke-width="0.22" text-anchor="middle" textLength="59.6" lengthAdjust="spacingAndGlyphs">Distance (Å)</text>
<line x1="47" y1="490.9" x2="65.4" y2="490.9" stroke="#6ab0db" stroke-width="2.1"/>
<line x1="47" y1="503.0" x2="65.4" y2="503.0" stroke="#e05a40" stroke-width="2.1"/>
<line x1="47" y1="515.7" x2="65.4" y2="515.7" stroke="#2d74a0" stroke-width="2.1"/>
<text x="71.5" y="494.4" font-size="10.2" fill="#222" stroke="#222" stroke-width="0.22" textLength="19.4" lengthAdjust="spacingAndGlyphs">0.30</text>
<text x="71.5" y="506.7" font-size="10.2" fill="#222" stroke="#222" stroke-width="0.22" textLength="19.4" lengthAdjust="spacingAndGlyphs">0.46</text>
<text x="71.5" y="519.8" font-size="10.2" fill="#222" stroke="#222" stroke-width="0.22" textLength="19.4" lengthAdjust="spacingAndGlyphs">1.00</text>
<text x="166.2" y="498.2" font-size="12" fill="#222" stroke="#222" stroke-width="0.22" textLength="58.1" lengthAdjust="spacingAndGlyphs">Ca/Si = 1.2</text>
<text x="60.4" y="559" font-size="10.8" fill="#3a5ea6" stroke="#3a5ea6" stroke-width="0.22" textLength="159.6" lengthAdjust="spacingAndGlyphs">capillary condensed liquid water</text>
<text x="101.4" y="588.6" font-size="10.8" fill="#d4573c" stroke="#d4573c" stroke-width="0.22" textLength="86" lengthAdjust="spacingAndGlyphs">metastable water</text>
<text x="111.5" y="631.3" font-size="10.8" fill="#f4f8fb" stroke="#f4f8fb" stroke-width="0.22" textLength="50.4" lengthAdjust="spacingAndGlyphs">water film</text>
<path d="M155.0,549.0L158.6,540.1" stroke="#2f5ea6" stroke-width="1.1"/><path d="M160.5,535.5L160.1,540.7L157.1,539.5Z" fill="#2f5ea6"/>
<path d="M140.0,595.5L151.0,606.9" stroke="#c8402a" stroke-width="1.1"/><path d="M154.5,610.5L149.9,608.0L152.2,605.8Z" fill="#c8402a"/>
<path d="M107.0,633.5L98.5,640.0" stroke="#ffffff" stroke-width="1.1"/><path d="M94.5,643.0L97.5,638.7L99.4,641.2Z" fill="#ffffff"/>
<path d="M164.5,633.5L173.1,640.4" stroke="#ffffff" stroke-width="1.1"/><path d="M177.0,643.5L172.1,641.6L174.1,639.1Z" fill="#ffffff"/>
<text x="1.0" y="476.8" font-size="11" fill="#111" font-weight="bold">g</text><path d="M43.5,538.2C45.2,540.4 50.5,546.8 53.7,551.5C56.9,556.2 59.7,562.0 62.5,566.5C65.3,571.0 69.1,576.4 70.4,578.4" fill="none" stroke="#6f8ba3" stroke-width="1.9"/><path d="M208.4,579.7C210.0,577.4 214.7,572.5 218.0,566.0C221.3,559.5 225.4,546.2 228.0,540.6C230.6,535.0 232.7,533.7 233.6,532.3" fill="none" stroke="#6f8ba3" stroke-width="1.9"/><text transform="translate(11.8,580.1) rotate(-90)" font-size="10.6" fill="#222" stroke="#222" stroke-width="0.22" text-anchor="middle" textLength="95.8" lengthAdjust="spacingAndGlyphs">Normalized Density</text>
<path d="M257.6,531.2C258.3,531.8 260.3,534.2 262.0,535.0C263.7,535.8 265.8,536.2 268.0,536.2C270.2,536.2 272.5,534.9 275.0,535.0C277.5,535.1 280.5,536.9 283.0,536.8C285.5,536.7 287.5,534.6 290.0,534.6C292.5,534.6 295.5,536.5 298.0,537.0C300.5,537.5 302.5,537.9 305.0,537.6C307.5,537.3 310.5,535.7 313.0,535.0C315.5,534.3 317.2,533.2 320.0,533.2C322.8,533.2 326.7,534.6 330.0,535.0C333.3,535.4 336.7,535.7 340.0,535.8C343.3,535.9 346.7,535.4 350.0,535.5C353.3,535.6 355.7,536.4 360.0,536.6C364.3,536.8 371.4,536.9 375.6,536.5C379.8,536.1 382.3,535.1 385.0,534.5C387.7,533.9 388.7,533.0 392.0,532.8C395.3,532.5 400.9,533.1 405.0,533.0C409.1,532.9 412.5,532.1 416.7,532.0C420.9,531.9 424.0,532.6 430.0,532.5C436.0,532.4 448.8,531.4 452.6,531.2L452.6,653.1L257.6,653.1Z" fill="#6ca0c3"/>
<path d="M257.6,531.2C258.5,533.9 261.2,543.1 262.9,547.6C264.6,552.1 266.0,555.1 268.0,558.0C270.0,560.9 272.7,563.2 274.9,564.8C277.1,566.4 278.7,566.9 281.0,567.5C283.3,568.1 285.6,567.9 288.6,568.2C291.6,568.5 295.5,567.8 298.9,569.2C302.3,570.6 305.8,573.8 309.2,576.8C312.6,579.8 316.1,584.0 319.5,587.0C322.9,590.0 326.4,593.1 329.8,595.0C333.2,596.9 336.7,598.1 340.1,598.4C343.5,598.7 347.0,596.6 350.4,596.7C353.8,596.8 357.3,599.4 360.7,599.1C364.1,598.8 367.6,597.0 371.0,595.0C374.4,593.0 377.8,589.8 381.2,587.0C384.6,584.2 387.5,581.6 391.5,578.5C395.5,575.4 400.6,570.2 405.2,568.2C409.8,566.2 415.7,566.2 419.0,566.5C422.3,566.8 422.6,570.0 425.0,570.0C427.4,570.0 430.1,569.5 433.2,566.3C436.3,563.1 441.0,554.9 443.5,550.9C446.0,546.9 446.6,545.3 448.1,542.0C449.6,538.7 451.9,533.0 452.6,531.2L452.6,653.1L257.6,653.1Z" fill="#93bbd3"/>
<path d="M257.6,653.1L257.6,532.0C257.7,532.0 257.2,528.1 258.1,532.3C259.0,536.5 261.5,550.5 263.2,557.0C264.9,563.5 266.0,567.6 268.4,571.4C270.8,575.2 274.4,576.3 277.6,579.7C280.9,583.1 284.8,586.5 287.9,592.0C291.0,597.5 293.4,605.4 296.2,612.6C298.9,619.8 302.2,629.2 304.4,635.2C306.6,641.2 308.6,646.4 309.5,648.6L316.7,653.1Z" fill="#c6dce7"/>
<path d="M392,653.1L402.3,639.3C403.7,634.8 408.2,620.5 410.6,612.6C413.0,604.7 414.8,598.5 416.7,592.0C418.6,585.5 417.8,576.6 421.9,573.5C426.0,570.4 437.0,577.1 441.4,573.5C445.8,569.9 446.3,558.9 448.0,552.0C449.7,545.1 450.9,535.7 451.7,532.3C452.5,528.9 452.5,531.6 452.6,531.5L452.6,653.1Z" fill="#c6dce7"/>
<path d="M257.6,531.2C258.3,531.8 260.3,534.2 262.0,535.0C263.7,535.8 265.8,536.2 268.0,536.2C270.2,536.2 272.5,534.9 275.0,535.0C277.5,535.1 280.5,536.9 283.0,536.8C285.5,536.7 287.5,534.6 290.0,534.6C292.5,534.6 295.5,536.5 298.0,537.0C300.5,537.5 302.5,537.9 305.0,537.6C307.5,537.3 310.5,535.7 313.0,535.0C315.5,534.3 317.2,533.2 320.0,533.2C322.8,533.2 326.7,534.6 330.0,535.0C333.3,535.4 336.7,535.7 340.0,535.8C343.3,535.9 346.7,535.4 350.0,535.5C353.3,535.6 355.7,536.4 360.0,536.6C364.3,536.8 371.4,536.9 375.6,536.5C379.8,536.1 382.3,535.1 385.0,534.5C387.7,533.9 388.7,533.0 392.0,532.8C395.3,532.5 400.9,533.1 405.0,533.0C409.1,532.9 412.5,532.1 416.7,532.0C420.9,531.9 424.0,532.6 430.0,532.5C436.0,532.4 448.8,531.4 452.6,531.2" fill="none" stroke="#3a7db0" stroke-width="1.3"/>
<path d="M257.6,531.2C258.5,533.9 261.2,543.1 262.9,547.6C264.6,552.1 266.0,555.1 268.0,558.0C270.0,560.9 272.7,563.2 274.9,564.8C277.1,566.4 278.7,566.9 281.0,567.5C283.3,568.1 285.6,567.9 288.6,568.2C291.6,568.5 295.5,567.8 298.9,569.2C302.3,570.6 305.8,573.8 309.2,576.8C312.6,579.8 316.1,584.0 319.5,587.0C322.9,590.0 326.4,593.1 329.8,595.0C333.2,596.9 336.7,598.1 340.1,598.4C343.5,598.7 347.0,596.6 350.4,596.7C353.8,596.8 357.3,599.4 360.7,599.1C364.1,598.8 367.6,597.0 371.0,595.0C374.4,593.0 377.8,589.8 381.2,587.0C384.6,584.2 387.5,581.6 391.5,578.5C395.5,575.4 400.6,570.2 405.2,568.2C409.8,566.2 415.7,566.2 419.0,566.5C422.3,566.8 422.6,570.0 425.0,570.0C427.4,570.0 430.1,569.5 433.2,566.3C436.3,563.1 441.0,554.9 443.5,550.9C446.0,546.9 446.6,545.3 448.1,542.0C449.6,538.7 451.9,533.0 452.6,531.2" fill="none" stroke="#e0563b" stroke-width="1.3"/>
<path d="M452.6,482.2V653.1" stroke="#888" stroke-width="1"/>
<path d="M257.6,482.2H452.6M257.6,482.2V653.1H452.6" fill="none" stroke="#333" stroke-width="1"/>
<line x1="254.10000000000002" y1="653.1" x2="257.6" y2="653.1" stroke="#333" stroke-width="1"/>
<line x1="254.10000000000002" y1="628.8" x2="257.6" y2="628.8" stroke="#333" stroke-width="1"/>
<line x1="254.10000000000002" y1="604.5" x2="257.6" y2="604.5" stroke="#333" stroke-width="1"/>
<line x1="254.10000000000002" y1="580.1" x2="257.6" y2="580.1" stroke="#333" stroke-width="1"/>
<line x1="254.10000000000002" y1="555.8" x2="257.6" y2="555.8" stroke="#333" stroke-width="1"/>
<line x1="254.10000000000002" y1="531.5" x2="257.6" y2="531.5" stroke="#333" stroke-width="1"/>
<line x1="255.60000000000002" y1="507.2" x2="257.6" y2="507.2" stroke="#333" stroke-width="0.9"/>
<line x1="355.1" y1="653.1" x2="355.1" y2="656.1" stroke="#333" stroke-width="1"/>
<line x1="306.4" y1="653.1" x2="306.4" y2="655.1" stroke="#333" stroke-width="0.9"/>
<line x1="403.9" y1="653.1" x2="403.9" y2="655.1" stroke="#333" stroke-width="0.9"/>
<line x1="257.6" y1="653.1" x2="257.6" y2="656.1" stroke="#333" stroke-width="1"/>
<line x1="452.6" y1="653.1" x2="452.6" y2="656.1" stroke="#333" stroke-width="1"/>
<text x="247.2" y="656.5" font-size="9.8" fill="#222" stroke="#222" stroke-width="0.22" text-anchor="middle">0</text>
<text x="253.9" y="632.2" font-size="9.8" fill="#222" stroke="#222" stroke-width="0.22" text-anchor="end" textLength="13.6" lengthAdjust="spacingAndGlyphs">0.2</text>
<text x="253.9" y="607.9" font-size="9.8" fill="#222" stroke="#222" stroke-width="0.22" text-anchor="end" textLength="13.6" lengthAdjust="spacingAndGlyphs">0.4</text>
<text x="253.9" y="583.5" font-size="9.8" fill="#222" stroke="#222" stroke-width="0.22" text-anchor="end" textLength="13.6" lengthAdjust="spacingAndGlyphs">0.6</text>
<text x="253.9" y="559.2" font-size="9.8" fill="#222" stroke="#222" stroke-width="0.22" text-anchor="end" textLength="13.6" lengthAdjust="spacingAndGlyphs">0.8</text>
<text x="253.9" y="534.9" font-size="9.8" fill="#222" stroke="#222" stroke-width="0.22" text-anchor="end" textLength="13.6" lengthAdjust="spacingAndGlyphs">1.0</text>
<text x="258.5" y="665.5" font-size="9.8" fill="#222" stroke="#222" stroke-width="0.22" text-anchor="middle">2</text>
<text x="258.5" y="678.6" font-size="9.8" fill="#222" stroke="#222" stroke-width="0.22" text-anchor="middle">0</text>
<text x="354.1" y="665.8" font-size="9.8" fill="#222" stroke="#222" stroke-width="0.22" text-anchor="middle" textLength="11" lengthAdjust="spacingAndGlyphs">40</text>
<text x="449.6" y="665.5" font-size="9.8" fill="#222" stroke="#222" stroke-width="0.22" text-anchor="middle" textLength="11" lengthAdjust="spacingAndGlyphs">60</text>
<text x="354.1" y="676.6" font-size="10.6" fill="#222" stroke="#222" stroke-width="0.22" text-anchor="middle" textLength="59.6" lengthAdjust="spacingAndGlyphs">Distance (Å)</text>
<line x1="262.5" y1="490.9" x2="281.2" y2="490.9" stroke="#6ab0db" stroke-width="2.1"/>
<line x1="262.5" y1="503.0" x2="281.2" y2="503.0" stroke="#e05a40" stroke-width="2.1"/>
<line x1="262.5" y1="515.7" x2="281.2" y2="515.7" stroke="#2d74a0" stroke-width="2.1"/>
<text x="290" y="494.4" font-size="10.2" fill="#222" stroke="#222" stroke-width="0.22" textLength="19.4" lengthAdjust="spacingAndGlyphs">0.37</text>
<text x="290" y="506.7" font-size="10.2" fill="#222" stroke="#222" stroke-width="0.22" textLength="19.4" lengthAdjust="spacingAndGlyphs">0.48</text>
<text x="290" y="519.8" font-size="10.2" fill="#222" stroke="#222" stroke-width="0.22" textLength="19.4" lengthAdjust="spacingAndGlyphs">1.00</text>
<text x="385.7" y="499.0" font-size="12" fill="#222" stroke="#222" stroke-width="0.22" textLength="59" lengthAdjust="spacingAndGlyphs">Ca/Si = 1.5</text>
<text x="268" y="554.5" font-size="10.8" fill="#3a5ea6" stroke="#3a5ea6" stroke-width="0.22" textLength="160.6" lengthAdjust="spacingAndGlyphs">capillary condensed liquid water</text>
<text x="309.2" y="570" font-size="10.8" fill="#d4573c" stroke="#d4573c" stroke-width="0.22" textLength="86.4" lengthAdjust="spacingAndGlyphs">metastable water</text>
<text x="329.8" y="627.6" font-size="10.8" fill="#f4f8fb" stroke="#f4f8fb" stroke-width="0.22" textLength="49.7" lengthAdjust="spacingAndGlyphs">water film</text>
<path d="M385.0,549.5L392.4,539.9" stroke="#2f5ea6" stroke-width="1.1"/><path d="M395.5,536.0L393.7,540.9L391.2,539.0Z" fill="#2f5ea6"/>
<path d="M360.0,578.0L368.9,586.5" stroke="#c8402a" stroke-width="1.1"/><path d="M372.5,590.0L367.8,587.7L370.0,585.4Z" fill="#c8402a"/>
<path d="M324.5,629.5L313.7,636.7" stroke="#ffffff" stroke-width="1.1"/><path d="M309.5,639.5L312.8,635.4L314.5,638.1Z" fill="#ffffff"/>
<path d="M385.0,628.5L396.9,636.7" stroke="#ffffff" stroke-width="1.1"/><path d="M401.0,639.5L396.0,638.0L397.8,635.3Z" fill="#ffffff"/>
<text x="241.2" y="474.7" font-size="11" fill="#111" font-weight="bold">h</text>
<path d="M477.6,531.0C479.2,531.0 484.3,530.6 487.3,531.3C490.3,532.0 493.4,534.5 495.6,535.4C497.8,536.3 498.6,536.9 500.7,536.9C502.8,536.9 505.4,536.0 508.0,535.5C510.6,535.0 513.2,534.3 516.2,534.0C519.2,533.7 522.6,533.7 526.0,533.6C529.4,533.5 532.7,533.6 536.7,533.4C540.7,533.2 545.8,532.7 550.0,532.5C554.2,532.3 557.8,532.3 562.0,532.2C566.2,532.1 570.3,531.8 575.0,531.8C579.7,531.8 585.0,532.4 590.0,532.5C595.0,532.6 598.9,532.2 605.0,532.2C611.1,532.2 619.7,532.8 626.4,532.8C633.1,532.8 639.4,532.0 645.0,532.0C650.6,532.0 655.3,532.5 660.0,532.5C664.7,532.5 670.8,532.3 673.0,532.3L673,653.1L477.6,653.1Z" fill="#6ca0c3"/>
<path d="M477.6,531.0C478.9,532.6 482.3,538.4 485.3,540.6C488.3,542.8 492.2,542.1 495.6,544.3C499.0,546.5 503.2,551.7 505.9,554.0C508.6,556.3 509.6,557.1 512.0,558.0C514.4,558.9 517.2,559.0 520.0,559.2C522.8,559.4 525.0,557.9 528.5,559.1C532.0,560.3 536.0,562.9 540.8,566.3C545.6,569.7 551.6,575.6 557.3,579.7C563.0,583.8 570.3,588.6 575.0,591.0C579.7,593.4 581.9,593.6 585.3,594.1C588.7,594.6 591.1,595.1 595.6,594.1C600.1,593.1 606.5,591.0 612.0,587.9C617.5,584.8 623.0,579.5 628.5,575.6C634.0,571.7 640.2,567.3 645.0,564.2C649.8,561.1 653.9,560.2 657.3,557.0C660.7,553.8 662.9,548.8 665.5,544.7C668.1,540.6 671.8,534.4 673.0,532.3L673,653.1L477.6,653.1Z" fill="#93bbd3"/>
<path d="M477.6,653.1L477.6,538.5C478.5,538.7 481.1,539.2 483.2,539.5C485.3,539.8 487.9,539.8 490.0,540.5C492.1,541.2 493.0,540.2 495.6,543.7C498.2,547.2 502.8,553.8 505.9,561.2C509.0,568.6 511.7,579.3 514.1,587.9C516.5,596.5 518.2,604.4 520.3,612.6C522.3,620.8 524.3,631.1 526.4,637.3C528.5,643.5 531.6,647.5 532.6,649.6L538.8,653.1Z" fill="#c6dce7"/>
<path d="M624.4,653.1L630.6,639.3C631.5,635.9 634.3,625.0 635.7,618.8C637.1,612.6 637.2,608.5 638.8,602.3C640.3,596.1 642.6,587.5 645.0,581.7C647.4,575.9 650.1,572.1 653.2,567.3C656.3,562.5 660.2,558.7 663.5,552.9C666.8,547.1 671.4,535.7 673.0,532.3L673,653.1Z" fill="#c6dce7"/>
<path d="M477.6,531.0C479.2,531.0 484.3,530.6 487.3,531.3C490.3,532.0 493.4,534.5 495.6,535.4C497.8,536.3 498.6,536.9 500.7,536.9C502.8,536.9 505.4,536.0 508.0,535.5C510.6,535.0 513.2,534.3 516.2,534.0C519.2,533.7 522.6,533.7 526.0,533.6C529.4,533.5 532.7,533.6 536.7,533.4C540.7,533.2 545.8,532.7 550.0,532.5C554.2,532.3 557.8,532.3 562.0,532.2C566.2,532.1 570.3,531.8 575.0,531.8C579.7,531.8 585.0,532.4 590.0,532.5C595.0,532.6 598.9,532.2 605.0,532.2C611.1,532.2 619.7,532.8 626.4,532.8C633.1,532.8 639.4,532.0 645.0,532.0C650.6,532.0 655.3,532.5 660.0,532.5C664.7,532.5 670.8,532.3 673.0,532.3" fill="none" stroke="#3a7db0" stroke-width="1.3"/>
<path d="M477.6,531.0C478.9,532.6 482.3,538.4 485.3,540.6C488.3,542.8 492.2,542.1 495.6,544.3C499.0,546.5 503.2,551.7 505.9,554.0C508.6,556.3 509.6,557.1 512.0,558.0C514.4,558.9 517.2,559.0 520.0,559.2C522.8,559.4 525.0,557.9 528.5,559.1C532.0,560.3 536.0,562.9 540.8,566.3C545.6,569.7 551.6,575.6 557.3,579.7C563.0,583.8 570.3,588.6 575.0,591.0C579.7,593.4 581.9,593.6 585.3,594.1C588.7,594.6 591.1,595.1 595.6,594.1C600.1,593.1 606.5,591.0 612.0,587.9C617.5,584.8 623.0,579.5 628.5,575.6C634.0,571.7 640.2,567.3 645.0,564.2C649.8,561.1 653.9,560.2 657.3,557.0C660.7,553.8 662.9,548.8 665.5,544.7C668.1,540.6 671.8,534.4 673.0,532.3" fill="none" stroke="#e0563b" stroke-width="1.3"/>
<path d="M673.0,482.2V653.1" stroke="#888" stroke-width="1"/>
<path d="M477.6,482.2H673.0M477.6,482.2V653.1H673.0" fill="none" stroke="#333" stroke-width="1"/>
<line x1="474.1" y1="653.1" x2="477.6" y2="653.1" stroke="#333" stroke-width="1"/>
<line x1="474.1" y1="628.8" x2="477.6" y2="628.8" stroke="#333" stroke-width="1"/>
<line x1="474.1" y1="604.5" x2="477.6" y2="604.5" stroke="#333" stroke-width="1"/>
<line x1="474.1" y1="580.1" x2="477.6" y2="580.1" stroke="#333" stroke-width="1"/>
<line x1="474.1" y1="555.8" x2="477.6" y2="555.8" stroke="#333" stroke-width="1"/>
<line x1="474.1" y1="531.5" x2="477.6" y2="531.5" stroke="#333" stroke-width="1"/>
<line x1="475.6" y1="507.2" x2="477.6" y2="507.2" stroke="#333" stroke-width="0.9"/>
<line x1="575.3" y1="653.1" x2="575.3" y2="656.1" stroke="#333" stroke-width="1"/>
<line x1="526.5" y1="653.1" x2="526.5" y2="655.1" stroke="#333" stroke-width="0.9"/>
<line x1="624.1" y1="653.1" x2="624.1" y2="655.1" stroke="#333" stroke-width="0.9"/>
<line x1="477.6" y1="653.1" x2="477.6" y2="656.1" stroke="#333" stroke-width="1"/>
<line x1="673.0" y1="653.1" x2="673.0" y2="656.1" stroke="#333" stroke-width="1"/>
<text x="466.3" y="656.5" font-size="9.8" fill="#222" stroke="#222" stroke-width="0.22" text-anchor="middle">0</text>
<text x="472.1" y="632.2" font-size="9.8" fill="#222" stroke="#222" stroke-width="0.22" text-anchor="end" textLength="13.6" lengthAdjust="spacingAndGlyphs">0.2</text>
<text x="472.1" y="607.9" font-size="9.8" fill="#222" stroke="#222" stroke-width="0.22" text-anchor="end" textLength="13.6" lengthAdjust="spacingAndGlyphs">0.4</text>
<text x="472.1" y="583.5" font-size="9.8" fill="#222" stroke="#222" stroke-width="0.22" text-anchor="end" textLength="13.6" lengthAdjust="spacingAndGlyphs">0.6</text>
<text x="472.1" y="559.2" font-size="9.8" fill="#222" stroke="#222" stroke-width="0.22" text-anchor="end" textLength="13.6" lengthAdjust="spacingAndGlyphs">0.8</text>
<text x="472.1" y="534.9" font-size="9.8" fill="#222" stroke="#222" stroke-width="0.22" text-anchor="end" textLength="13.6" lengthAdjust="spacingAndGlyphs">1.0</text>
<text x="478.5" y="665.5" font-size="9.8" fill="#222" stroke="#222" stroke-width="0.22" text-anchor="middle">2</text>
<text x="478.5" y="678.6" font-size="9.8" fill="#222" stroke="#222" stroke-width="0.22" text-anchor="middle">0</text>
<text x="574.3" y="665.8" font-size="9.8" fill="#222" stroke="#222" stroke-width="0.22" text-anchor="middle" textLength="11" lengthAdjust="spacingAndGlyphs">40</text>
<text x="670.0" y="665.5" font-size="9.8" fill="#222" stroke="#222" stroke-width="0.22" text-anchor="middle" textLength="11" lengthAdjust="spacingAndGlyphs">60</text>
<text x="574.3" y="676.6" font-size="10.6" fill="#222" stroke="#222" stroke-width="0.22" text-anchor="middle" textLength="59.6" lengthAdjust="spacingAndGlyphs">Distance (Å)</text>
<line x1="483.1" y1="490.9" x2="501.8" y2="490.9" stroke="#6ab0db" stroke-width="2.1"/>
<line x1="483.1" y1="503.0" x2="501.8" y2="503.0" stroke="#e05a40" stroke-width="2.1"/>
<line x1="483.1" y1="515.7" x2="501.8" y2="515.7" stroke="#2d74a0" stroke-width="2.1"/>
<text x="510.6" y="494.4" font-size="10.2" fill="#222" stroke="#222" stroke-width="0.22" textLength="19.4" lengthAdjust="spacingAndGlyphs">0.40</text>
<text x="510.6" y="506.7" font-size="10.2" fill="#222" stroke="#222" stroke-width="0.22" textLength="19.4" lengthAdjust="spacingAndGlyphs">0.54</text>
<text x="510.6" y="519.8" font-size="10.2" fill="#222" stroke="#222" stroke-width="0.22" textLength="19.4" lengthAdjust="spacingAndGlyphs">1.00</text>
<text x="603.7" y="498.0" font-size="12" fill="#222" stroke="#222" stroke-width="0.22" textLength="59" lengthAdjust="spacingAndGlyphs">Ca/Si = 1.8</text>
<text x="503.2" y="551.7" font-size="10.8" fill="#3a5ea6" stroke="#3a5ea6" stroke-width="0.22" textLength="159.5" lengthAdjust="spacingAndGlyphs">capillary condensed liquid water</text>
<text x="550.5" y="570" font-size="10.8" fill="#d4573c" stroke="#d4573c" stroke-width="0.22" textLength="86.5" lengthAdjust="spacingAndGlyphs">metastable water</text>
<text x="555.7" y="626.5" font-size="10.8" fill="#f4f8fb" stroke="#f4f8fb" stroke-width="0.22" textLength="50.3" lengthAdjust="spacingAndGlyphs">water film</text>
<path d="M600.0,551.0L608.0,540.5" stroke="#2f5ea6" stroke-width="1.1"/><path d="M611.0,536.5L609.3,541.5L606.7,539.5Z" fill="#2f5ea6"/>
<path d="M592.0,579.0L602.1,587.3" stroke="#c8402a" stroke-width="1.1"/><path d="M606.0,590.5L601.1,588.6L603.2,586.1Z" fill="#c8402a"/>
<path d="M546.0,630.5L535.5,638.1" stroke="#ffffff" stroke-width="1.1"/><path d="M531.5,641.0L534.6,636.8L536.5,639.4Z" fill="#ffffff"/>
<path d="M613.5,630.5L625.3,637.9" stroke="#ffffff" stroke-width="1.1"/><path d="M629.5,640.5L624.4,639.2L626.1,636.5Z" fill="#ffffff"/>
<text x="464.2" y="474.7" font-size="11" fill="#111" font-weight="bold">i</text>
</svg>
</body></html>
